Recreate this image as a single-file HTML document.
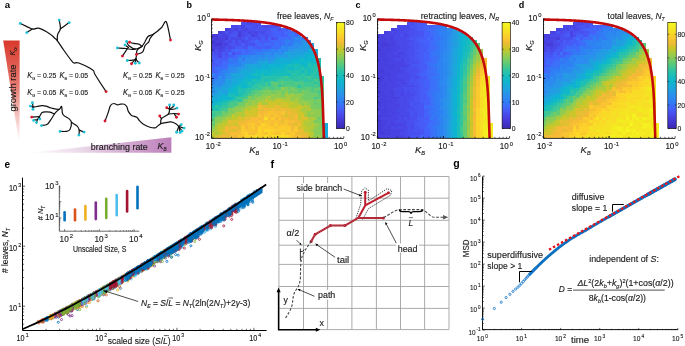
<!DOCTYPE html>
<html><head><meta charset="utf-8"><style>
html,body{margin:0;padding:0;background:#fff;}
svg{display:block;font-family:"Liberation Sans", sans-serif;will-change:transform;}
text{stroke:#1a1a1a;stroke-width:0.14px;}
text[font-weight=bold]{stroke:none;}
</style></head><body>
<svg width="685" height="346" viewBox="0 0 685 346">
<rect width="685" height="346" fill="#fff"/>
<path fill="#463bd9" shape-rendering="crispEdges" d="M211.60 33.88h3.60v3.27h-3.60zM211.60 39.83h3.60v3.27h-3.60zM214.91 33.88h3.60v3.27h-3.60zM214.91 36.85h3.60v3.27h-3.60zM224.82 27.93h3.60v3.27h-3.60zM224.82 36.85h3.60v3.27h-3.60zM238.04 33.88h3.60v3.27h-3.60z"/>
<path fill="#483fdf" shape-rendering="crispEdges" d="M211.60 36.85h3.60v3.27h-3.60zM211.60 42.80h3.60v3.27h-3.60zM211.60 45.78h3.60v3.27h-3.60zM211.60 48.75h3.60v3.27h-3.60zM214.91 39.83h3.60v3.27h-3.60zM218.21 30.90h3.60v3.27h-3.60zM218.21 36.85h3.60v3.27h-3.60zM218.21 39.83h3.60v3.27h-3.60zM218.21 45.78h3.60v3.27h-3.60zM224.82 42.80h3.60v3.27h-3.60zM234.73 27.93h3.60v3.27h-3.60zM238.04 30.90h3.60v3.27h-3.60z"/>
<path fill="#484fee" shape-rendering="crispEdges" d="M211.60 51.73h3.60v3.27h-3.60zM214.91 48.75h3.60v3.27h-3.60zM214.91 51.73h3.60v3.27h-3.60zM224.82 39.83h3.60v3.27h-3.60zM224.82 45.78h3.60v3.27h-3.60zM224.82 51.73h3.60v3.27h-3.60zM228.12 33.88h3.60v3.27h-3.60zM228.12 36.85h3.60v3.27h-3.60zM228.12 42.80h3.60v3.27h-3.60zM228.12 48.75h3.60v3.27h-3.60zM231.43 30.90h3.60v3.27h-3.60zM231.43 45.78h3.60v3.27h-3.60zM231.43 51.73h3.60v3.27h-3.60zM234.73 42.80h3.60v3.27h-3.60zM238.04 24.95h3.60v3.27h-3.60zM238.04 27.93h3.60v3.27h-3.60zM238.04 42.80h3.60v3.27h-3.60zM241.34 21.98h3.60v3.27h-3.60zM241.34 36.85h3.60v3.27h-3.60zM244.65 21.98h3.60v3.27h-3.60zM244.65 30.90h3.60v3.27h-3.60zM244.65 33.88h3.60v3.27h-3.60zM244.65 39.83h3.60v3.27h-3.60zM244.65 42.80h3.60v3.27h-3.60zM247.95 27.93h3.60v3.27h-3.60zM247.95 36.85h3.60v3.27h-3.60zM251.26 21.98h3.60v3.27h-3.60zM251.26 24.95h3.60v3.27h-3.60zM251.26 27.93h3.60v3.27h-3.60zM251.26 42.80h3.60v3.27h-3.60zM254.56 21.98h3.60v3.27h-3.60zM257.87 21.98h3.60v3.27h-3.60zM257.87 27.93h3.60v3.27h-3.60zM257.87 30.90h3.60v3.27h-3.60zM257.87 36.85h3.60v3.27h-3.60zM261.18 24.95h3.60v3.27h-3.60zM264.48 27.93h3.60v3.27h-3.60zM264.48 33.88h3.60v3.27h-3.60zM264.48 36.85h3.60v3.27h-3.60zM267.78 24.95h3.60v3.27h-3.60zM271.09 24.95h3.60v3.27h-3.60zM271.09 36.85h3.60v3.27h-3.60zM274.39 24.95h3.60v3.27h-3.60zM277.70 27.93h3.60v3.27h-3.60z"/>
<path fill="#4855f3" shape-rendering="crispEdges" d="M211.60 54.70h3.60v3.27h-3.60zM211.60 60.65h3.60v3.27h-3.60zM214.91 54.70h3.60v3.27h-3.60zM224.82 30.90h3.60v3.27h-3.60zM224.82 48.75h3.60v3.27h-3.60zM224.82 54.70h3.60v3.27h-3.60zM231.43 33.88h3.60v3.27h-3.60zM231.43 39.83h3.60v3.27h-3.60zM231.43 42.80h3.60v3.27h-3.60zM234.73 30.90h3.60v3.27h-3.60zM234.73 33.88h3.60v3.27h-3.60zM238.04 39.83h3.60v3.27h-3.60zM241.34 45.78h3.60v3.27h-3.60zM244.65 24.95h3.60v3.27h-3.60zM244.65 45.78h3.60v3.27h-3.60zM247.95 24.95h3.60v3.27h-3.60zM247.95 33.88h3.60v3.27h-3.60zM247.95 39.83h3.60v3.27h-3.60zM247.95 42.80h3.60v3.27h-3.60zM251.26 36.85h3.60v3.27h-3.60zM254.56 27.93h3.60v3.27h-3.60zM254.56 36.85h3.60v3.27h-3.60zM257.87 24.95h3.60v3.27h-3.60zM257.87 33.88h3.60v3.27h-3.60zM261.18 27.93h3.60v3.27h-3.60zM261.18 33.88h3.60v3.27h-3.60zM264.48 30.90h3.60v3.27h-3.60zM267.78 27.93h3.60v3.27h-3.60zM267.78 30.90h3.60v3.27h-3.60zM267.78 33.88h3.60v3.27h-3.60zM274.39 36.85h3.60v3.27h-3.60z"/>
<path fill="#475bf8" shape-rendering="crispEdges" d="M211.60 57.68h3.60v3.27h-3.60zM211.60 63.62h3.60v3.27h-3.60zM214.91 57.68h3.60v3.27h-3.60zM214.91 63.62h3.60v3.27h-3.60zM218.21 57.68h3.60v3.27h-3.60zM218.21 60.65h3.60v3.27h-3.60zM221.51 51.73h3.60v3.27h-3.60zM221.51 54.70h3.60v3.27h-3.60zM221.51 57.68h3.60v3.27h-3.60zM224.82 57.68h3.60v3.27h-3.60zM228.12 54.70h3.60v3.27h-3.60zM234.73 45.78h3.60v3.27h-3.60zM234.73 51.73h3.60v3.27h-3.60zM238.04 45.78h3.60v3.27h-3.60zM238.04 51.73h3.60v3.27h-3.60zM241.34 42.80h3.60v3.27h-3.60zM244.65 36.85h3.60v3.27h-3.60zM251.26 39.83h3.60v3.27h-3.60zM254.56 42.80h3.60v3.27h-3.60zM254.56 45.78h3.60v3.27h-3.60zM257.87 39.83h3.60v3.27h-3.60zM257.87 45.78h3.60v3.27h-3.60zM261.18 36.85h3.60v3.27h-3.60zM261.18 39.83h3.60v3.27h-3.60zM264.48 39.83h3.60v3.27h-3.60zM264.48 45.78h3.60v3.27h-3.60zM267.78 45.78h3.60v3.27h-3.60zM271.09 30.90h3.60v3.27h-3.60zM271.09 33.88h3.60v3.27h-3.60zM281.00 30.90h3.60v3.27h-3.60zM281.00 33.88h3.60v3.27h-3.60zM284.31 27.93h3.60v3.27h-3.60z"/>
<path fill="#4462fb" shape-rendering="crispEdges" d="M211.60 66.60h3.60v3.27h-3.60zM211.60 69.58h3.60v3.27h-3.60zM214.91 60.65h3.60v3.27h-3.60zM214.91 69.58h3.60v3.27h-3.60zM218.21 63.62h3.60v3.27h-3.60zM231.43 48.75h3.60v3.27h-3.60zM231.43 54.70h3.60v3.27h-3.60zM238.04 48.75h3.60v3.27h-3.60zM244.65 48.75h3.60v3.27h-3.60zM251.26 45.78h3.60v3.27h-3.60zM261.18 42.80h3.60v3.27h-3.60zM261.18 45.78h3.60v3.27h-3.60zM267.78 36.85h3.60v3.27h-3.60zM267.78 39.83h3.60v3.27h-3.60zM271.09 27.93h3.60v3.27h-3.60zM271.09 42.80h3.60v3.27h-3.60zM274.39 27.93h3.60v3.27h-3.60zM274.39 30.90h3.60v3.27h-3.60zM274.39 33.88h3.60v3.27h-3.60zM277.70 24.95h3.60v3.27h-3.60zM277.70 30.90h3.60v3.27h-3.60zM277.70 33.88h3.60v3.27h-3.60zM281.00 27.93h3.60v3.27h-3.60zM284.31 33.88h3.60v3.27h-3.60zM294.23 30.90h3.60v3.27h-3.60z"/>
<path fill="#307ff4" shape-rendering="crispEdges" d="M211.60 72.55h3.60v3.27h-3.60zM218.21 72.55h3.60v3.27h-3.60zM221.51 72.55h3.60v3.27h-3.60zM221.51 75.53h3.60v3.27h-3.60zM228.12 63.62h3.60v3.27h-3.60zM234.73 63.62h3.60v3.27h-3.60zM254.56 51.73h3.60v3.27h-3.60zM257.87 51.73h3.60v3.27h-3.60zM261.18 51.73h3.60v3.27h-3.60zM267.78 48.75h3.60v3.27h-3.60zM274.39 48.75h3.60v3.27h-3.60zM284.31 39.83h3.60v3.27h-3.60zM284.31 42.80h3.60v3.27h-3.60zM287.62 39.83h3.60v3.27h-3.60zM290.92 42.80h3.60v3.27h-3.60zM297.53 33.88h3.60v3.27h-3.60zM300.83 36.85h3.60v3.27h-3.60z"/>
<path fill="#3971f8" shape-rendering="crispEdges" d="M211.60 75.53h3.60v3.27h-3.60zM214.91 66.60h3.60v3.27h-3.60zM214.91 72.55h3.60v3.27h-3.60zM214.91 75.53h3.60v3.27h-3.60zM218.21 66.60h3.60v3.27h-3.60zM218.21 69.58h3.60v3.27h-3.60zM221.51 66.60h3.60v3.27h-3.60zM224.82 66.60h3.60v3.27h-3.60zM228.12 60.65h3.60v3.27h-3.60zM231.43 57.68h3.60v3.27h-3.60zM234.73 57.68h3.60v3.27h-3.60zM247.95 51.73h3.60v3.27h-3.60zM251.26 48.75h3.60v3.27h-3.60zM251.26 51.73h3.60v3.27h-3.60zM254.56 48.75h3.60v3.27h-3.60zM271.09 45.78h3.60v3.27h-3.60zM274.39 42.80h3.60v3.27h-3.60zM277.70 45.78h3.60v3.27h-3.60zM281.00 39.83h3.60v3.27h-3.60zM281.00 42.80h3.60v3.27h-3.60zM284.31 36.85h3.60v3.27h-3.60zM287.62 33.88h3.60v3.27h-3.60zM287.62 42.80h3.60v3.27h-3.60zM290.92 30.90h3.60v3.27h-3.60z"/>
<path fill="#3379f6" shape-rendering="crispEdges" d="M211.60 78.50h3.60v3.27h-3.60zM228.12 57.68h3.60v3.27h-3.60zM231.43 60.65h3.60v3.27h-3.60zM234.73 60.65h3.60v3.27h-3.60zM238.04 54.70h3.60v3.27h-3.60zM241.34 57.68h3.60v3.27h-3.60zM261.18 48.75h3.60v3.27h-3.60zM264.48 48.75h3.60v3.27h-3.60zM290.92 33.88h3.60v3.27h-3.60zM290.92 36.85h3.60v3.27h-3.60zM290.92 39.83h3.60v3.27h-3.60z"/>
<path fill="#2e83f2" shape-rendering="crispEdges" d="M211.60 81.47h3.60v3.27h-3.60zM221.51 69.58h3.60v3.27h-3.60zM224.82 69.58h3.60v3.27h-3.60zM231.43 63.62h3.60v3.27h-3.60zM238.04 60.65h3.60v3.27h-3.60zM238.04 63.62h3.60v3.27h-3.60zM241.34 54.70h3.60v3.27h-3.60zM244.65 54.70h3.60v3.27h-3.60zM247.95 54.70h3.60v3.27h-3.60zM271.09 48.75h3.60v3.27h-3.60zM271.09 51.73h3.60v3.27h-3.60zM281.00 48.75h3.60v3.27h-3.60zM284.31 45.78h3.60v3.27h-3.60zM294.23 39.83h3.60v3.27h-3.60zM297.53 39.83h3.60v3.27h-3.60z"/>
<path fill="#2a91eb" shape-rendering="crispEdges" d="M211.60 84.45h3.60v3.27h-3.60zM211.60 87.42h3.60v3.27h-3.60zM211.60 90.40h3.60v3.27h-3.60zM214.91 81.47h3.60v3.27h-3.60zM218.21 84.45h3.60v3.27h-3.60zM221.51 81.47h3.60v3.27h-3.60zM224.82 72.55h3.60v3.27h-3.60zM224.82 75.53h3.60v3.27h-3.60zM228.12 72.55h3.60v3.27h-3.60zM234.73 66.60h3.60v3.27h-3.60zM234.73 69.58h3.60v3.27h-3.60zM241.34 63.62h3.60v3.27h-3.60zM244.65 60.65h3.60v3.27h-3.60zM247.95 60.65h3.60v3.27h-3.60zM251.26 60.65h3.60v3.27h-3.60zM261.18 57.68h3.60v3.27h-3.60zM264.48 54.70h3.60v3.27h-3.60zM267.78 57.68h3.60v3.27h-3.60zM274.39 51.73h3.60v3.27h-3.60zM294.23 42.80h3.60v3.27h-3.60zM300.83 39.83h3.60v3.27h-3.60zM300.83 42.80h3.60v3.27h-3.60zM304.14 39.83h3.60v3.27h-3.60z"/>
<path fill="#249ce3" shape-rendering="crispEdges" d="M211.60 93.38h3.60v3.27h-3.60zM218.21 87.42h3.60v3.27h-3.60zM221.51 84.45h3.60v3.27h-3.60zM224.82 84.45h3.60v3.27h-3.60zM228.12 78.50h3.60v3.27h-3.60zM238.04 69.58h3.60v3.27h-3.60zM241.34 66.60h3.60v3.27h-3.60zM267.78 60.65h3.60v3.27h-3.60zM274.39 54.70h3.60v3.27h-3.60zM281.00 54.70h3.60v3.27h-3.60zM284.31 54.70h3.60v3.27h-3.60zM290.92 51.73h3.60v3.27h-3.60zM294.23 48.75h3.60v3.27h-3.60zM297.53 48.75h3.60v3.27h-3.60zM300.83 48.75h3.60v3.27h-3.60zM304.14 45.78h3.60v3.27h-3.60zM307.44 42.80h3.60v3.27h-3.60zM307.44 45.78h3.60v3.27h-3.60zM310.75 42.80h3.60v3.27h-3.60z"/>
<path fill="#18aad8" shape-rendering="crispEdges" d="M211.60 96.35h3.60v3.27h-3.60zM214.91 96.35h3.60v3.27h-3.60zM218.21 93.38h3.60v3.27h-3.60zM234.73 75.53h3.60v3.27h-3.60zM234.73 81.47h3.60v3.27h-3.60zM238.04 81.47h3.60v3.27h-3.60zM241.34 69.58h3.60v3.27h-3.60zM241.34 75.53h3.60v3.27h-3.60zM244.65 69.58h3.60v3.27h-3.60zM247.95 69.58h3.60v3.27h-3.60zM251.26 66.60h3.60v3.27h-3.60zM257.87 66.60h3.60v3.27h-3.60zM277.70 60.65h3.60v3.27h-3.60zM284.31 57.68h3.60v3.27h-3.60zM287.62 57.68h3.60v3.27h-3.60zM300.83 54.70h3.60v3.27h-3.60zM310.75 48.75h3.60v3.27h-3.60zM314.06 48.75h3.60v3.27h-3.60zM314.06 51.73h3.60v3.27h-3.60zM323.97 123.12h3.60v3.27h-3.60zM323.97 126.10h3.60v3.27h-3.60zM323.97 132.05h3.60v3.27h-3.60zM323.97 135.03h3.60v3.27h-3.60z"/>
<path fill="#13aed5" shape-rendering="crispEdges" d="M211.60 99.33h3.60v3.27h-3.60zM214.91 99.33h3.60v3.27h-3.60zM218.21 96.35h3.60v3.27h-3.60zM224.82 93.38h3.60v3.27h-3.60zM231.43 81.47h3.60v3.27h-3.60zM231.43 84.45h3.60v3.27h-3.60zM244.65 72.55h3.60v3.27h-3.60zM247.95 72.55h3.60v3.27h-3.60zM251.26 69.58h3.60v3.27h-3.60zM254.56 66.60h3.60v3.27h-3.60zM261.18 63.62h3.60v3.27h-3.60zM264.48 60.65h3.60v3.27h-3.60zM264.48 63.62h3.60v3.27h-3.60zM264.48 66.60h3.60v3.27h-3.60zM274.39 60.65h3.60v3.27h-3.60zM277.70 57.68h3.60v3.27h-3.60zM281.00 57.68h3.60v3.27h-3.60zM281.00 60.65h3.60v3.27h-3.60zM287.62 60.65h3.60v3.27h-3.60zM290.92 57.68h3.60v3.27h-3.60zM297.53 54.70h3.60v3.27h-3.60zM304.14 51.73h3.60v3.27h-3.60zM304.14 54.70h3.60v3.27h-3.60zM307.44 48.75h3.60v3.27h-3.60zM307.44 51.73h3.60v3.27h-3.60zM310.75 51.73h3.60v3.27h-3.60zM323.97 129.07h3.60v3.27h-3.60z"/>
<path fill="#0fb2d2" shape-rendering="crispEdges" d="M211.60 102.30h3.60v3.27h-3.60zM221.51 93.38h3.60v3.27h-3.60zM228.12 87.42h3.60v3.27h-3.60zM228.12 90.40h3.60v3.27h-3.60zM234.73 84.45h3.60v3.27h-3.60zM238.04 78.50h3.60v3.27h-3.60zM241.34 78.50h3.60v3.27h-3.60zM247.95 75.53h3.60v3.27h-3.60zM251.26 75.53h3.60v3.27h-3.60zM261.18 66.60h3.60v3.27h-3.60zM267.78 66.60h3.60v3.27h-3.60zM271.09 63.62h3.60v3.27h-3.60zM274.39 63.62h3.60v3.27h-3.60zM277.70 63.62h3.60v3.27h-3.60zM284.31 60.65h3.60v3.27h-3.60zM294.23 57.68h3.60v3.27h-3.60zM297.53 57.68h3.60v3.27h-3.60zM310.75 57.68h3.60v3.27h-3.60z"/>
<path fill="#14bac2" shape-rendering="crispEdges" d="M211.60 105.28h3.60v3.27h-3.60zM214.91 102.30h3.60v3.27h-3.60zM221.51 99.33h3.60v3.27h-3.60zM234.73 87.42h3.60v3.27h-3.60zM234.73 93.38h3.60v3.27h-3.60zM238.04 84.45h3.60v3.27h-3.60zM244.65 78.50h3.60v3.27h-3.60zM244.65 81.47h3.60v3.27h-3.60zM264.48 69.58h3.60v3.27h-3.60zM267.78 72.55h3.60v3.27h-3.60zM271.09 69.58h3.60v3.27h-3.60zM274.39 69.58h3.60v3.27h-3.60zM281.00 69.58h3.60v3.27h-3.60zM287.62 72.55h3.60v3.27h-3.60zM290.92 63.62h3.60v3.27h-3.60zM290.92 66.60h3.60v3.27h-3.60zM300.83 57.68h3.60v3.27h-3.60zM300.83 63.62h3.60v3.27h-3.60zM300.83 69.58h3.60v3.27h-3.60zM310.75 60.65h3.60v3.27h-3.60zM314.06 60.65h3.60v3.27h-3.60z"/>
<path fill="#25c1ad" shape-rendering="crispEdges" d="M211.60 108.25h3.60v3.27h-3.60zM218.21 105.28h3.60v3.27h-3.60zM221.51 102.30h3.60v3.27h-3.60zM228.12 99.33h3.60v3.27h-3.60zM238.04 90.40h3.60v3.27h-3.60zM244.65 87.42h3.60v3.27h-3.60zM247.95 81.47h3.60v3.27h-3.60zM251.26 78.50h3.60v3.27h-3.60zM254.56 81.47h3.60v3.27h-3.60zM261.18 75.53h3.60v3.27h-3.60zM261.18 78.50h3.60v3.27h-3.60zM264.48 75.53h3.60v3.27h-3.60zM267.78 75.53h3.60v3.27h-3.60zM267.78 78.50h3.60v3.27h-3.60zM271.09 75.53h3.60v3.27h-3.60zM271.09 78.50h3.60v3.27h-3.60zM274.39 75.53h3.60v3.27h-3.60zM277.70 75.53h3.60v3.27h-3.60zM287.62 69.58h3.60v3.27h-3.60zM290.92 75.53h3.60v3.27h-3.60zM294.23 69.58h3.60v3.27h-3.60zM294.23 72.55h3.60v3.27h-3.60zM297.53 69.58h3.60v3.27h-3.60zM300.83 66.60h3.60v3.27h-3.60zM304.14 69.58h3.60v3.27h-3.60zM304.14 72.55h3.60v3.27h-3.60zM307.44 63.62h3.60v3.27h-3.60zM310.75 66.60h3.60v3.27h-3.60zM314.06 63.62h3.60v3.27h-3.60zM314.06 66.60h3.60v3.27h-3.60zM314.06 72.55h3.60v3.27h-3.60zM317.36 75.53h3.60v3.27h-3.60z"/>
<path fill="#3fc794" shape-rendering="crispEdges" d="M211.60 111.23h3.60v3.27h-3.60zM221.51 108.25h3.60v3.27h-3.60zM228.12 102.30h3.60v3.27h-3.60zM234.73 99.33h3.60v3.27h-3.60zM238.04 96.35h3.60v3.27h-3.60zM241.34 96.35h3.60v3.27h-3.60zM254.56 87.42h3.60v3.27h-3.60zM257.87 84.45h3.60v3.27h-3.60zM264.48 81.47h3.60v3.27h-3.60zM264.48 84.45h3.60v3.27h-3.60zM277.70 78.50h3.60v3.27h-3.60zM281.00 78.50h3.60v3.27h-3.60zM284.31 75.53h3.60v3.27h-3.60zM287.62 78.50h3.60v3.27h-3.60zM304.14 81.47h3.60v3.27h-3.60zM304.14 84.45h3.60v3.27h-3.60zM307.44 75.53h3.60v3.27h-3.60zM307.44 81.47h3.60v3.27h-3.60zM307.44 84.45h3.60v3.27h-3.60zM310.75 81.47h3.60v3.27h-3.60zM310.75 84.45h3.60v3.27h-3.60zM314.06 96.35h3.60v3.27h-3.60zM317.36 81.47h3.60v3.27h-3.60zM320.67 81.47h3.60v3.27h-3.60zM320.67 87.42h3.60v3.27h-3.60z"/>
<path fill="#34c59e" shape-rendering="crispEdges" d="M211.60 114.20h3.60v3.27h-3.60zM218.21 108.25h3.60v3.27h-3.60zM221.51 105.28h3.60v3.27h-3.60zM224.82 105.28h3.60v3.27h-3.60zM231.43 99.33h3.60v3.27h-3.60zM244.65 93.38h3.60v3.27h-3.60zM257.87 87.42h3.60v3.27h-3.60zM261.18 84.45h3.60v3.27h-3.60zM267.78 84.45h3.60v3.27h-3.60zM277.70 84.45h3.60v3.27h-3.60zM281.00 75.53h3.60v3.27h-3.60zM284.31 78.50h3.60v3.27h-3.60zM290.92 78.50h3.60v3.27h-3.60zM297.53 75.53h3.60v3.27h-3.60zM300.83 78.50h3.60v3.27h-3.60zM304.14 75.53h3.60v3.27h-3.60zM307.44 78.50h3.60v3.27h-3.60zM310.75 78.50h3.60v3.27h-3.60zM317.36 66.60h3.60v3.27h-3.60zM317.36 78.50h3.60v3.27h-3.60zM317.36 84.45h3.60v3.27h-3.60z"/>
<path fill="#57ca7d" shape-rendering="crispEdges" d="M211.60 117.17h3.60v3.27h-3.60zM214.91 114.20h3.60v3.27h-3.60zM231.43 105.28h3.60v3.27h-3.60zM254.56 90.40h3.60v3.27h-3.60zM267.78 87.42h3.60v3.27h-3.60zM271.09 81.47h3.60v3.27h-3.60zM271.09 84.45h3.60v3.27h-3.60zM274.39 84.45h3.60v3.27h-3.60zM277.70 87.42h3.60v3.27h-3.60zM281.00 81.47h3.60v3.27h-3.60zM284.31 84.45h3.60v3.27h-3.60zM287.62 84.45h3.60v3.27h-3.60zM294.23 81.47h3.60v3.27h-3.60zM297.53 87.42h3.60v3.27h-3.60zM297.53 90.40h3.60v3.27h-3.60zM300.83 87.42h3.60v3.27h-3.60zM304.14 87.42h3.60v3.27h-3.60zM310.75 90.40h3.60v3.27h-3.60zM314.06 90.40h3.60v3.27h-3.60zM317.36 93.38h3.60v3.27h-3.60zM317.36 96.35h3.60v3.27h-3.60zM320.67 84.45h3.60v3.27h-3.60zM320.67 93.38h3.60v3.27h-3.60zM320.67 99.33h3.60v3.27h-3.60zM320.67 102.30h3.60v3.27h-3.60zM320.67 111.23h3.60v3.27h-3.60z"/>
<path fill="#64cb72" shape-rendering="crispEdges" d="M211.60 120.15h3.60v3.27h-3.60zM211.60 123.12h3.60v3.27h-3.60zM218.21 114.20h3.60v3.27h-3.60zM224.82 111.23h3.60v3.27h-3.60zM241.34 99.33h3.60v3.27h-3.60zM251.26 93.38h3.60v3.27h-3.60zM257.87 90.40h3.60v3.27h-3.60zM257.87 93.38h3.60v3.27h-3.60zM264.48 87.42h3.60v3.27h-3.60zM274.39 81.47h3.60v3.27h-3.60zM274.39 87.42h3.60v3.27h-3.60zM287.62 87.42h3.60v3.27h-3.60zM290.92 90.40h3.60v3.27h-3.60zM294.23 87.42h3.60v3.27h-3.60zM307.44 87.42h3.60v3.27h-3.60zM307.44 90.40h3.60v3.27h-3.60zM314.06 87.42h3.60v3.27h-3.60zM314.06 102.30h3.60v3.27h-3.60zM317.36 87.42h3.60v3.27h-3.60zM320.67 90.40h3.60v3.27h-3.60zM320.67 96.35h3.60v3.27h-3.60zM320.67 123.12h3.60v3.27h-3.60z"/>
<path fill="#86cc59" shape-rendering="crispEdges" d="M211.60 126.10h3.60v3.27h-3.60zM214.91 117.17h3.60v3.27h-3.60zM214.91 120.15h3.60v3.27h-3.60zM218.21 117.17h3.60v3.27h-3.60zM224.82 114.20h3.60v3.27h-3.60zM228.12 111.23h3.60v3.27h-3.60zM231.43 108.25h3.60v3.27h-3.60zM231.43 111.23h3.60v3.27h-3.60zM234.73 105.28h3.60v3.27h-3.60zM238.04 105.28h3.60v3.27h-3.60zM257.87 96.35h3.60v3.27h-3.60zM261.18 93.38h3.60v3.27h-3.60zM264.48 93.38h3.60v3.27h-3.60zM267.78 90.40h3.60v3.27h-3.60zM267.78 93.38h3.60v3.27h-3.60zM277.70 90.40h3.60v3.27h-3.60zM300.83 93.38h3.60v3.27h-3.60zM304.14 99.33h3.60v3.27h-3.60zM307.44 99.33h3.60v3.27h-3.60zM307.44 102.30h3.60v3.27h-3.60zM314.06 108.25h3.60v3.27h-3.60zM314.06 114.20h3.60v3.27h-3.60zM314.06 129.07h3.60v3.27h-3.60zM314.06 132.05h3.60v3.27h-3.60zM317.36 123.12h3.60v3.27h-3.60zM317.36 126.10h3.60v3.27h-3.60zM317.36 129.07h3.60v3.27h-3.60zM317.36 132.05h3.60v3.27h-3.60zM320.67 129.07h3.60v3.27h-3.60z"/>
<path fill="#9ecb48" shape-rendering="crispEdges" d="M211.60 129.07h3.60v3.27h-3.60zM214.91 123.12h3.60v3.27h-3.60zM244.65 102.30h3.60v3.27h-3.60zM244.65 105.28h3.60v3.27h-3.60zM251.26 99.33h3.60v3.27h-3.60zM251.26 102.30h3.60v3.27h-3.60zM254.56 102.30h3.60v3.27h-3.60zM257.87 99.33h3.60v3.27h-3.60zM264.48 96.35h3.60v3.27h-3.60zM271.09 93.38h3.60v3.27h-3.60zM274.39 96.35h3.60v3.27h-3.60zM277.70 96.35h3.60v3.27h-3.60zM281.00 96.35h3.60v3.27h-3.60zM284.31 96.35h3.60v3.27h-3.60zM287.62 93.38h3.60v3.27h-3.60zM290.92 93.38h3.60v3.27h-3.60zM290.92 99.33h3.60v3.27h-3.60zM294.23 96.35h3.60v3.27h-3.60zM304.14 102.30h3.60v3.27h-3.60zM307.44 105.28h3.60v3.27h-3.60zM307.44 123.12h3.60v3.27h-3.60zM310.75 111.23h3.60v3.27h-3.60zM310.75 120.15h3.60v3.27h-3.60zM310.75 129.07h3.60v3.27h-3.60zM314.06 117.17h3.60v3.27h-3.60zM314.06 123.12h3.60v3.27h-3.60zM317.36 135.03h3.60v3.27h-3.60z"/>
<path fill="#c4c82b" shape-rendering="crispEdges" d="M211.60 132.05h3.60v3.27h-3.60zM218.21 126.10h3.60v3.27h-3.60zM218.21 132.05h3.60v3.27h-3.60zM221.51 123.12h3.60v3.27h-3.60zM221.51 126.10h3.60v3.27h-3.60zM224.82 123.12h3.60v3.27h-3.60zM231.43 114.20h3.60v3.27h-3.60zM231.43 117.17h3.60v3.27h-3.60zM234.73 117.17h3.60v3.27h-3.60zM234.73 123.12h3.60v3.27h-3.60zM238.04 114.20h3.60v3.27h-3.60zM244.65 108.25h3.60v3.27h-3.60zM264.48 99.33h3.60v3.27h-3.60zM274.39 99.33h3.60v3.27h-3.60zM287.62 102.30h3.60v3.27h-3.60zM287.62 105.28h3.60v3.27h-3.60zM290.92 102.30h3.60v3.27h-3.60zM294.23 105.28h3.60v3.27h-3.60zM297.53 108.25h3.60v3.27h-3.60zM297.53 114.20h3.60v3.27h-3.60zM297.53 117.17h3.60v3.27h-3.60zM300.83 105.28h3.60v3.27h-3.60zM300.83 111.23h3.60v3.27h-3.60zM300.83 123.12h3.60v3.27h-3.60zM304.14 126.10h3.60v3.27h-3.60zM307.44 132.05h3.60v3.27h-3.60z"/>
<path fill="#b7c935" shape-rendering="crispEdges" d="M211.60 135.03h3.60v3.27h-3.60zM214.91 126.10h3.60v3.27h-3.60zM214.91 129.07h3.60v3.27h-3.60zM218.21 123.12h3.60v3.27h-3.60zM224.82 120.15h3.60v3.27h-3.60zM228.12 117.17h3.60v3.27h-3.60zM238.04 111.23h3.60v3.27h-3.60zM241.34 111.23h3.60v3.27h-3.60zM247.95 105.28h3.60v3.27h-3.60zM247.95 108.25h3.60v3.27h-3.60zM251.26 105.28h3.60v3.27h-3.60zM254.56 105.28h3.60v3.27h-3.60zM261.18 102.30h3.60v3.27h-3.60zM267.78 99.33h3.60v3.27h-3.60zM271.09 99.33h3.60v3.27h-3.60zM277.70 102.30h3.60v3.27h-3.60zM281.00 99.33h3.60v3.27h-3.60zM284.31 99.33h3.60v3.27h-3.60zM287.62 99.33h3.60v3.27h-3.60zM290.92 105.28h3.60v3.27h-3.60zM294.23 102.30h3.60v3.27h-3.60zM304.14 105.28h3.60v3.27h-3.60zM304.14 120.15h3.60v3.27h-3.60zM304.14 123.12h3.60v3.27h-3.60zM304.14 129.07h3.60v3.27h-3.60zM307.44 108.25h3.60v3.27h-3.60zM307.44 120.15h3.60v3.27h-3.60zM307.44 126.10h3.60v3.27h-3.60zM307.44 129.07h3.60v3.27h-3.60zM310.75 117.17h3.60v3.27h-3.60zM310.75 123.12h3.60v3.27h-3.60zM310.75 126.10h3.60v3.27h-3.60zM310.75 132.05h3.60v3.27h-3.60z"/>
<path fill="#4437d4" shape-rendering="crispEdges" d="M214.91 42.80h3.60v3.27h-3.60zM218.21 42.80h3.60v3.27h-3.60z"/>
<path fill="#4943e4" shape-rendering="crispEdges" d="M214.91 45.78h3.60v3.27h-3.60zM218.21 48.75h3.60v3.27h-3.60zM221.51 30.90h3.60v3.27h-3.60zM221.51 33.88h3.60v3.27h-3.60zM221.51 36.85h3.60v3.27h-3.60zM221.51 39.83h3.60v3.27h-3.60zM221.51 42.80h3.60v3.27h-3.60zM221.51 45.78h3.60v3.27h-3.60zM224.82 33.88h3.60v3.27h-3.60zM228.12 27.93h3.60v3.27h-3.60zM241.34 24.95h3.60v3.27h-3.60zM244.65 27.93h3.60v3.27h-3.60zM247.95 30.90h3.60v3.27h-3.60zM251.26 33.88h3.60v3.27h-3.60zM254.56 30.90h3.60v3.27h-3.60z"/>
<path fill="#2d88f0" shape-rendering="crispEdges" d="M214.91 78.50h3.60v3.27h-3.60zM218.21 81.47h3.60v3.27h-3.60zM221.51 78.50h3.60v3.27h-3.60zM228.12 66.60h3.60v3.27h-3.60zM228.12 69.58h3.60v3.27h-3.60zM231.43 66.60h3.60v3.27h-3.60zM238.04 57.68h3.60v3.27h-3.60zM251.26 57.68h3.60v3.27h-3.60zM254.56 54.70h3.60v3.27h-3.60zM261.18 54.70h3.60v3.27h-3.60zM264.48 51.73h3.60v3.27h-3.60zM284.31 48.75h3.60v3.27h-3.60zM294.23 36.85h3.60v3.27h-3.60zM297.53 36.85h3.60v3.27h-3.60zM297.53 42.80h3.60v3.27h-3.60zM304.14 36.85h3.60v3.27h-3.60zM307.44 39.83h3.60v3.27h-3.60z"/>
<path fill="#2c8cef" shape-rendering="crispEdges" d="M214.91 84.45h3.60v3.27h-3.60zM218.21 75.53h3.60v3.27h-3.60zM218.21 78.50h3.60v3.27h-3.60zM231.43 69.58h3.60v3.27h-3.60zM241.34 60.65h3.60v3.27h-3.60zM244.65 57.68h3.60v3.27h-3.60zM247.95 57.68h3.60v3.27h-3.60zM251.26 54.70h3.60v3.27h-3.60zM254.56 57.68h3.60v3.27h-3.60zM257.87 54.70h3.60v3.27h-3.60zM267.78 51.73h3.60v3.27h-3.60zM267.78 54.70h3.60v3.27h-3.60zM271.09 54.70h3.60v3.27h-3.60zM277.70 48.75h3.60v3.27h-3.60zM277.70 51.73h3.60v3.27h-3.60zM281.00 45.78h3.60v3.27h-3.60zM281.00 51.73h3.60v3.27h-3.60zM287.62 45.78h3.60v3.27h-3.60zM290.92 45.78h3.60v3.27h-3.60zM294.23 45.78h3.60v3.27h-3.60z"/>
<path fill="#20a1df" shape-rendering="crispEdges" d="M214.91 87.42h3.60v3.27h-3.60zM221.51 90.40h3.60v3.27h-3.60zM224.82 78.50h3.60v3.27h-3.60zM224.82 81.47h3.60v3.27h-3.60zM224.82 90.40h3.60v3.27h-3.60zM228.12 81.47h3.60v3.27h-3.60zM231.43 75.53h3.60v3.27h-3.60zM244.65 63.62h3.60v3.27h-3.60zM244.65 66.60h3.60v3.27h-3.60zM257.87 60.65h3.60v3.27h-3.60zM257.87 63.62h3.60v3.27h-3.60zM274.39 57.68h3.60v3.27h-3.60zM284.31 51.73h3.60v3.27h-3.60zM294.23 51.73h3.60v3.27h-3.60zM297.53 51.73h3.60v3.27h-3.60zM300.83 51.73h3.60v3.27h-3.60z"/>
<path fill="#2797e7" shape-rendering="crispEdges" d="M214.91 90.40h3.60v3.27h-3.60zM228.12 75.53h3.60v3.27h-3.60zM238.04 66.60h3.60v3.27h-3.60zM254.56 60.65h3.60v3.27h-3.60zM257.87 57.68h3.60v3.27h-3.60zM264.48 57.68h3.60v3.27h-3.60zM271.09 57.68h3.60v3.27h-3.60zM277.70 54.70h3.60v3.27h-3.60zM287.62 48.75h3.60v3.27h-3.60zM290.92 48.75h3.60v3.27h-3.60zM297.53 45.78h3.60v3.27h-3.60zM300.83 45.78h3.60v3.27h-3.60zM304.14 42.80h3.60v3.27h-3.60zM304.14 48.75h3.60v3.27h-3.60z"/>
<path fill="#1da6db" shape-rendering="crispEdges" d="M214.91 93.38h3.60v3.27h-3.60zM218.21 90.40h3.60v3.27h-3.60zM221.51 87.42h3.60v3.27h-3.60zM224.82 87.42h3.60v3.27h-3.60zM228.12 84.45h3.60v3.27h-3.60zM231.43 72.55h3.60v3.27h-3.60zM231.43 78.50h3.60v3.27h-3.60zM234.73 72.55h3.60v3.27h-3.60zM234.73 78.50h3.60v3.27h-3.60zM238.04 72.55h3.60v3.27h-3.60zM238.04 75.53h3.60v3.27h-3.60zM241.34 72.55h3.60v3.27h-3.60zM247.95 63.62h3.60v3.27h-3.60zM247.95 66.60h3.60v3.27h-3.60zM251.26 63.62h3.60v3.27h-3.60zM254.56 63.62h3.60v3.27h-3.60zM261.18 60.65h3.60v3.27h-3.60zM271.09 60.65h3.60v3.27h-3.60zM287.62 51.73h3.60v3.27h-3.60zM287.62 54.70h3.60v3.27h-3.60zM290.92 54.70h3.60v3.27h-3.60zM294.23 54.70h3.60v3.27h-3.60zM310.75 45.78h3.60v3.27h-3.60z"/>
<path fill="#2cc3a6" shape-rendering="crispEdges" d="M214.91 105.28h3.60v3.27h-3.60zM224.82 102.30h3.60v3.27h-3.60zM234.73 96.35h3.60v3.27h-3.60zM238.04 99.33h3.60v3.27h-3.60zM241.34 93.38h3.60v3.27h-3.60zM244.65 90.40h3.60v3.27h-3.60zM247.95 87.42h3.60v3.27h-3.60zM247.95 90.40h3.60v3.27h-3.60zM251.26 84.45h3.60v3.27h-3.60zM251.26 87.42h3.60v3.27h-3.60zM254.56 84.45h3.60v3.27h-3.60zM257.87 81.47h3.60v3.27h-3.60zM261.18 81.47h3.60v3.27h-3.60zM267.78 81.47h3.60v3.27h-3.60zM274.39 78.50h3.60v3.27h-3.60zM287.62 75.53h3.60v3.27h-3.60zM290.92 72.55h3.60v3.27h-3.60zM294.23 75.53h3.60v3.27h-3.60zM294.23 78.50h3.60v3.27h-3.60zM297.53 78.50h3.60v3.27h-3.60zM297.53 84.45h3.60v3.27h-3.60zM300.83 72.55h3.60v3.27h-3.60zM300.83 75.53h3.60v3.27h-3.60zM304.14 78.50h3.60v3.27h-3.60zM310.75 72.55h3.60v3.27h-3.60zM310.75 75.53h3.60v3.27h-3.60zM314.06 69.58h3.60v3.27h-3.60zM314.06 75.53h3.60v3.27h-3.60zM314.06 81.47h3.60v3.27h-3.60zM320.67 75.53h3.60v3.27h-3.60zM320.67 78.50h3.60v3.27h-3.60z"/>
<path fill="#1dbfb5" shape-rendering="crispEdges" d="M214.91 108.25h3.60v3.27h-3.60zM224.82 99.33h3.60v3.27h-3.60zM231.43 93.38h3.60v3.27h-3.60zM238.04 87.42h3.60v3.27h-3.60zM238.04 93.38h3.60v3.27h-3.60zM241.34 87.42h3.60v3.27h-3.60zM241.34 90.40h3.60v3.27h-3.60zM257.87 78.50h3.60v3.27h-3.60zM264.48 78.50h3.60v3.27h-3.60zM290.92 69.58h3.60v3.27h-3.60zM294.23 63.62h3.60v3.27h-3.60zM297.53 72.55h3.60v3.27h-3.60zM307.44 72.55h3.60v3.27h-3.60zM310.75 69.58h3.60v3.27h-3.60zM317.36 57.68h3.60v3.27h-3.60zM317.36 72.55h3.60v3.27h-3.60z"/>
<path fill="#4bc888" shape-rendering="crispEdges" d="M214.91 111.23h3.60v3.27h-3.60zM218.21 111.23h3.60v3.27h-3.60zM224.82 108.25h3.60v3.27h-3.60zM228.12 105.28h3.60v3.27h-3.60zM231.43 102.30h3.60v3.27h-3.60zM234.73 102.30h3.60v3.27h-3.60zM244.65 96.35h3.60v3.27h-3.60zM247.95 93.38h3.60v3.27h-3.60zM251.26 90.40h3.60v3.27h-3.60zM261.18 87.42h3.60v3.27h-3.60zM271.09 87.42h3.60v3.27h-3.60zM277.70 81.47h3.60v3.27h-3.60zM281.00 84.45h3.60v3.27h-3.60zM284.31 81.47h3.60v3.27h-3.60zM287.62 81.47h3.60v3.27h-3.60zM290.92 81.47h3.60v3.27h-3.60zM290.92 84.45h3.60v3.27h-3.60zM294.23 84.45h3.60v3.27h-3.60zM297.53 81.47h3.60v3.27h-3.60zM300.83 81.47h3.60v3.27h-3.60zM300.83 84.45h3.60v3.27h-3.60zM310.75 87.42h3.60v3.27h-3.60zM314.06 78.50h3.60v3.27h-3.60zM314.06 84.45h3.60v3.27h-3.60zM317.36 90.40h3.60v3.27h-3.60z"/>
<path fill="#abca3e" shape-rendering="crispEdges" d="M214.91 132.05h3.60v3.27h-3.60zM221.51 120.15h3.60v3.27h-3.60zM224.82 117.17h3.60v3.27h-3.60zM234.73 111.23h3.60v3.27h-3.60zM234.73 114.20h3.60v3.27h-3.60zM241.34 108.25h3.60v3.27h-3.60zM241.34 114.20h3.60v3.27h-3.60zM261.18 99.33h3.60v3.27h-3.60zM264.48 102.30h3.60v3.27h-3.60zM267.78 96.35h3.60v3.27h-3.60zM284.31 93.38h3.60v3.27h-3.60zM287.62 96.35h3.60v3.27h-3.60zM294.23 99.33h3.60v3.27h-3.60zM297.53 102.30h3.60v3.27h-3.60zM300.83 108.25h3.60v3.27h-3.60zM304.14 108.25h3.60v3.27h-3.60zM304.14 111.23h3.60v3.27h-3.60zM304.14 114.20h3.60v3.27h-3.60zM307.44 117.17h3.60v3.27h-3.60zM310.75 135.03h3.60v3.27h-3.60z"/>
<path fill="#dcc12f" shape-rendering="crispEdges" d="M214.91 135.03h3.60v3.27h-3.60zM221.51 129.07h3.60v3.27h-3.60zM221.51 132.05h3.60v3.27h-3.60zM228.12 123.12h3.60v3.27h-3.60zM231.43 120.15h3.60v3.27h-3.60zM231.43 123.12h3.60v3.27h-3.60zM231.43 129.07h3.60v3.27h-3.60zM234.73 120.15h3.60v3.27h-3.60zM238.04 117.17h3.60v3.27h-3.60zM238.04 126.10h3.60v3.27h-3.60zM241.34 117.17h3.60v3.27h-3.60zM244.65 111.23h3.60v3.27h-3.60zM247.95 114.20h3.60v3.27h-3.60zM251.26 114.20h3.60v3.27h-3.60zM254.56 111.23h3.60v3.27h-3.60zM254.56 114.20h3.60v3.27h-3.60zM264.48 105.28h3.60v3.27h-3.60zM267.78 105.28h3.60v3.27h-3.60zM281.00 102.30h3.60v3.27h-3.60zM284.31 105.28h3.60v3.27h-3.60zM290.92 108.25h3.60v3.27h-3.60zM290.92 114.20h3.60v3.27h-3.60zM294.23 108.25h3.60v3.27h-3.60zM294.23 111.23h3.60v3.27h-3.60zM294.23 123.12h3.60v3.27h-3.60zM297.53 126.10h3.60v3.27h-3.60zM300.83 114.20h3.60v3.27h-3.60zM300.83 117.17h3.60v3.27h-3.60zM304.14 117.17h3.60v3.27h-3.60z"/>
<path fill="#4948e9" shape-rendering="crispEdges" d="M218.21 33.88h3.60v3.27h-3.60zM218.21 51.73h3.60v3.27h-3.60zM218.21 54.70h3.60v3.27h-3.60zM221.51 48.75h3.60v3.27h-3.60zM228.12 30.90h3.60v3.27h-3.60zM228.12 39.83h3.60v3.27h-3.60zM228.12 45.78h3.60v3.27h-3.60zM231.43 24.95h3.60v3.27h-3.60zM231.43 27.93h3.60v3.27h-3.60zM231.43 36.85h3.60v3.27h-3.60zM234.73 24.95h3.60v3.27h-3.60zM234.73 36.85h3.60v3.27h-3.60zM234.73 39.83h3.60v3.27h-3.60zM238.04 36.85h3.60v3.27h-3.60zM241.34 27.93h3.60v3.27h-3.60zM241.34 30.90h3.60v3.27h-3.60zM241.34 33.88h3.60v3.27h-3.60zM241.34 39.83h3.60v3.27h-3.60zM247.95 21.98h3.60v3.27h-3.60zM251.26 30.90h3.60v3.27h-3.60zM254.56 24.95h3.60v3.27h-3.60zM254.56 33.88h3.60v3.27h-3.60zM261.18 30.90h3.60v3.27h-3.60zM264.48 24.95h3.60v3.27h-3.60z"/>
<path fill="#0db5ce" shape-rendering="crispEdges" d="M218.21 99.33h3.60v3.27h-3.60zM221.51 96.35h3.60v3.27h-3.60zM224.82 96.35h3.60v3.27h-3.60zM228.12 96.35h3.60v3.27h-3.60zM231.43 87.42h3.60v3.27h-3.60zM241.34 84.45h3.60v3.27h-3.60zM244.65 75.53h3.60v3.27h-3.60zM257.87 69.58h3.60v3.27h-3.60zM267.78 63.62h3.60v3.27h-3.60zM267.78 69.58h3.60v3.27h-3.60zM281.00 63.62h3.60v3.27h-3.60zM300.83 60.65h3.60v3.27h-3.60zM304.14 57.68h3.60v3.27h-3.60zM307.44 54.70h3.60v3.27h-3.60zM307.44 57.68h3.60v3.27h-3.60zM310.75 54.70h3.60v3.27h-3.60zM314.06 54.70h3.60v3.27h-3.60z"/>
<path fill="#18bdbc" shape-rendering="crispEdges" d="M218.21 102.30h3.60v3.27h-3.60zM228.12 93.38h3.60v3.27h-3.60zM231.43 96.35h3.60v3.27h-3.60zM247.95 84.45h3.60v3.27h-3.60zM251.26 81.47h3.60v3.27h-3.60zM254.56 72.55h3.60v3.27h-3.60zM254.56 78.50h3.60v3.27h-3.60zM261.18 72.55h3.60v3.27h-3.60zM271.09 72.55h3.60v3.27h-3.60zM274.39 72.55h3.60v3.27h-3.60zM277.70 69.58h3.60v3.27h-3.60zM277.70 72.55h3.60v3.27h-3.60zM281.00 72.55h3.60v3.27h-3.60zM284.31 66.60h3.60v3.27h-3.60zM284.31 69.58h3.60v3.27h-3.60zM284.31 72.55h3.60v3.27h-3.60zM287.62 63.62h3.60v3.27h-3.60zM294.23 66.60h3.60v3.27h-3.60zM297.53 63.62h3.60v3.27h-3.60zM297.53 66.60h3.60v3.27h-3.60zM304.14 66.60h3.60v3.27h-3.60zM307.44 60.65h3.60v3.27h-3.60zM307.44 66.60h3.60v3.27h-3.60zM307.44 69.58h3.60v3.27h-3.60zM310.75 63.62h3.60v3.27h-3.60zM314.06 57.68h3.60v3.27h-3.60zM317.36 60.65h3.60v3.27h-3.60zM317.36 63.62h3.60v3.27h-3.60zM317.36 69.58h3.60v3.27h-3.60z"/>
<path fill="#91cc51" shape-rendering="crispEdges" d="M218.21 120.15h3.60v3.27h-3.60zM221.51 117.17h3.60v3.27h-3.60zM228.12 114.20h3.60v3.27h-3.60zM234.73 108.25h3.60v3.27h-3.60zM238.04 108.25h3.60v3.27h-3.60zM241.34 105.28h3.60v3.27h-3.60zM247.95 99.33h3.60v3.27h-3.60zM247.95 102.30h3.60v3.27h-3.60zM254.56 96.35h3.60v3.27h-3.60zM254.56 99.33h3.60v3.27h-3.60zM261.18 96.35h3.60v3.27h-3.60zM271.09 96.35h3.60v3.27h-3.60zM274.39 93.38h3.60v3.27h-3.60zM277.70 93.38h3.60v3.27h-3.60zM281.00 87.42h3.60v3.27h-3.60zM284.31 90.40h3.60v3.27h-3.60zM290.92 96.35h3.60v3.27h-3.60zM294.23 93.38h3.60v3.27h-3.60zM297.53 93.38h3.60v3.27h-3.60zM297.53 96.35h3.60v3.27h-3.60zM297.53 99.33h3.60v3.27h-3.60zM300.83 99.33h3.60v3.27h-3.60zM300.83 102.30h3.60v3.27h-3.60zM307.44 111.23h3.60v3.27h-3.60zM307.44 114.20h3.60v3.27h-3.60zM310.75 108.25h3.60v3.27h-3.60zM310.75 114.20h3.60v3.27h-3.60zM314.06 111.23h3.60v3.27h-3.60zM314.06 126.10h3.60v3.27h-3.60zM314.06 135.03h3.60v3.27h-3.60zM317.36 108.25h3.60v3.27h-3.60zM317.36 111.23h3.60v3.27h-3.60zM317.36 114.20h3.60v3.27h-3.60zM320.67 132.05h3.60v3.27h-3.60z"/>
<path fill="#d0c52b" shape-rendering="crispEdges" d="M218.21 129.07h3.60v3.27h-3.60zM244.65 114.20h3.60v3.27h-3.60zM247.95 111.23h3.60v3.27h-3.60zM251.26 108.25h3.60v3.27h-3.60zM251.26 111.23h3.60v3.27h-3.60zM254.56 108.25h3.60v3.27h-3.60zM257.87 102.30h3.60v3.27h-3.60zM267.78 102.30h3.60v3.27h-3.60zM271.09 102.30h3.60v3.27h-3.60zM271.09 105.28h3.60v3.27h-3.60zM274.39 102.30h3.60v3.27h-3.60zM277.70 99.33h3.60v3.27h-3.60zM281.00 105.28h3.60v3.27h-3.60zM284.31 102.30h3.60v3.27h-3.60zM284.31 114.20h3.60v3.27h-3.60zM297.53 105.28h3.60v3.27h-3.60zM297.53 111.23h3.60v3.27h-3.60zM300.83 120.15h3.60v3.27h-3.60zM300.83 126.10h3.60v3.27h-3.60zM307.44 135.03h3.60v3.27h-3.60z"/>
<path fill="#e7bd33" shape-rendering="crispEdges" d="M218.21 135.03h3.60v3.27h-3.60zM224.82 132.05h3.60v3.27h-3.60zM224.82 135.03h3.60v3.27h-3.60zM228.12 120.15h3.60v3.27h-3.60zM228.12 126.10h3.60v3.27h-3.60zM228.12 129.07h3.60v3.27h-3.60zM228.12 135.03h3.60v3.27h-3.60zM234.73 129.07h3.60v3.27h-3.60zM238.04 120.15h3.60v3.27h-3.60zM241.34 120.15h3.60v3.27h-3.60zM244.65 117.17h3.60v3.27h-3.60zM247.95 117.17h3.60v3.27h-3.60zM257.87 108.25h3.60v3.27h-3.60zM261.18 105.28h3.60v3.27h-3.60zM261.18 108.25h3.60v3.27h-3.60zM267.78 108.25h3.60v3.27h-3.60zM274.39 105.28h3.60v3.27h-3.60zM274.39 108.25h3.60v3.27h-3.60zM277.70 105.28h3.60v3.27h-3.60zM277.70 108.25h3.60v3.27h-3.60zM281.00 114.20h3.60v3.27h-3.60zM281.00 120.15h3.60v3.27h-3.60zM284.31 108.25h3.60v3.27h-3.60zM284.31 111.23h3.60v3.27h-3.60zM287.62 108.25h3.60v3.27h-3.60zM287.62 114.20h3.60v3.27h-3.60zM290.92 111.23h3.60v3.27h-3.60zM290.92 117.17h3.60v3.27h-3.60zM290.92 123.12h3.60v3.27h-3.60zM297.53 120.15h3.60v3.27h-3.60zM297.53 132.05h3.60v3.27h-3.60zM300.83 129.07h3.60v3.27h-3.60zM300.83 132.05h3.60v3.27h-3.60zM304.14 132.05h3.60v3.27h-3.60zM304.14 135.03h3.60v3.27h-3.60z"/>
<path fill="#3f6afa" shape-rendering="crispEdges" d="M221.51 60.65h3.60v3.27h-3.60zM221.51 63.62h3.60v3.27h-3.60zM224.82 60.65h3.60v3.27h-3.60zM224.82 63.62h3.60v3.27h-3.60zM228.12 51.73h3.60v3.27h-3.60zM234.73 48.75h3.60v3.27h-3.60zM234.73 54.70h3.60v3.27h-3.60zM241.34 48.75h3.60v3.27h-3.60zM241.34 51.73h3.60v3.27h-3.60zM244.65 51.73h3.60v3.27h-3.60zM247.95 45.78h3.60v3.27h-3.60zM247.95 48.75h3.60v3.27h-3.60zM254.56 39.83h3.60v3.27h-3.60zM257.87 42.80h3.60v3.27h-3.60zM257.87 48.75h3.60v3.27h-3.60zM264.48 42.80h3.60v3.27h-3.60zM267.78 42.80h3.60v3.27h-3.60zM271.09 39.83h3.60v3.27h-3.60zM274.39 39.83h3.60v3.27h-3.60zM274.39 45.78h3.60v3.27h-3.60zM277.70 36.85h3.60v3.27h-3.60zM277.70 39.83h3.60v3.27h-3.60zM277.70 42.80h3.60v3.27h-3.60zM281.00 36.85h3.60v3.27h-3.60zM284.31 30.90h3.60v3.27h-3.60zM287.62 27.93h3.60v3.27h-3.60zM287.62 30.90h3.60v3.27h-3.60zM287.62 36.85h3.60v3.27h-3.60zM294.23 33.88h3.60v3.27h-3.60z"/>
<path fill="#6fcc68" shape-rendering="crispEdges" d="M221.51 111.23h3.60v3.27h-3.60zM221.51 114.20h3.60v3.27h-3.60zM238.04 102.30h3.60v3.27h-3.60zM241.34 102.30h3.60v3.27h-3.60zM251.26 96.35h3.60v3.27h-3.60zM254.56 93.38h3.60v3.27h-3.60zM261.18 90.40h3.60v3.27h-3.60zM271.09 90.40h3.60v3.27h-3.60zM281.00 90.40h3.60v3.27h-3.60zM287.62 90.40h3.60v3.27h-3.60zM294.23 90.40h3.60v3.27h-3.60zM304.14 90.40h3.60v3.27h-3.60zM304.14 93.38h3.60v3.27h-3.60zM304.14 96.35h3.60v3.27h-3.60zM307.44 93.38h3.60v3.27h-3.60zM307.44 96.35h3.60v3.27h-3.60zM310.75 93.38h3.60v3.27h-3.60zM310.75 96.35h3.60v3.27h-3.60zM314.06 93.38h3.60v3.27h-3.60zM314.06 99.33h3.60v3.27h-3.60zM317.36 102.30h3.60v3.27h-3.60zM317.36 105.28h3.60v3.27h-3.60zM317.36 117.17h3.60v3.27h-3.60zM320.67 105.28h3.60v3.27h-3.60zM320.67 114.20h3.60v3.27h-3.60zM320.67 126.10h3.60v3.27h-3.60z"/>
<path fill="#f3b937" shape-rendering="crispEdges" d="M221.51 135.03h3.60v3.27h-3.60zM224.82 126.10h3.60v3.27h-3.60zM224.82 129.07h3.60v3.27h-3.60zM228.12 132.05h3.60v3.27h-3.60zM231.43 126.10h3.60v3.27h-3.60zM234.73 126.10h3.60v3.27h-3.60zM234.73 135.03h3.60v3.27h-3.60zM238.04 123.12h3.60v3.27h-3.60zM238.04 129.07h3.60v3.27h-3.60zM244.65 120.15h3.60v3.27h-3.60zM244.65 126.10h3.60v3.27h-3.60zM257.87 111.23h3.60v3.27h-3.60zM257.87 117.17h3.60v3.27h-3.60zM261.18 111.23h3.60v3.27h-3.60zM261.18 114.20h3.60v3.27h-3.60zM264.48 108.25h3.60v3.27h-3.60zM271.09 114.20h3.60v3.27h-3.60zM274.39 117.17h3.60v3.27h-3.60zM281.00 108.25h3.60v3.27h-3.60zM281.00 117.17h3.60v3.27h-3.60zM287.62 111.23h3.60v3.27h-3.60zM287.62 117.17h3.60v3.27h-3.60zM287.62 123.12h3.60v3.27h-3.60zM290.92 126.10h3.60v3.27h-3.60zM294.23 114.20h3.60v3.27h-3.60zM294.23 117.17h3.60v3.27h-3.60zM294.23 120.15h3.60v3.27h-3.60zM294.23 132.05h3.60v3.27h-3.60zM297.53 129.07h3.60v3.27h-3.60zM300.83 135.03h3.60v3.27h-3.60z"/>
<path fill="#7bcc60" shape-rendering="crispEdges" d="M228.12 108.25h3.60v3.27h-3.60zM244.65 99.33h3.60v3.27h-3.60zM247.95 96.35h3.60v3.27h-3.60zM264.48 90.40h3.60v3.27h-3.60zM274.39 90.40h3.60v3.27h-3.60zM281.00 93.38h3.60v3.27h-3.60zM284.31 87.42h3.60v3.27h-3.60zM290.92 87.42h3.60v3.27h-3.60zM300.83 90.40h3.60v3.27h-3.60zM300.83 96.35h3.60v3.27h-3.60zM310.75 99.33h3.60v3.27h-3.60zM310.75 102.30h3.60v3.27h-3.60zM310.75 105.28h3.60v3.27h-3.60zM314.06 105.28h3.60v3.27h-3.60zM314.06 120.15h3.60v3.27h-3.60zM317.36 99.33h3.60v3.27h-3.60zM317.36 120.15h3.60v3.27h-3.60zM320.67 108.25h3.60v3.27h-3.60zM320.67 117.17h3.60v3.27h-3.60zM320.67 120.15h3.60v3.27h-3.60zM320.67 135.03h3.60v3.27h-3.60z"/>
<path fill="#11b8c8" shape-rendering="crispEdges" d="M231.43 90.40h3.60v3.27h-3.60zM234.73 90.40h3.60v3.27h-3.60zM241.34 81.47h3.60v3.27h-3.60zM244.65 84.45h3.60v3.27h-3.60zM247.95 78.50h3.60v3.27h-3.60zM251.26 72.55h3.60v3.27h-3.60zM254.56 69.58h3.60v3.27h-3.60zM254.56 75.53h3.60v3.27h-3.60zM257.87 72.55h3.60v3.27h-3.60zM257.87 75.53h3.60v3.27h-3.60zM261.18 69.58h3.60v3.27h-3.60zM264.48 72.55h3.60v3.27h-3.60zM271.09 66.60h3.60v3.27h-3.60zM274.39 66.60h3.60v3.27h-3.60zM277.70 66.60h3.60v3.27h-3.60zM281.00 66.60h3.60v3.27h-3.60zM284.31 63.62h3.60v3.27h-3.60zM287.62 66.60h3.60v3.27h-3.60zM290.92 60.65h3.60v3.27h-3.60zM294.23 60.65h3.60v3.27h-3.60zM297.53 60.65h3.60v3.27h-3.60zM304.14 60.65h3.60v3.27h-3.60zM304.14 63.62h3.60v3.27h-3.60z"/>
<path fill="#f7be35" shape-rendering="crispEdges" d="M231.43 132.05h3.60v3.27h-3.60zM231.43 135.03h3.60v3.27h-3.60zM234.73 132.05h3.60v3.27h-3.60zM238.04 132.05h3.60v3.27h-3.60zM241.34 123.12h3.60v3.27h-3.60zM244.65 123.12h3.60v3.27h-3.60zM247.95 120.15h3.60v3.27h-3.60zM251.26 117.17h3.60v3.27h-3.60zM251.26 120.15h3.60v3.27h-3.60zM251.26 132.05h3.60v3.27h-3.60zM254.56 117.17h3.60v3.27h-3.60zM254.56 120.15h3.60v3.27h-3.60zM254.56 123.12h3.60v3.27h-3.60zM254.56 126.10h3.60v3.27h-3.60zM254.56 129.07h3.60v3.27h-3.60zM257.87 105.28h3.60v3.27h-3.60zM257.87 123.12h3.60v3.27h-3.60zM261.18 117.17h3.60v3.27h-3.60zM261.18 120.15h3.60v3.27h-3.60zM264.48 111.23h3.60v3.27h-3.60zM267.78 117.17h3.60v3.27h-3.60zM271.09 108.25h3.60v3.27h-3.60zM271.09 120.15h3.60v3.27h-3.60zM271.09 123.12h3.60v3.27h-3.60zM274.39 111.23h3.60v3.27h-3.60zM277.70 111.23h3.60v3.27h-3.60zM277.70 114.20h3.60v3.27h-3.60zM277.70 120.15h3.60v3.27h-3.60zM277.70 123.12h3.60v3.27h-3.60zM284.31 117.17h3.60v3.27h-3.60zM287.62 120.15h3.60v3.27h-3.60zM290.92 120.15h3.60v3.27h-3.60zM290.92 129.07h3.60v3.27h-3.60zM294.23 135.03h3.60v3.27h-3.60zM297.53 123.12h3.60v3.27h-3.60z"/>
<path fill="#fbcb2e" shape-rendering="crispEdges" d="M238.04 135.03h3.60v3.27h-3.60zM241.34 126.10h3.60v3.27h-3.60zM241.34 129.07h3.60v3.27h-3.60zM241.34 132.05h3.60v3.27h-3.60zM251.26 123.12h3.60v3.27h-3.60zM251.26 126.10h3.60v3.27h-3.60zM254.56 132.05h3.60v3.27h-3.60zM261.18 126.10h3.60v3.27h-3.60zM261.18 129.07h3.60v3.27h-3.60zM261.18 132.05h3.60v3.27h-3.60zM264.48 123.12h3.60v3.27h-3.60zM264.48 126.10h3.60v3.27h-3.60zM267.78 126.10h3.60v3.27h-3.60zM267.78 135.03h3.60v3.27h-3.60zM271.09 117.17h3.60v3.27h-3.60zM271.09 126.10h3.60v3.27h-3.60zM271.09 132.05h3.60v3.27h-3.60zM274.39 123.12h3.60v3.27h-3.60zM274.39 129.07h3.60v3.27h-3.60zM277.70 126.10h3.60v3.27h-3.60zM277.70 129.07h3.60v3.27h-3.60zM281.00 126.10h3.60v3.27h-3.60zM281.00 129.07h3.60v3.27h-3.60zM284.31 126.10h3.60v3.27h-3.60zM284.31 129.07h3.60v3.27h-3.60zM287.62 126.10h3.60v3.27h-3.60zM287.62 129.07h3.60v3.27h-3.60zM290.92 132.05h3.60v3.27h-3.60zM294.23 129.07h3.60v3.27h-3.60z"/>
<path fill="#f9c431" shape-rendering="crispEdges" d="M241.34 135.03h3.60v3.27h-3.60zM244.65 129.07h3.60v3.27h-3.60zM247.95 123.12h3.60v3.27h-3.60zM247.95 126.10h3.60v3.27h-3.60zM247.95 129.07h3.60v3.27h-3.60zM247.95 132.05h3.60v3.27h-3.60zM251.26 129.07h3.60v3.27h-3.60zM257.87 114.20h3.60v3.27h-3.60zM257.87 120.15h3.60v3.27h-3.60zM264.48 114.20h3.60v3.27h-3.60zM264.48 120.15h3.60v3.27h-3.60zM264.48 132.05h3.60v3.27h-3.60zM267.78 111.23h3.60v3.27h-3.60zM267.78 114.20h3.60v3.27h-3.60zM267.78 120.15h3.60v3.27h-3.60zM267.78 123.12h3.60v3.27h-3.60zM271.09 111.23h3.60v3.27h-3.60zM274.39 114.20h3.60v3.27h-3.60zM274.39 120.15h3.60v3.27h-3.60zM274.39 126.10h3.60v3.27h-3.60zM274.39 132.05h3.60v3.27h-3.60zM277.70 117.17h3.60v3.27h-3.60zM277.70 132.05h3.60v3.27h-3.60zM281.00 111.23h3.60v3.27h-3.60zM281.00 123.12h3.60v3.27h-3.60zM284.31 120.15h3.60v3.27h-3.60zM284.31 123.12h3.60v3.27h-3.60zM284.31 132.05h3.60v3.27h-3.60zM287.62 132.05h3.60v3.27h-3.60zM290.92 135.03h3.60v3.27h-3.60zM294.23 126.10h3.60v3.27h-3.60zM297.53 135.03h3.60v3.27h-3.60z"/>
<path fill="#fdd22a" shape-rendering="crispEdges" d="M244.65 132.05h3.60v3.27h-3.60zM247.95 135.03h3.60v3.27h-3.60zM251.26 135.03h3.60v3.27h-3.60zM257.87 126.10h3.60v3.27h-3.60zM257.87 132.05h3.60v3.27h-3.60zM257.87 135.03h3.60v3.27h-3.60zM261.18 123.12h3.60v3.27h-3.60zM261.18 135.03h3.60v3.27h-3.60zM267.78 129.07h3.60v3.27h-3.60zM271.09 129.07h3.60v3.27h-3.60zM281.00 132.05h3.60v3.27h-3.60zM287.62 135.03h3.60v3.27h-3.60z"/>
<path fill="#fbd728" shape-rendering="crispEdges" d="M244.65 135.03h3.60v3.27h-3.60zM257.87 129.07h3.60v3.27h-3.60zM264.48 129.07h3.60v3.27h-3.60zM267.78 132.05h3.60v3.27h-3.60zM284.31 135.03h3.60v3.27h-3.60z"/>
<path fill="#f7e124" shape-rendering="crispEdges" d="M254.56 135.03h3.60v3.27h-3.60zM264.48 135.03h3.60v3.27h-3.60z"/>
<path fill="#f9dc26" shape-rendering="crispEdges" d="M264.48 117.17h3.60v3.27h-3.60zM271.09 135.03h3.60v3.27h-3.60zM274.39 135.03h3.60v3.27h-3.60zM277.70 135.03h3.60v3.27h-3.60zM281.00 135.03h3.60v3.27h-3.60z"/>
<polyline fill="none" stroke="#c40a0a" stroke-width="2.6" points="211.60,19.52 212.16,19.53 212.72,19.54 213.28,19.55 213.85,19.56 214.41,19.58 214.97,19.59 215.53,19.60 216.09,19.61 216.65,19.62 217.21,19.64 217.78,19.65 218.34,19.66 218.90,19.68 219.46,19.69 220.02,19.70 220.58,19.72 221.14,19.73 221.70,19.75 222.27,19.76 222.83,19.78 223.39,19.79 223.95,19.81 224.51,19.82 225.07,19.84 225.63,19.86 226.20,19.87 226.76,19.89 227.32,19.91 227.88,19.93 228.44,19.95 229.00,19.97 229.56,19.98 230.13,20.00 230.69,20.02 231.25,20.05 231.81,20.07 232.37,20.09 232.93,20.11 233.49,20.13 234.05,20.16 234.62,20.18 235.18,20.20 235.74,20.23 236.30,20.25 236.86,20.28 237.42,20.30 237.98,20.33 238.55,20.36 239.11,20.38 239.67,20.41 240.23,20.44 240.79,20.47 241.35,20.50 241.91,20.53 242.48,20.56 243.04,20.59 243.60,20.63 244.16,20.66 244.72,20.69 245.28,20.73 245.84,20.76 246.40,20.80 246.97,20.84 247.53,20.87 248.09,20.91 248.65,20.95 249.21,20.99 249.77,21.03 250.33,21.07 250.90,21.12 251.46,21.16 252.02,21.20 252.58,21.25 253.14,21.30 253.70,21.34 254.26,21.39 254.83,21.44 255.39,21.49 255.95,21.54 256.51,21.60 257.07,21.65 257.63,21.71 258.19,21.76 258.75,21.82 259.32,21.88 259.88,21.94 260.44,22.00 261.00,22.06 261.56,22.13 262.12,22.19 262.68,22.26 263.25,22.33 263.81,22.40 264.37,22.47 264.93,22.54 265.49,22.62 266.05,22.70 266.61,22.78 267.18,22.86 267.74,22.94 268.30,23.02 268.86,23.11 269.42,23.20 269.98,23.29 270.54,23.38 271.10,23.47 271.67,23.57 272.23,23.67 272.79,23.77 273.35,23.87 273.91,23.98 274.47,24.09 275.03,24.20 275.60,24.31 276.16,24.43 276.72,24.55 277.28,24.67 277.84,24.80 278.40,24.93 278.96,25.06 279.53,25.19 280.09,25.33 280.65,25.47 281.21,25.62 281.77,25.77 282.33,25.92 282.89,26.08 283.45,26.24 284.02,26.41 284.58,26.58 285.14,26.75 285.70,26.93 286.26,27.11 286.82,27.30 287.38,27.50 287.95,27.70 288.51,27.90 289.07,28.11 289.63,28.33 290.19,28.55 290.75,28.78 291.31,29.02 291.88,29.26 292.44,29.51 293.00,29.77 293.56,30.03 294.12,30.31 294.68,30.59 295.24,30.88 295.80,31.18 296.37,31.49 296.93,31.81 297.49,32.13 298.05,32.48 298.61,32.83 299.17,33.19 299.73,33.57 300.30,33.96 300.86,34.36 301.42,34.78 301.98,35.21 302.54,35.66 303.10,36.12 303.66,36.61 304.23,37.11 304.79,37.64 305.35,38.18 305.91,38.75 306.47,39.34 307.03,39.96 307.59,40.61 308.15,41.28 308.72,41.99 309.28,42.73 309.84,43.51 310.40,44.33 310.96,45.20 311.52,46.11 312.08,47.07 312.65,48.09 313.21,49.18 313.77,50.33 314.33,51.57 314.89,52.89 315.45,54.31 316.01,55.85 316.58,57.52 317.14,59.33 317.70,61.33 318.26,63.54 318.82,66.00 319.38,68.78 319.94,71.96 320.51,75.66 321.07,80.08 321.63,85.54 322.19,92.61 322.75,102.62 323.31,119.65 323.87,138.00"/>
<path d="M211.5,19.0V138.4H343.80" fill="none" stroke="#111" stroke-width="0.9"/>
<path d="M211.60 138.00h2.0M211.60 138.0v-2.0M211.60 120.09h1.2M231.50 138.0v-1.2M211.60 109.61h1.2M243.14 138.0v-1.2M211.60 102.18h1.2M251.40 138.0v-1.2M211.60 96.41h1.2M257.80 138.0v-1.2M211.60 91.70h1.2M263.04 138.0v-1.2M211.60 87.72h1.2M267.46 138.0v-1.2M211.60 84.27h1.2M271.29 138.0v-1.2M211.60 81.22h1.2M274.68 138.0v-1.2M211.60 78.50h2.0M277.70 138.0v-2.0M211.60 78.50h2.0M277.70 138.0v-2.0M211.60 60.59h1.2M297.60 138.0v-1.2M211.60 50.11h1.2M309.24 138.0v-1.2M211.60 42.68h1.2M317.50 138.0v-1.2M211.60 36.91h1.2M323.90 138.0v-1.2M211.60 32.20h1.2M329.14 138.0v-1.2M211.60 28.22h1.2M333.56 138.0v-1.2M211.60 24.77h1.2M337.39 138.0v-1.2M211.60 21.72h1.2M340.78 138.0v-1.2M211.60 19.00h2.0M343.80 138.0v-2.0" stroke="#000" stroke-width="0.6" fill="none"/>
<text x="196.94" y="21.00" font-size="8.2" fill="#1a1a1a" textLength="8.94" lengthAdjust="spacingAndGlyphs">10</text>
<text x="206.88" y="17.23" font-size="5.90" fill="#1a1a1a" textLength="3.22" lengthAdjust="spacingAndGlyphs">0</text>
<text x="195.02" y="81.30" font-size="8.2" fill="#1a1a1a" textLength="8.94" lengthAdjust="spacingAndGlyphs">10</text>
<text x="204.96" y="77.53" font-size="5.90" fill="#1a1a1a" textLength="5.14" lengthAdjust="spacingAndGlyphs">-1</text>
<text x="195.02" y="140.20" font-size="8.2" fill="#1a1a1a" textLength="8.94" lengthAdjust="spacingAndGlyphs">10</text>
<text x="204.96" y="136.43" font-size="5.90" fill="#1a1a1a" textLength="5.14" lengthAdjust="spacingAndGlyphs">-2</text>
<text x="205.70" y="149.40" font-size="8.2" fill="#1a1a1a" textLength="8.94" lengthAdjust="spacingAndGlyphs">10</text>
<text x="215.64" y="145.63" font-size="5.90" fill="#1a1a1a" textLength="5.14" lengthAdjust="spacingAndGlyphs">-2</text>
<text x="272.60" y="149.40" font-size="8.2" fill="#1a1a1a" textLength="8.94" lengthAdjust="spacingAndGlyphs">10</text>
<text x="282.54" y="145.63" font-size="5.90" fill="#1a1a1a" textLength="5.14" lengthAdjust="spacingAndGlyphs">-1</text>
<text x="334.00" y="149.40" font-size="8.2" fill="#1a1a1a" textLength="8.94" lengthAdjust="spacingAndGlyphs">10</text>
<text x="343.94" y="145.63" font-size="5.90" fill="#1a1a1a" textLength="3.22" lengthAdjust="spacingAndGlyphs">0</text>
<text x="249.20" y="153.3" font-size="9.5" font-style="italic" fill="#222">K<tspan font-size="5.6" dy="2">B</tspan></text>
<text transform="translate(200.60,51.0) rotate(-90)" font-size="9.5" font-style="italic" fill="#222">K<tspan font-size="5.6" dy="2">G</tspan></text>
<text x="333.40" y="19.0" font-size="9" fill="#222" text-anchor="end" textLength="56.4" lengthAdjust="spacingAndGlyphs">free leaves, <tspan font-style="italic">N</tspan><tspan font-size="5.5" font-style="italic" dy="2">F</tspan></text>
<path fill="#483fdf" shape-rendering="crispEdges" d="M377.30 33.88h3.60v3.27h-3.60zM377.30 36.85h3.60v3.27h-3.60zM377.30 39.83h3.60v3.27h-3.60zM377.30 42.80h3.60v3.27h-3.60zM377.30 45.78h3.60v3.27h-3.60zM377.30 51.73h3.60v3.27h-3.60zM377.30 54.70h3.60v3.27h-3.60zM377.30 57.68h3.60v3.27h-3.60zM377.30 60.65h3.60v3.27h-3.60zM377.30 63.62h3.60v3.27h-3.60zM377.30 66.60h3.60v3.27h-3.60zM377.30 72.55h3.60v3.27h-3.60zM377.30 81.47h3.60v3.27h-3.60zM377.30 84.45h3.60v3.27h-3.60zM377.30 87.42h3.60v3.27h-3.60zM377.30 93.38h3.60v3.27h-3.60zM377.30 96.35h3.60v3.27h-3.60zM377.30 99.33h3.60v3.27h-3.60zM377.30 105.28h3.60v3.27h-3.60zM377.30 108.25h3.60v3.27h-3.60zM377.30 117.17h3.60v3.27h-3.60zM377.30 132.05h3.60v3.27h-3.60zM377.30 135.03h3.60v3.27h-3.60zM380.61 33.88h3.60v3.27h-3.60zM380.61 36.85h3.60v3.27h-3.60zM380.61 39.83h3.60v3.27h-3.60zM380.61 45.78h3.60v3.27h-3.60zM380.61 48.75h3.60v3.27h-3.60zM380.61 51.73h3.60v3.27h-3.60zM380.61 54.70h3.60v3.27h-3.60zM380.61 57.68h3.60v3.27h-3.60zM380.61 63.62h3.60v3.27h-3.60zM380.61 66.60h3.60v3.27h-3.60zM380.61 72.55h3.60v3.27h-3.60zM380.61 78.50h3.60v3.27h-3.60zM380.61 84.45h3.60v3.27h-3.60zM380.61 90.40h3.60v3.27h-3.60zM380.61 93.38h3.60v3.27h-3.60zM380.61 96.35h3.60v3.27h-3.60zM380.61 99.33h3.60v3.27h-3.60zM380.61 102.30h3.60v3.27h-3.60zM380.61 108.25h3.60v3.27h-3.60zM380.61 111.23h3.60v3.27h-3.60zM380.61 114.20h3.60v3.27h-3.60zM380.61 120.15h3.60v3.27h-3.60zM380.61 123.12h3.60v3.27h-3.60zM380.61 126.10h3.60v3.27h-3.60zM380.61 129.07h3.60v3.27h-3.60zM383.91 30.90h3.60v3.27h-3.60zM383.91 36.85h3.60v3.27h-3.60zM383.91 39.83h3.60v3.27h-3.60zM383.91 45.78h3.60v3.27h-3.60zM383.91 48.75h3.60v3.27h-3.60zM383.91 51.73h3.60v3.27h-3.60zM383.91 54.70h3.60v3.27h-3.60zM383.91 57.68h3.60v3.27h-3.60zM383.91 60.65h3.60v3.27h-3.60zM383.91 63.62h3.60v3.27h-3.60zM383.91 69.58h3.60v3.27h-3.60zM383.91 72.55h3.60v3.27h-3.60zM383.91 81.47h3.60v3.27h-3.60zM383.91 84.45h3.60v3.27h-3.60zM383.91 87.42h3.60v3.27h-3.60zM383.91 93.38h3.60v3.27h-3.60zM383.91 96.35h3.60v3.27h-3.60zM383.91 99.33h3.60v3.27h-3.60zM383.91 102.30h3.60v3.27h-3.60zM383.91 105.28h3.60v3.27h-3.60zM383.91 108.25h3.60v3.27h-3.60zM383.91 111.23h3.60v3.27h-3.60zM383.91 114.20h3.60v3.27h-3.60zM383.91 120.15h3.60v3.27h-3.60zM383.91 123.12h3.60v3.27h-3.60zM383.91 129.07h3.60v3.27h-3.60zM383.91 132.05h3.60v3.27h-3.60zM387.22 42.80h3.60v3.27h-3.60zM387.22 45.78h3.60v3.27h-3.60zM387.22 48.75h3.60v3.27h-3.60zM387.22 57.68h3.60v3.27h-3.60zM387.22 63.62h3.60v3.27h-3.60zM387.22 66.60h3.60v3.27h-3.60zM387.22 72.55h3.60v3.27h-3.60zM387.22 75.53h3.60v3.27h-3.60zM387.22 78.50h3.60v3.27h-3.60zM387.22 90.40h3.60v3.27h-3.60zM387.22 99.33h3.60v3.27h-3.60zM387.22 108.25h3.60v3.27h-3.60zM387.22 114.20h3.60v3.27h-3.60zM387.22 126.10h3.60v3.27h-3.60zM387.22 129.07h3.60v3.27h-3.60zM387.22 132.05h3.60v3.27h-3.60zM390.52 27.93h3.60v3.27h-3.60zM390.52 36.85h3.60v3.27h-3.60zM390.52 42.80h3.60v3.27h-3.60zM390.52 63.62h3.60v3.27h-3.60zM390.52 66.60h3.60v3.27h-3.60zM390.52 90.40h3.60v3.27h-3.60zM390.52 93.38h3.60v3.27h-3.60zM390.52 96.35h3.60v3.27h-3.60zM390.52 111.23h3.60v3.27h-3.60zM390.52 123.12h3.60v3.27h-3.60zM393.82 96.35h3.60v3.27h-3.60z"/>
<path fill="#463bd9" shape-rendering="crispEdges" d="M377.30 48.75h3.60v3.27h-3.60zM377.30 69.58h3.60v3.27h-3.60zM377.30 75.53h3.60v3.27h-3.60zM377.30 78.50h3.60v3.27h-3.60zM377.30 90.40h3.60v3.27h-3.60zM377.30 102.30h3.60v3.27h-3.60zM377.30 114.20h3.60v3.27h-3.60zM377.30 120.15h3.60v3.27h-3.60zM377.30 123.12h3.60v3.27h-3.60zM377.30 126.10h3.60v3.27h-3.60zM377.30 129.07h3.60v3.27h-3.60zM380.61 42.80h3.60v3.27h-3.60zM380.61 69.58h3.60v3.27h-3.60zM380.61 75.53h3.60v3.27h-3.60zM380.61 132.05h3.60v3.27h-3.60zM383.91 42.80h3.60v3.27h-3.60z"/>
<path fill="#4943e4" shape-rendering="crispEdges" d="M377.30 111.23h3.60v3.27h-3.60zM380.61 60.65h3.60v3.27h-3.60zM380.61 81.47h3.60v3.27h-3.60zM380.61 87.42h3.60v3.27h-3.60zM380.61 105.28h3.60v3.27h-3.60zM380.61 117.17h3.60v3.27h-3.60zM380.61 135.03h3.60v3.27h-3.60zM383.91 33.88h3.60v3.27h-3.60zM383.91 66.60h3.60v3.27h-3.60zM383.91 75.53h3.60v3.27h-3.60zM383.91 78.50h3.60v3.27h-3.60zM383.91 90.40h3.60v3.27h-3.60zM383.91 117.17h3.60v3.27h-3.60zM383.91 126.10h3.60v3.27h-3.60zM383.91 135.03h3.60v3.27h-3.60zM387.22 30.90h3.60v3.27h-3.60zM387.22 33.88h3.60v3.27h-3.60zM387.22 36.85h3.60v3.27h-3.60zM387.22 39.83h3.60v3.27h-3.60zM387.22 51.73h3.60v3.27h-3.60zM387.22 54.70h3.60v3.27h-3.60zM387.22 60.65h3.60v3.27h-3.60zM387.22 69.58h3.60v3.27h-3.60zM387.22 81.47h3.60v3.27h-3.60zM387.22 84.45h3.60v3.27h-3.60zM387.22 87.42h3.60v3.27h-3.60zM387.22 93.38h3.60v3.27h-3.60zM387.22 96.35h3.60v3.27h-3.60zM387.22 102.30h3.60v3.27h-3.60zM387.22 105.28h3.60v3.27h-3.60zM387.22 111.23h3.60v3.27h-3.60zM387.22 117.17h3.60v3.27h-3.60zM387.22 120.15h3.60v3.27h-3.60zM387.22 123.12h3.60v3.27h-3.60zM387.22 135.03h3.60v3.27h-3.60zM390.52 33.88h3.60v3.27h-3.60zM390.52 39.83h3.60v3.27h-3.60zM390.52 45.78h3.60v3.27h-3.60zM390.52 48.75h3.60v3.27h-3.60zM390.52 51.73h3.60v3.27h-3.60zM390.52 54.70h3.60v3.27h-3.60zM390.52 57.68h3.60v3.27h-3.60zM390.52 60.65h3.60v3.27h-3.60zM390.52 69.58h3.60v3.27h-3.60zM390.52 72.55h3.60v3.27h-3.60zM390.52 75.53h3.60v3.27h-3.60zM390.52 78.50h3.60v3.27h-3.60zM390.52 81.47h3.60v3.27h-3.60zM390.52 84.45h3.60v3.27h-3.60zM390.52 87.42h3.60v3.27h-3.60zM390.52 99.33h3.60v3.27h-3.60zM390.52 102.30h3.60v3.27h-3.60zM390.52 105.28h3.60v3.27h-3.60zM390.52 108.25h3.60v3.27h-3.60zM390.52 114.20h3.60v3.27h-3.60zM390.52 117.17h3.60v3.27h-3.60zM390.52 120.15h3.60v3.27h-3.60zM390.52 129.07h3.60v3.27h-3.60zM390.52 132.05h3.60v3.27h-3.60zM390.52 135.03h3.60v3.27h-3.60zM393.82 27.93h3.60v3.27h-3.60zM393.82 30.90h3.60v3.27h-3.60zM393.82 39.83h3.60v3.27h-3.60zM393.82 42.80h3.60v3.27h-3.60zM393.82 45.78h3.60v3.27h-3.60zM393.82 48.75h3.60v3.27h-3.60zM393.82 54.70h3.60v3.27h-3.60zM393.82 60.65h3.60v3.27h-3.60zM393.82 63.62h3.60v3.27h-3.60zM393.82 66.60h3.60v3.27h-3.60zM393.82 69.58h3.60v3.27h-3.60zM393.82 72.55h3.60v3.27h-3.60zM393.82 75.53h3.60v3.27h-3.60zM393.82 78.50h3.60v3.27h-3.60zM393.82 81.47h3.60v3.27h-3.60zM393.82 84.45h3.60v3.27h-3.60zM393.82 90.40h3.60v3.27h-3.60zM393.82 99.33h3.60v3.27h-3.60zM393.82 102.30h3.60v3.27h-3.60zM393.82 105.28h3.60v3.27h-3.60zM393.82 108.25h3.60v3.27h-3.60zM393.82 111.23h3.60v3.27h-3.60zM393.82 114.20h3.60v3.27h-3.60zM393.82 117.17h3.60v3.27h-3.60zM393.82 123.12h3.60v3.27h-3.60zM393.82 126.10h3.60v3.27h-3.60zM393.82 129.07h3.60v3.27h-3.60zM393.82 132.05h3.60v3.27h-3.60zM393.82 135.03h3.60v3.27h-3.60zM397.13 45.78h3.60v3.27h-3.60zM397.13 51.73h3.60v3.27h-3.60zM397.13 54.70h3.60v3.27h-3.60zM397.13 60.65h3.60v3.27h-3.60zM397.13 63.62h3.60v3.27h-3.60zM397.13 66.60h3.60v3.27h-3.60zM397.13 69.58h3.60v3.27h-3.60zM397.13 78.50h3.60v3.27h-3.60zM397.13 84.45h3.60v3.27h-3.60zM397.13 96.35h3.60v3.27h-3.60zM397.13 102.30h3.60v3.27h-3.60zM397.13 105.28h3.60v3.27h-3.60zM397.13 111.23h3.60v3.27h-3.60zM397.13 123.12h3.60v3.27h-3.60zM397.13 129.07h3.60v3.27h-3.60zM397.13 132.05h3.60v3.27h-3.60zM397.13 135.03h3.60v3.27h-3.60zM400.44 27.93h3.60v3.27h-3.60zM400.44 51.73h3.60v3.27h-3.60zM400.44 57.68h3.60v3.27h-3.60zM400.44 60.65h3.60v3.27h-3.60zM400.44 63.62h3.60v3.27h-3.60zM400.44 69.58h3.60v3.27h-3.60zM400.44 78.50h3.60v3.27h-3.60zM400.44 81.47h3.60v3.27h-3.60zM400.44 90.40h3.60v3.27h-3.60zM400.44 93.38h3.60v3.27h-3.60zM400.44 114.20h3.60v3.27h-3.60zM400.44 123.12h3.60v3.27h-3.60zM400.44 129.07h3.60v3.27h-3.60zM400.44 135.03h3.60v3.27h-3.60zM403.74 33.88h3.60v3.27h-3.60zM403.74 63.62h3.60v3.27h-3.60zM403.74 81.47h3.60v3.27h-3.60zM403.74 99.33h3.60v3.27h-3.60zM403.74 126.10h3.60v3.27h-3.60z"/>
<path fill="#4948e9" shape-rendering="crispEdges" d="M390.52 30.90h3.60v3.27h-3.60zM390.52 126.10h3.60v3.27h-3.60zM393.82 33.88h3.60v3.27h-3.60zM393.82 36.85h3.60v3.27h-3.60zM393.82 51.73h3.60v3.27h-3.60zM393.82 57.68h3.60v3.27h-3.60zM393.82 87.42h3.60v3.27h-3.60zM393.82 93.38h3.60v3.27h-3.60zM393.82 120.15h3.60v3.27h-3.60zM397.13 24.95h3.60v3.27h-3.60zM397.13 27.93h3.60v3.27h-3.60zM397.13 30.90h3.60v3.27h-3.60zM397.13 33.88h3.60v3.27h-3.60zM397.13 36.85h3.60v3.27h-3.60zM397.13 39.83h3.60v3.27h-3.60zM397.13 42.80h3.60v3.27h-3.60zM397.13 48.75h3.60v3.27h-3.60zM397.13 57.68h3.60v3.27h-3.60zM397.13 72.55h3.60v3.27h-3.60zM397.13 75.53h3.60v3.27h-3.60zM397.13 81.47h3.60v3.27h-3.60zM397.13 87.42h3.60v3.27h-3.60zM397.13 90.40h3.60v3.27h-3.60zM397.13 93.38h3.60v3.27h-3.60zM397.13 99.33h3.60v3.27h-3.60zM397.13 108.25h3.60v3.27h-3.60zM397.13 114.20h3.60v3.27h-3.60zM397.13 117.17h3.60v3.27h-3.60zM397.13 120.15h3.60v3.27h-3.60zM397.13 126.10h3.60v3.27h-3.60zM400.44 24.95h3.60v3.27h-3.60zM400.44 30.90h3.60v3.27h-3.60zM400.44 36.85h3.60v3.27h-3.60zM400.44 39.83h3.60v3.27h-3.60zM400.44 42.80h3.60v3.27h-3.60zM400.44 45.78h3.60v3.27h-3.60zM400.44 48.75h3.60v3.27h-3.60zM400.44 54.70h3.60v3.27h-3.60zM400.44 66.60h3.60v3.27h-3.60zM400.44 72.55h3.60v3.27h-3.60zM400.44 75.53h3.60v3.27h-3.60zM400.44 84.45h3.60v3.27h-3.60zM400.44 87.42h3.60v3.27h-3.60zM400.44 96.35h3.60v3.27h-3.60zM400.44 99.33h3.60v3.27h-3.60zM400.44 102.30h3.60v3.27h-3.60zM400.44 105.28h3.60v3.27h-3.60zM400.44 108.25h3.60v3.27h-3.60zM400.44 111.23h3.60v3.27h-3.60zM400.44 117.17h3.60v3.27h-3.60zM400.44 120.15h3.60v3.27h-3.60zM400.44 126.10h3.60v3.27h-3.60zM400.44 132.05h3.60v3.27h-3.60zM403.74 24.95h3.60v3.27h-3.60zM403.74 27.93h3.60v3.27h-3.60zM403.74 30.90h3.60v3.27h-3.60zM403.74 36.85h3.60v3.27h-3.60zM403.74 39.83h3.60v3.27h-3.60zM403.74 42.80h3.60v3.27h-3.60zM403.74 45.78h3.60v3.27h-3.60zM403.74 48.75h3.60v3.27h-3.60zM403.74 51.73h3.60v3.27h-3.60zM403.74 54.70h3.60v3.27h-3.60zM403.74 60.65h3.60v3.27h-3.60zM403.74 66.60h3.60v3.27h-3.60zM403.74 69.58h3.60v3.27h-3.60zM403.74 72.55h3.60v3.27h-3.60zM403.74 75.53h3.60v3.27h-3.60zM403.74 78.50h3.60v3.27h-3.60zM403.74 84.45h3.60v3.27h-3.60zM403.74 93.38h3.60v3.27h-3.60zM403.74 96.35h3.60v3.27h-3.60zM403.74 102.30h3.60v3.27h-3.60zM403.74 105.28h3.60v3.27h-3.60zM403.74 108.25h3.60v3.27h-3.60zM403.74 111.23h3.60v3.27h-3.60zM403.74 114.20h3.60v3.27h-3.60zM403.74 120.15h3.60v3.27h-3.60zM403.74 123.12h3.60v3.27h-3.60zM403.74 129.07h3.60v3.27h-3.60zM403.74 132.05h3.60v3.27h-3.60zM403.74 135.03h3.60v3.27h-3.60zM407.05 24.95h3.60v3.27h-3.60zM407.05 27.93h3.60v3.27h-3.60zM407.05 33.88h3.60v3.27h-3.60zM407.05 39.83h3.60v3.27h-3.60zM407.05 45.78h3.60v3.27h-3.60zM407.05 57.68h3.60v3.27h-3.60zM407.05 63.62h3.60v3.27h-3.60zM407.05 72.55h3.60v3.27h-3.60zM407.05 75.53h3.60v3.27h-3.60zM407.05 78.50h3.60v3.27h-3.60zM407.05 84.45h3.60v3.27h-3.60zM407.05 90.40h3.60v3.27h-3.60zM407.05 93.38h3.60v3.27h-3.60zM407.05 96.35h3.60v3.27h-3.60zM407.05 102.30h3.60v3.27h-3.60zM407.05 105.28h3.60v3.27h-3.60zM407.05 111.23h3.60v3.27h-3.60zM407.05 114.20h3.60v3.27h-3.60zM407.05 117.17h3.60v3.27h-3.60zM407.05 135.03h3.60v3.27h-3.60zM410.35 84.45h3.60v3.27h-3.60zM410.35 93.38h3.60v3.27h-3.60zM410.35 126.10h3.60v3.27h-3.60z"/>
<path fill="#484fee" shape-rendering="crispEdges" d="M400.44 33.88h3.60v3.27h-3.60zM403.74 57.68h3.60v3.27h-3.60zM403.74 87.42h3.60v3.27h-3.60zM403.74 90.40h3.60v3.27h-3.60zM403.74 117.17h3.60v3.27h-3.60zM407.05 21.98h3.60v3.27h-3.60zM407.05 30.90h3.60v3.27h-3.60zM407.05 36.85h3.60v3.27h-3.60zM407.05 42.80h3.60v3.27h-3.60zM407.05 48.75h3.60v3.27h-3.60zM407.05 51.73h3.60v3.27h-3.60zM407.05 54.70h3.60v3.27h-3.60zM407.05 60.65h3.60v3.27h-3.60zM407.05 66.60h3.60v3.27h-3.60zM407.05 69.58h3.60v3.27h-3.60zM407.05 81.47h3.60v3.27h-3.60zM407.05 87.42h3.60v3.27h-3.60zM407.05 99.33h3.60v3.27h-3.60zM407.05 108.25h3.60v3.27h-3.60zM407.05 120.15h3.60v3.27h-3.60zM407.05 123.12h3.60v3.27h-3.60zM407.05 126.10h3.60v3.27h-3.60zM407.05 129.07h3.60v3.27h-3.60zM407.05 132.05h3.60v3.27h-3.60zM410.35 21.98h3.60v3.27h-3.60zM410.35 27.93h3.60v3.27h-3.60zM410.35 30.90h3.60v3.27h-3.60zM410.35 33.88h3.60v3.27h-3.60zM410.35 39.83h3.60v3.27h-3.60zM410.35 42.80h3.60v3.27h-3.60zM410.35 45.78h3.60v3.27h-3.60zM410.35 48.75h3.60v3.27h-3.60zM410.35 51.73h3.60v3.27h-3.60zM410.35 54.70h3.60v3.27h-3.60zM410.35 57.68h3.60v3.27h-3.60zM410.35 60.65h3.60v3.27h-3.60zM410.35 66.60h3.60v3.27h-3.60zM410.35 69.58h3.60v3.27h-3.60zM410.35 72.55h3.60v3.27h-3.60zM410.35 75.53h3.60v3.27h-3.60zM410.35 81.47h3.60v3.27h-3.60zM410.35 87.42h3.60v3.27h-3.60zM410.35 90.40h3.60v3.27h-3.60zM410.35 96.35h3.60v3.27h-3.60zM410.35 99.33h3.60v3.27h-3.60zM410.35 105.28h3.60v3.27h-3.60zM410.35 108.25h3.60v3.27h-3.60zM410.35 114.20h3.60v3.27h-3.60zM410.35 117.17h3.60v3.27h-3.60zM410.35 120.15h3.60v3.27h-3.60zM410.35 123.12h3.60v3.27h-3.60zM410.35 129.07h3.60v3.27h-3.60zM410.35 132.05h3.60v3.27h-3.60zM413.66 30.90h3.60v3.27h-3.60zM413.66 60.65h3.60v3.27h-3.60zM413.66 66.60h3.60v3.27h-3.60zM413.66 69.58h3.60v3.27h-3.60zM413.66 72.55h3.60v3.27h-3.60zM413.66 75.53h3.60v3.27h-3.60zM413.66 78.50h3.60v3.27h-3.60zM413.66 84.45h3.60v3.27h-3.60zM413.66 90.40h3.60v3.27h-3.60zM413.66 93.38h3.60v3.27h-3.60zM413.66 102.30h3.60v3.27h-3.60zM413.66 108.25h3.60v3.27h-3.60zM413.66 111.23h3.60v3.27h-3.60zM413.66 114.20h3.60v3.27h-3.60zM413.66 117.17h3.60v3.27h-3.60zM413.66 132.05h3.60v3.27h-3.60zM416.96 75.53h3.60v3.27h-3.60zM416.96 132.05h3.60v3.27h-3.60z"/>
<path fill="#4855f3" shape-rendering="crispEdges" d="M410.35 24.95h3.60v3.27h-3.60zM410.35 36.85h3.60v3.27h-3.60zM410.35 63.62h3.60v3.27h-3.60zM410.35 78.50h3.60v3.27h-3.60zM410.35 102.30h3.60v3.27h-3.60zM410.35 111.23h3.60v3.27h-3.60zM410.35 135.03h3.60v3.27h-3.60zM413.66 21.98h3.60v3.27h-3.60zM413.66 24.95h3.60v3.27h-3.60zM413.66 27.93h3.60v3.27h-3.60zM413.66 33.88h3.60v3.27h-3.60zM413.66 36.85h3.60v3.27h-3.60zM413.66 39.83h3.60v3.27h-3.60zM413.66 42.80h3.60v3.27h-3.60zM413.66 45.78h3.60v3.27h-3.60zM413.66 48.75h3.60v3.27h-3.60zM413.66 51.73h3.60v3.27h-3.60zM413.66 54.70h3.60v3.27h-3.60zM413.66 57.68h3.60v3.27h-3.60zM413.66 63.62h3.60v3.27h-3.60zM413.66 81.47h3.60v3.27h-3.60zM413.66 87.42h3.60v3.27h-3.60zM413.66 96.35h3.60v3.27h-3.60zM413.66 99.33h3.60v3.27h-3.60zM413.66 105.28h3.60v3.27h-3.60zM413.66 120.15h3.60v3.27h-3.60zM413.66 123.12h3.60v3.27h-3.60zM413.66 126.10h3.60v3.27h-3.60zM413.66 129.07h3.60v3.27h-3.60zM413.66 135.03h3.60v3.27h-3.60zM416.96 30.90h3.60v3.27h-3.60zM416.96 33.88h3.60v3.27h-3.60zM416.96 42.80h3.60v3.27h-3.60zM416.96 45.78h3.60v3.27h-3.60zM416.96 51.73h3.60v3.27h-3.60zM416.96 57.68h3.60v3.27h-3.60zM416.96 60.65h3.60v3.27h-3.60zM416.96 66.60h3.60v3.27h-3.60zM416.96 69.58h3.60v3.27h-3.60zM416.96 81.47h3.60v3.27h-3.60zM416.96 84.45h3.60v3.27h-3.60zM416.96 87.42h3.60v3.27h-3.60zM416.96 90.40h3.60v3.27h-3.60zM416.96 93.38h3.60v3.27h-3.60zM416.96 96.35h3.60v3.27h-3.60zM416.96 99.33h3.60v3.27h-3.60zM416.96 102.30h3.60v3.27h-3.60zM416.96 105.28h3.60v3.27h-3.60zM416.96 108.25h3.60v3.27h-3.60zM416.96 111.23h3.60v3.27h-3.60zM416.96 114.20h3.60v3.27h-3.60zM416.96 120.15h3.60v3.27h-3.60zM416.96 126.10h3.60v3.27h-3.60zM416.96 129.07h3.60v3.27h-3.60zM416.96 135.03h3.60v3.27h-3.60zM420.26 30.90h3.60v3.27h-3.60zM420.26 33.88h3.60v3.27h-3.60zM420.26 102.30h3.60v3.27h-3.60zM420.26 105.28h3.60v3.27h-3.60zM420.26 108.25h3.60v3.27h-3.60zM420.26 111.23h3.60v3.27h-3.60zM420.26 114.20h3.60v3.27h-3.60zM420.26 129.07h3.60v3.27h-3.60zM420.26 132.05h3.60v3.27h-3.60z"/>
<path fill="#475bf8" shape-rendering="crispEdges" d="M416.96 21.98h3.60v3.27h-3.60zM416.96 24.95h3.60v3.27h-3.60zM416.96 27.93h3.60v3.27h-3.60zM416.96 36.85h3.60v3.27h-3.60zM416.96 39.83h3.60v3.27h-3.60zM416.96 48.75h3.60v3.27h-3.60zM416.96 54.70h3.60v3.27h-3.60zM416.96 63.62h3.60v3.27h-3.60zM416.96 72.55h3.60v3.27h-3.60zM416.96 78.50h3.60v3.27h-3.60zM416.96 117.17h3.60v3.27h-3.60zM416.96 123.12h3.60v3.27h-3.60zM420.26 21.98h3.60v3.27h-3.60zM420.26 24.95h3.60v3.27h-3.60zM420.26 27.93h3.60v3.27h-3.60zM420.26 36.85h3.60v3.27h-3.60zM420.26 42.80h3.60v3.27h-3.60zM420.26 45.78h3.60v3.27h-3.60zM420.26 48.75h3.60v3.27h-3.60zM420.26 51.73h3.60v3.27h-3.60zM420.26 54.70h3.60v3.27h-3.60zM420.26 57.68h3.60v3.27h-3.60zM420.26 60.65h3.60v3.27h-3.60zM420.26 63.62h3.60v3.27h-3.60zM420.26 66.60h3.60v3.27h-3.60zM420.26 69.58h3.60v3.27h-3.60zM420.26 75.53h3.60v3.27h-3.60zM420.26 78.50h3.60v3.27h-3.60zM420.26 81.47h3.60v3.27h-3.60zM420.26 84.45h3.60v3.27h-3.60zM420.26 87.42h3.60v3.27h-3.60zM420.26 90.40h3.60v3.27h-3.60zM420.26 93.38h3.60v3.27h-3.60zM420.26 96.35h3.60v3.27h-3.60zM420.26 99.33h3.60v3.27h-3.60zM420.26 117.17h3.60v3.27h-3.60zM420.26 120.15h3.60v3.27h-3.60zM420.26 123.12h3.60v3.27h-3.60zM420.26 126.10h3.60v3.27h-3.60zM423.57 36.85h3.60v3.27h-3.60zM423.57 45.78h3.60v3.27h-3.60zM423.57 48.75h3.60v3.27h-3.60zM423.57 63.62h3.60v3.27h-3.60zM423.57 66.60h3.60v3.27h-3.60zM423.57 75.53h3.60v3.27h-3.60zM423.57 87.42h3.60v3.27h-3.60zM423.57 93.38h3.60v3.27h-3.60zM423.57 96.35h3.60v3.27h-3.60zM423.57 117.17h3.60v3.27h-3.60zM423.57 123.12h3.60v3.27h-3.60zM423.57 135.03h3.60v3.27h-3.60z"/>
<path fill="#4462fb" shape-rendering="crispEdges" d="M420.26 39.83h3.60v3.27h-3.60zM420.26 72.55h3.60v3.27h-3.60zM420.26 135.03h3.60v3.27h-3.60zM423.57 21.98h3.60v3.27h-3.60zM423.57 24.95h3.60v3.27h-3.60zM423.57 27.93h3.60v3.27h-3.60zM423.57 30.90h3.60v3.27h-3.60zM423.57 33.88h3.60v3.27h-3.60zM423.57 39.83h3.60v3.27h-3.60zM423.57 42.80h3.60v3.27h-3.60zM423.57 51.73h3.60v3.27h-3.60zM423.57 54.70h3.60v3.27h-3.60zM423.57 57.68h3.60v3.27h-3.60zM423.57 60.65h3.60v3.27h-3.60zM423.57 69.58h3.60v3.27h-3.60zM423.57 72.55h3.60v3.27h-3.60zM423.57 78.50h3.60v3.27h-3.60zM423.57 81.47h3.60v3.27h-3.60zM423.57 84.45h3.60v3.27h-3.60zM423.57 90.40h3.60v3.27h-3.60zM423.57 99.33h3.60v3.27h-3.60zM423.57 102.30h3.60v3.27h-3.60zM423.57 108.25h3.60v3.27h-3.60zM423.57 111.23h3.60v3.27h-3.60zM423.57 114.20h3.60v3.27h-3.60zM423.57 120.15h3.60v3.27h-3.60zM423.57 126.10h3.60v3.27h-3.60zM423.57 129.07h3.60v3.27h-3.60zM423.57 132.05h3.60v3.27h-3.60zM426.88 24.95h3.60v3.27h-3.60zM426.88 30.90h3.60v3.27h-3.60zM426.88 33.88h3.60v3.27h-3.60zM426.88 39.83h3.60v3.27h-3.60zM426.88 42.80h3.60v3.27h-3.60zM426.88 45.78h3.60v3.27h-3.60zM426.88 51.73h3.60v3.27h-3.60zM426.88 54.70h3.60v3.27h-3.60zM426.88 57.68h3.60v3.27h-3.60zM426.88 78.50h3.60v3.27h-3.60zM426.88 81.47h3.60v3.27h-3.60zM426.88 84.45h3.60v3.27h-3.60zM426.88 87.42h3.60v3.27h-3.60zM426.88 96.35h3.60v3.27h-3.60zM426.88 99.33h3.60v3.27h-3.60zM426.88 102.30h3.60v3.27h-3.60zM426.88 108.25h3.60v3.27h-3.60zM426.88 114.20h3.60v3.27h-3.60zM426.88 117.17h3.60v3.27h-3.60zM426.88 120.15h3.60v3.27h-3.60zM426.88 129.07h3.60v3.27h-3.60zM426.88 132.05h3.60v3.27h-3.60zM426.88 135.03h3.60v3.27h-3.60zM430.18 24.95h3.60v3.27h-3.60zM430.18 36.85h3.60v3.27h-3.60z"/>
<path fill="#3f6afa" shape-rendering="crispEdges" d="M423.57 105.28h3.60v3.27h-3.60zM426.88 27.93h3.60v3.27h-3.60zM426.88 36.85h3.60v3.27h-3.60zM426.88 48.75h3.60v3.27h-3.60zM426.88 60.65h3.60v3.27h-3.60zM426.88 63.62h3.60v3.27h-3.60zM426.88 66.60h3.60v3.27h-3.60zM426.88 69.58h3.60v3.27h-3.60zM426.88 72.55h3.60v3.27h-3.60zM426.88 75.53h3.60v3.27h-3.60zM426.88 90.40h3.60v3.27h-3.60zM426.88 93.38h3.60v3.27h-3.60zM426.88 105.28h3.60v3.27h-3.60zM426.88 111.23h3.60v3.27h-3.60zM426.88 123.12h3.60v3.27h-3.60zM426.88 126.10h3.60v3.27h-3.60zM430.18 27.93h3.60v3.27h-3.60zM430.18 30.90h3.60v3.27h-3.60zM430.18 33.88h3.60v3.27h-3.60zM430.18 39.83h3.60v3.27h-3.60zM430.18 42.80h3.60v3.27h-3.60zM430.18 45.78h3.60v3.27h-3.60zM430.18 48.75h3.60v3.27h-3.60zM430.18 57.68h3.60v3.27h-3.60zM430.18 66.60h3.60v3.27h-3.60zM430.18 72.55h3.60v3.27h-3.60zM430.18 78.50h3.60v3.27h-3.60zM430.18 84.45h3.60v3.27h-3.60zM430.18 96.35h3.60v3.27h-3.60zM430.18 102.30h3.60v3.27h-3.60zM430.18 120.15h3.60v3.27h-3.60zM430.18 126.10h3.60v3.27h-3.60zM430.18 132.05h3.60v3.27h-3.60zM433.49 24.95h3.60v3.27h-3.60zM433.49 45.78h3.60v3.27h-3.60z"/>
<path fill="#3971f8" shape-rendering="crispEdges" d="M430.18 51.73h3.60v3.27h-3.60zM430.18 54.70h3.60v3.27h-3.60zM430.18 60.65h3.60v3.27h-3.60zM430.18 63.62h3.60v3.27h-3.60zM430.18 69.58h3.60v3.27h-3.60zM430.18 75.53h3.60v3.27h-3.60zM430.18 81.47h3.60v3.27h-3.60zM430.18 87.42h3.60v3.27h-3.60zM430.18 90.40h3.60v3.27h-3.60zM430.18 93.38h3.60v3.27h-3.60zM430.18 99.33h3.60v3.27h-3.60zM430.18 105.28h3.60v3.27h-3.60zM430.18 108.25h3.60v3.27h-3.60zM430.18 111.23h3.60v3.27h-3.60zM430.18 114.20h3.60v3.27h-3.60zM430.18 123.12h3.60v3.27h-3.60zM430.18 129.07h3.60v3.27h-3.60zM430.18 135.03h3.60v3.27h-3.60zM433.49 27.93h3.60v3.27h-3.60zM433.49 30.90h3.60v3.27h-3.60zM433.49 33.88h3.60v3.27h-3.60zM433.49 36.85h3.60v3.27h-3.60zM433.49 39.83h3.60v3.27h-3.60zM433.49 42.80h3.60v3.27h-3.60zM433.49 48.75h3.60v3.27h-3.60zM433.49 54.70h3.60v3.27h-3.60zM433.49 57.68h3.60v3.27h-3.60zM433.49 60.65h3.60v3.27h-3.60zM433.49 66.60h3.60v3.27h-3.60zM433.49 69.58h3.60v3.27h-3.60zM433.49 72.55h3.60v3.27h-3.60zM433.49 78.50h3.60v3.27h-3.60zM433.49 81.47h3.60v3.27h-3.60zM433.49 84.45h3.60v3.27h-3.60zM433.49 87.42h3.60v3.27h-3.60zM433.49 108.25h3.60v3.27h-3.60zM433.49 117.17h3.60v3.27h-3.60zM433.49 120.15h3.60v3.27h-3.60zM433.49 123.12h3.60v3.27h-3.60zM433.49 129.07h3.60v3.27h-3.60zM433.49 135.03h3.60v3.27h-3.60zM436.79 24.95h3.60v3.27h-3.60zM436.79 36.85h3.60v3.27h-3.60z"/>
<path fill="#3379f6" shape-rendering="crispEdges" d="M430.18 117.17h3.60v3.27h-3.60zM433.49 51.73h3.60v3.27h-3.60zM433.49 63.62h3.60v3.27h-3.60zM433.49 75.53h3.60v3.27h-3.60zM433.49 90.40h3.60v3.27h-3.60zM433.49 93.38h3.60v3.27h-3.60zM433.49 96.35h3.60v3.27h-3.60zM433.49 99.33h3.60v3.27h-3.60zM433.49 102.30h3.60v3.27h-3.60zM433.49 105.28h3.60v3.27h-3.60zM433.49 111.23h3.60v3.27h-3.60zM433.49 114.20h3.60v3.27h-3.60zM433.49 126.10h3.60v3.27h-3.60zM433.49 132.05h3.60v3.27h-3.60zM436.79 27.93h3.60v3.27h-3.60zM436.79 30.90h3.60v3.27h-3.60zM436.79 33.88h3.60v3.27h-3.60zM436.79 39.83h3.60v3.27h-3.60zM436.79 42.80h3.60v3.27h-3.60zM436.79 45.78h3.60v3.27h-3.60zM436.79 48.75h3.60v3.27h-3.60zM436.79 51.73h3.60v3.27h-3.60zM436.79 54.70h3.60v3.27h-3.60zM436.79 57.68h3.60v3.27h-3.60zM436.79 72.55h3.60v3.27h-3.60zM436.79 75.53h3.60v3.27h-3.60zM436.79 78.50h3.60v3.27h-3.60zM436.79 87.42h3.60v3.27h-3.60zM436.79 90.40h3.60v3.27h-3.60zM436.79 96.35h3.60v3.27h-3.60zM436.79 105.28h3.60v3.27h-3.60zM436.79 114.20h3.60v3.27h-3.60zM436.79 120.15h3.60v3.27h-3.60zM436.79 123.12h3.60v3.27h-3.60zM440.10 24.95h3.60v3.27h-3.60zM440.10 36.85h3.60v3.27h-3.60z"/>
<path fill="#307ff4" shape-rendering="crispEdges" d="M436.79 60.65h3.60v3.27h-3.60zM436.79 63.62h3.60v3.27h-3.60zM436.79 66.60h3.60v3.27h-3.60zM436.79 69.58h3.60v3.27h-3.60zM436.79 81.47h3.60v3.27h-3.60zM436.79 84.45h3.60v3.27h-3.60zM436.79 93.38h3.60v3.27h-3.60zM436.79 99.33h3.60v3.27h-3.60zM436.79 102.30h3.60v3.27h-3.60zM436.79 108.25h3.60v3.27h-3.60zM436.79 111.23h3.60v3.27h-3.60zM436.79 117.17h3.60v3.27h-3.60zM436.79 126.10h3.60v3.27h-3.60zM436.79 129.07h3.60v3.27h-3.60zM436.79 132.05h3.60v3.27h-3.60zM436.79 135.03h3.60v3.27h-3.60zM440.10 27.93h3.60v3.27h-3.60zM440.10 30.90h3.60v3.27h-3.60zM440.10 33.88h3.60v3.27h-3.60zM440.10 39.83h3.60v3.27h-3.60zM440.10 42.80h3.60v3.27h-3.60zM440.10 45.78h3.60v3.27h-3.60zM440.10 48.75h3.60v3.27h-3.60zM443.40 27.93h3.60v3.27h-3.60z"/>
<path fill="#2e83f2" shape-rendering="crispEdges" d="M440.10 51.73h3.60v3.27h-3.60zM440.10 54.70h3.60v3.27h-3.60zM440.10 57.68h3.60v3.27h-3.60zM440.10 60.65h3.60v3.27h-3.60zM440.10 63.62h3.60v3.27h-3.60zM440.10 66.60h3.60v3.27h-3.60zM440.10 69.58h3.60v3.27h-3.60zM440.10 72.55h3.60v3.27h-3.60zM440.10 75.53h3.60v3.27h-3.60zM440.10 78.50h3.60v3.27h-3.60zM440.10 84.45h3.60v3.27h-3.60zM440.10 87.42h3.60v3.27h-3.60zM440.10 90.40h3.60v3.27h-3.60zM440.10 93.38h3.60v3.27h-3.60zM440.10 96.35h3.60v3.27h-3.60zM440.10 102.30h3.60v3.27h-3.60zM440.10 108.25h3.60v3.27h-3.60zM440.10 111.23h3.60v3.27h-3.60zM440.10 117.17h3.60v3.27h-3.60zM440.10 120.15h3.60v3.27h-3.60zM440.10 123.12h3.60v3.27h-3.60zM440.10 126.10h3.60v3.27h-3.60zM440.10 129.07h3.60v3.27h-3.60zM440.10 132.05h3.60v3.27h-3.60zM443.40 24.95h3.60v3.27h-3.60zM443.40 30.90h3.60v3.27h-3.60zM443.40 33.88h3.60v3.27h-3.60zM443.40 36.85h3.60v3.27h-3.60zM443.40 39.83h3.60v3.27h-3.60zM443.40 42.80h3.60v3.27h-3.60zM443.40 45.78h3.60v3.27h-3.60z"/>
<path fill="#2d88f0" shape-rendering="crispEdges" d="M440.10 81.47h3.60v3.27h-3.60zM440.10 99.33h3.60v3.27h-3.60zM440.10 105.28h3.60v3.27h-3.60zM440.10 114.20h3.60v3.27h-3.60zM440.10 135.03h3.60v3.27h-3.60zM443.40 48.75h3.60v3.27h-3.60zM443.40 51.73h3.60v3.27h-3.60zM443.40 54.70h3.60v3.27h-3.60zM443.40 60.65h3.60v3.27h-3.60zM443.40 63.62h3.60v3.27h-3.60zM443.40 66.60h3.60v3.27h-3.60zM443.40 69.58h3.60v3.27h-3.60zM443.40 72.55h3.60v3.27h-3.60zM443.40 75.53h3.60v3.27h-3.60zM443.40 84.45h3.60v3.27h-3.60zM443.40 87.42h3.60v3.27h-3.60zM446.71 30.90h3.60v3.27h-3.60zM446.71 33.88h3.60v3.27h-3.60z"/>
<path fill="#2c8cef" shape-rendering="crispEdges" d="M443.40 57.68h3.60v3.27h-3.60zM443.40 78.50h3.60v3.27h-3.60zM443.40 81.47h3.60v3.27h-3.60zM443.40 90.40h3.60v3.27h-3.60zM443.40 93.38h3.60v3.27h-3.60zM443.40 96.35h3.60v3.27h-3.60zM443.40 102.30h3.60v3.27h-3.60zM443.40 108.25h3.60v3.27h-3.60zM443.40 111.23h3.60v3.27h-3.60zM443.40 114.20h3.60v3.27h-3.60zM443.40 120.15h3.60v3.27h-3.60zM443.40 123.12h3.60v3.27h-3.60zM443.40 129.07h3.60v3.27h-3.60zM443.40 132.05h3.60v3.27h-3.60zM446.71 27.93h3.60v3.27h-3.60zM446.71 36.85h3.60v3.27h-3.60zM446.71 39.83h3.60v3.27h-3.60zM446.71 42.80h3.60v3.27h-3.60zM446.71 48.75h3.60v3.27h-3.60zM446.71 51.73h3.60v3.27h-3.60z"/>
<path fill="#2a91eb" shape-rendering="crispEdges" d="M443.40 99.33h3.60v3.27h-3.60zM443.40 105.28h3.60v3.27h-3.60zM443.40 117.17h3.60v3.27h-3.60zM443.40 126.10h3.60v3.27h-3.60zM443.40 135.03h3.60v3.27h-3.60zM446.71 45.78h3.60v3.27h-3.60zM446.71 54.70h3.60v3.27h-3.60zM446.71 57.68h3.60v3.27h-3.60zM446.71 60.65h3.60v3.27h-3.60zM446.71 63.62h3.60v3.27h-3.60zM446.71 66.60h3.60v3.27h-3.60zM446.71 69.58h3.60v3.27h-3.60zM446.71 72.55h3.60v3.27h-3.60zM450.01 27.93h3.60v3.27h-3.60zM450.01 30.90h3.60v3.27h-3.60zM450.01 33.88h3.60v3.27h-3.60z"/>
<path fill="#2797e7" shape-rendering="crispEdges" d="M446.71 75.53h3.60v3.27h-3.60zM446.71 78.50h3.60v3.27h-3.60zM446.71 81.47h3.60v3.27h-3.60zM446.71 84.45h3.60v3.27h-3.60zM446.71 90.40h3.60v3.27h-3.60zM446.71 93.38h3.60v3.27h-3.60zM446.71 96.35h3.60v3.27h-3.60zM446.71 99.33h3.60v3.27h-3.60zM446.71 105.28h3.60v3.27h-3.60zM446.71 114.20h3.60v3.27h-3.60zM446.71 117.17h3.60v3.27h-3.60zM446.71 120.15h3.60v3.27h-3.60zM450.01 36.85h3.60v3.27h-3.60zM450.01 39.83h3.60v3.27h-3.60zM450.01 42.80h3.60v3.27h-3.60zM450.01 45.78h3.60v3.27h-3.60zM450.01 48.75h3.60v3.27h-3.60zM450.01 54.70h3.60v3.27h-3.60z"/>
<path fill="#249ce3" shape-rendering="crispEdges" d="M446.71 87.42h3.60v3.27h-3.60zM446.71 102.30h3.60v3.27h-3.60zM446.71 108.25h3.60v3.27h-3.60zM446.71 111.23h3.60v3.27h-3.60zM446.71 123.12h3.60v3.27h-3.60zM446.71 126.10h3.60v3.27h-3.60zM446.71 129.07h3.60v3.27h-3.60zM446.71 132.05h3.60v3.27h-3.60zM446.71 135.03h3.60v3.27h-3.60zM450.01 51.73h3.60v3.27h-3.60zM450.01 57.68h3.60v3.27h-3.60zM450.01 60.65h3.60v3.27h-3.60zM450.01 63.62h3.60v3.27h-3.60zM450.01 69.58h3.60v3.27h-3.60zM450.01 72.55h3.60v3.27h-3.60zM453.31 27.93h3.60v3.27h-3.60zM453.31 30.90h3.60v3.27h-3.60zM453.31 33.88h3.60v3.27h-3.60zM453.31 36.85h3.60v3.27h-3.60zM453.31 42.80h3.60v3.27h-3.60z"/>
<path fill="#20a1df" shape-rendering="crispEdges" d="M450.01 66.60h3.60v3.27h-3.60zM450.01 75.53h3.60v3.27h-3.60zM450.01 78.50h3.60v3.27h-3.60zM450.01 81.47h3.60v3.27h-3.60zM450.01 84.45h3.60v3.27h-3.60zM450.01 114.20h3.60v3.27h-3.60zM453.31 39.83h3.60v3.27h-3.60zM453.31 45.78h3.60v3.27h-3.60z"/>
<path fill="#1da6db" shape-rendering="crispEdges" d="M450.01 87.42h3.60v3.27h-3.60zM450.01 90.40h3.60v3.27h-3.60zM450.01 93.38h3.60v3.27h-3.60zM450.01 96.35h3.60v3.27h-3.60zM450.01 99.33h3.60v3.27h-3.60zM450.01 102.30h3.60v3.27h-3.60zM450.01 105.28h3.60v3.27h-3.60zM450.01 108.25h3.60v3.27h-3.60zM450.01 111.23h3.60v3.27h-3.60zM450.01 117.17h3.60v3.27h-3.60zM450.01 132.05h3.60v3.27h-3.60zM453.31 48.75h3.60v3.27h-3.60zM453.31 51.73h3.60v3.27h-3.60zM453.31 54.70h3.60v3.27h-3.60zM453.31 57.68h3.60v3.27h-3.60zM453.31 60.65h3.60v3.27h-3.60zM453.31 66.60h3.60v3.27h-3.60zM453.31 72.55h3.60v3.27h-3.60zM456.62 30.90h3.60v3.27h-3.60zM456.62 36.85h3.60v3.27h-3.60zM456.62 39.83h3.60v3.27h-3.60zM456.62 42.80h3.60v3.27h-3.60z"/>
<path fill="#18aad8" shape-rendering="crispEdges" d="M450.01 120.15h3.60v3.27h-3.60zM450.01 123.12h3.60v3.27h-3.60zM450.01 126.10h3.60v3.27h-3.60zM450.01 129.07h3.60v3.27h-3.60zM450.01 135.03h3.60v3.27h-3.60zM453.31 63.62h3.60v3.27h-3.60zM453.31 69.58h3.60v3.27h-3.60zM453.31 75.53h3.60v3.27h-3.60zM456.62 33.88h3.60v3.27h-3.60zM456.62 45.78h3.60v3.27h-3.60zM459.93 30.90h3.60v3.27h-3.60z"/>
<path fill="#13aed5" shape-rendering="crispEdges" d="M453.31 78.50h3.60v3.27h-3.60zM453.31 81.47h3.60v3.27h-3.60zM453.31 84.45h3.60v3.27h-3.60zM453.31 87.42h3.60v3.27h-3.60zM453.31 90.40h3.60v3.27h-3.60zM456.62 48.75h3.60v3.27h-3.60zM456.62 51.73h3.60v3.27h-3.60zM456.62 54.70h3.60v3.27h-3.60zM456.62 57.68h3.60v3.27h-3.60zM459.93 33.88h3.60v3.27h-3.60z"/>
<path fill="#0fb2d2" shape-rendering="crispEdges" d="M453.31 93.38h3.60v3.27h-3.60zM453.31 96.35h3.60v3.27h-3.60zM453.31 99.33h3.60v3.27h-3.60zM453.31 102.30h3.60v3.27h-3.60zM453.31 105.28h3.60v3.27h-3.60zM453.31 108.25h3.60v3.27h-3.60zM453.31 114.20h3.60v3.27h-3.60zM453.31 117.17h3.60v3.27h-3.60zM453.31 123.12h3.60v3.27h-3.60zM453.31 132.05h3.60v3.27h-3.60zM456.62 60.65h3.60v3.27h-3.60zM456.62 63.62h3.60v3.27h-3.60zM456.62 66.60h3.60v3.27h-3.60zM459.93 36.85h3.60v3.27h-3.60zM459.93 39.83h3.60v3.27h-3.60zM459.93 45.78h3.60v3.27h-3.60z"/>
<path fill="#0db5ce" shape-rendering="crispEdges" d="M453.31 111.23h3.60v3.27h-3.60zM453.31 120.15h3.60v3.27h-3.60zM453.31 126.10h3.60v3.27h-3.60zM453.31 129.07h3.60v3.27h-3.60zM453.31 135.03h3.60v3.27h-3.60zM456.62 69.58h3.60v3.27h-3.60zM456.62 75.53h3.60v3.27h-3.60zM459.93 42.80h3.60v3.27h-3.60zM459.93 48.75h3.60v3.27h-3.60zM459.93 51.73h3.60v3.27h-3.60zM459.93 54.70h3.60v3.27h-3.60zM463.23 33.88h3.60v3.27h-3.60z"/>
<path fill="#11b8c8" shape-rendering="crispEdges" d="M456.62 72.55h3.60v3.27h-3.60zM456.62 78.50h3.60v3.27h-3.60zM456.62 81.47h3.60v3.27h-3.60zM456.62 84.45h3.60v3.27h-3.60zM456.62 90.40h3.60v3.27h-3.60zM459.93 57.68h3.60v3.27h-3.60zM463.23 36.85h3.60v3.27h-3.60zM463.23 39.83h3.60v3.27h-3.60zM463.23 42.80h3.60v3.27h-3.60z"/>
<path fill="#14bac2" shape-rendering="crispEdges" d="M456.62 87.42h3.60v3.27h-3.60zM456.62 93.38h3.60v3.27h-3.60zM456.62 96.35h3.60v3.27h-3.60zM456.62 99.33h3.60v3.27h-3.60zM456.62 102.30h3.60v3.27h-3.60zM456.62 105.28h3.60v3.27h-3.60zM456.62 114.20h3.60v3.27h-3.60zM459.93 60.65h3.60v3.27h-3.60zM463.23 45.78h3.60v3.27h-3.60zM463.23 48.75h3.60v3.27h-3.60zM466.54 36.85h3.60v3.27h-3.60z"/>
<path fill="#18bdbc" shape-rendering="crispEdges" d="M456.62 108.25h3.60v3.27h-3.60zM456.62 111.23h3.60v3.27h-3.60zM456.62 117.17h3.60v3.27h-3.60zM456.62 120.15h3.60v3.27h-3.60zM456.62 123.12h3.60v3.27h-3.60zM456.62 126.10h3.60v3.27h-3.60zM456.62 129.07h3.60v3.27h-3.60zM456.62 135.03h3.60v3.27h-3.60zM459.93 63.62h3.60v3.27h-3.60zM459.93 66.60h3.60v3.27h-3.60zM459.93 69.58h3.60v3.27h-3.60zM459.93 72.55h3.60v3.27h-3.60zM463.23 51.73h3.60v3.27h-3.60zM463.23 54.70h3.60v3.27h-3.60zM466.54 39.83h3.60v3.27h-3.60zM466.54 42.80h3.60v3.27h-3.60z"/>
<path fill="#1dbfb5" shape-rendering="crispEdges" d="M456.62 132.05h3.60v3.27h-3.60zM459.93 75.53h3.60v3.27h-3.60zM459.93 78.50h3.60v3.27h-3.60zM463.23 57.68h3.60v3.27h-3.60zM466.54 45.78h3.60v3.27h-3.60zM466.54 48.75h3.60v3.27h-3.60zM469.84 36.85h3.60v3.27h-3.60z"/>
<path fill="#25c1ad" shape-rendering="crispEdges" d="M459.93 81.47h3.60v3.27h-3.60zM459.93 84.45h3.60v3.27h-3.60zM459.93 87.42h3.60v3.27h-3.60zM459.93 90.40h3.60v3.27h-3.60zM463.23 60.65h3.60v3.27h-3.60zM466.54 51.73h3.60v3.27h-3.60zM469.84 39.83h3.60v3.27h-3.60z"/>
<path fill="#2cc3a6" shape-rendering="crispEdges" d="M459.93 93.38h3.60v3.27h-3.60zM459.93 96.35h3.60v3.27h-3.60zM459.93 99.33h3.60v3.27h-3.60zM459.93 102.30h3.60v3.27h-3.60zM459.93 105.28h3.60v3.27h-3.60zM459.93 108.25h3.60v3.27h-3.60zM459.93 123.12h3.60v3.27h-3.60zM463.23 63.62h3.60v3.27h-3.60zM463.23 66.60h3.60v3.27h-3.60zM466.54 54.70h3.60v3.27h-3.60zM469.84 42.80h3.60v3.27h-3.60z"/>
<path fill="#34c59e" shape-rendering="crispEdges" d="M459.93 111.23h3.60v3.27h-3.60zM459.93 114.20h3.60v3.27h-3.60zM459.93 117.17h3.60v3.27h-3.60zM459.93 120.15h3.60v3.27h-3.60zM459.93 132.05h3.60v3.27h-3.60zM459.93 135.03h3.60v3.27h-3.60zM463.23 69.58h3.60v3.27h-3.60zM463.23 72.55h3.60v3.27h-3.60zM469.84 45.78h3.60v3.27h-3.60zM469.84 48.75h3.60v3.27h-3.60zM473.14 39.83h3.60v3.27h-3.60z"/>
<path fill="#3fc794" shape-rendering="crispEdges" d="M459.93 126.10h3.60v3.27h-3.60zM459.93 129.07h3.60v3.27h-3.60zM463.23 75.53h3.60v3.27h-3.60zM463.23 78.50h3.60v3.27h-3.60zM463.23 84.45h3.60v3.27h-3.60zM466.54 57.68h3.60v3.27h-3.60zM466.54 60.65h3.60v3.27h-3.60zM473.14 42.80h3.60v3.27h-3.60z"/>
<path fill="#4bc888" shape-rendering="crispEdges" d="M463.23 81.47h3.60v3.27h-3.60zM463.23 87.42h3.60v3.27h-3.60zM463.23 90.40h3.60v3.27h-3.60zM463.23 99.33h3.60v3.27h-3.60zM466.54 63.62h3.60v3.27h-3.60zM469.84 51.73h3.60v3.27h-3.60zM469.84 54.70h3.60v3.27h-3.60zM473.14 45.78h3.60v3.27h-3.60z"/>
<path fill="#57ca7d" shape-rendering="crispEdges" d="M463.23 93.38h3.60v3.27h-3.60zM463.23 96.35h3.60v3.27h-3.60zM463.23 102.30h3.60v3.27h-3.60zM463.23 108.25h3.60v3.27h-3.60zM463.23 114.20h3.60v3.27h-3.60zM463.23 117.17h3.60v3.27h-3.60zM466.54 66.60h3.60v3.27h-3.60zM466.54 69.58h3.60v3.27h-3.60zM469.84 57.68h3.60v3.27h-3.60z"/>
<path fill="#64cb72" shape-rendering="crispEdges" d="M463.23 105.28h3.60v3.27h-3.60zM463.23 111.23h3.60v3.27h-3.60zM463.23 120.15h3.60v3.27h-3.60zM463.23 126.10h3.60v3.27h-3.60zM463.23 129.07h3.60v3.27h-3.60zM463.23 132.05h3.60v3.27h-3.60zM466.54 72.55h3.60v3.27h-3.60zM469.84 60.65h3.60v3.27h-3.60zM473.14 48.75h3.60v3.27h-3.60zM473.14 51.73h3.60v3.27h-3.60zM476.45 42.80h3.60v3.27h-3.60z"/>
<path fill="#6fcc68" shape-rendering="crispEdges" d="M463.23 123.12h3.60v3.27h-3.60zM463.23 135.03h3.60v3.27h-3.60zM466.54 75.53h3.60v3.27h-3.60zM469.84 63.62h3.60v3.27h-3.60zM476.45 45.78h3.60v3.27h-3.60z"/>
<path fill="#7bcc60" shape-rendering="crispEdges" d="M466.54 78.50h3.60v3.27h-3.60zM466.54 81.47h3.60v3.27h-3.60zM466.54 84.45h3.60v3.27h-3.60zM469.84 66.60h3.60v3.27h-3.60zM473.14 54.70h3.60v3.27h-3.60zM476.45 48.75h3.60v3.27h-3.60z"/>
<path fill="#86cc59" shape-rendering="crispEdges" d="M466.54 87.42h3.60v3.27h-3.60zM466.54 90.40h3.60v3.27h-3.60zM466.54 93.38h3.60v3.27h-3.60zM466.54 96.35h3.60v3.27h-3.60zM466.54 99.33h3.60v3.27h-3.60zM466.54 102.30h3.60v3.27h-3.60zM466.54 108.25h3.60v3.27h-3.60zM473.14 57.68h3.60v3.27h-3.60zM476.45 51.73h3.60v3.27h-3.60z"/>
<path fill="#91cc51" shape-rendering="crispEdges" d="M466.54 105.28h3.60v3.27h-3.60zM466.54 111.23h3.60v3.27h-3.60zM466.54 120.15h3.60v3.27h-3.60zM466.54 123.12h3.60v3.27h-3.60zM466.54 126.10h3.60v3.27h-3.60zM466.54 135.03h3.60v3.27h-3.60zM469.84 69.58h3.60v3.27h-3.60zM469.84 72.55h3.60v3.27h-3.60zM473.14 60.65h3.60v3.27h-3.60z"/>
<path fill="#9ecb48" shape-rendering="crispEdges" d="M466.54 114.20h3.60v3.27h-3.60zM466.54 117.17h3.60v3.27h-3.60zM466.54 129.07h3.60v3.27h-3.60zM466.54 132.05h3.60v3.27h-3.60zM469.84 75.53h3.60v3.27h-3.60zM469.84 78.50h3.60v3.27h-3.60zM476.45 54.70h3.60v3.27h-3.60zM476.45 57.68h3.60v3.27h-3.60zM479.75 48.75h3.60v3.27h-3.60z"/>
<path fill="#abca3e" shape-rendering="crispEdges" d="M469.84 81.47h3.60v3.27h-3.60zM469.84 84.45h3.60v3.27h-3.60zM473.14 63.62h3.60v3.27h-3.60zM473.14 66.60h3.60v3.27h-3.60zM479.75 51.73h3.60v3.27h-3.60z"/>
<path fill="#b7c935" shape-rendering="crispEdges" d="M469.84 87.42h3.60v3.27h-3.60zM469.84 90.40h3.60v3.27h-3.60zM469.84 93.38h3.60v3.27h-3.60zM469.84 96.35h3.60v3.27h-3.60zM473.14 69.58h3.60v3.27h-3.60zM476.45 60.65h3.60v3.27h-3.60z"/>
<path fill="#c4c82b" shape-rendering="crispEdges" d="M469.84 99.33h3.60v3.27h-3.60zM469.84 102.30h3.60v3.27h-3.60zM469.84 105.28h3.60v3.27h-3.60zM469.84 108.25h3.60v3.27h-3.60zM469.84 111.23h3.60v3.27h-3.60zM469.84 114.20h3.60v3.27h-3.60zM469.84 120.15h3.60v3.27h-3.60zM469.84 123.12h3.60v3.27h-3.60zM469.84 129.07h3.60v3.27h-3.60zM473.14 72.55h3.60v3.27h-3.60zM476.45 63.62h3.60v3.27h-3.60zM479.75 54.70h3.60v3.27h-3.60z"/>
<path fill="#d0c52b" shape-rendering="crispEdges" d="M469.84 117.17h3.60v3.27h-3.60zM469.84 126.10h3.60v3.27h-3.60zM469.84 132.05h3.60v3.27h-3.60zM469.84 135.03h3.60v3.27h-3.60z"/>
<path fill="#dcc12f" shape-rendering="crispEdges" d="M473.14 75.53h3.60v3.27h-3.60zM473.14 78.50h3.60v3.27h-3.60zM473.14 81.47h3.60v3.27h-3.60zM473.14 84.45h3.60v3.27h-3.60zM476.45 66.60h3.60v3.27h-3.60zM479.75 57.68h3.60v3.27h-3.60zM479.75 60.65h3.60v3.27h-3.60z"/>
<path fill="#e7bd33" shape-rendering="crispEdges" d="M473.14 87.42h3.60v3.27h-3.60zM473.14 90.40h3.60v3.27h-3.60zM473.14 93.38h3.60v3.27h-3.60zM473.14 96.35h3.60v3.27h-3.60zM473.14 111.23h3.60v3.27h-3.60zM476.45 69.58h3.60v3.27h-3.60z"/>
<path fill="#f3b937" shape-rendering="crispEdges" d="M473.14 99.33h3.60v3.27h-3.60zM473.14 102.30h3.60v3.27h-3.60zM473.14 105.28h3.60v3.27h-3.60zM473.14 114.20h3.60v3.27h-3.60zM473.14 117.17h3.60v3.27h-3.60zM473.14 123.12h3.60v3.27h-3.60zM476.45 72.55h3.60v3.27h-3.60zM479.75 63.62h3.60v3.27h-3.60z"/>
<path fill="#f7be35" shape-rendering="crispEdges" d="M473.14 108.25h3.60v3.27h-3.60zM473.14 120.15h3.60v3.27h-3.60zM473.14 126.10h3.60v3.27h-3.60zM473.14 129.07h3.60v3.27h-3.60zM473.14 132.05h3.60v3.27h-3.60zM473.14 135.03h3.60v3.27h-3.60zM476.45 75.53h3.60v3.27h-3.60zM479.75 66.60h3.60v3.27h-3.60zM483.06 57.68h3.60v3.27h-3.60zM483.06 60.65h3.60v3.27h-3.60z"/>
<path fill="#f9c431" shape-rendering="crispEdges" d="M476.45 78.50h3.60v3.27h-3.60zM476.45 81.47h3.60v3.27h-3.60zM476.45 84.45h3.60v3.27h-3.60zM479.75 69.58h3.60v3.27h-3.60zM483.06 63.62h3.60v3.27h-3.60z"/>
<path fill="#fbcb2e" shape-rendering="crispEdges" d="M476.45 87.42h3.60v3.27h-3.60zM476.45 90.40h3.60v3.27h-3.60zM476.45 93.38h3.60v3.27h-3.60zM476.45 96.35h3.60v3.27h-3.60zM476.45 99.33h3.60v3.27h-3.60zM476.45 102.30h3.60v3.27h-3.60zM476.45 105.28h3.60v3.27h-3.60zM479.75 72.55h3.60v3.27h-3.60z"/>
<path fill="#fdd22a" shape-rendering="crispEdges" d="M476.45 108.25h3.60v3.27h-3.60zM476.45 111.23h3.60v3.27h-3.60zM476.45 114.20h3.60v3.27h-3.60zM476.45 120.15h3.60v3.27h-3.60zM476.45 126.10h3.60v3.27h-3.60zM476.45 129.07h3.60v3.27h-3.60zM476.45 132.05h3.60v3.27h-3.60zM476.45 135.03h3.60v3.27h-3.60zM479.75 75.53h3.60v3.27h-3.60zM483.06 66.60h3.60v3.27h-3.60zM483.06 69.58h3.60v3.27h-3.60z"/>
<path fill="#fbd728" shape-rendering="crispEdges" d="M476.45 117.17h3.60v3.27h-3.60zM476.45 123.12h3.60v3.27h-3.60zM479.75 78.50h3.60v3.27h-3.60zM479.75 81.47h3.60v3.27h-3.60zM479.75 96.35h3.60v3.27h-3.60zM483.06 72.55h3.60v3.27h-3.60z"/>
<path fill="#f9dc26" shape-rendering="crispEdges" d="M479.75 84.45h3.60v3.27h-3.60zM479.75 87.42h3.60v3.27h-3.60zM479.75 90.40h3.60v3.27h-3.60zM479.75 99.33h3.60v3.27h-3.60zM479.75 102.30h3.60v3.27h-3.60zM479.75 105.28h3.60v3.27h-3.60zM479.75 114.20h3.60v3.27h-3.60zM479.75 120.15h3.60v3.27h-3.60zM479.75 129.07h3.60v3.27h-3.60zM479.75 132.05h3.60v3.27h-3.60zM479.75 135.03h3.60v3.27h-3.60zM483.06 75.53h3.60v3.27h-3.60z"/>
<path fill="#f7e124" shape-rendering="crispEdges" d="M479.75 93.38h3.60v3.27h-3.60zM479.75 108.25h3.60v3.27h-3.60zM479.75 111.23h3.60v3.27h-3.60zM479.75 117.17h3.60v3.27h-3.60zM479.75 123.12h3.60v3.27h-3.60zM479.75 126.10h3.60v3.27h-3.60zM483.06 78.50h3.60v3.27h-3.60zM483.06 81.47h3.60v3.27h-3.60zM483.06 84.45h3.60v3.27h-3.60z"/>
<path fill="#f5eb21" shape-rendering="crispEdges" d="M483.06 87.42h3.60v3.27h-3.60zM483.06 99.33h3.60v3.27h-3.60zM483.06 108.25h3.60v3.27h-3.60zM483.06 111.23h3.60v3.27h-3.60zM483.06 114.20h3.60v3.27h-3.60zM483.06 123.12h3.60v3.27h-3.60zM483.06 126.10h3.60v3.27h-3.60zM483.06 129.07h3.60v3.27h-3.60zM483.06 132.05h3.60v3.27h-3.60zM483.06 135.03h3.60v3.27h-3.60zM486.37 81.47h3.60v3.27h-3.60zM486.37 84.45h3.60v3.27h-3.60zM486.37 87.42h3.60v3.27h-3.60zM486.37 93.38h3.60v3.27h-3.60zM486.37 99.33h3.60v3.27h-3.60zM486.37 102.30h3.60v3.27h-3.60zM486.37 111.23h3.60v3.27h-3.60zM486.37 123.12h3.60v3.27h-3.60zM486.37 126.10h3.60v3.27h-3.60zM489.67 123.12h3.60v3.27h-3.60zM489.67 132.05h3.60v3.27h-3.60zM489.67 135.03h3.60v3.27h-3.60z"/>
<path fill="#f5e622" shape-rendering="crispEdges" d="M483.06 90.40h3.60v3.27h-3.60zM483.06 93.38h3.60v3.27h-3.60zM483.06 96.35h3.60v3.27h-3.60zM483.06 102.30h3.60v3.27h-3.60zM483.06 105.28h3.60v3.27h-3.60zM483.06 117.17h3.60v3.27h-3.60zM483.06 120.15h3.60v3.27h-3.60zM486.37 75.53h3.60v3.27h-3.60zM486.37 78.50h3.60v3.27h-3.60z"/>
<path fill="#f5f121" shape-rendering="crispEdges" d="M486.37 90.40h3.60v3.27h-3.60zM486.37 96.35h3.60v3.27h-3.60zM486.37 105.28h3.60v3.27h-3.60zM486.37 108.25h3.60v3.27h-3.60zM486.37 114.20h3.60v3.27h-3.60zM486.37 117.17h3.60v3.27h-3.60zM486.37 120.15h3.60v3.27h-3.60zM486.37 129.07h3.60v3.27h-3.60zM486.37 132.05h3.60v3.27h-3.60zM486.37 135.03h3.60v3.27h-3.60zM489.67 126.10h3.60v3.27h-3.60zM489.67 129.07h3.60v3.27h-3.60z"/>
<polyline fill="none" stroke="#c40a0a" stroke-width="2.6" points="377.30,19.52 377.86,19.53 378.42,19.54 378.98,19.55 379.55,19.56 380.11,19.58 380.67,19.59 381.23,19.60 381.79,19.61 382.35,19.62 382.91,19.64 383.48,19.65 384.04,19.66 384.60,19.68 385.16,19.69 385.72,19.70 386.28,19.72 386.84,19.73 387.40,19.75 387.97,19.76 388.53,19.78 389.09,19.79 389.65,19.81 390.21,19.82 390.77,19.84 391.33,19.86 391.90,19.87 392.46,19.89 393.02,19.91 393.58,19.93 394.14,19.95 394.70,19.97 395.26,19.98 395.83,20.00 396.39,20.02 396.95,20.05 397.51,20.07 398.07,20.09 398.63,20.11 399.19,20.13 399.75,20.16 400.32,20.18 400.88,20.20 401.44,20.23 402.00,20.25 402.56,20.28 403.12,20.30 403.68,20.33 404.25,20.36 404.81,20.38 405.37,20.41 405.93,20.44 406.49,20.47 407.05,20.50 407.61,20.53 408.18,20.56 408.74,20.59 409.30,20.63 409.86,20.66 410.42,20.69 410.98,20.73 411.54,20.76 412.10,20.80 412.67,20.84 413.23,20.87 413.79,20.91 414.35,20.95 414.91,20.99 415.47,21.03 416.03,21.07 416.60,21.12 417.16,21.16 417.72,21.20 418.28,21.25 418.84,21.30 419.40,21.34 419.96,21.39 420.53,21.44 421.09,21.49 421.65,21.54 422.21,21.60 422.77,21.65 423.33,21.71 423.89,21.76 424.45,21.82 425.02,21.88 425.58,21.94 426.14,22.00 426.70,22.06 427.26,22.13 427.82,22.19 428.38,22.26 428.95,22.33 429.51,22.40 430.07,22.47 430.63,22.54 431.19,22.62 431.75,22.70 432.31,22.78 432.88,22.86 433.44,22.94 434.00,23.02 434.56,23.11 435.12,23.20 435.68,23.29 436.24,23.38 436.80,23.47 437.37,23.57 437.93,23.67 438.49,23.77 439.05,23.87 439.61,23.98 440.17,24.09 440.73,24.20 441.30,24.31 441.86,24.43 442.42,24.55 442.98,24.67 443.54,24.80 444.10,24.93 444.66,25.06 445.23,25.19 445.79,25.33 446.35,25.47 446.91,25.62 447.47,25.77 448.03,25.92 448.59,26.08 449.15,26.24 449.72,26.41 450.28,26.58 450.84,26.75 451.40,26.93 451.96,27.11 452.52,27.30 453.08,27.50 453.65,27.70 454.21,27.90 454.77,28.11 455.33,28.33 455.89,28.55 456.45,28.78 457.01,29.02 457.58,29.26 458.14,29.51 458.70,29.77 459.26,30.03 459.82,30.31 460.38,30.59 460.94,30.88 461.50,31.18 462.07,31.49 462.63,31.81 463.19,32.13 463.75,32.48 464.31,32.83 464.87,33.19 465.43,33.57 466.00,33.96 466.56,34.36 467.12,34.78 467.68,35.21 468.24,35.66 468.80,36.12 469.36,36.61 469.93,37.11 470.49,37.64 471.05,38.18 471.61,38.75 472.17,39.34 472.73,39.96 473.29,40.61 473.85,41.28 474.42,41.99 474.98,42.73 475.54,43.51 476.10,44.33 476.66,45.20 477.22,46.11 477.78,47.07 478.35,48.09 478.91,49.18 479.47,50.33 480.03,51.57 480.59,52.89 481.15,54.31 481.71,55.85 482.28,57.52 482.84,59.33 483.40,61.33 483.96,63.54 484.52,66.00 485.08,68.78 485.64,71.96 486.21,75.66 486.77,80.08 487.33,85.54 487.89,92.61 488.45,102.62 489.01,119.65 489.57,138.00"/>
<path d="M377.5,19.0V138.4H509.50" fill="none" stroke="#111" stroke-width="0.9"/>
<path d="M377.30 138.00h2.0M377.30 138.0v-2.0M377.30 120.09h1.2M397.20 138.0v-1.2M377.30 109.61h1.2M408.84 138.0v-1.2M377.30 102.18h1.2M417.10 138.0v-1.2M377.30 96.41h1.2M423.50 138.0v-1.2M377.30 91.70h1.2M428.74 138.0v-1.2M377.30 87.72h1.2M433.16 138.0v-1.2M377.30 84.27h1.2M436.99 138.0v-1.2M377.30 81.22h1.2M440.38 138.0v-1.2M377.30 78.50h2.0M443.40 138.0v-2.0M377.30 78.50h2.0M443.40 138.0v-2.0M377.30 60.59h1.2M463.30 138.0v-1.2M377.30 50.11h1.2M474.94 138.0v-1.2M377.30 42.68h1.2M483.20 138.0v-1.2M377.30 36.91h1.2M489.60 138.0v-1.2M377.30 32.20h1.2M494.84 138.0v-1.2M377.30 28.22h1.2M499.26 138.0v-1.2M377.30 24.77h1.2M503.09 138.0v-1.2M377.30 21.72h1.2M506.48 138.0v-1.2M377.30 19.00h2.0M509.50 138.0v-2.0" stroke="#000" stroke-width="0.6" fill="none"/>
<text x="362.64" y="21.00" font-size="8.2" fill="#1a1a1a" textLength="8.94" lengthAdjust="spacingAndGlyphs">10</text>
<text x="372.58" y="17.23" font-size="5.90" fill="#1a1a1a" textLength="3.22" lengthAdjust="spacingAndGlyphs">0</text>
<text x="360.72" y="81.30" font-size="8.2" fill="#1a1a1a" textLength="8.94" lengthAdjust="spacingAndGlyphs">10</text>
<text x="370.66" y="77.53" font-size="5.90" fill="#1a1a1a" textLength="5.14" lengthAdjust="spacingAndGlyphs">-1</text>
<text x="360.72" y="140.20" font-size="8.2" fill="#1a1a1a" textLength="8.94" lengthAdjust="spacingAndGlyphs">10</text>
<text x="370.66" y="136.43" font-size="5.90" fill="#1a1a1a" textLength="5.14" lengthAdjust="spacingAndGlyphs">-2</text>
<text x="371.40" y="149.40" font-size="8.2" fill="#1a1a1a" textLength="8.94" lengthAdjust="spacingAndGlyphs">10</text>
<text x="381.34" y="145.63" font-size="5.90" fill="#1a1a1a" textLength="5.14" lengthAdjust="spacingAndGlyphs">-2</text>
<text x="438.30" y="149.40" font-size="8.2" fill="#1a1a1a" textLength="8.94" lengthAdjust="spacingAndGlyphs">10</text>
<text x="448.24" y="145.63" font-size="5.90" fill="#1a1a1a" textLength="5.14" lengthAdjust="spacingAndGlyphs">-1</text>
<text x="499.70" y="149.40" font-size="8.2" fill="#1a1a1a" textLength="8.94" lengthAdjust="spacingAndGlyphs">10</text>
<text x="509.64" y="145.63" font-size="5.90" fill="#1a1a1a" textLength="3.22" lengthAdjust="spacingAndGlyphs">0</text>
<text x="414.90" y="153.3" font-size="9.5" font-style="italic" fill="#222">K<tspan font-size="5.6" dy="2">B</tspan></text>
<text transform="translate(366.30,51.0) rotate(-90)" font-size="9.5" font-style="italic" fill="#222">K<tspan font-size="5.6" dy="2">G</tspan></text>
<text x="499.10" y="19.0" font-size="9" fill="#222" text-anchor="end" textLength="78.4" lengthAdjust="spacingAndGlyphs">retracting leaves, <tspan font-style="italic">N</tspan><tspan font-size="5.5" font-style="italic" dy="2">R</tspan></text>
<path fill="#483fdf" shape-rendering="crispEdges" d="M543.00 33.88h3.60v3.27h-3.60zM543.00 39.83h3.60v3.27h-3.60zM546.30 33.88h3.60v3.27h-3.60zM546.30 36.85h3.60v3.27h-3.60zM556.22 27.93h3.60v3.27h-3.60zM556.22 36.85h3.60v3.27h-3.60z"/>
<path fill="#4943e4" shape-rendering="crispEdges" d="M543.00 36.85h3.60v3.27h-3.60zM543.00 42.80h3.60v3.27h-3.60zM543.00 45.78h3.60v3.27h-3.60zM543.00 48.75h3.60v3.27h-3.60zM546.30 39.83h3.60v3.27h-3.60zM549.61 30.90h3.60v3.27h-3.60zM549.61 36.85h3.60v3.27h-3.60zM549.61 39.83h3.60v3.27h-3.60zM549.61 45.78h3.60v3.27h-3.60zM552.91 30.90h3.60v3.27h-3.60zM552.91 36.85h3.60v3.27h-3.60zM566.13 27.93h3.60v3.27h-3.60zM569.44 30.90h3.60v3.27h-3.60zM569.44 33.88h3.60v3.27h-3.60zM572.75 24.95h3.60v3.27h-3.60z"/>
<path fill="#484fee" shape-rendering="crispEdges" d="M543.00 51.73h3.60v3.27h-3.60zM546.30 48.75h3.60v3.27h-3.60zM549.61 51.73h3.60v3.27h-3.60zM552.91 48.75h3.60v3.27h-3.60zM559.52 33.88h3.60v3.27h-3.60zM559.52 36.85h3.60v3.27h-3.60zM559.52 39.83h3.60v3.27h-3.60zM562.83 30.90h3.60v3.27h-3.60zM562.83 36.85h3.60v3.27h-3.60zM566.13 36.85h3.60v3.27h-3.60zM569.44 27.93h3.60v3.27h-3.60zM569.44 36.85h3.60v3.27h-3.60zM572.75 21.98h3.60v3.27h-3.60zM572.75 30.90h3.60v3.27h-3.60zM572.75 33.88h3.60v3.27h-3.60zM576.05 24.95h3.60v3.27h-3.60zM579.36 30.90h3.60v3.27h-3.60zM582.66 21.98h3.60v3.27h-3.60zM585.97 21.98h3.60v3.27h-3.60zM585.97 24.95h3.60v3.27h-3.60z"/>
<path fill="#4855f3" shape-rendering="crispEdges" d="M543.00 54.70h3.60v3.27h-3.60zM546.30 51.73h3.60v3.27h-3.60zM549.61 54.70h3.60v3.27h-3.60zM556.22 30.90h3.60v3.27h-3.60zM556.22 39.83h3.60v3.27h-3.60zM556.22 45.78h3.60v3.27h-3.60zM556.22 51.73h3.60v3.27h-3.60zM559.52 42.80h3.60v3.27h-3.60zM559.52 45.78h3.60v3.27h-3.60zM559.52 48.75h3.60v3.27h-3.60zM562.83 33.88h3.60v3.27h-3.60zM562.83 51.73h3.60v3.27h-3.60zM566.13 30.90h3.60v3.27h-3.60zM566.13 39.83h3.60v3.27h-3.60zM576.05 30.90h3.60v3.27h-3.60zM579.36 24.95h3.60v3.27h-3.60zM579.36 27.93h3.60v3.27h-3.60zM582.66 24.95h3.60v3.27h-3.60zM582.66 30.90h3.60v3.27h-3.60zM582.66 33.88h3.60v3.27h-3.60zM585.97 30.90h3.60v3.27h-3.60zM589.27 21.98h3.60v3.27h-3.60z"/>
<path fill="#475bf8" shape-rendering="crispEdges" d="M543.00 57.68h3.60v3.27h-3.60zM543.00 60.65h3.60v3.27h-3.60zM543.00 63.62h3.60v3.27h-3.60zM546.30 54.70h3.60v3.27h-3.60zM556.22 48.75h3.60v3.27h-3.60zM562.83 39.83h3.60v3.27h-3.60zM562.83 42.80h3.60v3.27h-3.60zM562.83 45.78h3.60v3.27h-3.60zM566.13 33.88h3.60v3.27h-3.60zM566.13 42.80h3.60v3.27h-3.60zM569.44 39.83h3.60v3.27h-3.60zM569.44 42.80h3.60v3.27h-3.60zM572.75 36.85h3.60v3.27h-3.60zM572.75 39.83h3.60v3.27h-3.60zM576.05 33.88h3.60v3.27h-3.60zM579.36 36.85h3.60v3.27h-3.60zM582.66 27.93h3.60v3.27h-3.60zM585.97 33.88h3.60v3.27h-3.60zM589.27 24.95h3.60v3.27h-3.60zM595.88 24.95h3.60v3.27h-3.60z"/>
<path fill="#4462fb" shape-rendering="crispEdges" d="M543.00 66.60h3.60v3.27h-3.60zM543.00 69.58h3.60v3.27h-3.60zM546.30 57.68h3.60v3.27h-3.60zM546.30 63.62h3.60v3.27h-3.60zM549.61 57.68h3.60v3.27h-3.60zM549.61 60.65h3.60v3.27h-3.60zM552.91 51.73h3.60v3.27h-3.60zM552.91 54.70h3.60v3.27h-3.60zM552.91 57.68h3.60v3.27h-3.60zM556.22 54.70h3.60v3.27h-3.60zM559.52 54.70h3.60v3.27h-3.60zM566.13 51.73h3.60v3.27h-3.60zM576.05 39.83h3.60v3.27h-3.60zM576.05 42.80h3.60v3.27h-3.60zM579.36 33.88h3.60v3.27h-3.60zM585.97 27.93h3.60v3.27h-3.60zM589.27 27.93h3.60v3.27h-3.60zM589.27 30.90h3.60v3.27h-3.60zM592.58 24.95h3.60v3.27h-3.60zM592.58 30.90h3.60v3.27h-3.60zM595.88 27.93h3.60v3.27h-3.60zM599.18 24.95h3.60v3.27h-3.60z"/>
<path fill="#307ff4" shape-rendering="crispEdges" d="M543.00 72.55h3.60v3.27h-3.60zM543.00 78.50h3.60v3.27h-3.60zM549.61 72.55h3.60v3.27h-3.60zM559.52 57.68h3.60v3.27h-3.60zM559.52 63.62h3.60v3.27h-3.60zM566.13 60.65h3.60v3.27h-3.60zM566.13 63.62h3.60v3.27h-3.60zM569.44 54.70h3.60v3.27h-3.60zM569.44 63.62h3.60v3.27h-3.60zM572.75 57.68h3.60v3.27h-3.60zM579.36 45.78h3.60v3.27h-3.60zM579.36 48.75h3.60v3.27h-3.60zM579.36 51.73h3.60v3.27h-3.60zM582.66 51.73h3.60v3.27h-3.60zM585.97 39.83h3.60v3.27h-3.60zM585.97 42.80h3.60v3.27h-3.60zM589.27 39.83h3.60v3.27h-3.60zM589.27 45.78h3.60v3.27h-3.60zM592.58 36.85h3.60v3.27h-3.60zM592.58 39.83h3.60v3.27h-3.60zM602.49 27.93h3.60v3.27h-3.60zM602.49 30.90h3.60v3.27h-3.60zM602.49 33.88h3.60v3.27h-3.60zM605.79 27.93h3.60v3.27h-3.60zM609.10 24.95h3.60v3.27h-3.60z"/>
<path fill="#3379f6" shape-rendering="crispEdges" d="M543.00 75.53h3.60v3.27h-3.60zM546.30 72.55h3.60v3.27h-3.60zM546.30 75.53h3.60v3.27h-3.60zM549.61 66.60h3.60v3.27h-3.60zM549.61 69.58h3.60v3.27h-3.60zM552.91 66.60h3.60v3.27h-3.60zM556.22 66.60h3.60v3.27h-3.60zM559.52 60.65h3.60v3.27h-3.60zM562.83 57.68h3.60v3.27h-3.60zM562.83 60.65h3.60v3.27h-3.60zM566.13 57.68h3.60v3.27h-3.60zM572.75 48.75h3.60v3.27h-3.60zM572.75 51.73h3.60v3.27h-3.60zM576.05 51.73h3.60v3.27h-3.60zM582.66 39.83h3.60v3.27h-3.60zM582.66 45.78h3.60v3.27h-3.60zM585.97 45.78h3.60v3.27h-3.60zM599.18 30.90h3.60v3.27h-3.60zM599.18 33.88h3.60v3.27h-3.60zM602.49 36.85h3.60v3.27h-3.60zM609.10 27.93h3.60v3.27h-3.60z"/>
<path fill="#2e83f2" shape-rendering="crispEdges" d="M543.00 81.47h3.60v3.27h-3.60zM552.91 69.58h3.60v3.27h-3.60zM552.91 72.55h3.60v3.27h-3.60zM552.91 75.53h3.60v3.27h-3.60zM556.22 69.58h3.60v3.27h-3.60zM562.83 63.62h3.60v3.27h-3.60zM562.83 66.60h3.60v3.27h-3.60zM569.44 60.65h3.60v3.27h-3.60zM582.66 48.75h3.60v3.27h-3.60zM589.27 42.80h3.60v3.27h-3.60zM589.27 48.75h3.60v3.27h-3.60zM592.58 42.80h3.60v3.27h-3.60zM592.58 45.78h3.60v3.27h-3.60zM595.88 39.83h3.60v3.27h-3.60zM595.88 45.78h3.60v3.27h-3.60zM599.18 36.85h3.60v3.27h-3.60zM599.18 39.83h3.60v3.27h-3.60zM599.18 45.78h3.60v3.27h-3.60zM605.79 30.90h3.60v3.27h-3.60zM605.79 36.85h3.60v3.27h-3.60zM612.40 27.93h3.60v3.27h-3.60zM612.40 30.90h3.60v3.27h-3.60zM615.71 27.93h3.60v3.27h-3.60z"/>
<path fill="#2a91eb" shape-rendering="crispEdges" d="M543.00 84.45h3.60v3.27h-3.60zM543.00 93.38h3.60v3.27h-3.60zM546.30 90.40h3.60v3.27h-3.60zM549.61 84.45h3.60v3.27h-3.60zM552.91 81.47h3.60v3.27h-3.60zM559.52 78.50h3.60v3.27h-3.60zM572.75 66.60h3.60v3.27h-3.60zM576.05 66.60h3.60v3.27h-3.60zM582.66 54.70h3.60v3.27h-3.60zM585.97 54.70h3.60v3.27h-3.60zM585.97 60.65h3.60v3.27h-3.60zM589.27 54.70h3.60v3.27h-3.60zM592.58 51.73h3.60v3.27h-3.60zM592.58 54.70h3.60v3.27h-3.60zM605.79 42.80h3.60v3.27h-3.60zM609.10 45.78h3.60v3.27h-3.60zM612.40 36.85h3.60v3.27h-3.60zM619.01 30.90h3.60v3.27h-3.60zM619.01 33.88h3.60v3.27h-3.60zM619.01 36.85h3.60v3.27h-3.60zM622.32 30.90h3.60v3.27h-3.60z"/>
<path fill="#2c8cef" shape-rendering="crispEdges" d="M543.00 87.42h3.60v3.27h-3.60zM543.00 90.40h3.60v3.27h-3.60zM546.30 81.47h3.60v3.27h-3.60zM546.30 84.45h3.60v3.27h-3.60zM549.61 75.53h3.60v3.27h-3.60zM549.61 78.50h3.60v3.27h-3.60zM556.22 72.55h3.60v3.27h-3.60zM556.22 75.53h3.60v3.27h-3.60zM559.52 72.55h3.60v3.27h-3.60zM559.52 75.53h3.60v3.27h-3.60zM566.13 66.60h3.60v3.27h-3.60zM569.44 66.60h3.60v3.27h-3.60zM569.44 69.58h3.60v3.27h-3.60zM572.75 60.65h3.60v3.27h-3.60zM572.75 63.62h3.60v3.27h-3.60zM576.05 57.68h3.60v3.27h-3.60zM576.05 60.65h3.60v3.27h-3.60zM579.36 57.68h3.60v3.27h-3.60zM579.36 60.65h3.60v3.27h-3.60zM582.66 57.68h3.60v3.27h-3.60zM582.66 60.65h3.60v3.27h-3.60zM585.97 57.68h3.60v3.27h-3.60zM589.27 51.73h3.60v3.27h-3.60zM592.58 48.75h3.60v3.27h-3.60zM595.88 48.75h3.60v3.27h-3.60zM602.49 39.83h3.60v3.27h-3.60zM602.49 45.78h3.60v3.27h-3.60zM605.79 39.83h3.60v3.27h-3.60zM605.79 45.78h3.60v3.27h-3.60zM609.10 36.85h3.60v3.27h-3.60zM609.10 39.83h3.60v3.27h-3.60zM609.10 42.80h3.60v3.27h-3.60zM615.71 30.90h3.60v3.27h-3.60zM615.71 33.88h3.60v3.27h-3.60zM619.01 27.93h3.60v3.27h-3.60zM625.62 30.90h3.60v3.27h-3.60z"/>
<path fill="#20a1df" shape-rendering="crispEdges" d="M543.00 96.35h3.60v3.27h-3.60zM549.61 90.40h3.60v3.27h-3.60zM549.61 93.38h3.60v3.27h-3.60zM552.91 87.42h3.60v3.27h-3.60zM556.22 87.42h3.60v3.27h-3.60zM556.22 90.40h3.60v3.27h-3.60zM566.13 81.47h3.60v3.27h-3.60zM569.44 81.47h3.60v3.27h-3.60zM576.05 72.55h3.60v3.27h-3.60zM582.66 63.62h3.60v3.27h-3.60zM582.66 66.60h3.60v3.27h-3.60zM589.27 60.65h3.60v3.27h-3.60zM589.27 63.62h3.60v3.27h-3.60zM595.88 57.68h3.60v3.27h-3.60zM599.18 57.68h3.60v3.27h-3.60zM602.49 54.70h3.60v3.27h-3.60zM612.40 48.75h3.60v3.27h-3.60zM615.71 39.83h3.60v3.27h-3.60zM615.71 42.80h3.60v3.27h-3.60zM619.01 39.83h3.60v3.27h-3.60zM622.32 39.83h3.60v3.27h-3.60z"/>
<path fill="#1da6db" shape-rendering="crispEdges" d="M543.00 99.33h3.60v3.27h-3.60zM546.30 96.35h3.60v3.27h-3.60zM562.83 81.47h3.60v3.27h-3.60zM562.83 84.45h3.60v3.27h-3.60zM569.44 78.50h3.60v3.27h-3.60zM572.75 78.50h3.60v3.27h-3.60zM576.05 75.53h3.60v3.27h-3.60zM579.36 72.55h3.60v3.27h-3.60zM582.66 69.58h3.60v3.27h-3.60zM585.97 66.60h3.60v3.27h-3.60zM589.27 66.60h3.60v3.27h-3.60zM592.58 60.65h3.60v3.27h-3.60zM605.79 51.73h3.60v3.27h-3.60zM615.71 45.78h3.60v3.27h-3.60zM628.93 33.88h3.60v3.27h-3.60z"/>
<path fill="#18aad8" shape-rendering="crispEdges" d="M543.00 102.30h3.60v3.27h-3.60zM546.30 99.33h3.60v3.27h-3.60zM549.61 96.35h3.60v3.27h-3.60zM552.91 93.38h3.60v3.27h-3.60zM566.13 84.45h3.60v3.27h-3.60zM579.36 75.53h3.60v3.27h-3.60zM599.18 60.65h3.60v3.27h-3.60zM602.49 57.68h3.60v3.27h-3.60zM609.10 48.75h3.60v3.27h-3.60zM609.10 51.73h3.60v3.27h-3.60zM612.40 45.78h3.60v3.27h-3.60zM622.32 42.80h3.60v3.27h-3.60z"/>
<path fill="#0db5ce" shape-rendering="crispEdges" d="M543.00 105.28h3.60v3.27h-3.60zM546.30 102.30h3.60v3.27h-3.60zM556.22 96.35h3.60v3.27h-3.60zM559.52 96.35h3.60v3.27h-3.60zM569.44 84.45h3.60v3.27h-3.60zM579.36 78.50h3.60v3.27h-3.60zM589.27 69.58h3.60v3.27h-3.60zM595.88 66.60h3.60v3.27h-3.60zM602.49 60.65h3.60v3.27h-3.60zM605.79 57.68h3.60v3.27h-3.60zM622.32 45.78h3.60v3.27h-3.60zM628.93 39.83h3.60v3.27h-3.60z"/>
<path fill="#18bdbc" shape-rendering="crispEdges" d="M543.00 108.25h3.60v3.27h-3.60zM556.22 99.33h3.60v3.27h-3.60zM566.13 93.38h3.60v3.27h-3.60zM569.44 87.42h3.60v3.27h-3.60zM589.27 75.53h3.60v3.27h-3.60zM602.49 63.62h3.60v3.27h-3.60zM609.10 57.68h3.60v3.27h-3.60zM609.10 60.65h3.60v3.27h-3.60zM622.32 48.75h3.60v3.27h-3.60zM632.24 39.83h3.60v3.27h-3.60z"/>
<path fill="#34c59e" shape-rendering="crispEdges" d="M543.00 111.23h3.60v3.27h-3.60zM552.91 105.28h3.60v3.27h-3.60zM566.13 96.35h3.60v3.27h-3.60zM582.66 84.45h3.60v3.27h-3.60zM592.58 75.53h3.60v3.27h-3.60zM599.18 72.55h3.60v3.27h-3.60zM602.49 69.58h3.60v3.27h-3.60zM605.79 66.60h3.60v3.27h-3.60zM619.01 57.68h3.60v3.27h-3.60zM622.32 54.70h3.60v3.27h-3.60zM635.54 42.80h3.60v3.27h-3.60z"/>
<path fill="#2cc3a6" shape-rendering="crispEdges" d="M543.00 114.20h3.60v3.27h-3.60zM549.61 108.25h3.60v3.27h-3.60zM556.22 102.30h3.60v3.27h-3.60zM569.44 90.40h3.60v3.27h-3.60zM585.97 81.47h3.60v3.27h-3.60zM589.27 78.50h3.60v3.27h-3.60zM609.10 63.62h3.60v3.27h-3.60zM612.40 60.65h3.60v3.27h-3.60zM615.71 57.68h3.60v3.27h-3.60zM619.01 54.70h3.60v3.27h-3.60zM625.62 51.73h3.60v3.27h-3.60zM628.93 48.75h3.60v3.27h-3.60zM632.24 45.78h3.60v3.27h-3.60z"/>
<path fill="#57ca7d" shape-rendering="crispEdges" d="M543.00 117.17h3.60v3.27h-3.60zM546.30 114.20h3.60v3.27h-3.60zM556.22 108.25h3.60v3.27h-3.60zM559.52 105.28h3.60v3.27h-3.60zM562.83 102.30h3.60v3.27h-3.60zM566.13 99.33h3.60v3.27h-3.60zM592.58 81.47h3.60v3.27h-3.60zM612.40 66.60h3.60v3.27h-3.60zM622.32 57.68h3.60v3.27h-3.60zM632.24 51.73h3.60v3.27h-3.60zM638.85 45.78h3.60v3.27h-3.60zM642.15 42.80h3.60v3.27h-3.60z"/>
<path fill="#6fcc68" shape-rendering="crispEdges" d="M543.00 120.15h3.60v3.27h-3.60zM552.91 111.23h3.60v3.27h-3.60zM552.91 114.20h3.60v3.27h-3.60zM576.05 96.35h3.60v3.27h-3.60zM579.36 93.38h3.60v3.27h-3.60zM582.66 90.40h3.60v3.27h-3.60zM585.97 87.42h3.60v3.27h-3.60zM589.27 84.45h3.60v3.27h-3.60zM589.27 87.42h3.60v3.27h-3.60zM592.58 84.45h3.60v3.27h-3.60zM599.18 78.50h3.60v3.27h-3.60zM602.49 75.53h3.60v3.27h-3.60zM609.10 72.55h3.60v3.27h-3.60zM612.40 69.58h3.60v3.27h-3.60zM625.62 57.68h3.60v3.27h-3.60zM632.24 54.70h3.60v3.27h-3.60z"/>
<path fill="#7bcc60" shape-rendering="crispEdges" d="M543.00 123.12h3.60v3.27h-3.60zM595.88 81.47h3.60v3.27h-3.60zM599.18 81.47h3.60v3.27h-3.60zM602.49 78.50h3.60v3.27h-3.60zM605.79 75.53h3.60v3.27h-3.60zM619.01 66.60h3.60v3.27h-3.60zM622.32 60.65h3.60v3.27h-3.60zM628.93 57.68h3.60v3.27h-3.60zM642.15 45.78h3.60v3.27h-3.60z"/>
<path fill="#9ecb48" shape-rendering="crispEdges" d="M543.00 126.10h3.60v3.27h-3.60zM559.52 114.20h3.60v3.27h-3.60zM566.13 108.25h3.60v3.27h-3.60zM569.44 108.25h3.60v3.27h-3.60zM576.05 99.33h3.60v3.27h-3.60zM579.36 96.35h3.60v3.27h-3.60zM585.97 93.38h3.60v3.27h-3.60zM589.27 90.40h3.60v3.27h-3.60zM589.27 93.38h3.60v3.27h-3.60zM619.01 72.55h3.60v3.27h-3.60zM622.32 66.60h3.60v3.27h-3.60zM628.93 60.65h3.60v3.27h-3.60zM632.24 60.65h3.60v3.27h-3.60zM635.54 57.68h3.60v3.27h-3.60zM645.46 48.75h3.60v3.27h-3.60z"/>
<path fill="#b7c935" shape-rendering="crispEdges" d="M543.00 129.07h3.60v3.27h-3.60zM549.61 123.12h3.60v3.27h-3.60zM566.13 111.23h3.60v3.27h-3.60zM566.13 114.20h3.60v3.27h-3.60zM576.05 102.30h3.60v3.27h-3.60zM576.05 105.28h3.60v3.27h-3.60zM579.36 102.30h3.60v3.27h-3.60zM589.27 96.35h3.60v3.27h-3.60zM602.49 81.47h3.60v3.27h-3.60zM602.49 84.45h3.60v3.27h-3.60zM609.10 78.50h3.60v3.27h-3.60zM612.40 75.53h3.60v3.27h-3.60zM622.32 69.58h3.60v3.27h-3.60zM625.62 66.60h3.60v3.27h-3.60zM628.93 63.62h3.60v3.27h-3.60zM632.24 63.62h3.60v3.27h-3.60zM638.85 57.68h3.60v3.27h-3.60zM642.15 57.68h3.60v3.27h-3.60z"/>
<path fill="#dcc12f" shape-rendering="crispEdges" d="M543.00 132.05h3.60v3.27h-3.60zM543.00 135.03h3.60v3.27h-3.60zM549.61 129.07h3.60v3.27h-3.60zM549.61 132.05h3.60v3.27h-3.60zM559.52 123.12h3.60v3.27h-3.60zM562.83 120.15h3.60v3.27h-3.60zM566.13 123.12h3.60v3.27h-3.60zM576.05 108.25h3.60v3.27h-3.60zM576.05 114.20h3.60v3.27h-3.60zM592.58 99.33h3.60v3.27h-3.60zM592.58 102.30h3.60v3.27h-3.60zM595.88 96.35h3.60v3.27h-3.60zM595.88 102.30h3.60v3.27h-3.60zM602.49 96.35h3.60v3.27h-3.60zM605.79 90.40h3.60v3.27h-3.60zM612.40 81.47h3.60v3.27h-3.60zM612.40 84.45h3.60v3.27h-3.60zM619.01 78.50h3.60v3.27h-3.60zM622.32 78.50h3.60v3.27h-3.60zM628.93 69.58h3.60v3.27h-3.60zM628.93 72.55h3.60v3.27h-3.60zM632.24 66.60h3.60v3.27h-3.60zM635.54 66.60h3.60v3.27h-3.60zM642.15 60.65h3.60v3.27h-3.60zM645.46 60.65h3.60v3.27h-3.60z"/>
<path fill="#463bd9" shape-rendering="crispEdges" d="M546.30 42.80h3.60v3.27h-3.60zM549.61 42.80h3.60v3.27h-3.60z"/>
<path fill="#4948e9" shape-rendering="crispEdges" d="M546.30 45.78h3.60v3.27h-3.60zM549.61 33.88h3.60v3.27h-3.60zM549.61 48.75h3.60v3.27h-3.60zM552.91 33.88h3.60v3.27h-3.60zM552.91 39.83h3.60v3.27h-3.60zM552.91 42.80h3.60v3.27h-3.60zM552.91 45.78h3.60v3.27h-3.60zM556.22 33.88h3.60v3.27h-3.60zM556.22 42.80h3.60v3.27h-3.60zM559.52 27.93h3.60v3.27h-3.60zM559.52 30.90h3.60v3.27h-3.60zM562.83 24.95h3.60v3.27h-3.60zM562.83 27.93h3.60v3.27h-3.60zM566.13 24.95h3.60v3.27h-3.60zM569.44 24.95h3.60v3.27h-3.60zM572.75 27.93h3.60v3.27h-3.60zM576.05 21.98h3.60v3.27h-3.60zM576.05 27.93h3.60v3.27h-3.60zM579.36 21.98h3.60v3.27h-3.60z"/>
<path fill="#3f6afa" shape-rendering="crispEdges" d="M546.30 60.65h3.60v3.27h-3.60zM546.30 69.58h3.60v3.27h-3.60zM549.61 63.62h3.60v3.27h-3.60zM556.22 57.68h3.60v3.27h-3.60zM562.83 48.75h3.60v3.27h-3.60zM562.83 54.70h3.60v3.27h-3.60zM566.13 45.78h3.60v3.27h-3.60zM569.44 45.78h3.60v3.27h-3.60zM569.44 51.73h3.60v3.27h-3.60zM572.75 42.80h3.60v3.27h-3.60zM572.75 45.78h3.60v3.27h-3.60zM576.05 36.85h3.60v3.27h-3.60zM576.05 45.78h3.60v3.27h-3.60zM579.36 39.83h3.60v3.27h-3.60zM579.36 42.80h3.60v3.27h-3.60zM582.66 36.85h3.60v3.27h-3.60zM582.66 42.80h3.60v3.27h-3.60zM585.97 36.85h3.60v3.27h-3.60zM589.27 36.85h3.60v3.27h-3.60zM592.58 27.93h3.60v3.27h-3.60zM602.49 24.95h3.60v3.27h-3.60z"/>
<path fill="#3971f8" shape-rendering="crispEdges" d="M546.30 66.60h3.60v3.27h-3.60zM552.91 60.65h3.60v3.27h-3.60zM552.91 63.62h3.60v3.27h-3.60zM556.22 60.65h3.60v3.27h-3.60zM556.22 63.62h3.60v3.27h-3.60zM559.52 51.73h3.60v3.27h-3.60zM566.13 48.75h3.60v3.27h-3.60zM566.13 54.70h3.60v3.27h-3.60zM569.44 48.75h3.60v3.27h-3.60zM576.05 48.75h3.60v3.27h-3.60zM589.27 33.88h3.60v3.27h-3.60zM592.58 33.88h3.60v3.27h-3.60zM595.88 30.90h3.60v3.27h-3.60zM595.88 33.88h3.60v3.27h-3.60zM595.88 36.85h3.60v3.27h-3.60zM599.18 27.93h3.60v3.27h-3.60zM605.79 24.95h3.60v3.27h-3.60z"/>
<path fill="#2d88f0" shape-rendering="crispEdges" d="M546.30 78.50h3.60v3.27h-3.60zM549.61 81.47h3.60v3.27h-3.60zM552.91 78.50h3.60v3.27h-3.60zM559.52 66.60h3.60v3.27h-3.60zM559.52 69.58h3.60v3.27h-3.60zM562.83 69.58h3.60v3.27h-3.60zM566.13 69.58h3.60v3.27h-3.60zM569.44 57.68h3.60v3.27h-3.60zM572.75 54.70h3.60v3.27h-3.60zM576.05 54.70h3.60v3.27h-3.60zM579.36 54.70h3.60v3.27h-3.60zM585.97 48.75h3.60v3.27h-3.60zM585.97 51.73h3.60v3.27h-3.60zM595.88 42.80h3.60v3.27h-3.60zM599.18 42.80h3.60v3.27h-3.60zM602.49 42.80h3.60v3.27h-3.60zM605.79 33.88h3.60v3.27h-3.60zM609.10 30.90h3.60v3.27h-3.60zM609.10 33.88h3.60v3.27h-3.60zM612.40 33.88h3.60v3.27h-3.60z"/>
<path fill="#2797e7" shape-rendering="crispEdges" d="M546.30 87.42h3.60v3.27h-3.60zM549.61 87.42h3.60v3.27h-3.60zM552.91 84.45h3.60v3.27h-3.60zM556.22 78.50h3.60v3.27h-3.60zM556.22 81.47h3.60v3.27h-3.60zM556.22 84.45h3.60v3.27h-3.60zM559.52 81.47h3.60v3.27h-3.60zM562.83 75.53h3.60v3.27h-3.60zM562.83 78.50h3.60v3.27h-3.60zM566.13 72.55h3.60v3.27h-3.60zM566.13 78.50h3.60v3.27h-3.60zM569.44 72.55h3.60v3.27h-3.60zM569.44 75.53h3.60v3.27h-3.60zM572.75 72.55h3.60v3.27h-3.60zM576.05 63.62h3.60v3.27h-3.60zM579.36 66.60h3.60v3.27h-3.60zM592.58 57.68h3.60v3.27h-3.60zM595.88 51.73h3.60v3.27h-3.60zM599.18 48.75h3.60v3.27h-3.60zM605.79 48.75h3.60v3.27h-3.60zM612.40 39.83h3.60v3.27h-3.60zM612.40 42.80h3.60v3.27h-3.60zM615.71 36.85h3.60v3.27h-3.60zM625.62 33.88h3.60v3.27h-3.60z"/>
<path fill="#249ce3" shape-rendering="crispEdges" d="M546.30 93.38h3.60v3.27h-3.60zM552.91 90.40h3.60v3.27h-3.60zM559.52 84.45h3.60v3.27h-3.60zM562.83 72.55h3.60v3.27h-3.60zM566.13 75.53h3.60v3.27h-3.60zM572.75 69.58h3.60v3.27h-3.60zM572.75 75.53h3.60v3.27h-3.60zM576.05 69.58h3.60v3.27h-3.60zM579.36 63.62h3.60v3.27h-3.60zM579.36 69.58h3.60v3.27h-3.60zM585.97 63.62h3.60v3.27h-3.60zM589.27 57.68h3.60v3.27h-3.60zM595.88 54.70h3.60v3.27h-3.60zM599.18 51.73h3.60v3.27h-3.60zM599.18 54.70h3.60v3.27h-3.60zM602.49 48.75h3.60v3.27h-3.60zM602.49 51.73h3.60v3.27h-3.60zM619.01 42.80h3.60v3.27h-3.60zM622.32 33.88h3.60v3.27h-3.60zM622.32 36.85h3.60v3.27h-3.60z"/>
<path fill="#1dbfb5" shape-rendering="crispEdges" d="M546.30 105.28h3.60v3.27h-3.60zM546.30 108.25h3.60v3.27h-3.60zM562.83 93.38h3.60v3.27h-3.60zM562.83 96.35h3.60v3.27h-3.60zM572.75 87.42h3.60v3.27h-3.60zM579.36 81.47h3.60v3.27h-3.60zM579.36 84.45h3.60v3.27h-3.60zM582.66 78.50h3.60v3.27h-3.60zM582.66 81.47h3.60v3.27h-3.60zM585.97 78.50h3.60v3.27h-3.60zM595.88 69.58h3.60v3.27h-3.60zM595.88 72.55h3.60v3.27h-3.60zM599.18 69.58h3.60v3.27h-3.60zM632.24 42.80h3.60v3.27h-3.60zM638.85 39.83h3.60v3.27h-3.60z"/>
<path fill="#3fc794" shape-rendering="crispEdges" d="M546.30 111.23h3.60v3.27h-3.60zM552.91 108.25h3.60v3.27h-3.60zM556.22 105.28h3.60v3.27h-3.60zM559.52 102.30h3.60v3.27h-3.60zM562.83 99.33h3.60v3.27h-3.60zM572.75 93.38h3.60v3.27h-3.60zM576.05 90.40h3.60v3.27h-3.60zM579.36 87.42h3.60v3.27h-3.60zM592.58 78.50h3.60v3.27h-3.60zM612.40 63.62h3.60v3.27h-3.60zM615.71 60.65h3.60v3.27h-3.60zM632.24 48.75h3.60v3.27h-3.60zM635.54 45.78h3.60v3.27h-3.60zM638.85 42.80h3.60v3.27h-3.60z"/>
<path fill="#86cc59" shape-rendering="crispEdges" d="M546.30 117.17h3.60v3.27h-3.60zM549.61 117.17h3.60v3.27h-3.60zM559.52 108.25h3.60v3.27h-3.60zM569.44 102.30h3.60v3.27h-3.60zM572.75 99.33h3.60v3.27h-3.60zM585.97 90.40h3.60v3.27h-3.60zM595.88 84.45h3.60v3.27h-3.60zM612.40 72.55h3.60v3.27h-3.60zM615.71 66.60h3.60v3.27h-3.60zM615.71 69.58h3.60v3.27h-3.60zM619.01 63.62h3.60v3.27h-3.60zM625.62 60.65h3.60v3.27h-3.60zM635.54 51.73h3.60v3.27h-3.60zM635.54 54.70h3.60v3.27h-3.60zM638.85 48.75h3.60v3.27h-3.60z"/>
<path fill="#91cc51" shape-rendering="crispEdges" d="M546.30 120.15h3.60v3.27h-3.60zM549.61 120.15h3.60v3.27h-3.60zM552.91 117.17h3.60v3.27h-3.60zM556.22 114.20h3.60v3.27h-3.60zM559.52 111.23h3.60v3.27h-3.60zM562.83 108.25h3.60v3.27h-3.60zM562.83 111.23h3.60v3.27h-3.60zM566.13 105.28h3.60v3.27h-3.60zM569.44 105.28h3.60v3.27h-3.60zM572.75 102.30h3.60v3.27h-3.60zM582.66 93.38h3.60v3.27h-3.60zM582.66 96.35h3.60v3.27h-3.60zM592.58 87.42h3.60v3.27h-3.60zM599.18 84.45h3.60v3.27h-3.60zM605.79 78.50h3.60v3.27h-3.60zM609.10 75.53h3.60v3.27h-3.60zM615.71 72.55h3.60v3.27h-3.60zM622.32 63.62h3.60v3.27h-3.60zM638.85 51.73h3.60v3.27h-3.60zM642.15 48.75h3.60v3.27h-3.60z"/>
<path fill="#abca3e" shape-rendering="crispEdges" d="M546.30 123.12h3.60v3.27h-3.60zM552.91 120.15h3.60v3.27h-3.60zM556.22 117.17h3.60v3.27h-3.60zM572.75 105.28h3.60v3.27h-3.60zM579.36 99.33h3.60v3.27h-3.60zM592.58 90.40h3.60v3.27h-3.60zM595.88 87.42h3.60v3.27h-3.60zM599.18 87.42h3.60v3.27h-3.60zM602.49 87.42h3.60v3.27h-3.60zM609.10 84.45h3.60v3.27h-3.60zM619.01 69.58h3.60v3.27h-3.60zM625.62 63.62h3.60v3.27h-3.60zM632.24 57.68h3.60v3.27h-3.60zM638.85 54.70h3.60v3.27h-3.60zM642.15 51.73h3.60v3.27h-3.60zM645.46 51.73h3.60v3.27h-3.60z"/>
<path fill="#c4c82b" shape-rendering="crispEdges" d="M546.30 126.10h3.60v3.27h-3.60zM552.91 123.12h3.60v3.27h-3.60zM556.22 120.15h3.60v3.27h-3.60zM556.22 123.12h3.60v3.27h-3.60zM559.52 117.17h3.60v3.27h-3.60zM562.83 114.20h3.60v3.27h-3.60zM569.44 111.23h3.60v3.27h-3.60zM572.75 108.25h3.60v3.27h-3.60zM572.75 114.20h3.60v3.27h-3.60zM582.66 99.33h3.60v3.27h-3.60zM582.66 102.30h3.60v3.27h-3.60zM585.97 96.35h3.60v3.27h-3.60zM585.97 99.33h3.60v3.27h-3.60zM592.58 93.38h3.60v3.27h-3.60zM592.58 96.35h3.60v3.27h-3.60zM595.88 90.40h3.60v3.27h-3.60zM602.49 90.40h3.60v3.27h-3.60zM605.79 84.45h3.60v3.27h-3.60zM609.10 81.47h3.60v3.27h-3.60zM609.10 87.42h3.60v3.27h-3.60zM612.40 78.50h3.60v3.27h-3.60zM619.01 75.53h3.60v3.27h-3.60zM628.93 66.60h3.60v3.27h-3.60zM635.54 60.65h3.60v3.27h-3.60zM635.54 63.62h3.60v3.27h-3.60zM642.15 54.70h3.60v3.27h-3.60zM645.46 54.70h3.60v3.27h-3.60z"/>
<path fill="#d0c52b" shape-rendering="crispEdges" d="M546.30 129.07h3.60v3.27h-3.60zM546.30 132.05h3.60v3.27h-3.60zM549.61 126.10h3.60v3.27h-3.60zM552.91 126.10h3.60v3.27h-3.60zM562.83 117.17h3.60v3.27h-3.60zM566.13 117.17h3.60v3.27h-3.60zM569.44 114.20h3.60v3.27h-3.60zM572.75 111.23h3.60v3.27h-3.60zM579.36 105.28h3.60v3.27h-3.60zM579.36 108.25h3.60v3.27h-3.60zM582.66 105.28h3.60v3.27h-3.60zM585.97 102.30h3.60v3.27h-3.60zM585.97 105.28h3.60v3.27h-3.60zM589.27 99.33h3.60v3.27h-3.60zM595.88 93.38h3.60v3.27h-3.60zM599.18 90.40h3.60v3.27h-3.60zM599.18 93.38h3.60v3.27h-3.60zM605.79 81.47h3.60v3.27h-3.60zM605.79 87.42h3.60v3.27h-3.60zM615.71 75.53h3.60v3.27h-3.60zM615.71 78.50h3.60v3.27h-3.60zM622.32 72.55h3.60v3.27h-3.60zM622.32 75.53h3.60v3.27h-3.60zM625.62 69.58h3.60v3.27h-3.60zM625.62 72.55h3.60v3.27h-3.60zM632.24 69.58h3.60v3.27h-3.60zM638.85 60.65h3.60v3.27h-3.60z"/>
<path fill="#f3b937" shape-rendering="crispEdges" d="M546.30 135.03h3.60v3.27h-3.60zM552.91 132.05h3.60v3.27h-3.60zM556.22 126.10h3.60v3.27h-3.60zM556.22 132.05h3.60v3.27h-3.60zM559.52 126.10h3.60v3.27h-3.60zM559.52 129.07h3.60v3.27h-3.60zM566.13 129.07h3.60v3.27h-3.60zM569.44 120.15h3.60v3.27h-3.60zM569.44 126.10h3.60v3.27h-3.60zM576.05 117.17h3.60v3.27h-3.60zM579.36 117.17h3.60v3.27h-3.60zM582.66 114.20h3.60v3.27h-3.60zM585.97 111.23h3.60v3.27h-3.60zM585.97 114.20h3.60v3.27h-3.60zM589.27 102.30h3.60v3.27h-3.60zM595.88 99.33h3.60v3.27h-3.60zM599.18 96.35h3.60v3.27h-3.60zM599.18 99.33h3.60v3.27h-3.60zM602.49 93.38h3.60v3.27h-3.60zM602.49 99.33h3.60v3.27h-3.60zM605.79 96.35h3.60v3.27h-3.60zM609.10 90.40h3.60v3.27h-3.60zM609.10 93.38h3.60v3.27h-3.60zM619.01 84.45h3.60v3.27h-3.60zM619.01 87.42h3.60v3.27h-3.60zM622.32 81.47h3.60v3.27h-3.60zM622.32 84.45h3.60v3.27h-3.60zM628.93 78.50h3.60v3.27h-3.60zM628.93 84.45h3.60v3.27h-3.60zM632.24 72.55h3.60v3.27h-3.60zM632.24 75.53h3.60v3.27h-3.60zM635.54 69.58h3.60v3.27h-3.60zM635.54 72.55h3.60v3.27h-3.60zM638.85 63.62h3.60v3.27h-3.60zM638.85 72.55h3.60v3.27h-3.60zM648.76 57.68h3.60v3.27h-3.60zM648.76 63.62h3.60v3.27h-3.60zM648.76 69.58h3.60v3.27h-3.60z"/>
<path fill="#0fb2d2" shape-rendering="crispEdges" d="M549.61 99.33h3.60v3.27h-3.60zM552.91 96.35h3.60v3.27h-3.60zM562.83 87.42h3.60v3.27h-3.60zM572.75 81.47h3.60v3.27h-3.60zM572.75 84.45h3.60v3.27h-3.60zM576.05 78.50h3.60v3.27h-3.60zM582.66 72.55h3.60v3.27h-3.60zM585.97 69.58h3.60v3.27h-3.60zM592.58 66.60h3.60v3.27h-3.60zM595.88 60.65h3.60v3.27h-3.60zM595.88 63.62h3.60v3.27h-3.60zM609.10 54.70h3.60v3.27h-3.60zM619.01 45.78h3.60v3.27h-3.60zM628.93 36.85h3.60v3.27h-3.60z"/>
<path fill="#14bac2" shape-rendering="crispEdges" d="M549.61 102.30h3.60v3.27h-3.60zM559.52 93.38h3.60v3.27h-3.60zM585.97 72.55h3.60v3.27h-3.60zM589.27 72.55h3.60v3.27h-3.60zM592.58 69.58h3.60v3.27h-3.60zM599.18 63.62h3.60v3.27h-3.60zM599.18 66.60h3.60v3.27h-3.60zM605.79 60.65h3.60v3.27h-3.60zM615.71 51.73h3.60v3.27h-3.60zM615.71 54.70h3.60v3.27h-3.60zM625.62 45.78h3.60v3.27h-3.60z"/>
<path fill="#25c1ad" shape-rendering="crispEdges" d="M549.61 105.28h3.60v3.27h-3.60zM552.91 102.30h3.60v3.27h-3.60zM559.52 99.33h3.60v3.27h-3.60zM569.44 93.38h3.60v3.27h-3.60zM572.75 90.40h3.60v3.27h-3.60zM576.05 87.42h3.60v3.27h-3.60zM592.58 72.55h3.60v3.27h-3.60zM602.49 66.60h3.60v3.27h-3.60zM605.79 63.62h3.60v3.27h-3.60zM612.40 57.68h3.60v3.27h-3.60zM619.01 51.73h3.60v3.27h-3.60zM622.32 51.73h3.60v3.27h-3.60zM625.62 48.75h3.60v3.27h-3.60zM628.93 45.78h3.60v3.27h-3.60zM635.54 39.83h3.60v3.27h-3.60z"/>
<path fill="#4bc888" shape-rendering="crispEdges" d="M549.61 111.23h3.60v3.27h-3.60zM569.44 96.35h3.60v3.27h-3.60zM569.44 99.33h3.60v3.27h-3.60zM576.05 93.38h3.60v3.27h-3.60zM579.36 90.40h3.60v3.27h-3.60zM582.66 87.42h3.60v3.27h-3.60zM585.97 84.45h3.60v3.27h-3.60zM589.27 81.47h3.60v3.27h-3.60zM595.88 75.53h3.60v3.27h-3.60zM595.88 78.50h3.60v3.27h-3.60zM602.49 72.55h3.60v3.27h-3.60zM605.79 69.58h3.60v3.27h-3.60zM609.10 66.60h3.60v3.27h-3.60zM619.01 60.65h3.60v3.27h-3.60zM625.62 54.70h3.60v3.27h-3.60zM628.93 51.73h3.60v3.27h-3.60zM635.54 48.75h3.60v3.27h-3.60z"/>
<path fill="#64cb72" shape-rendering="crispEdges" d="M549.61 114.20h3.60v3.27h-3.60zM556.22 111.23h3.60v3.27h-3.60zM562.83 105.28h3.60v3.27h-3.60zM566.13 102.30h3.60v3.27h-3.60zM572.75 96.35h3.60v3.27h-3.60zM599.18 75.53h3.60v3.27h-3.60zM605.79 72.55h3.60v3.27h-3.60zM609.10 69.58h3.60v3.27h-3.60zM615.71 63.62h3.60v3.27h-3.60zM628.93 54.70h3.60v3.27h-3.60z"/>
<path fill="#f7be35" shape-rendering="crispEdges" d="M549.61 135.03h3.60v3.27h-3.60zM552.91 135.03h3.60v3.27h-3.60zM556.22 129.07h3.60v3.27h-3.60zM556.22 135.03h3.60v3.27h-3.60zM559.52 132.05h3.60v3.27h-3.60zM559.52 135.03h3.60v3.27h-3.60zM562.83 126.10h3.60v3.27h-3.60zM566.13 126.10h3.60v3.27h-3.60zM569.44 123.12h3.60v3.27h-3.60zM569.44 129.07h3.60v3.27h-3.60zM572.75 120.15h3.60v3.27h-3.60zM576.05 120.15h3.60v3.27h-3.60zM576.05 126.10h3.60v3.27h-3.60zM589.27 108.25h3.60v3.27h-3.60zM592.58 108.25h3.60v3.27h-3.60zM599.18 102.30h3.60v3.27h-3.60zM602.49 105.28h3.60v3.27h-3.60zM609.10 96.35h3.60v3.27h-3.60zM609.10 102.30h3.60v3.27h-3.60zM615.71 87.42h3.60v3.27h-3.60zM619.01 90.40h3.60v3.27h-3.60zM622.32 90.40h3.60v3.27h-3.60zM625.62 84.45h3.60v3.27h-3.60zM628.93 75.53h3.60v3.27h-3.60zM642.15 66.60h3.60v3.27h-3.60zM642.15 69.58h3.60v3.27h-3.60zM645.46 63.62h3.60v3.27h-3.60zM645.46 66.60h3.60v3.27h-3.60z"/>
<path fill="#11b8c8" shape-rendering="crispEdges" d="M552.91 99.33h3.60v3.27h-3.60zM562.83 90.40h3.60v3.27h-3.60zM566.13 87.42h3.60v3.27h-3.60zM566.13 90.40h3.60v3.27h-3.60zM576.05 81.47h3.60v3.27h-3.60zM576.05 84.45h3.60v3.27h-3.60zM585.97 75.53h3.60v3.27h-3.60zM612.40 54.70h3.60v3.27h-3.60zM619.01 48.75h3.60v3.27h-3.60zM625.62 42.80h3.60v3.27h-3.60zM628.93 42.80h3.60v3.27h-3.60zM635.54 36.85h3.60v3.27h-3.60z"/>
<path fill="#e7bd33" shape-rendering="crispEdges" d="M552.91 129.07h3.60v3.27h-3.60zM559.52 120.15h3.60v3.27h-3.60zM562.83 123.12h3.60v3.27h-3.60zM562.83 129.07h3.60v3.27h-3.60zM566.13 120.15h3.60v3.27h-3.60zM569.44 117.17h3.60v3.27h-3.60zM572.75 117.17h3.60v3.27h-3.60zM576.05 111.23h3.60v3.27h-3.60zM579.36 111.23h3.60v3.27h-3.60zM579.36 114.20h3.60v3.27h-3.60zM582.66 108.25h3.60v3.27h-3.60zM582.66 111.23h3.60v3.27h-3.60zM585.97 108.25h3.60v3.27h-3.60zM605.79 93.38h3.60v3.27h-3.60zM612.40 90.40h3.60v3.27h-3.60zM612.40 93.38h3.60v3.27h-3.60zM615.71 81.47h3.60v3.27h-3.60zM615.71 84.45h3.60v3.27h-3.60zM619.01 81.47h3.60v3.27h-3.60zM625.62 75.53h3.60v3.27h-3.60zM625.62 78.50h3.60v3.27h-3.60zM638.85 66.60h3.60v3.27h-3.60zM638.85 69.58h3.60v3.27h-3.60zM642.15 63.62h3.60v3.27h-3.60zM645.46 57.68h3.60v3.27h-3.60zM648.76 60.65h3.60v3.27h-3.60z"/>
<path fill="#13aed5" shape-rendering="crispEdges" d="M556.22 93.38h3.60v3.27h-3.60zM559.52 87.42h3.60v3.27h-3.60zM559.52 90.40h3.60v3.27h-3.60zM582.66 75.53h3.60v3.27h-3.60zM592.58 63.62h3.60v3.27h-3.60zM605.79 54.70h3.60v3.27h-3.60zM612.40 51.73h3.60v3.27h-3.60zM615.71 48.75h3.60v3.27h-3.60zM625.62 36.85h3.60v3.27h-3.60zM625.62 39.83h3.60v3.27h-3.60zM632.24 36.85h3.60v3.27h-3.60z"/>
<path fill="#f9c431" shape-rendering="crispEdges" d="M562.83 132.05h3.60v3.27h-3.60zM562.83 135.03h3.60v3.27h-3.60zM566.13 132.05h3.60v3.27h-3.60zM566.13 135.03h3.60v3.27h-3.60zM572.75 123.12h3.60v3.27h-3.60zM576.05 123.12h3.60v3.27h-3.60zM579.36 120.15h3.60v3.27h-3.60zM582.66 120.15h3.60v3.27h-3.60zM589.27 111.23h3.60v3.27h-3.60zM589.27 117.17h3.60v3.27h-3.60zM592.58 105.28h3.60v3.27h-3.60zM592.58 114.20h3.60v3.27h-3.60zM595.88 105.28h3.60v3.27h-3.60zM599.18 105.28h3.60v3.27h-3.60zM602.49 102.30h3.60v3.27h-3.60zM605.79 99.33h3.60v3.27h-3.60zM605.79 102.30h3.60v3.27h-3.60zM612.40 87.42h3.60v3.27h-3.60zM612.40 96.35h3.60v3.27h-3.60zM625.62 81.47h3.60v3.27h-3.60zM632.24 78.50h3.60v3.27h-3.60zM635.54 75.53h3.60v3.27h-3.60zM635.54 78.50h3.60v3.27h-3.60zM642.15 72.55h3.60v3.27h-3.60zM648.76 72.55h3.60v3.27h-3.60z"/>
<path fill="#fbcb2e" shape-rendering="crispEdges" d="M569.44 132.05h3.60v3.27h-3.60zM576.05 129.07h3.60v3.27h-3.60zM579.36 123.12h3.60v3.27h-3.60zM579.36 132.05h3.60v3.27h-3.60zM582.66 117.17h3.60v3.27h-3.60zM582.66 132.05h3.60v3.27h-3.60zM585.97 117.17h3.60v3.27h-3.60zM585.97 120.15h3.60v3.27h-3.60zM585.97 123.12h3.60v3.27h-3.60zM589.27 105.28h3.60v3.27h-3.60zM589.27 114.20h3.60v3.27h-3.60zM589.27 123.12h3.60v3.27h-3.60zM592.58 111.23h3.60v3.27h-3.60zM595.88 108.25h3.60v3.27h-3.60zM595.88 111.23h3.60v3.27h-3.60zM599.18 108.25h3.60v3.27h-3.60zM605.79 108.25h3.60v3.27h-3.60zM609.10 99.33h3.60v3.27h-3.60zM612.40 99.33h3.60v3.27h-3.60zM615.71 90.40h3.60v3.27h-3.60zM615.71 96.35h3.60v3.27h-3.60zM622.32 87.42h3.60v3.27h-3.60zM625.62 87.42h3.60v3.27h-3.60zM628.93 81.47h3.60v3.27h-3.60zM628.93 87.42h3.60v3.27h-3.60zM628.93 90.40h3.60v3.27h-3.60zM632.24 81.47h3.60v3.27h-3.60zM632.24 84.45h3.60v3.27h-3.60zM635.54 81.47h3.60v3.27h-3.60zM635.54 84.45h3.60v3.27h-3.60zM638.85 78.50h3.60v3.27h-3.60zM642.15 75.53h3.60v3.27h-3.60zM645.46 69.58h3.60v3.27h-3.60zM645.46 72.55h3.60v3.27h-3.60zM648.76 66.60h3.60v3.27h-3.60zM648.76 75.53h3.60v3.27h-3.60z"/>
<path fill="#fdd22a" shape-rendering="crispEdges" d="M569.44 135.03h3.60v3.27h-3.60zM572.75 126.10h3.60v3.27h-3.60zM572.75 129.07h3.60v3.27h-3.60zM572.75 132.05h3.60v3.27h-3.60zM572.75 135.03h3.60v3.27h-3.60zM579.36 126.10h3.60v3.27h-3.60zM579.36 129.07h3.60v3.27h-3.60zM582.66 123.12h3.60v3.27h-3.60zM582.66 126.10h3.60v3.27h-3.60zM582.66 129.07h3.60v3.27h-3.60zM585.97 126.10h3.60v3.27h-3.60zM585.97 129.07h3.60v3.27h-3.60zM592.58 117.17h3.60v3.27h-3.60zM592.58 120.15h3.60v3.27h-3.60zM595.88 114.20h3.60v3.27h-3.60zM599.18 111.23h3.60v3.27h-3.60zM599.18 117.17h3.60v3.27h-3.60zM602.49 108.25h3.60v3.27h-3.60zM602.49 114.20h3.60v3.27h-3.60zM605.79 105.28h3.60v3.27h-3.60zM612.40 105.28h3.60v3.27h-3.60zM615.71 93.38h3.60v3.27h-3.60zM615.71 99.33h3.60v3.27h-3.60zM619.01 93.38h3.60v3.27h-3.60zM619.01 96.35h3.60v3.27h-3.60zM622.32 96.35h3.60v3.27h-3.60zM622.32 99.33h3.60v3.27h-3.60zM625.62 90.40h3.60v3.27h-3.60zM632.24 87.42h3.60v3.27h-3.60zM635.54 87.42h3.60v3.27h-3.60zM638.85 75.53h3.60v3.27h-3.60zM638.85 81.47h3.60v3.27h-3.60zM638.85 84.45h3.60v3.27h-3.60zM642.15 78.50h3.60v3.27h-3.60zM645.46 75.53h3.60v3.27h-3.60zM645.46 81.47h3.60v3.27h-3.60zM645.46 96.35h3.60v3.27h-3.60zM652.07 75.53h3.60v3.27h-3.60z"/>
<path fill="#fbd728" shape-rendering="crispEdges" d="M576.05 132.05h3.60v3.27h-3.60zM579.36 135.03h3.60v3.27h-3.60zM582.66 135.03h3.60v3.27h-3.60zM585.97 132.05h3.60v3.27h-3.60zM589.27 120.15h3.60v3.27h-3.60zM595.88 120.15h3.60v3.27h-3.60zM595.88 132.05h3.60v3.27h-3.60zM599.18 114.20h3.60v3.27h-3.60zM602.49 120.15h3.60v3.27h-3.60zM605.79 111.23h3.60v3.27h-3.60zM605.79 117.17h3.60v3.27h-3.60zM609.10 105.28h3.60v3.27h-3.60zM609.10 108.25h3.60v3.27h-3.60zM612.40 102.30h3.60v3.27h-3.60zM615.71 102.30h3.60v3.27h-3.60zM615.71 105.28h3.60v3.27h-3.60zM615.71 114.20h3.60v3.27h-3.60zM619.01 99.33h3.60v3.27h-3.60zM619.01 105.28h3.60v3.27h-3.60zM622.32 93.38h3.60v3.27h-3.60zM622.32 105.28h3.60v3.27h-3.60zM625.62 93.38h3.60v3.27h-3.60zM628.93 99.33h3.60v3.27h-3.60zM632.24 96.35h3.60v3.27h-3.60zM635.54 96.35h3.60v3.27h-3.60zM642.15 81.47h3.60v3.27h-3.60zM642.15 84.45h3.60v3.27h-3.60zM648.76 78.50h3.60v3.27h-3.60zM652.07 78.50h3.60v3.27h-3.60z"/>
<path fill="#f9dc26" shape-rendering="crispEdges" d="M576.05 135.03h3.60v3.27h-3.60zM589.27 132.05h3.60v3.27h-3.60zM589.27 135.03h3.60v3.27h-3.60zM592.58 126.10h3.60v3.27h-3.60zM592.58 129.07h3.60v3.27h-3.60zM592.58 132.05h3.60v3.27h-3.60zM592.58 135.03h3.60v3.27h-3.60zM595.88 123.12h3.60v3.27h-3.60zM595.88 126.10h3.60v3.27h-3.60zM599.18 120.15h3.60v3.27h-3.60zM599.18 123.12h3.60v3.27h-3.60zM599.18 135.03h3.60v3.27h-3.60zM602.49 111.23h3.60v3.27h-3.60zM602.49 123.12h3.60v3.27h-3.60zM605.79 114.20h3.60v3.27h-3.60zM605.79 132.05h3.60v3.27h-3.60zM609.10 111.23h3.60v3.27h-3.60zM609.10 114.20h3.60v3.27h-3.60zM612.40 108.25h3.60v3.27h-3.60zM612.40 114.20h3.60v3.27h-3.60zM612.40 117.17h3.60v3.27h-3.60zM612.40 120.15h3.60v3.27h-3.60zM615.71 108.25h3.60v3.27h-3.60zM615.71 111.23h3.60v3.27h-3.60zM619.01 102.30h3.60v3.27h-3.60zM622.32 102.30h3.60v3.27h-3.60zM625.62 96.35h3.60v3.27h-3.60zM625.62 99.33h3.60v3.27h-3.60zM628.93 93.38h3.60v3.27h-3.60zM628.93 96.35h3.60v3.27h-3.60zM628.93 102.30h3.60v3.27h-3.60zM632.24 90.40h3.60v3.27h-3.60zM632.24 93.38h3.60v3.27h-3.60zM632.24 99.33h3.60v3.27h-3.60zM632.24 102.30h3.60v3.27h-3.60zM632.24 108.25h3.60v3.27h-3.60zM635.54 90.40h3.60v3.27h-3.60zM635.54 93.38h3.60v3.27h-3.60zM638.85 87.42h3.60v3.27h-3.60zM638.85 90.40h3.60v3.27h-3.60zM638.85 93.38h3.60v3.27h-3.60zM638.85 96.35h3.60v3.27h-3.60zM638.85 111.23h3.60v3.27h-3.60zM642.15 87.42h3.60v3.27h-3.60zM642.15 90.40h3.60v3.27h-3.60zM645.46 78.50h3.60v3.27h-3.60zM645.46 84.45h3.60v3.27h-3.60zM645.46 102.30h3.60v3.27h-3.60zM648.76 81.47h3.60v3.27h-3.60zM648.76 84.45h3.60v3.27h-3.60z"/>
<path fill="#f5e622" shape-rendering="crispEdges" d="M585.97 135.03h3.60v3.27h-3.60zM595.88 117.17h3.60v3.27h-3.60zM595.88 129.07h3.60v3.27h-3.60zM599.18 132.05h3.60v3.27h-3.60zM602.49 129.07h3.60v3.27h-3.60zM609.10 126.10h3.60v3.27h-3.60zM609.10 129.07h3.60v3.27h-3.60zM612.40 123.12h3.60v3.27h-3.60zM615.71 117.17h3.60v3.27h-3.60zM615.71 120.15h3.60v3.27h-3.60zM615.71 123.12h3.60v3.27h-3.60zM615.71 132.05h3.60v3.27h-3.60zM619.01 111.23h3.60v3.27h-3.60zM619.01 117.17h3.60v3.27h-3.60zM619.01 132.05h3.60v3.27h-3.60zM622.32 111.23h3.60v3.27h-3.60zM622.32 123.12h3.60v3.27h-3.60zM622.32 126.10h3.60v3.27h-3.60zM622.32 135.03h3.60v3.27h-3.60zM625.62 108.25h3.60v3.27h-3.60zM625.62 111.23h3.60v3.27h-3.60zM625.62 132.05h3.60v3.27h-3.60zM625.62 135.03h3.60v3.27h-3.60zM628.93 105.28h3.60v3.27h-3.60zM628.93 111.23h3.60v3.27h-3.60zM628.93 126.10h3.60v3.27h-3.60zM628.93 132.05h3.60v3.27h-3.60zM632.24 105.28h3.60v3.27h-3.60zM632.24 111.23h3.60v3.27h-3.60zM632.24 120.15h3.60v3.27h-3.60zM632.24 123.12h3.60v3.27h-3.60zM632.24 126.10h3.60v3.27h-3.60zM635.54 105.28h3.60v3.27h-3.60zM635.54 108.25h3.60v3.27h-3.60zM635.54 120.15h3.60v3.27h-3.60zM635.54 123.12h3.60v3.27h-3.60zM638.85 105.28h3.60v3.27h-3.60zM638.85 117.17h3.60v3.27h-3.60zM638.85 126.10h3.60v3.27h-3.60zM642.15 108.25h3.60v3.27h-3.60zM642.15 111.23h3.60v3.27h-3.60zM642.15 120.15h3.60v3.27h-3.60zM642.15 129.07h3.60v3.27h-3.60zM642.15 135.03h3.60v3.27h-3.60zM645.46 87.42h3.60v3.27h-3.60zM645.46 93.38h3.60v3.27h-3.60zM645.46 108.25h3.60v3.27h-3.60zM645.46 111.23h3.60v3.27h-3.60zM645.46 129.07h3.60v3.27h-3.60zM645.46 132.05h3.60v3.27h-3.60zM645.46 135.03h3.60v3.27h-3.60zM648.76 102.30h3.60v3.27h-3.60zM648.76 117.17h3.60v3.27h-3.60zM648.76 120.15h3.60v3.27h-3.60zM652.07 84.45h3.60v3.27h-3.60zM652.07 93.38h3.60v3.27h-3.60zM652.07 99.33h3.60v3.27h-3.60zM652.07 123.12h3.60v3.27h-3.60z"/>
<path fill="#f7e124" shape-rendering="crispEdges" d="M589.27 126.10h3.60v3.27h-3.60zM589.27 129.07h3.60v3.27h-3.60zM592.58 123.12h3.60v3.27h-3.60zM599.18 126.10h3.60v3.27h-3.60zM599.18 129.07h3.60v3.27h-3.60zM602.49 117.17h3.60v3.27h-3.60zM602.49 126.10h3.60v3.27h-3.60zM602.49 132.05h3.60v3.27h-3.60zM605.79 120.15h3.60v3.27h-3.60zM605.79 123.12h3.60v3.27h-3.60zM605.79 126.10h3.60v3.27h-3.60zM605.79 129.07h3.60v3.27h-3.60zM609.10 117.17h3.60v3.27h-3.60zM609.10 120.15h3.60v3.27h-3.60zM609.10 123.12h3.60v3.27h-3.60zM609.10 132.05h3.60v3.27h-3.60zM612.40 111.23h3.60v3.27h-3.60zM619.01 108.25h3.60v3.27h-3.60zM619.01 114.20h3.60v3.27h-3.60zM619.01 123.12h3.60v3.27h-3.60zM622.32 108.25h3.60v3.27h-3.60zM622.32 114.20h3.60v3.27h-3.60zM622.32 117.17h3.60v3.27h-3.60zM625.62 102.30h3.60v3.27h-3.60zM625.62 105.28h3.60v3.27h-3.60zM625.62 123.12h3.60v3.27h-3.60zM628.93 108.25h3.60v3.27h-3.60zM628.93 114.20h3.60v3.27h-3.60zM628.93 117.17h3.60v3.27h-3.60zM635.54 99.33h3.60v3.27h-3.60zM635.54 102.30h3.60v3.27h-3.60zM635.54 111.23h3.60v3.27h-3.60zM635.54 114.20h3.60v3.27h-3.60zM635.54 129.07h3.60v3.27h-3.60zM638.85 99.33h3.60v3.27h-3.60zM638.85 102.30h3.60v3.27h-3.60zM638.85 114.20h3.60v3.27h-3.60zM638.85 123.12h3.60v3.27h-3.60zM642.15 93.38h3.60v3.27h-3.60zM642.15 96.35h3.60v3.27h-3.60zM642.15 99.33h3.60v3.27h-3.60zM642.15 102.30h3.60v3.27h-3.60zM642.15 105.28h3.60v3.27h-3.60zM642.15 114.20h3.60v3.27h-3.60zM645.46 90.40h3.60v3.27h-3.60zM645.46 99.33h3.60v3.27h-3.60zM645.46 105.28h3.60v3.27h-3.60zM645.46 114.20h3.60v3.27h-3.60zM645.46 120.15h3.60v3.27h-3.60zM648.76 90.40h3.60v3.27h-3.60zM648.76 93.38h3.60v3.27h-3.60zM648.76 96.35h3.60v3.27h-3.60zM648.76 105.28h3.60v3.27h-3.60zM652.07 81.47h3.60v3.27h-3.60zM652.07 87.42h3.60v3.27h-3.60zM652.07 102.30h3.60v3.27h-3.60zM652.07 111.23h3.60v3.27h-3.60z"/>
<path fill="#f5eb21" shape-rendering="crispEdges" d="M595.88 135.03h3.60v3.27h-3.60zM602.49 135.03h3.60v3.27h-3.60zM605.79 135.03h3.60v3.27h-3.60zM612.40 126.10h3.60v3.27h-3.60zM612.40 129.07h3.60v3.27h-3.60zM612.40 132.05h3.60v3.27h-3.60zM615.71 129.07h3.60v3.27h-3.60zM615.71 135.03h3.60v3.27h-3.60zM619.01 120.15h3.60v3.27h-3.60zM622.32 120.15h3.60v3.27h-3.60zM622.32 129.07h3.60v3.27h-3.60zM625.62 114.20h3.60v3.27h-3.60zM625.62 120.15h3.60v3.27h-3.60zM628.93 120.15h3.60v3.27h-3.60zM628.93 129.07h3.60v3.27h-3.60zM632.24 117.17h3.60v3.27h-3.60zM632.24 132.05h3.60v3.27h-3.60zM632.24 135.03h3.60v3.27h-3.60zM635.54 126.10h3.60v3.27h-3.60zM635.54 135.03h3.60v3.27h-3.60zM638.85 108.25h3.60v3.27h-3.60zM638.85 120.15h3.60v3.27h-3.60zM638.85 129.07h3.60v3.27h-3.60zM638.85 132.05h3.60v3.27h-3.60zM638.85 135.03h3.60v3.27h-3.60zM642.15 132.05h3.60v3.27h-3.60zM645.46 117.17h3.60v3.27h-3.60zM645.46 126.10h3.60v3.27h-3.60zM648.76 87.42h3.60v3.27h-3.60zM648.76 99.33h3.60v3.27h-3.60zM648.76 111.23h3.60v3.27h-3.60zM648.76 114.20h3.60v3.27h-3.60zM648.76 123.12h3.60v3.27h-3.60zM648.76 126.10h3.60v3.27h-3.60zM648.76 129.07h3.60v3.27h-3.60zM648.76 132.05h3.60v3.27h-3.60zM652.07 90.40h3.60v3.27h-3.60zM652.07 96.35h3.60v3.27h-3.60zM652.07 105.28h3.60v3.27h-3.60zM652.07 114.20h3.60v3.27h-3.60zM652.07 117.17h3.60v3.27h-3.60zM652.07 126.10h3.60v3.27h-3.60zM655.37 123.12h3.60v3.27h-3.60z"/>
<path fill="#f5f121" shape-rendering="crispEdges" d="M609.10 135.03h3.60v3.27h-3.60zM612.40 135.03h3.60v3.27h-3.60zM615.71 126.10h3.60v3.27h-3.60zM619.01 126.10h3.60v3.27h-3.60zM619.01 129.07h3.60v3.27h-3.60zM619.01 135.03h3.60v3.27h-3.60zM622.32 132.05h3.60v3.27h-3.60zM625.62 117.17h3.60v3.27h-3.60zM625.62 126.10h3.60v3.27h-3.60zM628.93 135.03h3.60v3.27h-3.60zM632.24 114.20h3.60v3.27h-3.60zM632.24 129.07h3.60v3.27h-3.60zM635.54 117.17h3.60v3.27h-3.60zM635.54 132.05h3.60v3.27h-3.60zM642.15 117.17h3.60v3.27h-3.60zM642.15 123.12h3.60v3.27h-3.60zM642.15 126.10h3.60v3.27h-3.60zM645.46 123.12h3.60v3.27h-3.60zM648.76 108.25h3.60v3.27h-3.60zM648.76 135.03h3.60v3.27h-3.60zM652.07 108.25h3.60v3.27h-3.60zM652.07 120.15h3.60v3.27h-3.60zM652.07 135.03h3.60v3.27h-3.60zM655.37 126.10h3.60v3.27h-3.60zM655.37 132.05h3.60v3.27h-3.60zM655.37 135.03h3.60v3.27h-3.60z"/>
<path fill="#f5f520" shape-rendering="crispEdges" d="M625.62 129.07h3.60v3.27h-3.60zM628.93 123.12h3.60v3.27h-3.60zM652.07 129.07h3.60v3.27h-3.60zM655.37 129.07h3.60v3.27h-3.60z"/>
<path fill="#f6f81e" shape-rendering="crispEdges" d="M652.07 132.05h3.60v3.27h-3.60z"/>
<polyline fill="none" stroke="#c40a0a" stroke-width="2.6" points="543.00,19.52 543.56,19.53 544.12,19.54 544.68,19.55 545.25,19.56 545.81,19.58 546.37,19.59 546.93,19.60 547.49,19.61 548.05,19.62 548.61,19.64 549.18,19.65 549.74,19.66 550.30,19.68 550.86,19.69 551.42,19.70 551.98,19.72 552.54,19.73 553.10,19.75 553.67,19.76 554.23,19.78 554.79,19.79 555.35,19.81 555.91,19.82 556.47,19.84 557.03,19.86 557.60,19.87 558.16,19.89 558.72,19.91 559.28,19.93 559.84,19.95 560.40,19.97 560.96,19.98 561.53,20.00 562.09,20.02 562.65,20.05 563.21,20.07 563.77,20.09 564.33,20.11 564.89,20.13 565.45,20.16 566.02,20.18 566.58,20.20 567.14,20.23 567.70,20.25 568.26,20.28 568.82,20.30 569.38,20.33 569.95,20.36 570.51,20.38 571.07,20.41 571.63,20.44 572.19,20.47 572.75,20.50 573.31,20.53 573.88,20.56 574.44,20.59 575.00,20.63 575.56,20.66 576.12,20.69 576.68,20.73 577.24,20.76 577.80,20.80 578.37,20.84 578.93,20.87 579.49,20.91 580.05,20.95 580.61,20.99 581.17,21.03 581.73,21.07 582.30,21.12 582.86,21.16 583.42,21.20 583.98,21.25 584.54,21.30 585.10,21.34 585.66,21.39 586.23,21.44 586.79,21.49 587.35,21.54 587.91,21.60 588.47,21.65 589.03,21.71 589.59,21.76 590.15,21.82 590.72,21.88 591.28,21.94 591.84,22.00 592.40,22.06 592.96,22.13 593.52,22.19 594.08,22.26 594.65,22.33 595.21,22.40 595.77,22.47 596.33,22.54 596.89,22.62 597.45,22.70 598.01,22.78 598.58,22.86 599.14,22.94 599.70,23.02 600.26,23.11 600.82,23.20 601.38,23.29 601.94,23.38 602.50,23.47 603.07,23.57 603.63,23.67 604.19,23.77 604.75,23.87 605.31,23.98 605.87,24.09 606.43,24.20 607.00,24.31 607.56,24.43 608.12,24.55 608.68,24.67 609.24,24.80 609.80,24.93 610.36,25.06 610.93,25.19 611.49,25.33 612.05,25.47 612.61,25.62 613.17,25.77 613.73,25.92 614.29,26.08 614.85,26.24 615.42,26.41 615.98,26.58 616.54,26.75 617.10,26.93 617.66,27.11 618.22,27.30 618.78,27.50 619.35,27.70 619.91,27.90 620.47,28.11 621.03,28.33 621.59,28.55 622.15,28.78 622.71,29.02 623.28,29.26 623.84,29.51 624.40,29.77 624.96,30.03 625.52,30.31 626.08,30.59 626.64,30.88 627.20,31.18 627.77,31.49 628.33,31.81 628.89,32.13 629.45,32.48 630.01,32.83 630.57,33.19 631.13,33.57 631.70,33.96 632.26,34.36 632.82,34.78 633.38,35.21 633.94,35.66 634.50,36.12 635.06,36.61 635.63,37.11 636.19,37.64 636.75,38.18 637.31,38.75 637.87,39.34 638.43,39.96 638.99,40.61 639.55,41.28 640.12,41.99 640.68,42.73 641.24,43.51 641.80,44.33 642.36,45.20 642.92,46.11 643.48,47.07 644.05,48.09 644.61,49.18 645.17,50.33 645.73,51.57 646.29,52.89 646.85,54.31 647.41,55.85 647.98,57.52 648.54,59.33 649.10,61.33 649.66,63.54 650.22,66.00 650.78,68.78 651.34,71.96 651.91,75.66 652.47,80.08 653.03,85.54 653.59,92.61 654.15,102.62 654.71,119.65 655.27,138.00"/>
<path d="M543.5,19.0V138.4H675.20" fill="none" stroke="#111" stroke-width="0.9"/>
<path d="M543.00 138.00h2.0M543.00 138.0v-2.0M543.00 120.09h1.2M562.90 138.0v-1.2M543.00 109.61h1.2M574.54 138.0v-1.2M543.00 102.18h1.2M582.80 138.0v-1.2M543.00 96.41h1.2M589.20 138.0v-1.2M543.00 91.70h1.2M594.44 138.0v-1.2M543.00 87.72h1.2M598.86 138.0v-1.2M543.00 84.27h1.2M602.69 138.0v-1.2M543.00 81.22h1.2M606.08 138.0v-1.2M543.00 78.50h2.0M609.10 138.0v-2.0M543.00 78.50h2.0M609.10 138.0v-2.0M543.00 60.59h1.2M629.00 138.0v-1.2M543.00 50.11h1.2M640.64 138.0v-1.2M543.00 42.68h1.2M648.90 138.0v-1.2M543.00 36.91h1.2M655.30 138.0v-1.2M543.00 32.20h1.2M660.54 138.0v-1.2M543.00 28.22h1.2M664.96 138.0v-1.2M543.00 24.77h1.2M668.79 138.0v-1.2M543.00 21.72h1.2M672.18 138.0v-1.2M543.00 19.00h2.0M675.20 138.0v-2.0" stroke="#000" stroke-width="0.6" fill="none"/>
<text x="528.34" y="21.00" font-size="8.2" fill="#1a1a1a" textLength="8.94" lengthAdjust="spacingAndGlyphs">10</text>
<text x="538.28" y="17.23" font-size="5.90" fill="#1a1a1a" textLength="3.22" lengthAdjust="spacingAndGlyphs">0</text>
<text x="526.42" y="81.30" font-size="8.2" fill="#1a1a1a" textLength="8.94" lengthAdjust="spacingAndGlyphs">10</text>
<text x="536.36" y="77.53" font-size="5.90" fill="#1a1a1a" textLength="5.14" lengthAdjust="spacingAndGlyphs">-1</text>
<text x="526.42" y="140.20" font-size="8.2" fill="#1a1a1a" textLength="8.94" lengthAdjust="spacingAndGlyphs">10</text>
<text x="536.36" y="136.43" font-size="5.90" fill="#1a1a1a" textLength="5.14" lengthAdjust="spacingAndGlyphs">-2</text>
<text x="537.10" y="149.40" font-size="8.2" fill="#1a1a1a" textLength="8.94" lengthAdjust="spacingAndGlyphs">10</text>
<text x="547.04" y="145.63" font-size="5.90" fill="#1a1a1a" textLength="5.14" lengthAdjust="spacingAndGlyphs">-2</text>
<text x="604.00" y="149.40" font-size="8.2" fill="#1a1a1a" textLength="8.94" lengthAdjust="spacingAndGlyphs">10</text>
<text x="613.94" y="145.63" font-size="5.90" fill="#1a1a1a" textLength="5.14" lengthAdjust="spacingAndGlyphs">-1</text>
<text x="665.40" y="149.40" font-size="8.2" fill="#1a1a1a" textLength="8.94" lengthAdjust="spacingAndGlyphs">10</text>
<text x="675.34" y="145.63" font-size="5.90" fill="#1a1a1a" textLength="3.22" lengthAdjust="spacingAndGlyphs">0</text>
<text x="580.60" y="153.3" font-size="9.5" font-style="italic" fill="#222">K<tspan font-size="5.6" dy="2">B</tspan></text>
<text transform="translate(532.00,51.0) rotate(-90)" font-size="9.5" font-style="italic" fill="#222">K<tspan font-size="5.6" dy="2">G</tspan></text>
<text x="664.80" y="19.0" font-size="9" fill="#222" text-anchor="end" textLength="57.2" lengthAdjust="spacingAndGlyphs">total leaves, <tspan font-style="italic">N</tspan><tspan font-size="5.5" font-style="italic" dy="2">T</tspan></text>
<defs><linearGradient id="cb0" x1="0" y1="0" x2="0" y2="1"><stop offset="0.000" stop-color="#f6f81e"/><stop offset="0.050" stop-color="#f5ea21"/><stop offset="0.100" stop-color="#f9da26"/><stop offset="0.150" stop-color="#fac82f"/><stop offset="0.200" stop-color="#ecbb35"/><stop offset="0.250" stop-color="#c7c829"/><stop offset="0.300" stop-color="#9fcb47"/><stop offset="0.350" stop-color="#7acc61"/><stop offset="0.400" stop-color="#55c97f"/><stop offset="0.450" stop-color="#31c5a1"/><stop offset="0.500" stop-color="#19beb9"/><stop offset="0.550" stop-color="#0fb6cb"/><stop offset="0.600" stop-color="#17abd7"/><stop offset="0.650" stop-color="#239ce3"/><stop offset="0.700" stop-color="#2c8cef"/><stop offset="0.750" stop-color="#307ef5"/><stop offset="0.800" stop-color="#4167fa"/><stop offset="0.850" stop-color="#4852f1"/><stop offset="0.900" stop-color="#4840e0"/><stop offset="0.950" stop-color="#4234cb"/><stop offset="1.000" stop-color="#3a28af"/></linearGradient></defs>
<rect x="336.40" y="22.3" width="8.4" height="106.30" fill="url(#cb0)" stroke="#000" stroke-width="0.6"/>
<text x="346.10" y="131.30" font-size="7.6" fill="#222" textLength="3.80" lengthAdjust="spacingAndGlyphs">0</text>
<text x="346.10" y="104.82" font-size="7.6" fill="#222" textLength="7.61" lengthAdjust="spacingAndGlyphs">20</text>
<text x="346.10" y="78.35" font-size="7.6" fill="#222" textLength="7.61" lengthAdjust="spacingAndGlyphs">40</text>
<text x="346.10" y="51.87" font-size="7.6" fill="#222" textLength="7.61" lengthAdjust="spacingAndGlyphs">60</text>
<text x="346.10" y="25.40" font-size="7.6" fill="#222" textLength="7.61" lengthAdjust="spacingAndGlyphs">80</text>
<path d="M344.80 128.60h-1.5M336.40 128.60h1.5M344.80 102.12h-1.5M336.40 102.12h1.5M344.80 75.65h-1.5M336.40 75.65h1.5M344.80 49.17h-1.5M336.40 49.17h1.5M344.80 22.70h-1.5M336.40 22.70h1.5" stroke="#000" stroke-width="0.5"/>
<defs><linearGradient id="cb1" x1="0" y1="0" x2="0" y2="1"><stop offset="0.000" stop-color="#f6f81e"/><stop offset="0.050" stop-color="#f5ea21"/><stop offset="0.100" stop-color="#f9da26"/><stop offset="0.150" stop-color="#fac82f"/><stop offset="0.200" stop-color="#ecbb35"/><stop offset="0.250" stop-color="#c7c829"/><stop offset="0.300" stop-color="#9fcb47"/><stop offset="0.350" stop-color="#7acc61"/><stop offset="0.400" stop-color="#55c97f"/><stop offset="0.450" stop-color="#31c5a1"/><stop offset="0.500" stop-color="#19beb9"/><stop offset="0.550" stop-color="#0fb6cb"/><stop offset="0.600" stop-color="#17abd7"/><stop offset="0.650" stop-color="#239ce3"/><stop offset="0.700" stop-color="#2c8cef"/><stop offset="0.750" stop-color="#307ef5"/><stop offset="0.800" stop-color="#4167fa"/><stop offset="0.850" stop-color="#4852f1"/><stop offset="0.900" stop-color="#4840e0"/><stop offset="0.950" stop-color="#4234cb"/><stop offset="1.000" stop-color="#3a28af"/></linearGradient></defs>
<rect x="502.10" y="22.3" width="8.4" height="106.30" fill="url(#cb1)" stroke="#000" stroke-width="0.6"/>
<text x="511.80" y="131.30" font-size="7.6" fill="#222" textLength="3.80" lengthAdjust="spacingAndGlyphs">0</text>
<text x="511.80" y="104.82" font-size="7.6" fill="#222" textLength="7.61" lengthAdjust="spacingAndGlyphs">10</text>
<text x="511.80" y="78.35" font-size="7.6" fill="#222" textLength="7.61" lengthAdjust="spacingAndGlyphs">20</text>
<text x="511.80" y="51.87" font-size="7.6" fill="#222" textLength="7.61" lengthAdjust="spacingAndGlyphs">30</text>
<text x="511.80" y="25.40" font-size="7.6" fill="#222" textLength="7.61" lengthAdjust="spacingAndGlyphs">40</text>
<path d="M510.50 128.60h-1.5M502.10 128.60h1.5M510.50 102.12h-1.5M502.10 102.12h1.5M510.50 75.65h-1.5M502.10 75.65h1.5M510.50 49.17h-1.5M502.10 49.17h1.5M510.50 22.70h-1.5M502.10 22.70h1.5" stroke="#000" stroke-width="0.5"/>
<defs><linearGradient id="cb2" x1="0" y1="0" x2="0" y2="1"><stop offset="0.000" stop-color="#f6f81e"/><stop offset="0.050" stop-color="#f5ea21"/><stop offset="0.100" stop-color="#f9da26"/><stop offset="0.150" stop-color="#fac82f"/><stop offset="0.200" stop-color="#ecbb35"/><stop offset="0.250" stop-color="#c7c829"/><stop offset="0.300" stop-color="#9fcb47"/><stop offset="0.350" stop-color="#7acc61"/><stop offset="0.400" stop-color="#55c97f"/><stop offset="0.450" stop-color="#31c5a1"/><stop offset="0.500" stop-color="#19beb9"/><stop offset="0.550" stop-color="#0fb6cb"/><stop offset="0.600" stop-color="#17abd7"/><stop offset="0.650" stop-color="#239ce3"/><stop offset="0.700" stop-color="#2c8cef"/><stop offset="0.750" stop-color="#307ef5"/><stop offset="0.800" stop-color="#4167fa"/><stop offset="0.850" stop-color="#4852f1"/><stop offset="0.900" stop-color="#4840e0"/><stop offset="0.950" stop-color="#4234cb"/><stop offset="1.000" stop-color="#3a28af"/></linearGradient></defs>
<rect x="667.80" y="22.3" width="8.4" height="106.30" fill="url(#cb2)" stroke="#000" stroke-width="0.6"/>
<text x="677.50" y="131.30" font-size="7.6" fill="#222" textLength="3.80" lengthAdjust="spacingAndGlyphs">0</text>
<text x="677.50" y="107.73" font-size="7.6" fill="#222" textLength="7.61" lengthAdjust="spacingAndGlyphs">20</text>
<text x="677.50" y="84.16" font-size="7.6" fill="#222" textLength="7.61" lengthAdjust="spacingAndGlyphs">40</text>
<text x="677.50" y="60.59" font-size="7.6" fill="#222" textLength="7.61" lengthAdjust="spacingAndGlyphs">60</text>
<text x="677.50" y="37.02" font-size="7.6" fill="#222" textLength="7.61" lengthAdjust="spacingAndGlyphs">80</text>
<path d="M676.20 128.60h-1.5M667.80 128.60h1.5M676.20 105.03h-1.5M667.80 105.03h1.5M676.20 81.46h-1.5M667.80 81.46h1.5M676.20 57.89h-1.5M667.80 57.89h1.5M676.20 34.32h-1.5M667.80 34.32h1.5" stroke="#000" stroke-width="0.5"/>
<text x="186.50" y="8.00" font-size="9" text-anchor="start" fill="#000" font-weight="bold">b</text>
<text x="355.40" y="8.00" font-size="9" text-anchor="start" fill="#000" font-weight="bold">c</text>
<text x="518.70" y="8.00" font-size="9" text-anchor="start" fill="#000" font-weight="bold">d</text>
<text x="4.80" y="7.80" font-size="9.6" text-anchor="start" fill="#000" font-weight="bold">a</text>
<defs>
<linearGradient id="gr" x1="0" y1="0" x2="0" y2="1"><stop offset="0" stop-color="#d9392c"/><stop offset="0.45" stop-color="#e77a70"/><stop offset="0.8" stop-color="#f6d0cc"/><stop offset="1" stop-color="#ffffff"/></linearGradient>
<linearGradient id="gp" x1="0" y1="0" x2="1" y2="0"><stop offset="0" stop-color="#ffffff"/><stop offset="0.35" stop-color="#ecdaea"/><stop offset="1" stop-color="#bd7fbb"/></linearGradient>
</defs>
<polygon points="3.2,40.6 19.6,40.6 19.6,141 18.8,141" fill="url(#gr)"/>
<polygon points="30,152.8 171.4,137.3 171.4,152.8" fill="url(#gp)"/>
<text transform="translate(16.4,111.5) rotate(-90)" font-size="9" fill="#1a1a1a" textLength="47" lengthAdjust="spacingAndGlyphs">growth rate</text>
<text transform="translate(15.0,55.6) rotate(-90)" font-size="7.4" font-style="italic" fill="#1a1a1a">K<tspan font-size="4.4" dy="1.6">G</tspan></text>
<text x="90.8" y="149.6" font-size="9" fill="#1a1a1a" textLength="57" lengthAdjust="spacingAndGlyphs">branching rate</text>
<text x="157.4" y="149.4" font-size="9" font-style="italic" fill="#1a1a1a">K<tspan font-size="4.6" dy="2.0">B</tspan></text>
<text x="27.2" y="77.6" font-size="7.6" fill="#1a1a1a" textLength="61" lengthAdjust="spacingAndGlyphs"><tspan font-style="italic" font-size="8.2">K</tspan><tspan font-size="4.2" dy="2.0">G</tspan><tspan dy="-2.0"> = 0.25</tspan><tspan dx="3.5" font-style="italic" font-size="8.2">K</tspan><tspan font-size="4.2" dy="2.0">B</tspan><tspan dy="-2.0"> = 0.05</tspan></text>
<text x="27.2" y="94.6" font-size="7.6" fill="#1a1a1a" textLength="61" lengthAdjust="spacingAndGlyphs"><tspan font-style="italic" font-size="8.2">K</tspan><tspan font-size="4.2" dy="2.0">G</tspan><tspan dy="-2.0"> = 0.05</tspan><tspan dx="3.5" font-style="italic" font-size="8.2">K</tspan><tspan font-size="4.2" dy="2.0">B</tspan><tspan dy="-2.0"> = 0.05</tspan></text>
<text x="123.1" y="77.6" font-size="7.6" fill="#1a1a1a" textLength="61.4" lengthAdjust="spacingAndGlyphs"><tspan font-style="italic" font-size="8.2">K</tspan><tspan font-size="4.2" dy="2.0">G</tspan><tspan dy="-2.0"> = 0.25</tspan><tspan dx="3.5" font-style="italic" font-size="8.2">K</tspan><tspan font-size="4.2" dy="2.0">B</tspan><tspan dy="-2.0"> = 0.25</tspan></text>
<text x="123.1" y="94.6" font-size="7.6" fill="#1a1a1a" textLength="61.4" lengthAdjust="spacingAndGlyphs"><tspan font-style="italic" font-size="8.2">K</tspan><tspan font-size="4.2" dy="2.0">G</tspan><tspan dy="-2.0"> = 0.05</tspan><tspan dx="3.5" font-style="italic" font-size="8.2">K</tspan><tspan font-size="4.2" dy="2.0">B</tspan><tspan dy="-2.0"> = 0.25</tspan></text>
<path d="M20.3,23.4 C22.3,24.3 29.3,28.2 32.3,29.0 C35.3,29.8 35.5,27.4 38.5,28.2 C41.5,29.0 47.3,32.2 50.0,33.9 C52.7,35.5 53.4,37.0 54.6,38.1 C55.8,39.2 55.8,38.7 57.4,40.8 C59.0,42.9 61.6,47.1 64.0,50.5 C66.4,53.9 70.2,59.1 71.9,61.2 C73.6,63.3 73.1,62.7 74.2,63.0 C75.3,63.3 75.7,61.9 78.8,63.0 C81.9,64.2 90.0,68.0 92.7,69.9 C95.4,71.8 92.8,70.9 95.0,74.5 C97.2,78.1 104.2,88.8 106.1,91.6" fill="none" stroke="#111" stroke-width="1.2" stroke-linejoin="round" stroke-linecap="round"/>
<path d="M26.8,32.6 C27.7,32.0 31.4,29.6 32.3,29.0" fill="none" stroke="#111" stroke-width="1.2" stroke-linejoin="round" stroke-linecap="round"/>
<path d="M57.4,40.8 C57.4,39.8 57.1,36.6 57.6,34.6 C58.1,32.6 60.1,31.2 60.4,28.8 C60.7,26.4 59.4,21.6 59.2,20.1" fill="none" stroke="#111" stroke-width="1.2" stroke-linejoin="round" stroke-linecap="round"/>
<path d="M60.4,28.8 C61.9,27.8 67.7,23.6 69.2,22.6" fill="none" stroke="#111" stroke-width="1.2" stroke-linejoin="round" stroke-linecap="round"/>
<circle cx="20.3" cy="23.4" r="1.45" fill="#1fc0d6"/>
<circle cx="26.8" cy="32.6" r="1.45" fill="#1fc0d6"/>
<circle cx="59.2" cy="20.1" r="1.45" fill="#1fc0d6"/>
<circle cx="69.2" cy="22.6" r="1.45" fill="#1fc0d6"/>
<circle cx="106.1" cy="91.6" r="1.45" fill="#d7182a"/>
<path d="M170.5,40.1 C169.8,37.1 167.8,24.0 166.3,21.9 C164.8,19.8 163.7,25.5 161.6,27.5 C159.5,29.5 155.9,32.6 153.6,34.1 C151.3,35.6 149.4,35.2 148.0,36.5 C146.6,37.8 146.0,40.1 145.0,41.8 C144.0,43.4 143.2,45.0 141.9,46.4 C140.6,47.8 138.2,48.5 137.3,49.9 C136.4,51.2 136.6,53.7 136.5,54.5" fill="none" stroke="#111" stroke-width="1.2" stroke-linejoin="round" stroke-linecap="round"/>
<path d="M153.6,34.1 C153.0,34.8 150.8,37.2 150.0,38.5 C149.2,39.8 149.6,40.6 148.8,41.8 C148.0,43.0 146.0,44.0 145.0,45.7 C144.0,47.4 144.1,50.3 142.7,51.8 C141.3,53.3 137.5,54.0 136.5,54.5" fill="none" stroke="#111" stroke-width="1.2" stroke-linejoin="round" stroke-linecap="round"/>
<path d="M126.6,41.5 C127.0,42.2 127.4,44.5 128.9,45.7 C130.4,47.0 133.6,48.9 135.8,49.0 C138.0,49.1 140.9,46.8 141.9,46.4" fill="none" stroke="#111" stroke-width="1.2" stroke-linejoin="round" stroke-linecap="round"/>
<path d="M129.6,42.3 C130.2,42.5 132.0,43.1 133.5,43.4 C135.0,43.7 137.4,43.6 138.8,44.1 C140.2,44.6 141.4,46.0 141.9,46.4" fill="none" stroke="#111" stroke-width="1.2" stroke-linejoin="round" stroke-linecap="round"/>
<path d="M117.4,48.0 C118.7,48.1 122.6,48.1 125.0,48.4 C127.4,48.6 130.1,49.4 131.9,49.5 C133.7,49.6 135.2,49.1 135.8,49.0" fill="none" stroke="#111" stroke-width="1.2" stroke-linejoin="round" stroke-linecap="round"/>
<path d="M122.4,56.1 C123.1,55.1 125.8,51.1 126.6,49.9 C127.4,48.6 127.3,48.8 127.5,48.6" fill="none" stroke="#111" stroke-width="1.2" stroke-linejoin="round" stroke-linecap="round"/>
<path d="M125.0,44.9 C125.6,45.3 127.9,47.1 128.5,47.5" fill="none" stroke="#111" stroke-width="1.2" stroke-linejoin="round" stroke-linecap="round"/>
<path d="M136.5,54.5 C136.4,55.2 136.4,57.8 135.8,58.7 C135.2,59.7 134.4,59.9 133.0,60.2 C131.6,60.5 128.2,60.5 127.3,60.5" fill="none" stroke="#111" stroke-width="1.2" stroke-linejoin="round" stroke-linecap="round"/>
<path d="M135.8,58.7 C135.1,59.5 132.2,62.9 131.5,63.7" fill="none" stroke="#111" stroke-width="1.2" stroke-linejoin="round" stroke-linecap="round"/>
<path d="M135.8,58.7 C135.7,59.5 135.4,62.5 135.3,63.3" fill="none" stroke="#111" stroke-width="1.2" stroke-linejoin="round" stroke-linecap="round"/>
<path d="M135.8,58.7 C136.1,59.1 136.7,60.3 137.3,61.0 C137.9,61.7 139.0,62.7 139.3,63.0" fill="none" stroke="#111" stroke-width="1.2" stroke-linejoin="round" stroke-linecap="round"/>
<circle cx="126.6" cy="41.5" r="1.45" fill="#1fc0d6"/>
<circle cx="125.0" cy="44.9" r="1.45" fill="#1fc0d6"/>
<circle cx="117.4" cy="48.0" r="1.45" fill="#1fc0d6"/>
<circle cx="127.3" cy="60.5" r="1.45" fill="#1fc0d6"/>
<circle cx="135.3" cy="63.3" r="1.45" fill="#1fc0d6"/>
<circle cx="139.3" cy="63.0" r="1.45" fill="#1fc0d6"/>
<circle cx="170.5" cy="40.1" r="1.45" fill="#d7182a"/>
<circle cx="129.6" cy="42.3" r="1.45" fill="#d7182a"/>
<circle cx="122.4" cy="56.1" r="1.45" fill="#d7182a"/>
<circle cx="136.5" cy="54.5" r="1.45" fill="#d7182a"/>
<circle cx="131.5" cy="63.7" r="1.45" fill="#d7182a"/>
<path d="M33.0,107.0 C33.7,106.9 35.6,106.7 37.0,106.5 C38.4,106.3 40.0,105.8 41.5,105.7 C43.0,105.6 44.4,105.7 46.0,106.1 C47.6,106.5 49.0,107.5 51.2,108.0 C53.4,108.5 57.3,109.6 59.0,109.3 C60.7,109.0 61.0,105.5 61.6,106.4 C62.2,107.3 61.6,112.4 62.9,114.5 C64.2,116.6 68.0,117.8 69.4,119.1 C70.8,120.4 71.3,120.6 71.4,122.3 C71.5,124.0 70.9,128.0 70.0,129.5 C69.1,131.0 67.9,131.1 66.2,131.4 C64.5,131.7 61.1,131.4 60.1,131.4" fill="none" stroke="#111" stroke-width="1.2" stroke-linejoin="round" stroke-linecap="round"/>
<path d="M71.4,122.3 C72.4,123.0 75.9,124.9 77.2,126.2 C78.5,127.5 78.9,128.6 79.2,130.1 C79.5,131.6 79.0,134.3 78.9,135.1" fill="none" stroke="#111" stroke-width="1.2" stroke-linejoin="round" stroke-linecap="round"/>
<path d="M79.2,130.1 C80.0,130.4 83.3,131.8 84.1,132.1" fill="none" stroke="#111" stroke-width="1.2" stroke-linejoin="round" stroke-linecap="round"/>
<path d="M59.0,109.3 C58.4,110.0 56.4,111.6 55.1,113.2 C53.8,114.8 52.5,117.2 51.2,119.1 C49.9,120.9 48.9,123.2 47.3,124.3 C45.7,125.4 42.5,125.4 41.5,125.6" fill="none" stroke="#111" stroke-width="1.2" stroke-linejoin="round" stroke-linecap="round"/>
<path d="M54.5,114.0 C53.8,113.7 51.4,112.5 50.0,112.2 C48.6,111.9 47.3,111.8 46.0,111.9 C44.7,112.0 43.2,111.8 42.1,112.6 C41.0,113.4 40.3,115.3 39.5,116.5 C38.7,117.7 38.0,118.5 37.5,119.5 C37.0,120.5 36.7,122.1 36.5,122.6" fill="none" stroke="#111" stroke-width="1.2" stroke-linejoin="round" stroke-linecap="round"/>
<path d="M39.5,116.5 C38.2,116.6 33.0,117.0 31.7,117.1" fill="none" stroke="#111" stroke-width="1.2" stroke-linejoin="round" stroke-linecap="round"/>
<path d="M39.5,116.5 C39.5,116.9 39.8,118.7 39.8,119.1" fill="none" stroke="#111" stroke-width="1.2" stroke-linejoin="round" stroke-linecap="round"/>
<path d="M37.5,119.5 C36.9,119.7 34.3,120.2 33.7,120.4" fill="none" stroke="#111" stroke-width="1.2" stroke-linejoin="round" stroke-linecap="round"/>
<path d="M33.0,107.0 C32.9,106.3 32.5,103.5 32.4,102.8" fill="none" stroke="#111" stroke-width="1.2" stroke-linejoin="round" stroke-linecap="round"/>
<path d="M33.0,107.0 C32.6,106.8 30.8,106.2 30.4,106.1" fill="none" stroke="#111" stroke-width="1.2" stroke-linejoin="round" stroke-linecap="round"/>
<path d="M33.0,107.0 C33.0,107.3 33.0,108.7 33.0,109.0" fill="none" stroke="#111" stroke-width="1.2" stroke-linejoin="round" stroke-linecap="round"/>
<circle cx="32.4" cy="102.8" r="1.45" fill="#1fc0d6"/>
<circle cx="30.4" cy="106.1" r="1.45" fill="#1fc0d6"/>
<circle cx="33.0" cy="109.2" r="1.45" fill="#1fc0d6"/>
<circle cx="39.8" cy="119.1" r="1.45" fill="#1fc0d6"/>
<circle cx="33.7" cy="120.4" r="1.45" fill="#1fc0d6"/>
<circle cx="36.5" cy="122.6" r="1.45" fill="#1fc0d6"/>
<circle cx="41.5" cy="125.6" r="1.45" fill="#1fc0d6"/>
<circle cx="60.1" cy="131.4" r="1.45" fill="#1fc0d6"/>
<circle cx="78.9" cy="135.1" r="1.45" fill="#1fc0d6"/>
<circle cx="84.1" cy="132.1" r="1.45" fill="#1fc0d6"/>
<circle cx="31.7" cy="117.1" r="1.45" fill="#d7182a"/>
<path d="M105.0,121.0 C105.5,119.7 107.0,116.0 107.9,113.4 C108.8,110.8 109.5,107.2 110.5,105.5 C111.5,103.8 112.6,103.6 113.8,103.5 C115.0,103.4 116.6,104.8 117.7,104.9 C118.8,105.0 119.3,104.3 120.4,104.2 C121.5,104.1 123.2,103.8 124.3,104.2 C125.4,104.6 126.2,105.6 126.9,106.8 C127.6,108.0 127.5,110.0 128.3,111.4 C129.1,112.8 130.1,114.4 131.5,115.4 C132.9,116.4 135.5,116.4 136.8,117.3 C138.1,118.2 138.3,119.4 139.4,120.6 C140.5,121.8 141.7,123.1 143.4,124.2 C145.2,125.3 147.9,126.6 149.9,127.2 C151.9,127.8 153.9,128.0 155.2,127.8 C156.5,127.6 156.9,126.6 157.8,125.9 C158.7,125.2 160.2,124.0 160.7,123.6" fill="none" stroke="#111" stroke-width="1.2" stroke-linejoin="round" stroke-linecap="round"/>
<path d="M160.7,123.6 C160.8,122.8 160.2,120.3 161.5,118.7 C162.8,117.1 167.0,115.6 168.3,114.1 C169.7,112.6 169.4,110.3 169.6,109.5" fill="none" stroke="#111" stroke-width="1.2" stroke-linejoin="round" stroke-linecap="round"/>
<path d="M161.5,118.7 C161.2,118.2 160.1,116.5 159.8,116.0" fill="none" stroke="#111" stroke-width="1.2" stroke-linejoin="round" stroke-linecap="round"/>
<path d="M169.6,109.5 C169.1,109.2 167.3,108.0 166.8,107.7" fill="none" stroke="#111" stroke-width="1.2" stroke-linejoin="round" stroke-linecap="round"/>
<path d="M169.6,109.5 C169.6,108.7 169.6,105.7 169.6,104.9" fill="none" stroke="#111" stroke-width="1.2" stroke-linejoin="round" stroke-linecap="round"/>
<path d="M169.6,109.5 C170.3,108.9 173.1,106.8 173.8,106.0 C174.5,105.2 173.8,105.1 173.8,104.9" fill="none" stroke="#111" stroke-width="1.2" stroke-linejoin="round" stroke-linecap="round"/>
<path d="M169.6,109.5 C170.4,109.4 173.3,109.2 174.5,109.0 C175.7,108.8 176.5,108.2 176.9,108.1" fill="none" stroke="#111" stroke-width="1.2" stroke-linejoin="round" stroke-linecap="round"/>
<path d="M168.3,114.1 C169.2,114.0 172.3,113.5 174.0,113.5 C175.7,113.5 177.8,114.0 178.6,114.1" fill="none" stroke="#111" stroke-width="1.2" stroke-linejoin="round" stroke-linecap="round"/>
<path d="M174.0,113.5 C174.4,114.1 176.1,116.7 176.5,117.3" fill="none" stroke="#111" stroke-width="1.2" stroke-linejoin="round" stroke-linecap="round"/>
<path d="M160.7,123.6 C161.5,123.4 164.0,122.9 165.7,122.6 C167.4,122.3 169.2,121.7 171.0,121.9 C172.8,122.1 174.9,123.1 176.2,123.9 C177.5,124.7 178.4,126.1 178.8,126.5" fill="none" stroke="#111" stroke-width="1.2" stroke-linejoin="round" stroke-linecap="round"/>
<path d="M178.8,126.5 C179.2,126.2 180.8,124.9 181.2,124.6" fill="none" stroke="#111" stroke-width="1.2" stroke-linejoin="round" stroke-linecap="round"/>
<path d="M178.8,126.5 C179.7,126.8 183.2,127.8 184.1,128.1" fill="none" stroke="#111" stroke-width="1.2" stroke-linejoin="round" stroke-linecap="round"/>
<path d="M178.8,126.5 C179.4,127.3 181.6,130.3 182.1,131.1" fill="none" stroke="#111" stroke-width="1.2" stroke-linejoin="round" stroke-linecap="round"/>
<path d="M178.8,126.5 C179.0,127.5 180.0,131.5 180.2,132.5" fill="none" stroke="#111" stroke-width="1.2" stroke-linejoin="round" stroke-linecap="round"/>
<path d="M178.8,126.5 C178.4,127.5 177.0,131.2 176.6,132.2" fill="none" stroke="#111" stroke-width="1.2" stroke-linejoin="round" stroke-linecap="round"/>
<circle cx="169.6" cy="104.9" r="1.45" fill="#1fc0d6"/>
<circle cx="173.8" cy="104.9" r="1.45" fill="#1fc0d6"/>
<circle cx="176.9" cy="108.1" r="1.45" fill="#1fc0d6"/>
<circle cx="181.2" cy="124.6" r="1.45" fill="#1fc0d6"/>
<circle cx="184.1" cy="128.1" r="1.45" fill="#1fc0d6"/>
<circle cx="182.1" cy="131.1" r="1.45" fill="#1fc0d6"/>
<circle cx="180.2" cy="132.5" r="1.45" fill="#1fc0d6"/>
<circle cx="176.6" cy="132.2" r="1.45" fill="#1fc0d6"/>
<circle cx="105.0" cy="121.0" r="1.45" fill="#d7182a"/>
<circle cx="159.8" cy="116.0" r="1.45" fill="#d7182a"/>
<circle cx="166.8" cy="107.7" r="1.45" fill="#d7182a"/>
<circle cx="178.6" cy="114.1" r="1.45" fill="#d7182a"/>
<circle cx="176.5" cy="117.3" r="1.45" fill="#d7182a"/>
<text x="4.60" y="167.60" font-size="10" text-anchor="start" fill="#000" font-weight="bold">e</text>
<polygon points="180.0,241.6 182.1,240.3 184.1,238.9 186.2,237.6 188.2,236.3 190.3,235.0 192.4,233.6 194.4,232.3 196.5,231.0 198.6,229.6 200.6,228.3 202.7,226.9 204.8,225.6 206.8,224.2 208.9,222.9 210.9,221.5 213.0,220.2 215.1,218.8 217.1,217.5 219.2,216.1 221.2,214.7 223.3,213.4 225.4,212.0 227.4,210.7 229.5,209.3 231.6,207.9 233.6,206.5 235.7,205.2 237.8,203.8 239.8,202.4 241.9,201.0 243.9,199.6 246.0,198.3 248.1,196.9 250.1,195.5 252.2,194.1 254.2,192.7 256.3,191.3 258.4,189.9 260.4,188.5 262.5,187.1 262.5,192.8 260.4,194.2 258.4,195.6 256.3,196.9 254.2,198.3 252.2,199.6 250.1,200.9 248.1,202.3 246.0,203.6 243.9,205.0 241.9,206.3 239.8,207.7 237.8,209.0 235.7,210.3 233.6,211.7 231.6,213.0 229.5,214.3 227.4,215.6 225.4,217.0 223.3,218.3 221.2,219.6 219.2,220.9 217.1,222.3 215.1,223.6 213.0,224.9 210.9,226.2 208.9,227.5 206.8,228.8 204.8,230.1 202.7,231.1 200.6,232.1 198.6,233.1 196.5,234.1 194.4,235.1 192.4,236.2 190.3,237.2 188.2,238.2 186.2,239.2 184.1,240.3 182.1,241.3 180.0,242.4" fill="#0a6fbb"/>
<g fill="none" stroke="#0072bd" stroke-width="0.8"><circle cx="66.0" cy="308.5" r="1.05"/><circle cx="65.8" cy="309.8" r="1.05"/><circle cx="65.6" cy="311.0" r="1.05"/><circle cx="46.0" cy="318.5" r="1.05"/><circle cx="46.1" cy="319.7" r="1.05"/><circle cx="71.6" cy="305.1" r="1.05"/><circle cx="71.3" cy="306.7" r="1.05"/><circle cx="71.4" cy="307.9" r="1.05"/><circle cx="71.3" cy="309.2" r="1.05"/><circle cx="71.1" cy="310.6" r="1.05"/><circle cx="82.6" cy="299.1" r="1.05"/><circle cx="82.8" cy="300.5" r="1.05"/><circle cx="82.2" cy="301.8" r="1.05"/><circle cx="93.0" cy="293.6" r="1.05"/><circle cx="93.5" cy="295.0" r="1.05"/><circle cx="92.9" cy="296.3" r="1.05"/><circle cx="72.8" cy="304.3" r="1.05"/><circle cx="72.9" cy="305.8" r="1.05"/><circle cx="72.4" cy="307.4" r="1.05"/><circle cx="72.7" cy="308.7" r="1.05"/><circle cx="85.0" cy="298.5" r="1.05"/><circle cx="84.7" cy="300.0" r="1.05"/><circle cx="84.7" cy="301.1" r="1.05"/><circle cx="62.2" cy="310.1" r="1.05"/><circle cx="62.4" cy="311.2" r="1.05"/><circle cx="62.6" cy="312.4" r="1.05"/><circle cx="62.6" cy="313.5" r="1.05"/><circle cx="104.8" cy="286.8" r="1.05"/><circle cx="105.3" cy="288.3" r="1.05"/><circle cx="72.4" cy="305.0" r="1.05"/><circle cx="72.8" cy="306.7" r="1.05"/><circle cx="72.8" cy="307.9" r="1.05"/><circle cx="85.2" cy="297.5" r="1.05"/><circle cx="85.5" cy="298.9" r="1.05"/><circle cx="85.3" cy="300.6" r="1.05"/><circle cx="42.1" cy="320.2" r="1.05"/><circle cx="42.5" cy="321.8" r="1.05"/><circle cx="88.4" cy="295.7" r="1.05"/><circle cx="88.8" cy="297.0" r="1.05"/><circle cx="88.8" cy="298.1" r="1.05"/><circle cx="47.2" cy="317.4" r="1.05"/><circle cx="46.8" cy="318.5" r="1.05"/><circle cx="46.9" cy="319.8" r="1.05"/><circle cx="113.3" cy="282.2" r="1.05"/><circle cx="113.3" cy="283.3" r="1.05"/><circle cx="113.2" cy="284.6" r="1.05"/><circle cx="113.1" cy="286.2" r="1.05"/><circle cx="51.1" cy="315.4" r="1.05"/><circle cx="51.6" cy="316.8" r="1.05"/><circle cx="51.0" cy="318.3" r="1.05"/><circle cx="52.9" cy="314.9" r="1.05"/><circle cx="52.6" cy="316.1" r="1.05"/><circle cx="53.4" cy="317.7" r="1.05"/><circle cx="96.0" cy="292.0" r="1.05"/><circle cx="96.1" cy="293.3" r="1.05"/><circle cx="96.0" cy="294.6" r="1.05"/><circle cx="111.3" cy="283.9" r="1.05"/><circle cx="110.6" cy="285.2" r="1.05"/><circle cx="110.7" cy="286.5" r="1.05"/><circle cx="110.8" cy="287.7" r="1.05"/><circle cx="102.9" cy="288.2" r="1.05"/><circle cx="102.8" cy="289.7" r="1.05"/><circle cx="103.0" cy="291.3" r="1.05"/><circle cx="99.0" cy="290.3" r="1.05"/><circle cx="99.2" cy="292.0" r="1.05"/><circle cx="99.5" cy="293.6" r="1.05"/><circle cx="49.4" cy="316.9" r="1.05"/><circle cx="49.2" cy="318.5" r="1.05"/><circle cx="68.4" cy="307.0" r="1.05"/><circle cx="67.8" cy="308.5" r="1.05"/><circle cx="68.0" cy="309.9" r="1.05"/><circle cx="67.6" cy="311.6" r="1.05"/><circle cx="59.8" cy="311.1" r="1.05"/><circle cx="59.8" cy="312.5" r="1.05"/><circle cx="60.1" cy="313.7" r="1.05"/><circle cx="107.1" cy="285.9" r="1.05"/><circle cx="106.9" cy="287.3" r="1.05"/><circle cx="107.1" cy="288.4" r="1.05"/><circle cx="107.2" cy="289.8" r="1.05"/><circle cx="77.1" cy="302.5" r="1.05"/><circle cx="76.7" cy="303.8" r="1.05"/><circle cx="77.0" cy="305.3" r="1.05"/><circle cx="76.9" cy="306.5" r="1.05"/><circle cx="79.5" cy="301.3" r="1.05"/><circle cx="79.2" cy="302.9" r="1.05"/><circle cx="79.7" cy="304.3" r="1.05"/><circle cx="75.8" cy="303.2" r="1.05"/><circle cx="75.3" cy="304.9" r="1.05"/><circle cx="75.4" cy="306.5" r="1.05"/><circle cx="50.6" cy="316.1" r="1.05"/><circle cx="50.3" cy="317.3" r="1.05"/><circle cx="106.8" cy="286.0" r="1.05"/><circle cx="107.0" cy="287.5" r="1.05"/><circle cx="110.8" cy="283.7" r="1.05"/><circle cx="110.5" cy="285.4" r="1.05"/><circle cx="110.3" cy="286.8" r="1.05"/><circle cx="55.6" cy="313.8" r="1.05"/><circle cx="55.4" cy="315.2" r="1.05"/><circle cx="55.1" cy="316.3" r="1.05"/><circle cx="112.9" cy="282.9" r="1.05"/><circle cx="112.6" cy="284.0" r="1.05"/><circle cx="112.6" cy="285.6" r="1.05"/><circle cx="112.7" cy="286.8" r="1.05"/><circle cx="112.8" cy="288.5" r="1.05"/><circle cx="51.3" cy="315.7" r="1.05"/><circle cx="51.2" cy="316.8" r="1.05"/><circle cx="51.2" cy="318.3" r="1.05"/><circle cx="100.3" cy="289.9" r="1.05"/><circle cx="100.4" cy="291.0" r="1.05"/><circle cx="100.0" cy="292.3" r="1.05"/><circle cx="61.3" cy="310.7" r="1.05"/><circle cx="61.4" cy="311.9" r="1.05"/><circle cx="61.3" cy="313.0" r="1.05"/><circle cx="63.2" cy="309.5" r="1.05"/><circle cx="63.2" cy="310.8" r="1.05"/><circle cx="63.0" cy="311.9" r="1.05"/><circle cx="62.9" cy="313.5" r="1.05"/><circle cx="47.4" cy="317.5" r="1.05"/><circle cx="47.6" cy="318.9" r="1.05"/><circle cx="47.2" cy="320.3" r="1.05"/><circle cx="67.0" cy="307.8" r="1.05"/><circle cx="67.0" cy="309.1" r="1.05"/><circle cx="67.2" cy="310.2" r="1.05"/><circle cx="67.2" cy="311.8" r="1.05"/><circle cx="67.2" cy="313.0" r="1.05"/><circle cx="91.3" cy="294.5" r="1.05"/><circle cx="91.0" cy="295.7" r="1.05"/><circle cx="91.2" cy="297.1" r="1.05"/><circle cx="111.9" cy="282.8" r="1.05"/><circle cx="111.7" cy="284.1" r="1.05"/><circle cx="111.5" cy="285.2" r="1.05"/><circle cx="111.9" cy="286.6" r="1.05"/><circle cx="111.7" cy="287.8" r="1.05"/><circle cx="71.5" cy="305.0" r="1.05"/><circle cx="71.5" cy="306.3" r="1.05"/><circle cx="71.8" cy="307.7" r="1.05"/><circle cx="94.0" cy="292.8" r="1.05"/><circle cx="95.0" cy="294.0" r="1.05"/><circle cx="94.3" cy="295.5" r="1.05"/><circle cx="94.3" cy="297.1" r="1.05"/><circle cx="94.1" cy="298.8" r="1.05"/><circle cx="80.4" cy="300.7" r="1.05"/><circle cx="80.9" cy="302.3" r="1.05"/><circle cx="80.4" cy="303.9" r="1.05"/><circle cx="58.1" cy="311.9" r="1.05"/><circle cx="58.2" cy="313.5" r="1.05"/><circle cx="88.5" cy="296.4" r="1.05"/><circle cx="88.1" cy="297.9" r="1.05"/><circle cx="87.7" cy="299.3" r="1.05"/><circle cx="88.0" cy="300.5" r="1.05"/><circle cx="44.5" cy="319.1" r="1.05"/><circle cx="44.8" cy="320.8" r="1.05"/><circle cx="77.2" cy="302.4" r="1.05"/><circle cx="77.2" cy="303.6" r="1.05"/><circle cx="77.4" cy="304.7" r="1.05"/><circle cx="77.8" cy="306.0" r="1.05"/><circle cx="77.4" cy="309.5" r="1.05"/><circle cx="61.2" cy="310.8" r="1.05"/><circle cx="61.1" cy="312.2" r="1.05"/><circle cx="61.2" cy="313.6" r="1.05"/><circle cx="61.3" cy="315.2" r="1.05"/><circle cx="109.6" cy="284.3" r="1.05"/><circle cx="108.7" cy="285.7" r="1.05"/><circle cx="109.5" cy="287.0" r="1.05"/><circle cx="51.2" cy="316.3" r="1.05"/><circle cx="50.8" cy="317.5" r="1.05"/><circle cx="58.0" cy="312.2" r="1.05"/><circle cx="58.6" cy="313.3" r="1.05"/><circle cx="58.3" cy="314.6" r="1.05"/><circle cx="58.4" cy="315.9" r="1.05"/><circle cx="58.5" cy="317.2" r="1.05"/><circle cx="58.3" cy="322.3" r="1.05"/><circle cx="102.7" cy="288.5" r="1.05"/><circle cx="102.3" cy="289.7" r="1.05"/><circle cx="102.1" cy="291.1" r="1.05"/><circle cx="74.2" cy="303.9" r="1.05"/><circle cx="73.8" cy="305.0" r="1.05"/><circle cx="73.5" cy="306.7" r="1.05"/></g>
<g fill="none" stroke="#d95319" stroke-width="0.8"><circle cx="90.0" cy="295.5" r="1.05"/><circle cx="89.4" cy="297.1" r="1.05"/><circle cx="90.0" cy="298.6" r="1.05"/><circle cx="43.0" cy="319.5" r="1.05"/><circle cx="43.1" cy="321.0" r="1.05"/><circle cx="43.1" cy="322.2" r="1.05"/><circle cx="86.0" cy="297.4" r="1.05"/><circle cx="85.3" cy="298.6" r="1.05"/><circle cx="85.9" cy="300.1" r="1.05"/><circle cx="56.4" cy="313.6" r="1.05"/><circle cx="56.2" cy="315.0" r="1.05"/><circle cx="54.2" cy="314.1" r="1.05"/><circle cx="53.8" cy="315.4" r="1.05"/><circle cx="53.8" cy="316.7" r="1.05"/><circle cx="109.9" cy="283.8" r="1.05"/><circle cx="110.1" cy="285.1" r="1.05"/><circle cx="110.0" cy="286.3" r="1.05"/><circle cx="110.8" cy="287.4" r="1.05"/><circle cx="119.6" cy="278.2" r="1.05"/><circle cx="119.8" cy="279.5" r="1.05"/><circle cx="119.9" cy="281.2" r="1.05"/><circle cx="119.6" cy="286.8" r="1.05"/><circle cx="121.9" cy="276.8" r="1.05"/><circle cx="121.8" cy="277.9" r="1.05"/><circle cx="122.6" cy="279.5" r="1.05"/><circle cx="122.5" cy="281.1" r="1.05"/><circle cx="90.5" cy="295.4" r="1.05"/><circle cx="90.3" cy="296.9" r="1.05"/><circle cx="90.2" cy="298.3" r="1.05"/><circle cx="90.9" cy="299.7" r="1.05"/><circle cx="101.4" cy="288.7" r="1.05"/><circle cx="101.0" cy="289.9" r="1.05"/><circle cx="101.0" cy="291.1" r="1.05"/><circle cx="101.0" cy="292.2" r="1.05"/><circle cx="97.4" cy="291.0" r="1.05"/><circle cx="97.8" cy="292.4" r="1.05"/><circle cx="63.5" cy="309.8" r="1.05"/><circle cx="63.6" cy="311.4" r="1.05"/><circle cx="81.3" cy="300.3" r="1.05"/><circle cx="81.3" cy="301.9" r="1.05"/><circle cx="81.3" cy="303.2" r="1.05"/><circle cx="59.7" cy="311.6" r="1.05"/><circle cx="59.8" cy="313.3" r="1.05"/><circle cx="59.9" cy="314.5" r="1.05"/><circle cx="59.7" cy="315.8" r="1.05"/><circle cx="126.9" cy="273.8" r="1.05"/><circle cx="127.1" cy="275.3" r="1.05"/><circle cx="127.0" cy="277.0" r="1.05"/><circle cx="127.1" cy="278.2" r="1.05"/><circle cx="44.0" cy="319.3" r="1.05"/><circle cx="124.9" cy="274.8" r="1.05"/><circle cx="125.2" cy="276.4" r="1.05"/><circle cx="125.1" cy="277.9" r="1.05"/><circle cx="73.0" cy="304.1" r="1.05"/><circle cx="73.3" cy="305.8" r="1.05"/><circle cx="73.2" cy="307.0" r="1.05"/><circle cx="116.2" cy="280.0" r="1.05"/><circle cx="115.8" cy="281.4" r="1.05"/><circle cx="116.6" cy="282.6" r="1.05"/><circle cx="116.2" cy="283.9" r="1.05"/><circle cx="111.5" cy="282.7" r="1.05"/><circle cx="111.7" cy="283.8" r="1.05"/><circle cx="111.5" cy="285.4" r="1.05"/><circle cx="67.3" cy="307.6" r="1.05"/><circle cx="67.7" cy="308.9" r="1.05"/><circle cx="67.7" cy="310.2" r="1.05"/><circle cx="67.3" cy="311.9" r="1.05"/><circle cx="67.3" cy="313.3" r="1.05"/><circle cx="127.2" cy="273.7" r="1.05"/><circle cx="127.0" cy="275.0" r="1.05"/><circle cx="127.4" cy="276.6" r="1.05"/><circle cx="127.4" cy="277.8" r="1.05"/><circle cx="126.9" cy="279.4" r="1.05"/><circle cx="72.7" cy="304.6" r="1.05"/><circle cx="72.6" cy="305.8" r="1.05"/><circle cx="72.7" cy="307.4" r="1.05"/><circle cx="72.6" cy="305.2" r="1.05"/><circle cx="72.4" cy="306.8" r="1.05"/><circle cx="72.6" cy="308.0" r="1.05"/><circle cx="72.4" cy="309.4" r="1.05"/><circle cx="72.2" cy="310.6" r="1.05"/><circle cx="103.7" cy="287.9" r="1.05"/><circle cx="103.6" cy="289.5" r="1.05"/><circle cx="103.5" cy="290.7" r="1.05"/><circle cx="103.6" cy="292.3" r="1.05"/><circle cx="64.4" cy="309.2" r="1.05"/><circle cx="64.5" cy="310.6" r="1.05"/><circle cx="63.4" cy="309.8" r="1.05"/><circle cx="63.2" cy="311.2" r="1.05"/><circle cx="63.5" cy="312.8" r="1.05"/><circle cx="62.8" cy="313.9" r="1.05"/><circle cx="59.2" cy="311.9" r="1.05"/><circle cx="58.9" cy="313.5" r="1.05"/><circle cx="58.9" cy="314.9" r="1.05"/><circle cx="59.4" cy="316.5" r="1.05"/><circle cx="99.2" cy="290.1" r="1.05"/><circle cx="99.2" cy="291.4" r="1.05"/><circle cx="99.0" cy="292.8" r="1.05"/><circle cx="104.0" cy="287.2" r="1.05"/><circle cx="104.2" cy="288.4" r="1.05"/><circle cx="103.8" cy="289.6" r="1.05"/><circle cx="93.2" cy="293.3" r="1.05"/><circle cx="93.3" cy="294.7" r="1.05"/><circle cx="92.8" cy="296.0" r="1.05"/><circle cx="93.6" cy="297.2" r="1.05"/><circle cx="92.8" cy="298.7" r="1.05"/><circle cx="76.3" cy="303.1" r="1.05"/><circle cx="76.6" cy="304.3" r="1.05"/><circle cx="76.1" cy="305.7" r="1.05"/><circle cx="121.5" cy="277.1" r="1.05"/><circle cx="121.2" cy="278.6" r="1.05"/><circle cx="121.5" cy="280.3" r="1.05"/><circle cx="121.4" cy="281.6" r="1.05"/><circle cx="68.6" cy="307.3" r="1.05"/><circle cx="68.6" cy="308.9" r="1.05"/><circle cx="68.4" cy="310.6" r="1.05"/><circle cx="87.1" cy="297.3" r="1.05"/><circle cx="87.3" cy="298.7" r="1.05"/><circle cx="113.0" cy="282.0" r="1.05"/><circle cx="113.3" cy="283.6" r="1.05"/><circle cx="113.0" cy="284.9" r="1.05"/><circle cx="77.8" cy="301.7" r="1.05"/><circle cx="77.4" cy="302.9" r="1.05"/><circle cx="77.9" cy="304.3" r="1.05"/><circle cx="97.2" cy="291.3" r="1.05"/><circle cx="97.0" cy="292.6" r="1.05"/><circle cx="97.5" cy="294.0" r="1.05"/><circle cx="97.0" cy="295.5" r="1.05"/><circle cx="87.7" cy="296.9" r="1.05"/><circle cx="87.4" cy="298.4" r="1.05"/><circle cx="87.6" cy="299.8" r="1.05"/><circle cx="82.2" cy="299.5" r="1.05"/><circle cx="82.2" cy="301.0" r="1.05"/><circle cx="82.2" cy="302.2" r="1.05"/><circle cx="82.2" cy="306.4" r="1.05"/><circle cx="76.9" cy="301.9" r="1.05"/><circle cx="77.8" cy="303.5" r="1.05"/><circle cx="77.4" cy="305.1" r="1.05"/><circle cx="77.7" cy="306.4" r="1.05"/><circle cx="77.3" cy="308.0" r="1.05"/><circle cx="113.1" cy="281.6" r="1.05"/><circle cx="113.7" cy="282.8" r="1.05"/><circle cx="113.3" cy="284.5" r="1.05"/><circle cx="113.8" cy="285.7" r="1.05"/><circle cx="113.5" cy="287.1" r="1.05"/><circle cx="113.3" cy="288.3" r="1.05"/><circle cx="42.0" cy="320.0" r="1.05"/><circle cx="41.5" cy="321.7" r="1.05"/><circle cx="50.7" cy="315.9" r="1.05"/><circle cx="51.4" cy="317.3" r="1.05"/><circle cx="51.1" cy="318.8" r="1.05"/><circle cx="78.8" cy="301.2" r="1.05"/><circle cx="78.7" cy="302.9" r="1.05"/><circle cx="78.8" cy="304.5" r="1.05"/><circle cx="79.1" cy="305.8" r="1.05"/><circle cx="65.8" cy="308.9" r="1.05"/><circle cx="65.3" cy="310.3" r="1.05"/><circle cx="65.3" cy="311.4" r="1.05"/><circle cx="65.7" cy="312.6" r="1.05"/><circle cx="122.5" cy="276.6" r="1.05"/><circle cx="122.3" cy="278.0" r="1.05"/><circle cx="122.3" cy="279.4" r="1.05"/><circle cx="62.6" cy="310.1" r="1.05"/><circle cx="62.9" cy="311.5" r="1.05"/><circle cx="62.7" cy="312.7" r="1.05"/><circle cx="62.4" cy="313.8" r="1.05"/><circle cx="120.3" cy="277.9" r="1.05"/><circle cx="120.3" cy="279.4" r="1.05"/><circle cx="120.1" cy="280.8" r="1.05"/><circle cx="120.6" cy="282.2" r="1.05"/><circle cx="120.2" cy="283.8" r="1.05"/><circle cx="120.3" cy="288.2" r="1.05"/><circle cx="79.8" cy="300.5" r="1.05"/><circle cx="80.3" cy="302.0" r="1.05"/><circle cx="80.0" cy="303.7" r="1.05"/><circle cx="98.1" cy="290.9" r="1.05"/><circle cx="97.9" cy="292.2" r="1.05"/><circle cx="98.5" cy="293.5" r="1.05"/><circle cx="98.2" cy="295.1" r="1.05"/><circle cx="98.0" cy="300.8" r="1.05"/><circle cx="109.6" cy="284.3" r="1.05"/><circle cx="109.8" cy="285.5" r="1.05"/><circle cx="110.0" cy="286.7" r="1.05"/><circle cx="109.8" cy="288.2" r="1.05"/><circle cx="106.5" cy="285.8" r="1.05"/><circle cx="107.1" cy="287.2" r="1.05"/><circle cx="106.5" cy="288.5" r="1.05"/><circle cx="38.1" cy="321.5" r="1.05"/><circle cx="39.0" cy="323.0" r="1.05"/><circle cx="72.6" cy="305.0" r="1.05"/><circle cx="72.6" cy="306.5" r="1.05"/><circle cx="117.3" cy="279.8" r="1.05"/><circle cx="117.6" cy="281.1" r="1.05"/><circle cx="117.3" cy="282.4" r="1.05"/><circle cx="117.6" cy="283.7" r="1.05"/><circle cx="40.2" cy="321.3" r="1.05"/><circle cx="40.3" cy="321.0" r="1.05"/><circle cx="96.2" cy="291.9" r="1.05"/><circle cx="96.6" cy="293.5" r="1.05"/><circle cx="96.5" cy="295.2" r="1.05"/><circle cx="50.6" cy="315.9" r="1.05"/><circle cx="50.2" cy="317.5" r="1.05"/><circle cx="100.4" cy="289.3" r="1.05"/><circle cx="100.3" cy="290.6" r="1.05"/><circle cx="100.0" cy="291.9" r="1.05"/><circle cx="100.1" cy="293.1" r="1.05"/><circle cx="76.0" cy="303.1" r="1.05"/><circle cx="76.4" cy="304.6" r="1.05"/><circle cx="76.2" cy="305.7" r="1.05"/><circle cx="106.5" cy="285.9" r="1.05"/><circle cx="106.7" cy="287.5" r="1.05"/><circle cx="106.6" cy="288.7" r="1.05"/><circle cx="106.5" cy="289.8" r="1.05"/><circle cx="106.3" cy="294.9" r="1.05"/><circle cx="88.2" cy="296.3" r="1.05"/><circle cx="87.5" cy="297.7" r="1.05"/><circle cx="88.1" cy="299.0" r="1.05"/><circle cx="87.7" cy="300.6" r="1.05"/><circle cx="87.9" cy="302.2" r="1.05"/><circle cx="100.4" cy="289.7" r="1.05"/><circle cx="100.1" cy="291.1" r="1.05"/><circle cx="79.0" cy="301.1" r="1.05"/><circle cx="78.9" cy="302.3" r="1.05"/><circle cx="79.2" cy="303.5" r="1.05"/><circle cx="78.8" cy="304.9" r="1.05"/><circle cx="79.0" cy="306.5" r="1.05"/></g>
<g fill="none" stroke="#edb120" stroke-width="0.8"><circle cx="130.5" cy="271.9" r="1.05"/><circle cx="130.5" cy="273.2" r="1.05"/><circle cx="130.6" cy="274.7" r="1.05"/><circle cx="130.4" cy="276.2" r="1.05"/><circle cx="67.1" cy="308.1" r="1.05"/><circle cx="67.0" cy="309.3" r="1.05"/><circle cx="67.1" cy="310.8" r="1.05"/><circle cx="70.3" cy="305.8" r="1.05"/><circle cx="70.4" cy="307.1" r="1.05"/><circle cx="70.8" cy="308.3" r="1.05"/><circle cx="63.9" cy="309.7" r="1.05"/><circle cx="63.9" cy="311.3" r="1.05"/><circle cx="63.7" cy="312.5" r="1.05"/><circle cx="75.8" cy="302.5" r="1.05"/><circle cx="76.4" cy="304.0" r="1.05"/><circle cx="75.9" cy="305.4" r="1.05"/><circle cx="75.9" cy="306.6" r="1.05"/><circle cx="128.8" cy="272.6" r="1.05"/><circle cx="128.9" cy="274.0" r="1.05"/><circle cx="129.0" cy="275.2" r="1.05"/><circle cx="128.6" cy="276.8" r="1.05"/><circle cx="129.4" cy="278.3" r="1.05"/><circle cx="87.3" cy="296.3" r="1.05"/><circle cx="87.7" cy="297.7" r="1.05"/><circle cx="87.2" cy="299.2" r="1.05"/><circle cx="87.3" cy="300.4" r="1.05"/><circle cx="123.2" cy="276.0" r="1.05"/><circle cx="123.1" cy="277.5" r="1.05"/><circle cx="122.8" cy="278.9" r="1.05"/><circle cx="123.4" cy="280.6" r="1.05"/><circle cx="123.1" cy="281.8" r="1.05"/><circle cx="107.9" cy="285.0" r="1.05"/><circle cx="108.2" cy="286.4" r="1.05"/><circle cx="108.4" cy="287.9" r="1.05"/><circle cx="76.3" cy="302.6" r="1.05"/><circle cx="77.1" cy="304.1" r="1.05"/><circle cx="77.0" cy="305.5" r="1.05"/><circle cx="76.5" cy="306.6" r="1.05"/><circle cx="76.8" cy="307.7" r="1.05"/><circle cx="125.3" cy="274.8" r="1.05"/><circle cx="125.6" cy="276.5" r="1.05"/><circle cx="125.3" cy="277.9" r="1.05"/><circle cx="125.6" cy="279.3" r="1.05"/><circle cx="132.1" cy="270.8" r="1.05"/><circle cx="132.5" cy="272.1" r="1.05"/><circle cx="132.2" cy="273.7" r="1.05"/><circle cx="132.7" cy="275.3" r="1.05"/><circle cx="132.2" cy="276.9" r="1.05"/><circle cx="137.6" cy="267.9" r="1.05"/><circle cx="137.4" cy="269.1" r="1.05"/><circle cx="137.7" cy="270.5" r="1.05"/><circle cx="138.0" cy="271.7" r="1.05"/><circle cx="86.4" cy="297.2" r="1.05"/><circle cx="86.3" cy="298.7" r="1.05"/><circle cx="86.2" cy="300.4" r="1.05"/><circle cx="86.4" cy="307.0" r="1.05"/><circle cx="144.2" cy="263.3" r="1.05"/><circle cx="143.7" cy="264.5" r="1.05"/><circle cx="144.4" cy="265.6" r="1.05"/><circle cx="143.9" cy="266.8" r="1.05"/><circle cx="144.1" cy="268.0" r="1.05"/><circle cx="144.2" cy="269.5" r="1.05"/><circle cx="144.1" cy="263.5" r="1.05"/><circle cx="143.7" cy="265.0" r="1.05"/><circle cx="144.2" cy="266.5" r="1.05"/><circle cx="143.6" cy="268.1" r="1.05"/><circle cx="143.8" cy="269.4" r="1.05"/><circle cx="141.7" cy="264.7" r="1.05"/><circle cx="142.2" cy="265.9" r="1.05"/><circle cx="142.2" cy="267.1" r="1.05"/><circle cx="142.1" cy="268.5" r="1.05"/><circle cx="142.2" cy="269.9" r="1.05"/><circle cx="50.2" cy="316.0" r="1.05"/><circle cx="50.4" cy="317.6" r="1.05"/><circle cx="50.0" cy="318.9" r="1.05"/><circle cx="119.7" cy="278.5" r="1.05"/><circle cx="119.6" cy="280.1" r="1.05"/><circle cx="104.8" cy="286.5" r="1.05"/><circle cx="104.7" cy="288.1" r="1.05"/><circle cx="104.7" cy="289.7" r="1.05"/><circle cx="104.6" cy="291.0" r="1.05"/><circle cx="105.0" cy="292.6" r="1.05"/><circle cx="98.6" cy="290.7" r="1.05"/><circle cx="99.2" cy="292.0" r="1.05"/><circle cx="98.7" cy="293.4" r="1.05"/><circle cx="99.0" cy="295.1" r="1.05"/><circle cx="89.1" cy="295.5" r="1.05"/><circle cx="89.3" cy="297.0" r="1.05"/><circle cx="89.4" cy="298.2" r="1.05"/><circle cx="89.5" cy="302.6" r="1.05"/><circle cx="50.0" cy="316.4" r="1.05"/><circle cx="50.3" cy="317.8" r="1.05"/><circle cx="117.2" cy="279.7" r="1.05"/><circle cx="117.5" cy="281.2" r="1.05"/><circle cx="117.4" cy="282.7" r="1.05"/><circle cx="117.6" cy="284.0" r="1.05"/><circle cx="117.6" cy="290.0" r="1.05"/><circle cx="144.6" cy="263.1" r="1.05"/><circle cx="144.8" cy="264.7" r="1.05"/><circle cx="144.5" cy="265.9" r="1.05"/><circle cx="144.6" cy="267.2" r="1.05"/><circle cx="144.9" cy="268.6" r="1.05"/><circle cx="58.2" cy="312.0" r="1.05"/><circle cx="58.2" cy="313.5" r="1.05"/><circle cx="57.8" cy="315.1" r="1.05"/><circle cx="146.9" cy="261.9" r="1.05"/><circle cx="147.2" cy="263.2" r="1.05"/><circle cx="147.1" cy="264.4" r="1.05"/><circle cx="146.9" cy="265.6" r="1.05"/><circle cx="146.9" cy="267.1" r="1.05"/><circle cx="147.0" cy="268.3" r="1.05"/><circle cx="52.5" cy="314.8" r="1.05"/><circle cx="52.5" cy="316.4" r="1.05"/><circle cx="52.6" cy="318.0" r="1.05"/><circle cx="128.0" cy="273.4" r="1.05"/><circle cx="127.8" cy="275.1" r="1.05"/><circle cx="128.5" cy="276.3" r="1.05"/><circle cx="128.1" cy="281.0" r="1.05"/><circle cx="136.0" cy="268.3" r="1.05"/><circle cx="136.3" cy="269.9" r="1.05"/><circle cx="136.5" cy="271.3" r="1.05"/><circle cx="113.9" cy="282.0" r="1.05"/><circle cx="114.0" cy="283.3" r="1.05"/><circle cx="113.4" cy="284.8" r="1.05"/><circle cx="113.4" cy="286.1" r="1.05"/><circle cx="133.7" cy="270.1" r="1.05"/><circle cx="133.4" cy="271.6" r="1.05"/><circle cx="133.0" cy="273.2" r="1.05"/><circle cx="133.4" cy="274.9" r="1.05"/><circle cx="86.9" cy="297.2" r="1.05"/><circle cx="87.4" cy="298.7" r="1.05"/><circle cx="87.2" cy="300.3" r="1.05"/><circle cx="98.6" cy="290.7" r="1.05"/><circle cx="99.2" cy="292.3" r="1.05"/><circle cx="98.9" cy="293.9" r="1.05"/><circle cx="83.2" cy="299.2" r="1.05"/><circle cx="83.0" cy="300.5" r="1.05"/><circle cx="83.0" cy="301.6" r="1.05"/><circle cx="83.3" cy="302.9" r="1.05"/><circle cx="83.6" cy="304.4" r="1.05"/><circle cx="102.9" cy="287.8" r="1.05"/><circle cx="103.1" cy="289.4" r="1.05"/><circle cx="102.7" cy="290.5" r="1.05"/><circle cx="79.3" cy="301.6" r="1.05"/><circle cx="78.8" cy="303.0" r="1.05"/><circle cx="79.1" cy="304.5" r="1.05"/><circle cx="79.2" cy="305.7" r="1.05"/><circle cx="112.7" cy="282.5" r="1.05"/><circle cx="112.7" cy="284.2" r="1.05"/><circle cx="112.9" cy="285.5" r="1.05"/><circle cx="116.0" cy="280.6" r="1.05"/><circle cx="116.5" cy="281.7" r="1.05"/><circle cx="115.9" cy="283.4" r="1.05"/><circle cx="115.6" cy="284.8" r="1.05"/><circle cx="147.6" cy="261.7" r="1.05"/><circle cx="147.6" cy="263.3" r="1.05"/><circle cx="147.7" cy="264.6" r="1.05"/><circle cx="147.7" cy="265.8" r="1.05"/><circle cx="147.7" cy="267.2" r="1.05"/><circle cx="147.5" cy="261.0" r="1.05"/><circle cx="147.6" cy="262.2" r="1.05"/><circle cx="147.7" cy="263.9" r="1.05"/><circle cx="148.0" cy="265.4" r="1.05"/><circle cx="147.6" cy="267.0" r="1.05"/><circle cx="147.5" cy="268.4" r="1.05"/><circle cx="151.6" cy="258.6" r="1.05"/><circle cx="151.9" cy="260.2" r="1.05"/><circle cx="151.7" cy="261.9" r="1.05"/><circle cx="120.3" cy="277.5" r="1.05"/><circle cx="120.4" cy="278.7" r="1.05"/><circle cx="119.8" cy="280.2" r="1.05"/><circle cx="120.0" cy="281.5" r="1.05"/><circle cx="120.2" cy="282.7" r="1.05"/><circle cx="120.4" cy="284.0" r="1.05"/><circle cx="79.8" cy="301.1" r="1.05"/><circle cx="79.6" cy="302.2" r="1.05"/><circle cx="79.5" cy="303.4" r="1.05"/><circle cx="146.7" cy="262.4" r="1.05"/><circle cx="146.7" cy="263.6" r="1.05"/><circle cx="146.7" cy="265.2" r="1.05"/><circle cx="146.2" cy="266.6" r="1.05"/><circle cx="146.7" cy="267.9" r="1.05"/><circle cx="77.6" cy="302.2" r="1.05"/><circle cx="78.1" cy="303.6" r="1.05"/><circle cx="70.8" cy="306.2" r="1.05"/><circle cx="70.5" cy="307.5" r="1.05"/><circle cx="70.6" cy="308.8" r="1.05"/><circle cx="150.4" cy="260.0" r="1.05"/><circle cx="150.3" cy="261.4" r="1.05"/><circle cx="150.5" cy="262.6" r="1.05"/><circle cx="152.4" cy="258.3" r="1.05"/><circle cx="152.3" cy="259.6" r="1.05"/><circle cx="152.1" cy="261.1" r="1.05"/><circle cx="152.2" cy="262.4" r="1.05"/><circle cx="152.2" cy="264.0" r="1.05"/><circle cx="152.2" cy="265.3" r="1.05"/><circle cx="73.8" cy="304.4" r="1.05"/><circle cx="73.7" cy="305.7" r="1.05"/><circle cx="73.8" cy="306.9" r="1.05"/><circle cx="74.8" cy="303.1" r="1.05"/><circle cx="74.9" cy="304.4" r="1.05"/><circle cx="74.8" cy="305.6" r="1.05"/><circle cx="75.4" cy="303.3" r="1.05"/><circle cx="75.7" cy="304.7" r="1.05"/><circle cx="138.2" cy="267.1" r="1.05"/><circle cx="138.5" cy="268.2" r="1.05"/><circle cx="138.2" cy="269.9" r="1.05"/><circle cx="138.5" cy="271.1" r="1.05"/><circle cx="138.7" cy="272.4" r="1.05"/><circle cx="138.1" cy="273.6" r="1.05"/><circle cx="101.3" cy="288.8" r="1.05"/><circle cx="101.3" cy="290.3" r="1.05"/><circle cx="100.6" cy="291.6" r="1.05"/><circle cx="100.8" cy="293.1" r="1.05"/><circle cx="148.6" cy="261.0" r="1.05"/><circle cx="148.3" cy="262.4" r="1.05"/><circle cx="148.3" cy="264.1" r="1.05"/><circle cx="148.4" cy="265.3" r="1.05"/><circle cx="54.5" cy="314.3" r="1.05"/><circle cx="54.7" cy="315.5" r="1.05"/><circle cx="125.6" cy="275.1" r="1.05"/><circle cx="125.7" cy="276.6" r="1.05"/><circle cx="84.1" cy="298.5" r="1.05"/><circle cx="83.7" cy="299.7" r="1.05"/><circle cx="83.8" cy="300.9" r="1.05"/><circle cx="71.2" cy="305.8" r="1.05"/><circle cx="71.5" cy="307.4" r="1.05"/><circle cx="70.9" cy="308.8" r="1.05"/><circle cx="71.7" cy="310.4" r="1.05"/><circle cx="90.1" cy="295.8" r="1.05"/><circle cx="89.4" cy="297.4" r="1.05"/><circle cx="90.2" cy="299.0" r="1.05"/><circle cx="80.9" cy="300.5" r="1.05"/><circle cx="80.7" cy="301.8" r="1.05"/><circle cx="80.8" cy="303.1" r="1.05"/><circle cx="80.8" cy="307.0" r="1.05"/><circle cx="149.4" cy="260.5" r="1.05"/><circle cx="149.3" cy="262.1" r="1.05"/><circle cx="150.0" cy="263.8" r="1.05"/><circle cx="149.8" cy="265.0" r="1.05"/><circle cx="149.6" cy="266.5" r="1.05"/><circle cx="81.3" cy="300.2" r="1.05"/><circle cx="80.9" cy="301.9" r="1.05"/><circle cx="81.2" cy="303.4" r="1.05"/><circle cx="80.4" cy="304.6" r="1.05"/><circle cx="102.8" cy="287.7" r="1.05"/><circle cx="103.3" cy="288.8" r="1.05"/><circle cx="103.3" cy="290.2" r="1.05"/><circle cx="103.1" cy="291.4" r="1.05"/><circle cx="117.0" cy="280.0" r="1.05"/><circle cx="116.9" cy="281.3" r="1.05"/><circle cx="116.7" cy="282.7" r="1.05"/><circle cx="116.7" cy="284.2" r="1.05"/><circle cx="107.7" cy="285.4" r="1.05"/><circle cx="107.3" cy="286.5" r="1.05"/><circle cx="108.0" cy="287.8" r="1.05"/><circle cx="107.4" cy="289.2" r="1.05"/><circle cx="132.0" cy="270.6" r="1.05"/><circle cx="131.9" cy="272.2" r="1.05"/><circle cx="132.0" cy="273.6" r="1.05"/><circle cx="64.8" cy="309.2" r="1.05"/><circle cx="64.7" cy="310.5" r="1.05"/><circle cx="64.7" cy="311.8" r="1.05"/><circle cx="107.8" cy="285.2" r="1.05"/><circle cx="107.7" cy="286.8" r="1.05"/><circle cx="108.2" cy="288.3" r="1.05"/><circle cx="108.5" cy="290.0" r="1.05"/><circle cx="115.0" cy="281.6" r="1.05"/><circle cx="114.3" cy="283.1" r="1.05"/><circle cx="114.9" cy="284.7" r="1.05"/><circle cx="101.7" cy="288.9" r="1.05"/><circle cx="102.0" cy="290.3" r="1.05"/><circle cx="101.5" cy="291.7" r="1.05"/><circle cx="101.3" cy="289.0" r="1.05"/><circle cx="100.6" cy="290.2" r="1.05"/><circle cx="100.8" cy="291.4" r="1.05"/></g>
<g fill="none" stroke="#7e2f8e" stroke-width="0.8"><circle cx="157.2" cy="255.9" r="1.05"/><circle cx="157.4" cy="257.5" r="1.05"/><circle cx="157.4" cy="258.6" r="1.05"/><circle cx="157.2" cy="260.0" r="1.05"/><circle cx="157.2" cy="261.7" r="1.05"/><circle cx="121.4" cy="277.0" r="1.05"/><circle cx="121.5" cy="278.4" r="1.05"/><circle cx="121.5" cy="280.0" r="1.05"/><circle cx="121.5" cy="281.5" r="1.05"/><circle cx="121.6" cy="282.9" r="1.05"/><circle cx="127.8" cy="273.7" r="1.05"/><circle cx="128.1" cy="275.2" r="1.05"/><circle cx="127.9" cy="276.9" r="1.05"/><circle cx="128.3" cy="278.5" r="1.05"/><circle cx="127.7" cy="279.7" r="1.05"/><circle cx="72.0" cy="305.6" r="1.05"/><circle cx="71.9" cy="307.2" r="1.05"/><circle cx="71.3" cy="308.5" r="1.05"/><circle cx="71.3" cy="309.7" r="1.05"/><circle cx="71.6" cy="311.1" r="1.05"/><circle cx="134.6" cy="269.5" r="1.05"/><circle cx="134.2" cy="270.6" r="1.05"/><circle cx="134.3" cy="272.0" r="1.05"/><circle cx="134.0" cy="273.5" r="1.05"/><circle cx="134.1" cy="274.6" r="1.05"/><circle cx="83.5" cy="299.2" r="1.05"/><circle cx="82.9" cy="300.4" r="1.05"/><circle cx="82.8" cy="302.1" r="1.05"/><circle cx="73.0" cy="304.8" r="1.05"/><circle cx="73.0" cy="306.0" r="1.05"/><circle cx="73.1" cy="307.4" r="1.05"/><circle cx="55.4" cy="313.3" r="1.05"/><circle cx="55.6" cy="314.8" r="1.05"/><circle cx="55.8" cy="316.1" r="1.05"/><circle cx="56.0" cy="317.3" r="1.05"/><circle cx="106.3" cy="286.3" r="1.05"/><circle cx="106.7" cy="287.8" r="1.05"/><circle cx="61.2" cy="310.9" r="1.05"/><circle cx="61.7" cy="312.2" r="1.05"/><circle cx="61.0" cy="313.5" r="1.05"/><circle cx="61.6" cy="315.0" r="1.05"/><circle cx="106.9" cy="285.5" r="1.05"/><circle cx="107.1" cy="286.8" r="1.05"/><circle cx="106.7" cy="288.4" r="1.05"/><circle cx="107.1" cy="289.6" r="1.05"/><circle cx="107.2" cy="290.8" r="1.05"/><circle cx="126.4" cy="274.2" r="1.05"/><circle cx="126.8" cy="275.3" r="1.05"/><circle cx="126.7" cy="276.5" r="1.05"/><circle cx="93.9" cy="292.7" r="1.05"/><circle cx="94.0" cy="294.2" r="1.05"/><circle cx="94.2" cy="295.7" r="1.05"/><circle cx="156.5" cy="256.0" r="1.05"/><circle cx="155.9" cy="257.2" r="1.05"/><circle cx="156.2" cy="258.5" r="1.05"/><circle cx="168.1" cy="248.3" r="1.05"/><circle cx="168.6" cy="249.6" r="1.05"/><circle cx="168.6" cy="250.9" r="1.05"/><circle cx="168.1" cy="252.5" r="1.05"/><circle cx="168.2" cy="253.8" r="1.05"/><circle cx="160.0" cy="253.6" r="1.05"/><circle cx="160.1" cy="255.2" r="1.05"/><circle cx="160.0" cy="256.5" r="1.05"/><circle cx="67.5" cy="307.6" r="1.05"/><circle cx="67.7" cy="308.9" r="1.05"/><circle cx="67.7" cy="310.3" r="1.05"/><circle cx="95.8" cy="292.0" r="1.05"/><circle cx="95.9" cy="293.5" r="1.05"/><circle cx="95.3" cy="294.8" r="1.05"/><circle cx="159.3" cy="254.2" r="1.05"/><circle cx="158.9" cy="255.3" r="1.05"/><circle cx="158.7" cy="256.6" r="1.05"/><circle cx="141.6" cy="265.3" r="1.05"/><circle cx="142.1" cy="266.5" r="1.05"/><circle cx="142.1" cy="267.7" r="1.05"/><circle cx="141.8" cy="271.2" r="1.05"/><circle cx="78.3" cy="301.5" r="1.05"/><circle cx="78.7" cy="302.8" r="1.05"/><circle cx="78.5" cy="304.3" r="1.05"/><circle cx="127.3" cy="273.4" r="1.05"/><circle cx="127.8" cy="274.7" r="1.05"/><circle cx="127.8" cy="275.8" r="1.05"/><circle cx="127.2" cy="277.1" r="1.05"/><circle cx="127.8" cy="278.2" r="1.05"/><circle cx="127.3" cy="279.3" r="1.05"/><circle cx="151.6" cy="259.3" r="1.05"/><circle cx="151.5" cy="260.8" r="1.05"/><circle cx="151.6" cy="262.1" r="1.05"/><circle cx="167.4" cy="249.1" r="1.05"/><circle cx="167.8" cy="250.7" r="1.05"/><circle cx="167.4" cy="252.1" r="1.05"/><circle cx="168.2" cy="253.5" r="1.05"/><circle cx="166.1" cy="250.2" r="1.05"/><circle cx="165.8" cy="251.3" r="1.05"/><circle cx="165.5" cy="252.6" r="1.05"/><circle cx="135.3" cy="268.9" r="1.05"/><circle cx="135.1" cy="270.3" r="1.05"/><circle cx="135.0" cy="271.5" r="1.05"/><circle cx="135.2" cy="273.0" r="1.05"/><circle cx="89.1" cy="295.9" r="1.05"/><circle cx="88.8" cy="297.2" r="1.05"/><circle cx="89.1" cy="298.8" r="1.05"/><circle cx="89.1" cy="300.1" r="1.05"/><circle cx="148.1" cy="261.1" r="1.05"/><circle cx="148.2" cy="262.7" r="1.05"/><circle cx="148.5" cy="264.3" r="1.05"/><circle cx="64.0" cy="309.1" r="1.05"/><circle cx="63.8" cy="310.6" r="1.05"/><circle cx="63.9" cy="311.9" r="1.05"/><circle cx="79.7" cy="300.8" r="1.05"/><circle cx="79.3" cy="302.0" r="1.05"/><circle cx="79.6" cy="303.5" r="1.05"/><circle cx="112.1" cy="282.8" r="1.05"/><circle cx="112.5" cy="283.9" r="1.05"/><circle cx="112.0" cy="285.3" r="1.05"/><circle cx="90.5" cy="295.0" r="1.05"/><circle cx="90.2" cy="296.6" r="1.05"/><circle cx="90.2" cy="297.9" r="1.05"/><circle cx="79.7" cy="301.4" r="1.05"/><circle cx="79.3" cy="303.0" r="1.05"/><circle cx="79.5" cy="304.6" r="1.05"/><circle cx="79.1" cy="305.9" r="1.05"/><circle cx="88.8" cy="296.2" r="1.05"/><circle cx="88.7" cy="297.6" r="1.05"/><circle cx="118.7" cy="278.4" r="1.05"/><circle cx="119.0" cy="279.7" r="1.05"/><circle cx="119.0" cy="281.2" r="1.05"/><circle cx="118.4" cy="282.4" r="1.05"/><circle cx="119.3" cy="283.5" r="1.05"/><circle cx="82.6" cy="299.2" r="1.05"/><circle cx="81.9" cy="300.7" r="1.05"/><circle cx="82.2" cy="302.1" r="1.05"/><circle cx="82.7" cy="303.5" r="1.05"/><circle cx="82.2" cy="304.8" r="1.05"/><circle cx="163.7" cy="251.4" r="1.05"/><circle cx="163.3" cy="252.8" r="1.05"/><circle cx="163.4" cy="254.0" r="1.05"/><circle cx="163.3" cy="255.1" r="1.05"/><circle cx="159.7" cy="254.5" r="1.05"/><circle cx="159.5" cy="255.9" r="1.05"/><circle cx="159.4" cy="257.4" r="1.05"/><circle cx="159.3" cy="258.9" r="1.05"/><circle cx="159.8" cy="260.6" r="1.05"/><circle cx="96.2" cy="292.2" r="1.05"/><circle cx="96.1" cy="293.8" r="1.05"/><circle cx="96.4" cy="295.1" r="1.05"/><circle cx="110.3" cy="284.0" r="1.05"/><circle cx="110.2" cy="285.3" r="1.05"/><circle cx="110.2" cy="287.0" r="1.05"/><circle cx="110.4" cy="288.4" r="1.05"/><circle cx="123.5" cy="276.2" r="1.05"/><circle cx="123.2" cy="277.6" r="1.05"/><circle cx="123.5" cy="278.8" r="1.05"/><circle cx="66.5" cy="307.4" r="1.05"/><circle cx="67.1" cy="308.8" r="1.05"/><circle cx="66.9" cy="310.4" r="1.05"/><circle cx="70.0" cy="306.0" r="1.05"/><circle cx="70.5" cy="307.2" r="1.05"/><circle cx="70.1" cy="308.7" r="1.05"/><circle cx="70.2" cy="309.9" r="1.05"/><circle cx="70.1" cy="311.2" r="1.05"/><circle cx="70.1" cy="316.0" r="1.05"/><circle cx="84.7" cy="298.1" r="1.05"/><circle cx="85.5" cy="299.6" r="1.05"/><circle cx="84.7" cy="301.2" r="1.05"/><circle cx="146.5" cy="262.2" r="1.05"/><circle cx="146.8" cy="263.7" r="1.05"/><circle cx="146.6" cy="265.0" r="1.05"/><circle cx="144.5" cy="263.6" r="1.05"/><circle cx="144.4" cy="265.2" r="1.05"/><circle cx="144.5" cy="266.4" r="1.05"/><circle cx="113.4" cy="281.9" r="1.05"/><circle cx="113.7" cy="283.1" r="1.05"/><circle cx="113.6" cy="284.7" r="1.05"/><circle cx="113.4" cy="285.9" r="1.05"/><circle cx="113.5" cy="287.4" r="1.05"/><circle cx="160.7" cy="253.6" r="1.05"/><circle cx="159.9" cy="254.7" r="1.05"/><circle cx="160.7" cy="256.0" r="1.05"/><circle cx="160.7" cy="257.6" r="1.05"/><circle cx="160.5" cy="261.7" r="1.05"/><circle cx="154.3" cy="257.1" r="1.05"/><circle cx="154.5" cy="258.7" r="1.05"/><circle cx="154.7" cy="260.0" r="1.05"/><circle cx="154.2" cy="261.2" r="1.05"/><circle cx="154.6" cy="262.5" r="1.05"/><circle cx="154.5" cy="266.0" r="1.05"/><circle cx="104.0" cy="287.8" r="1.05"/><circle cx="103.5" cy="289.1" r="1.05"/><circle cx="103.5" cy="290.5" r="1.05"/><circle cx="103.8" cy="291.8" r="1.05"/><circle cx="103.5" cy="294.8" r="1.05"/><circle cx="138.7" cy="266.7" r="1.05"/><circle cx="138.7" cy="268.1" r="1.05"/><circle cx="139.0" cy="269.5" r="1.05"/><circle cx="59.9" cy="311.7" r="1.05"/><circle cx="59.3" cy="313.2" r="1.05"/><circle cx="59.5" cy="314.7" r="1.05"/><circle cx="167.2" cy="249.1" r="1.05"/><circle cx="167.0" cy="250.7" r="1.05"/><circle cx="166.8" cy="252.2" r="1.05"/><circle cx="166.8" cy="253.5" r="1.05"/><circle cx="167.0" cy="254.6" r="1.05"/><circle cx="172.2" cy="245.9" r="1.05"/><circle cx="172.4" cy="247.3" r="1.05"/><circle cx="172.7" cy="248.4" r="1.05"/><circle cx="172.2" cy="249.8" r="1.05"/><circle cx="172.0" cy="251.2" r="1.05"/><circle cx="96.2" cy="292.0" r="1.05"/><circle cx="96.5" cy="293.4" r="1.05"/><circle cx="96.2" cy="295.1" r="1.05"/><circle cx="80.4" cy="300.8" r="1.05"/><circle cx="81.1" cy="302.2" r="1.05"/><circle cx="81.0" cy="303.8" r="1.05"/><circle cx="91.0" cy="294.6" r="1.05"/><circle cx="90.8" cy="295.8" r="1.05"/><circle cx="90.7" cy="297.2" r="1.05"/><circle cx="159.2" cy="253.9" r="1.05"/><circle cx="158.7" cy="255.4" r="1.05"/><circle cx="159.5" cy="256.5" r="1.05"/><circle cx="158.8" cy="257.8" r="1.05"/><circle cx="159.4" cy="259.0" r="1.05"/><circle cx="165.7" cy="250.2" r="1.05"/><circle cx="165.3" cy="251.7" r="1.05"/><circle cx="165.2" cy="253.2" r="1.05"/><circle cx="165.4" cy="258.0" r="1.05"/><circle cx="61.2" cy="310.4" r="1.05"/><circle cx="61.5" cy="311.6" r="1.05"/><circle cx="62.1" cy="313.0" r="1.05"/><circle cx="61.6" cy="314.5" r="1.05"/><circle cx="61.5" cy="319.6" r="1.05"/><circle cx="144.5" cy="263.0" r="1.05"/><circle cx="144.6" cy="264.6" r="1.05"/><circle cx="144.6" cy="265.8" r="1.05"/><circle cx="144.2" cy="267.2" r="1.05"/><circle cx="137.2" cy="267.7" r="1.05"/><circle cx="137.0" cy="269.2" r="1.05"/><circle cx="137.3" cy="270.7" r="1.05"/><circle cx="137.0" cy="272.3" r="1.05"/><circle cx="93.5" cy="293.8" r="1.05"/><circle cx="93.5" cy="295.1" r="1.05"/><circle cx="93.5" cy="296.6" r="1.05"/><circle cx="147.7" cy="260.9" r="1.05"/><circle cx="148.2" cy="262.0" r="1.05"/><circle cx="148.0" cy="263.5" r="1.05"/><circle cx="104.0" cy="287.1" r="1.05"/><circle cx="103.5" cy="288.3" r="1.05"/><circle cx="104.1" cy="289.4" r="1.05"/><circle cx="134.7" cy="269.4" r="1.05"/><circle cx="134.7" cy="270.8" r="1.05"/><circle cx="135.4" cy="272.0" r="1.05"/><circle cx="135.2" cy="273.5" r="1.05"/><circle cx="64.0" cy="309.3" r="1.05"/><circle cx="64.2" cy="310.9" r="1.05"/><circle cx="63.7" cy="312.2" r="1.05"/><circle cx="63.8" cy="313.4" r="1.05"/><circle cx="148.5" cy="260.9" r="1.05"/><circle cx="148.3" cy="262.6" r="1.05"/><circle cx="148.5" cy="263.8" r="1.05"/><circle cx="148.3" cy="265.4" r="1.05"/><circle cx="148.1" cy="267.0" r="1.05"/><circle cx="100.2" cy="290.0" r="1.05"/><circle cx="100.3" cy="291.5" r="1.05"/><circle cx="99.5" cy="292.9" r="1.05"/><circle cx="99.7" cy="294.1" r="1.05"/><circle cx="150.9" cy="259.4" r="1.05"/><circle cx="149.8" cy="260.7" r="1.05"/><circle cx="150.9" cy="261.8" r="1.05"/><circle cx="150.8" cy="262.9" r="1.05"/><circle cx="150.6" cy="264.6" r="1.05"/><circle cx="150.7" cy="265.8" r="1.05"/><circle cx="68.3" cy="307.3" r="1.05"/><circle cx="67.9" cy="309.0" r="1.05"/><circle cx="68.5" cy="310.1" r="1.05"/><circle cx="68.4" cy="314.6" r="1.05"/><circle cx="88.0" cy="296.3" r="1.05"/><circle cx="87.8" cy="297.5" r="1.05"/><circle cx="87.6" cy="299.1" r="1.05"/><circle cx="87.5" cy="300.3" r="1.05"/><circle cx="140.3" cy="266.1" r="1.05"/><circle cx="140.4" cy="267.5" r="1.05"/><circle cx="140.4" cy="268.9" r="1.05"/><circle cx="85.5" cy="298.1" r="1.05"/><circle cx="85.3" cy="299.3" r="1.05"/><circle cx="85.5" cy="300.6" r="1.05"/><circle cx="85.5" cy="302.0" r="1.05"/><circle cx="85.3" cy="303.3" r="1.05"/><circle cx="136.7" cy="268.1" r="1.05"/><circle cx="137.3" cy="269.6" r="1.05"/><circle cx="136.7" cy="271.2" r="1.05"/><circle cx="136.6" cy="272.5" r="1.05"/><circle cx="106.7" cy="285.7" r="1.05"/><circle cx="106.8" cy="287.4" r="1.05"/><circle cx="106.4" cy="289.1" r="1.05"/><circle cx="106.2" cy="290.4" r="1.05"/><circle cx="72.0" cy="305.2" r="1.05"/><circle cx="72.5" cy="306.9" r="1.05"/><circle cx="72.3" cy="308.2" r="1.05"/><circle cx="71.9" cy="309.7" r="1.05"/><circle cx="72.2" cy="315.6" r="1.05"/><circle cx="158.1" cy="254.9" r="1.05"/><circle cx="158.2" cy="256.6" r="1.05"/><circle cx="158.5" cy="258.2" r="1.05"/><circle cx="158.1" cy="259.5" r="1.05"/><circle cx="139.1" cy="266.6" r="1.05"/><circle cx="139.4" cy="268.0" r="1.05"/><circle cx="139.7" cy="269.3" r="1.05"/><circle cx="144.2" cy="263.5" r="1.05"/><circle cx="144.3" cy="265.2" r="1.05"/><circle cx="143.9" cy="266.6" r="1.05"/><circle cx="144.1" cy="268.2" r="1.05"/><circle cx="155.1" cy="257.1" r="1.05"/><circle cx="154.4" cy="258.7" r="1.05"/><circle cx="154.5" cy="259.8" r="1.05"/><circle cx="155.2" cy="261.4" r="1.05"/><circle cx="90.2" cy="295.2" r="1.05"/><circle cx="89.8" cy="296.5" r="1.05"/><circle cx="89.4" cy="297.7" r="1.05"/><circle cx="117.8" cy="279.9" r="1.05"/><circle cx="117.1" cy="281.1" r="1.05"/><circle cx="117.0" cy="282.6" r="1.05"/><circle cx="117.1" cy="283.8" r="1.05"/><circle cx="117.4" cy="285.1" r="1.05"/><circle cx="127.6" cy="273.3" r="1.05"/><circle cx="127.4" cy="274.6" r="1.05"/><circle cx="127.7" cy="275.8" r="1.05"/></g>
<g fill="none" stroke="#77ac30" stroke-width="0.8"><circle cx="94.5" cy="293.0" r="1.05"/><circle cx="94.5" cy="294.5" r="1.05"/><circle cx="94.6" cy="295.8" r="1.05"/><circle cx="107.9" cy="285.3" r="1.05"/><circle cx="107.6" cy="286.7" r="1.05"/><circle cx="108.0" cy="288.1" r="1.05"/><circle cx="118.2" cy="279.0" r="1.05"/><circle cx="118.3" cy="280.1" r="1.05"/><circle cx="118.0" cy="281.6" r="1.05"/><circle cx="118.6" cy="283.0" r="1.05"/><circle cx="118.0" cy="284.1" r="1.05"/><circle cx="129.5" cy="272.1" r="1.05"/><circle cx="130.1" cy="273.4" r="1.05"/><circle cx="129.5" cy="274.8" r="1.05"/><circle cx="130.0" cy="276.3" r="1.05"/><circle cx="129.9" cy="277.9" r="1.05"/><circle cx="168.0" cy="248.4" r="1.05"/><circle cx="168.3" cy="249.7" r="1.05"/><circle cx="168.1" cy="250.8" r="1.05"/><circle cx="167.9" cy="252.0" r="1.05"/><circle cx="167.6" cy="253.1" r="1.05"/><circle cx="167.9" cy="254.6" r="1.05"/><circle cx="124.0" cy="276.0" r="1.05"/><circle cx="124.4" cy="277.6" r="1.05"/><circle cx="124.2" cy="278.9" r="1.05"/><circle cx="125.0" cy="280.3" r="1.05"/><circle cx="110.3" cy="284.1" r="1.05"/><circle cx="110.0" cy="285.5" r="1.05"/><circle cx="110.2" cy="286.7" r="1.05"/><circle cx="171.8" cy="246.1" r="1.05"/><circle cx="171.9" cy="247.5" r="1.05"/><circle cx="171.5" cy="248.8" r="1.05"/><circle cx="171.9" cy="250.3" r="1.05"/><circle cx="171.9" cy="251.6" r="1.05"/><circle cx="171.7" cy="253.3" r="1.05"/><circle cx="171.8" cy="256.9" r="1.05"/><circle cx="138.9" cy="266.7" r="1.05"/><circle cx="139.2" cy="268.3" r="1.05"/><circle cx="138.9" cy="269.6" r="1.05"/><circle cx="138.6" cy="271.0" r="1.05"/><circle cx="127.4" cy="273.1" r="1.05"/><circle cx="127.9" cy="274.3" r="1.05"/><circle cx="128.1" cy="275.9" r="1.05"/><circle cx="127.9" cy="277.1" r="1.05"/><circle cx="127.4" cy="278.7" r="1.05"/><circle cx="127.6" cy="280.1" r="1.05"/><circle cx="108.1" cy="285.5" r="1.05"/><circle cx="108.2" cy="286.7" r="1.05"/><circle cx="108.1" cy="287.9" r="1.05"/><circle cx="154.9" cy="257.4" r="1.05"/><circle cx="154.7" cy="258.9" r="1.05"/><circle cx="154.7" cy="260.4" r="1.05"/><circle cx="107.5" cy="285.4" r="1.05"/><circle cx="107.9" cy="286.6" r="1.05"/><circle cx="107.4" cy="288.3" r="1.05"/><circle cx="193.0" cy="232.6" r="1.05"/><circle cx="192.5" cy="233.9" r="1.05"/><circle cx="192.5" cy="235.4" r="1.05"/><circle cx="192.2" cy="236.5" r="1.05"/><circle cx="192.7" cy="237.9" r="1.05"/><circle cx="175.6" cy="244.6" r="1.05"/><circle cx="174.9" cy="246.1" r="1.05"/><circle cx="174.7" cy="247.3" r="1.05"/><circle cx="78.3" cy="302.2" r="1.05"/><circle cx="77.8" cy="303.7" r="1.05"/><circle cx="77.9" cy="304.9" r="1.05"/><circle cx="78.3" cy="306.1" r="1.05"/><circle cx="67.0" cy="307.9" r="1.05"/><circle cx="67.7" cy="309.2" r="1.05"/><circle cx="67.2" cy="310.4" r="1.05"/><circle cx="67.1" cy="311.7" r="1.05"/><circle cx="170.2" cy="247.0" r="1.05"/><circle cx="170.4" cy="248.5" r="1.05"/><circle cx="170.3" cy="250.0" r="1.05"/><circle cx="170.1" cy="251.5" r="1.05"/><circle cx="153.2" cy="258.1" r="1.05"/><circle cx="152.9" cy="259.4" r="1.05"/><circle cx="153.4" cy="260.6" r="1.05"/><circle cx="112.7" cy="282.6" r="1.05"/><circle cx="112.8" cy="283.8" r="1.05"/><circle cx="113.0" cy="285.4" r="1.05"/><circle cx="113.0" cy="286.8" r="1.05"/><circle cx="112.6" cy="288.0" r="1.05"/><circle cx="117.6" cy="279.5" r="1.05"/><circle cx="117.7" cy="280.7" r="1.05"/><circle cx="117.7" cy="282.3" r="1.05"/><circle cx="63.9" cy="309.3" r="1.05"/><circle cx="63.5" cy="310.9" r="1.05"/><circle cx="63.8" cy="312.1" r="1.05"/><circle cx="63.7" cy="313.3" r="1.05"/><circle cx="63.6" cy="314.5" r="1.05"/><circle cx="76.7" cy="302.5" r="1.05"/><circle cx="76.6" cy="303.9" r="1.05"/><circle cx="76.1" cy="305.1" r="1.05"/><circle cx="75.9" cy="306.3" r="1.05"/><circle cx="158.2" cy="254.5" r="1.05"/><circle cx="158.1" cy="256.1" r="1.05"/><circle cx="158.8" cy="257.2" r="1.05"/><circle cx="158.4" cy="258.8" r="1.05"/><circle cx="158.8" cy="260.0" r="1.05"/><circle cx="158.6" cy="261.2" r="1.05"/><circle cx="85.0" cy="297.6" r="1.05"/><circle cx="86.3" cy="298.9" r="1.05"/><circle cx="85.3" cy="300.5" r="1.05"/><circle cx="169.0" cy="248.2" r="1.05"/><circle cx="169.0" cy="249.7" r="1.05"/><circle cx="169.2" cy="251.3" r="1.05"/><circle cx="169.0" cy="252.8" r="1.05"/><circle cx="169.5" cy="254.1" r="1.05"/><circle cx="85.1" cy="298.7" r="1.05"/><circle cx="84.6" cy="300.3" r="1.05"/><circle cx="84.1" cy="301.9" r="1.05"/><circle cx="84.2" cy="303.3" r="1.05"/><circle cx="108.5" cy="285.0" r="1.05"/><circle cx="108.8" cy="286.6" r="1.05"/><circle cx="108.8" cy="288.2" r="1.05"/><circle cx="108.4" cy="289.4" r="1.05"/><circle cx="108.2" cy="290.7" r="1.05"/><circle cx="133.8" cy="269.9" r="1.05"/><circle cx="133.7" cy="271.5" r="1.05"/><circle cx="133.7" cy="273.1" r="1.05"/><circle cx="133.4" cy="274.7" r="1.05"/><circle cx="134.2" cy="276.0" r="1.05"/><circle cx="146.9" cy="262.2" r="1.05"/><circle cx="146.7" cy="263.3" r="1.05"/><circle cx="146.8" cy="264.5" r="1.05"/><circle cx="146.5" cy="266.1" r="1.05"/><circle cx="146.9" cy="267.4" r="1.05"/><circle cx="146.8" cy="268.7" r="1.05"/><circle cx="107.6" cy="285.3" r="1.05"/><circle cx="107.1" cy="286.8" r="1.05"/><circle cx="107.5" cy="288.4" r="1.05"/><circle cx="68.9" cy="306.4" r="1.05"/><circle cx="69.7" cy="307.7" r="1.05"/><circle cx="69.3" cy="308.9" r="1.05"/><circle cx="68.8" cy="310.6" r="1.05"/><circle cx="68.4" cy="311.9" r="1.05"/><circle cx="92.8" cy="293.5" r="1.05"/><circle cx="93.0" cy="294.9" r="1.05"/><circle cx="92.8" cy="296.6" r="1.05"/><circle cx="92.9" cy="298.0" r="1.05"/><circle cx="92.6" cy="299.3" r="1.05"/><circle cx="179.4" cy="241.7" r="1.05"/><circle cx="178.7" cy="243.2" r="1.05"/><circle cx="178.7" cy="244.3" r="1.05"/><circle cx="178.7" cy="246.0" r="1.05"/><circle cx="178.7" cy="247.3" r="1.05"/><circle cx="156.5" cy="255.7" r="1.05"/><circle cx="156.9" cy="257.1" r="1.05"/><circle cx="156.8" cy="258.7" r="1.05"/><circle cx="156.5" cy="260.2" r="1.05"/><circle cx="156.7" cy="261.7" r="1.05"/><circle cx="166.0" cy="250.1" r="1.05"/><circle cx="166.1" cy="251.7" r="1.05"/><circle cx="165.3" cy="252.9" r="1.05"/><circle cx="165.1" cy="250.2" r="1.05"/><circle cx="165.2" cy="251.8" r="1.05"/><circle cx="165.6" cy="253.1" r="1.05"/><circle cx="165.1" cy="254.8" r="1.05"/><circle cx="165.0" cy="256.3" r="1.05"/><circle cx="161.0" cy="253.1" r="1.05"/><circle cx="161.1" cy="254.7" r="1.05"/><circle cx="160.7" cy="256.2" r="1.05"/><circle cx="160.9" cy="257.6" r="1.05"/><circle cx="161.0" cy="259.3" r="1.05"/><circle cx="71.5" cy="305.4" r="1.05"/><circle cx="71.4" cy="307.1" r="1.05"/><circle cx="71.2" cy="308.4" r="1.05"/><circle cx="111.3" cy="282.9" r="1.05"/><circle cx="111.6" cy="284.2" r="1.05"/><circle cx="111.3" cy="285.9" r="1.05"/><circle cx="111.5" cy="287.5" r="1.05"/><circle cx="152.2" cy="258.6" r="1.05"/><circle cx="152.3" cy="260.0" r="1.05"/><circle cx="151.8" cy="261.4" r="1.05"/><circle cx="151.6" cy="262.7" r="1.05"/><circle cx="152.2" cy="264.0" r="1.05"/><circle cx="151.8" cy="265.3" r="1.05"/><circle cx="168.0" cy="248.9" r="1.05"/><circle cx="168.1" cy="250.5" r="1.05"/><circle cx="168.2" cy="251.8" r="1.05"/><circle cx="157.1" cy="255.9" r="1.05"/><circle cx="156.8" cy="257.0" r="1.05"/><circle cx="157.3" cy="258.7" r="1.05"/><circle cx="156.8" cy="260.2" r="1.05"/><circle cx="164.3" cy="250.7" r="1.05"/><circle cx="164.6" cy="252.3" r="1.05"/><circle cx="164.9" cy="253.9" r="1.05"/><circle cx="164.4" cy="255.3" r="1.05"/><circle cx="113.7" cy="281.7" r="1.05"/><circle cx="114.0" cy="283.1" r="1.05"/><circle cx="113.5" cy="284.6" r="1.05"/><circle cx="104.9" cy="287.2" r="1.05"/><circle cx="104.7" cy="288.7" r="1.05"/><circle cx="104.3" cy="290.2" r="1.05"/><circle cx="104.9" cy="291.9" r="1.05"/><circle cx="153.3" cy="257.6" r="1.05"/><circle cx="153.0" cy="259.0" r="1.05"/><circle cx="153.7" cy="260.3" r="1.05"/><circle cx="153.5" cy="261.9" r="1.05"/><circle cx="153.4" cy="263.1" r="1.05"/><circle cx="153.6" cy="264.3" r="1.05"/><circle cx="172.3" cy="246.4" r="1.05"/><circle cx="172.1" cy="247.7" r="1.05"/><circle cx="171.7" cy="248.8" r="1.05"/><circle cx="171.7" cy="250.1" r="1.05"/><circle cx="141.8" cy="264.6" r="1.05"/><circle cx="141.7" cy="265.9" r="1.05"/><circle cx="141.7" cy="267.4" r="1.05"/><circle cx="142.0" cy="268.8" r="1.05"/><circle cx="141.8" cy="270.0" r="1.05"/><circle cx="139.4" cy="266.6" r="1.05"/><circle cx="139.3" cy="267.7" r="1.05"/><circle cx="139.5" cy="268.9" r="1.05"/><circle cx="145.4" cy="262.7" r="1.05"/><circle cx="145.4" cy="264.4" r="1.05"/><circle cx="145.7" cy="266.0" r="1.05"/><circle cx="144.9" cy="267.3" r="1.05"/><circle cx="131.9" cy="270.9" r="1.05"/><circle cx="131.7" cy="272.3" r="1.05"/><circle cx="132.1" cy="273.6" r="1.05"/><circle cx="164.2" cy="251.2" r="1.05"/><circle cx="163.9" cy="252.4" r="1.05"/><circle cx="163.8" cy="253.7" r="1.05"/><circle cx="163.8" cy="255.1" r="1.05"/><circle cx="163.3" cy="256.7" r="1.05"/><circle cx="162.3" cy="251.9" r="1.05"/><circle cx="162.4" cy="253.5" r="1.05"/><circle cx="162.2" cy="255.1" r="1.05"/><circle cx="162.2" cy="256.4" r="1.05"/><circle cx="161.8" cy="257.6" r="1.05"/><circle cx="162.3" cy="261.5" r="1.05"/><circle cx="115.4" cy="280.7" r="1.05"/><circle cx="116.1" cy="282.1" r="1.05"/><circle cx="116.0" cy="283.3" r="1.05"/><circle cx="115.2" cy="284.9" r="1.05"/><circle cx="116.1" cy="286.5" r="1.05"/><circle cx="173.9" cy="244.5" r="1.05"/><circle cx="174.1" cy="245.7" r="1.05"/><circle cx="174.7" cy="247.0" r="1.05"/><circle cx="192.7" cy="233.1" r="1.05"/><circle cx="192.8" cy="234.5" r="1.05"/><circle cx="192.2" cy="235.6" r="1.05"/><circle cx="192.7" cy="236.7" r="1.05"/><circle cx="193.0" cy="238.1" r="1.05"/><circle cx="170.2" cy="247.1" r="1.05"/><circle cx="169.7" cy="248.3" r="1.05"/><circle cx="169.6" cy="249.6" r="1.05"/><circle cx="169.6" cy="250.9" r="1.05"/><circle cx="170.0" cy="252.4" r="1.05"/><circle cx="79.9" cy="300.7" r="1.05"/><circle cx="79.4" cy="301.9" r="1.05"/><circle cx="79.8" cy="303.4" r="1.05"/><circle cx="79.6" cy="304.9" r="1.05"/><circle cx="79.7" cy="309.6" r="1.05"/><circle cx="122.0" cy="277.1" r="1.05"/><circle cx="121.7" cy="278.4" r="1.05"/><circle cx="121.6" cy="279.8" r="1.05"/><circle cx="122.2" cy="280.9" r="1.05"/><circle cx="121.8" cy="282.1" r="1.05"/><circle cx="98.7" cy="290.8" r="1.05"/><circle cx="98.2" cy="292.3" r="1.05"/><circle cx="99.1" cy="293.5" r="1.05"/><circle cx="98.5" cy="296.9" r="1.05"/><circle cx="100.6" cy="289.4" r="1.05"/><circle cx="100.5" cy="290.9" r="1.05"/><circle cx="100.0" cy="292.5" r="1.05"/><circle cx="100.2" cy="293.8" r="1.05"/><circle cx="100.2" cy="295.4" r="1.05"/><circle cx="161.0" cy="253.5" r="1.05"/><circle cx="161.1" cy="254.6" r="1.05"/><circle cx="161.3" cy="256.2" r="1.05"/><circle cx="141.5" cy="264.9" r="1.05"/><circle cx="141.5" cy="266.4" r="1.05"/><circle cx="141.6" cy="267.6" r="1.05"/><circle cx="141.7" cy="268.7" r="1.05"/><circle cx="141.8" cy="270.0" r="1.05"/><circle cx="141.9" cy="271.1" r="1.05"/><circle cx="129.4" cy="272.6" r="1.05"/><circle cx="129.4" cy="273.8" r="1.05"/><circle cx="129.5" cy="275.5" r="1.05"/><circle cx="78.2" cy="302.1" r="1.05"/><circle cx="78.0" cy="303.4" r="1.05"/><circle cx="78.1" cy="304.7" r="1.05"/><circle cx="77.9" cy="306.2" r="1.05"/><circle cx="61.9" cy="310.0" r="1.05"/><circle cx="61.7" cy="311.4" r="1.05"/><circle cx="61.7" cy="312.8" r="1.05"/><circle cx="163.7" cy="251.8" r="1.05"/><circle cx="163.5" cy="253.4" r="1.05"/><circle cx="163.5" cy="254.9" r="1.05"/><circle cx="163.1" cy="256.6" r="1.05"/><circle cx="163.8" cy="257.8" r="1.05"/><circle cx="160.3" cy="253.3" r="1.05"/><circle cx="160.6" cy="254.5" r="1.05"/><circle cx="160.8" cy="255.8" r="1.05"/><circle cx="160.4" cy="257.5" r="1.05"/><circle cx="194.2" cy="231.7" r="1.05"/><circle cx="194.5" cy="232.9" r="1.05"/><circle cx="194.7" cy="234.1" r="1.05"/><circle cx="193.9" cy="235.4" r="1.05"/><circle cx="194.3" cy="237.0" r="1.05"/><circle cx="193.7" cy="238.5" r="1.05"/><circle cx="174.4" cy="244.6" r="1.05"/><circle cx="174.8" cy="246.3" r="1.05"/><circle cx="174.2" cy="247.5" r="1.05"/><circle cx="174.5" cy="248.9" r="1.05"/><circle cx="185.1" cy="238.3" r="1.05"/><circle cx="185.0" cy="239.6" r="1.05"/><circle cx="185.1" cy="241.2" r="1.05"/><circle cx="185.0" cy="242.7" r="1.05"/><circle cx="185.1" cy="244.4" r="1.05"/><circle cx="165.4" cy="250.3" r="1.05"/><circle cx="165.5" cy="251.6" r="1.05"/><circle cx="165.2" cy="252.8" r="1.05"/><circle cx="165.5" cy="254.0" r="1.05"/><circle cx="165.1" cy="255.5" r="1.05"/><circle cx="164.8" cy="257.0" r="1.05"/><circle cx="73.3" cy="304.2" r="1.05"/><circle cx="73.8" cy="305.3" r="1.05"/><circle cx="105.0" cy="286.7" r="1.05"/><circle cx="104.7" cy="287.9" r="1.05"/><circle cx="105.1" cy="289.4" r="1.05"/><circle cx="104.8" cy="290.7" r="1.05"/><circle cx="104.7" cy="292.4" r="1.05"/><circle cx="67.3" cy="307.5" r="1.05"/><circle cx="66.6" cy="309.0" r="1.05"/><circle cx="67.1" cy="310.3" r="1.05"/><circle cx="67.0" cy="311.9" r="1.05"/><circle cx="66.8" cy="313.1" r="1.05"/><circle cx="85.6" cy="298.0" r="1.05"/><circle cx="85.7" cy="299.3" r="1.05"/><circle cx="63.5" cy="309.1" r="1.05"/><circle cx="63.5" cy="310.8" r="1.05"/><circle cx="64.1" cy="311.9" r="1.05"/><circle cx="63.8" cy="313.5" r="1.05"/><circle cx="101.5" cy="288.8" r="1.05"/><circle cx="101.3" cy="290.1" r="1.05"/><circle cx="101.1" cy="291.4" r="1.05"/><circle cx="101.1" cy="292.6" r="1.05"/><circle cx="101.4" cy="294.1" r="1.05"/><circle cx="70.7" cy="306.1" r="1.05"/><circle cx="70.7" cy="307.4" r="1.05"/><circle cx="70.3" cy="308.6" r="1.05"/><circle cx="70.8" cy="309.7" r="1.05"/><circle cx="90.6" cy="295.0" r="1.05"/><circle cx="90.6" cy="296.3" r="1.05"/><circle cx="90.8" cy="297.7" r="1.05"/><circle cx="164.8" cy="250.9" r="1.05"/><circle cx="165.0" cy="252.6" r="1.05"/><circle cx="164.8" cy="254.3" r="1.05"/><circle cx="165.0" cy="255.7" r="1.05"/><circle cx="76.4" cy="303.2" r="1.05"/><circle cx="76.3" cy="304.5" r="1.05"/><circle cx="76.2" cy="305.9" r="1.05"/><circle cx="155.4" cy="256.5" r="1.05"/><circle cx="155.1" cy="257.7" r="1.05"/><circle cx="154.9" cy="258.8" r="1.05"/><circle cx="154.9" cy="259.9" r="1.05"/><circle cx="155.1" cy="261.3" r="1.05"/><circle cx="147.7" cy="260.9" r="1.05"/><circle cx="148.4" cy="262.5" r="1.05"/><circle cx="147.9" cy="264.1" r="1.05"/><circle cx="148.1" cy="265.4" r="1.05"/><circle cx="147.9" cy="266.7" r="1.05"/><circle cx="76.0" cy="302.5" r="1.05"/><circle cx="76.1" cy="303.8" r="1.05"/><circle cx="75.6" cy="305.3" r="1.05"/><circle cx="63.0" cy="309.4" r="1.05"/><circle cx="62.7" cy="310.8" r="1.05"/><circle cx="63.2" cy="312.2" r="1.05"/><circle cx="63.2" cy="313.9" r="1.05"/><circle cx="194.7" cy="231.3" r="1.05"/><circle cx="194.7" cy="233.0" r="1.05"/><circle cx="195.1" cy="234.3" r="1.05"/><circle cx="195.1" cy="235.8" r="1.05"/><circle cx="194.9" cy="237.0" r="1.05"/><circle cx="194.8" cy="241.5" r="1.05"/><circle cx="102.6" cy="288.3" r="1.05"/><circle cx="102.5" cy="289.5" r="1.05"/><circle cx="102.8" cy="290.7" r="1.05"/><circle cx="102.6" cy="291.9" r="1.05"/><circle cx="181.9" cy="239.7" r="1.05"/><circle cx="182.1" cy="241.1" r="1.05"/><circle cx="182.1" cy="242.5" r="1.05"/><circle cx="103.9" cy="287.3" r="1.05"/><circle cx="104.3" cy="288.4" r="1.05"/><circle cx="104.1" cy="289.5" r="1.05"/><circle cx="104.0" cy="290.8" r="1.05"/><circle cx="104.8" cy="292.4" r="1.05"/><circle cx="103.7" cy="293.7" r="1.05"/><circle cx="136.4" cy="268.0" r="1.05"/><circle cx="136.1" cy="269.5" r="1.05"/><circle cx="136.2" cy="271.2" r="1.05"/><circle cx="75.3" cy="303.5" r="1.05"/><circle cx="75.4" cy="304.8" r="1.05"/><circle cx="74.9" cy="306.0" r="1.05"/><circle cx="75.3" cy="307.5" r="1.05"/><circle cx="75.1" cy="308.6" r="1.05"/><circle cx="171.2" cy="246.4" r="1.05"/><circle cx="171.5" cy="248.0" r="1.05"/><circle cx="171.2" cy="249.2" r="1.05"/></g>
<g fill="none" stroke="#4dbeee" stroke-width="0.8"><circle cx="120.7" cy="278.1" r="1.05"/><circle cx="120.9" cy="279.8" r="1.05"/><circle cx="120.7" cy="281.4" r="1.05"/><circle cx="189.3" cy="235.2" r="1.05"/><circle cx="188.9" cy="236.4" r="1.05"/><circle cx="189.0" cy="237.6" r="1.05"/><circle cx="188.8" cy="238.9" r="1.05"/><circle cx="165.9" cy="250.2" r="1.05"/><circle cx="166.0" cy="251.6" r="1.05"/><circle cx="166.1" cy="252.7" r="1.05"/><circle cx="166.0" cy="254.2" r="1.05"/><circle cx="197.2" cy="230.2" r="1.05"/><circle cx="197.2" cy="231.8" r="1.05"/><circle cx="197.0" cy="233.3" r="1.05"/><circle cx="197.0" cy="234.6" r="1.05"/><circle cx="197.5" cy="236.1" r="1.05"/><circle cx="166.9" cy="248.7" r="1.05"/><circle cx="167.2" cy="250.0" r="1.05"/><circle cx="167.5" cy="251.2" r="1.05"/><circle cx="167.3" cy="252.7" r="1.05"/><circle cx="125.3" cy="275.4" r="1.05"/><circle cx="125.2" cy="277.1" r="1.05"/><circle cx="125.3" cy="278.8" r="1.05"/><circle cx="125.3" cy="280.2" r="1.05"/><circle cx="153.6" cy="257.4" r="1.05"/><circle cx="153.6" cy="258.6" r="1.05"/><circle cx="153.5" cy="260.0" r="1.05"/><circle cx="153.3" cy="261.6" r="1.05"/><circle cx="155.1" cy="257.1" r="1.05"/><circle cx="155.1" cy="258.3" r="1.05"/><circle cx="154.9" cy="259.8" r="1.05"/><circle cx="193.3" cy="232.8" r="1.05"/><circle cx="192.9" cy="234.0" r="1.05"/><circle cx="192.6" cy="235.6" r="1.05"/><circle cx="176.6" cy="243.1" r="1.05"/><circle cx="176.8" cy="244.2" r="1.05"/><circle cx="176.5" cy="245.7" r="1.05"/><circle cx="176.7" cy="247.1" r="1.05"/><circle cx="176.5" cy="248.5" r="1.05"/><circle cx="128.6" cy="273.1" r="1.05"/><circle cx="128.8" cy="274.6" r="1.05"/><circle cx="128.6" cy="275.8" r="1.05"/><circle cx="128.7" cy="277.3" r="1.05"/><circle cx="196.1" cy="231.2" r="1.05"/><circle cx="195.9" cy="232.7" r="1.05"/><circle cx="196.2" cy="234.3" r="1.05"/><circle cx="195.9" cy="235.4" r="1.05"/><circle cx="195.9" cy="236.5" r="1.05"/><circle cx="208.2" cy="222.8" r="1.05"/><circle cx="208.3" cy="224.2" r="1.05"/><circle cx="207.9" cy="225.6" r="1.05"/><circle cx="208.5" cy="227.1" r="1.05"/><circle cx="208.3" cy="228.6" r="1.05"/><circle cx="208.2" cy="230.0" r="1.05"/><circle cx="176.7" cy="242.8" r="1.05"/><circle cx="177.1" cy="244.4" r="1.05"/><circle cx="176.5" cy="245.7" r="1.05"/><circle cx="101.6" cy="289.0" r="1.05"/><circle cx="102.1" cy="290.3" r="1.05"/><circle cx="101.6" cy="291.9" r="1.05"/><circle cx="101.1" cy="293.1" r="1.05"/><circle cx="187.0" cy="236.6" r="1.05"/><circle cx="186.9" cy="237.7" r="1.05"/><circle cx="187.0" cy="239.4" r="1.05"/><circle cx="186.9" cy="240.5" r="1.05"/><circle cx="187.4" cy="241.7" r="1.05"/><circle cx="187.1" cy="242.9" r="1.05"/><circle cx="111.4" cy="283.4" r="1.05"/><circle cx="111.3" cy="284.8" r="1.05"/><circle cx="111.4" cy="286.0" r="1.05"/><circle cx="124.6" cy="275.8" r="1.05"/><circle cx="124.2" cy="277.5" r="1.05"/><circle cx="124.3" cy="279.0" r="1.05"/><circle cx="124.6" cy="280.5" r="1.05"/><circle cx="115.0" cy="280.8" r="1.05"/><circle cx="114.7" cy="282.0" r="1.05"/><circle cx="114.2" cy="283.3" r="1.05"/><circle cx="115.1" cy="284.5" r="1.05"/><circle cx="114.9" cy="286.1" r="1.05"/><circle cx="115.1" cy="287.6" r="1.05"/><circle cx="145.7" cy="262.9" r="1.05"/><circle cx="145.7" cy="264.4" r="1.05"/><circle cx="146.2" cy="265.9" r="1.05"/><circle cx="145.4" cy="267.2" r="1.05"/><circle cx="145.8" cy="268.8" r="1.05"/><circle cx="136.9" cy="267.5" r="1.05"/><circle cx="137.3" cy="268.8" r="1.05"/><circle cx="137.0" cy="270.3" r="1.05"/><circle cx="137.1" cy="271.9" r="1.05"/><circle cx="214.8" cy="218.6" r="1.05"/><circle cx="214.9" cy="220.2" r="1.05"/><circle cx="215.3" cy="221.5" r="1.05"/><circle cx="215.2" cy="223.1" r="1.05"/><circle cx="215.2" cy="224.4" r="1.05"/><circle cx="198.3" cy="229.8" r="1.05"/><circle cx="198.4" cy="231.4" r="1.05"/><circle cx="197.9" cy="232.9" r="1.05"/><circle cx="197.9" cy="234.5" r="1.05"/><circle cx="197.7" cy="235.9" r="1.05"/><circle cx="201.1" cy="227.4" r="1.05"/><circle cx="201.2" cy="228.7" r="1.05"/><circle cx="201.1" cy="229.8" r="1.05"/><circle cx="201.0" cy="231.3" r="1.05"/><circle cx="115.8" cy="280.6" r="1.05"/><circle cx="115.9" cy="282.2" r="1.05"/><circle cx="115.6" cy="283.6" r="1.05"/><circle cx="115.1" cy="285.3" r="1.05"/><circle cx="201.6" cy="226.9" r="1.05"/><circle cx="201.6" cy="228.4" r="1.05"/><circle cx="201.2" cy="229.7" r="1.05"/><circle cx="201.8" cy="231.1" r="1.05"/><circle cx="201.2" cy="232.3" r="1.05"/><circle cx="211.3" cy="220.5" r="1.05"/><circle cx="211.3" cy="222.0" r="1.05"/><circle cx="211.2" cy="223.3" r="1.05"/><circle cx="211.0" cy="224.5" r="1.05"/><circle cx="211.5" cy="225.9" r="1.05"/><circle cx="210.9" cy="227.2" r="1.05"/><circle cx="193.3" cy="233.0" r="1.05"/><circle cx="193.0" cy="234.4" r="1.05"/><circle cx="193.2" cy="235.9" r="1.05"/><circle cx="184.7" cy="238.1" r="1.05"/><circle cx="184.7" cy="239.5" r="1.05"/><circle cx="184.6" cy="241.2" r="1.05"/><circle cx="191.8" cy="233.5" r="1.05"/><circle cx="192.1" cy="235.2" r="1.05"/><circle cx="192.4" cy="236.5" r="1.05"/><circle cx="204.3" cy="225.7" r="1.05"/><circle cx="204.6" cy="227.1" r="1.05"/><circle cx="204.2" cy="228.3" r="1.05"/><circle cx="204.4" cy="229.8" r="1.05"/><circle cx="204.1" cy="231.2" r="1.05"/><circle cx="204.3" cy="232.5" r="1.05"/><circle cx="99.7" cy="289.9" r="1.05"/><circle cx="99.4" cy="291.4" r="1.05"/><circle cx="112.1" cy="283.0" r="1.05"/><circle cx="111.9" cy="284.2" r="1.05"/><circle cx="112.1" cy="285.7" r="1.05"/><circle cx="112.2" cy="287.3" r="1.05"/><circle cx="92.5" cy="293.8" r="1.05"/><circle cx="93.1" cy="295.0" r="1.05"/><circle cx="92.9" cy="296.5" r="1.05"/><circle cx="92.3" cy="297.6" r="1.05"/><circle cx="92.8" cy="299.3" r="1.05"/><circle cx="122.0" cy="276.5" r="1.05"/><circle cx="122.5" cy="277.7" r="1.05"/><circle cx="122.4" cy="278.9" r="1.05"/><circle cx="122.4" cy="280.1" r="1.05"/><circle cx="113.8" cy="281.9" r="1.05"/><circle cx="113.4" cy="283.6" r="1.05"/><circle cx="113.6" cy="284.9" r="1.05"/><circle cx="113.8" cy="286.1" r="1.05"/><circle cx="180.9" cy="240.3" r="1.05"/><circle cx="181.3" cy="241.7" r="1.05"/><circle cx="180.9" cy="243.2" r="1.05"/><circle cx="181.1" cy="244.8" r="1.05"/><circle cx="181.5" cy="246.2" r="1.05"/><circle cx="181.1" cy="247.8" r="1.05"/><circle cx="206.8" cy="223.7" r="1.05"/><circle cx="207.2" cy="225.2" r="1.05"/><circle cx="207.0" cy="226.7" r="1.05"/><circle cx="206.8" cy="228.0" r="1.05"/><circle cx="167.8" cy="248.9" r="1.05"/><circle cx="167.4" cy="250.3" r="1.05"/><circle cx="167.9" cy="251.5" r="1.05"/><circle cx="167.8" cy="253.0" r="1.05"/><circle cx="167.3" cy="254.2" r="1.05"/><circle cx="204.2" cy="225.6" r="1.05"/><circle cx="203.8" cy="227.3" r="1.05"/><circle cx="203.7" cy="228.6" r="1.05"/><circle cx="203.6" cy="229.9" r="1.05"/><circle cx="141.4" cy="265.4" r="1.05"/><circle cx="141.7" cy="266.8" r="1.05"/><circle cx="141.9" cy="268.4" r="1.05"/><circle cx="86.9" cy="296.7" r="1.05"/><circle cx="86.7" cy="297.9" r="1.05"/><circle cx="86.8" cy="299.1" r="1.05"/><circle cx="210.3" cy="222.0" r="1.05"/><circle cx="210.2" cy="223.2" r="1.05"/><circle cx="209.8" cy="224.4" r="1.05"/><circle cx="210.1" cy="226.0" r="1.05"/><circle cx="209.7" cy="227.1" r="1.05"/><circle cx="168.5" cy="248.1" r="1.05"/><circle cx="168.4" cy="249.2" r="1.05"/><circle cx="168.2" cy="250.8" r="1.05"/><circle cx="168.2" cy="252.0" r="1.05"/><circle cx="168.0" cy="253.2" r="1.05"/><circle cx="168.1" cy="254.9" r="1.05"/><circle cx="168.6" cy="256.2" r="1.05"/><circle cx="120.5" cy="278.2" r="1.05"/><circle cx="120.6" cy="279.7" r="1.05"/><circle cx="120.7" cy="280.9" r="1.05"/><circle cx="120.6" cy="282.2" r="1.05"/><circle cx="120.5" cy="283.6" r="1.05"/><circle cx="120.6" cy="288.5" r="1.05"/><circle cx="192.0" cy="233.5" r="1.05"/><circle cx="191.5" cy="234.8" r="1.05"/><circle cx="192.2" cy="236.1" r="1.05"/><circle cx="191.6" cy="237.8" r="1.05"/><circle cx="191.8" cy="239.2" r="1.05"/><circle cx="83.2" cy="299.4" r="1.05"/><circle cx="83.5" cy="300.8" r="1.05"/><circle cx="83.1" cy="302.1" r="1.05"/><circle cx="82.7" cy="303.6" r="1.05"/><circle cx="210.7" cy="221.1" r="1.05"/><circle cx="210.8" cy="222.4" r="1.05"/><circle cx="211.1" cy="224.1" r="1.05"/><circle cx="211.0" cy="225.7" r="1.05"/><circle cx="210.5" cy="227.3" r="1.05"/><circle cx="210.7" cy="228.9" r="1.05"/><circle cx="110.1" cy="284.1" r="1.05"/><circle cx="109.8" cy="285.4" r="1.05"/><circle cx="109.7" cy="287.0" r="1.05"/><circle cx="110.0" cy="288.6" r="1.05"/><circle cx="110.1" cy="290.0" r="1.05"/><circle cx="146.9" cy="261.5" r="1.05"/><circle cx="146.8" cy="262.8" r="1.05"/><circle cx="147.1" cy="264.0" r="1.05"/><circle cx="146.7" cy="265.5" r="1.05"/><circle cx="146.8" cy="266.8" r="1.05"/><circle cx="146.5" cy="267.9" r="1.05"/><circle cx="117.6" cy="279.1" r="1.05"/><circle cx="118.4" cy="280.8" r="1.05"/><circle cx="117.7" cy="282.5" r="1.05"/><circle cx="118.1" cy="284.1" r="1.05"/><circle cx="200.2" cy="228.4" r="1.05"/><circle cx="200.3" cy="229.9" r="1.05"/><circle cx="200.2" cy="231.1" r="1.05"/><circle cx="200.2" cy="232.8" r="1.05"/><circle cx="105.6" cy="286.4" r="1.05"/><circle cx="106.0" cy="287.5" r="1.05"/><circle cx="106.0" cy="288.9" r="1.05"/><circle cx="105.8" cy="290.6" r="1.05"/><circle cx="105.3" cy="291.7" r="1.05"/><circle cx="135.9" cy="268.4" r="1.05"/><circle cx="135.9" cy="269.6" r="1.05"/><circle cx="135.7" cy="270.8" r="1.05"/><circle cx="135.7" cy="272.2" r="1.05"/><circle cx="135.9" cy="273.8" r="1.05"/><circle cx="135.9" cy="275.2" r="1.05"/><circle cx="205.1" cy="225.1" r="1.05"/><circle cx="205.0" cy="226.7" r="1.05"/><circle cx="205.0" cy="228.3" r="1.05"/><circle cx="205.7" cy="229.7" r="1.05"/><circle cx="205.6" cy="231.3" r="1.05"/><circle cx="121.0" cy="278.1" r="1.05"/><circle cx="120.4" cy="279.3" r="1.05"/><circle cx="120.2" cy="280.8" r="1.05"/><circle cx="120.4" cy="282.0" r="1.05"/><circle cx="154.9" cy="256.5" r="1.05"/><circle cx="155.2" cy="258.0" r="1.05"/><circle cx="155.5" cy="259.2" r="1.05"/><circle cx="106.8" cy="286.1" r="1.05"/><circle cx="106.8" cy="287.4" r="1.05"/><circle cx="106.9" cy="288.5" r="1.05"/><circle cx="107.1" cy="289.8" r="1.05"/><circle cx="210.2" cy="221.5" r="1.05"/><circle cx="209.9" cy="223.2" r="1.05"/><circle cx="209.9" cy="224.8" r="1.05"/><circle cx="209.9" cy="226.3" r="1.05"/><circle cx="210.3" cy="227.6" r="1.05"/><circle cx="212.8" cy="219.3" r="1.05"/><circle cx="212.9" cy="220.8" r="1.05"/><circle cx="213.1" cy="221.9" r="1.05"/><circle cx="214.8" cy="218.5" r="1.05"/><circle cx="215.4" cy="219.6" r="1.05"/><circle cx="215.2" cy="221.2" r="1.05"/><circle cx="215.1" cy="222.5" r="1.05"/><circle cx="215.1" cy="223.9" r="1.05"/><circle cx="195.9" cy="230.8" r="1.05"/><circle cx="196.1" cy="231.9" r="1.05"/><circle cx="195.6" cy="233.6" r="1.05"/><circle cx="212.7" cy="220.4" r="1.05"/><circle cx="212.5" cy="221.5" r="1.05"/><circle cx="211.6" cy="222.7" r="1.05"/><circle cx="212.2" cy="224.2" r="1.05"/><circle cx="212.3" cy="225.6" r="1.05"/><circle cx="215.2" cy="218.3" r="1.05"/><circle cx="215.2" cy="219.8" r="1.05"/><circle cx="215.0" cy="221.2" r="1.05"/><circle cx="215.7" cy="222.5" r="1.05"/><circle cx="215.4" cy="223.7" r="1.05"/><circle cx="215.4" cy="225.1" r="1.05"/><circle cx="215.5" cy="226.7" r="1.05"/><circle cx="145.2" cy="262.7" r="1.05"/><circle cx="144.8" cy="263.8" r="1.05"/><circle cx="145.1" cy="265.3" r="1.05"/><circle cx="145.1" cy="266.6" r="1.05"/><circle cx="144.8" cy="267.7" r="1.05"/><circle cx="134.5" cy="269.0" r="1.05"/><circle cx="134.4" cy="270.4" r="1.05"/><circle cx="135.1" cy="271.8" r="1.05"/><circle cx="134.6" cy="273.0" r="1.05"/><circle cx="135.0" cy="274.2" r="1.05"/><circle cx="134.9" cy="275.3" r="1.05"/><circle cx="131.1" cy="271.8" r="1.05"/><circle cx="131.3" cy="273.1" r="1.05"/><circle cx="131.5" cy="274.4" r="1.05"/><circle cx="130.9" cy="275.8" r="1.05"/><circle cx="131.1" cy="279.0" r="1.05"/><circle cx="198.3" cy="229.0" r="1.05"/><circle cx="198.3" cy="230.4" r="1.05"/><circle cx="198.7" cy="231.7" r="1.05"/><circle cx="198.6" cy="233.2" r="1.05"/><circle cx="198.6" cy="234.6" r="1.05"/><circle cx="99.6" cy="289.7" r="1.05"/><circle cx="99.1" cy="291.0" r="1.05"/><circle cx="99.4" cy="292.1" r="1.05"/><circle cx="99.5" cy="293.6" r="1.05"/><circle cx="99.3" cy="294.9" r="1.05"/><circle cx="99.3" cy="296.4" r="1.05"/><circle cx="109.6" cy="284.4" r="1.05"/><circle cx="109.4" cy="286.1" r="1.05"/><circle cx="115.0" cy="281.0" r="1.05"/><circle cx="114.9" cy="282.6" r="1.05"/><circle cx="115.6" cy="284.2" r="1.05"/><circle cx="115.2" cy="285.6" r="1.05"/><circle cx="180.8" cy="241.1" r="1.05"/><circle cx="180.5" cy="242.2" r="1.05"/><circle cx="180.1" cy="243.4" r="1.05"/><circle cx="180.9" cy="244.7" r="1.05"/><circle cx="180.7" cy="246.2" r="1.05"/><circle cx="139.2" cy="266.6" r="1.05"/><circle cx="138.9" cy="267.7" r="1.05"/><circle cx="138.9" cy="268.8" r="1.05"/><circle cx="138.4" cy="270.3" r="1.05"/><circle cx="139.2" cy="271.5" r="1.05"/><circle cx="138.7" cy="272.7" r="1.05"/><circle cx="83.4" cy="299.2" r="1.05"/><circle cx="82.2" cy="300.5" r="1.05"/><circle cx="200.1" cy="228.3" r="1.05"/><circle cx="200.0" cy="229.7" r="1.05"/><circle cx="200.2" cy="230.9" r="1.05"/><circle cx="200.4" cy="232.2" r="1.05"/><circle cx="200.1" cy="233.6" r="1.05"/><circle cx="156.6" cy="255.8" r="1.05"/><circle cx="156.7" cy="257.3" r="1.05"/><circle cx="156.9" cy="258.6" r="1.05"/><circle cx="156.4" cy="260.1" r="1.05"/><circle cx="207.1" cy="223.2" r="1.05"/><circle cx="207.2" cy="224.5" r="1.05"/><circle cx="207.7" cy="226.1" r="1.05"/><circle cx="207.5" cy="227.5" r="1.05"/><circle cx="207.3" cy="228.8" r="1.05"/><circle cx="138.0" cy="267.5" r="1.05"/><circle cx="138.2" cy="269.1" r="1.05"/><circle cx="137.8" cy="270.6" r="1.05"/><circle cx="137.7" cy="272.1" r="1.05"/><circle cx="138.2" cy="273.4" r="1.05"/><circle cx="159.4" cy="254.5" r="1.05"/><circle cx="159.4" cy="256.1" r="1.05"/><circle cx="159.6" cy="257.3" r="1.05"/><circle cx="159.3" cy="258.9" r="1.05"/><circle cx="159.0" cy="260.2" r="1.05"/><circle cx="182.5" cy="239.9" r="1.05"/><circle cx="182.1" cy="241.2" r="1.05"/><circle cx="182.5" cy="242.5" r="1.05"/><circle cx="182.3" cy="243.7" r="1.05"/><circle cx="182.8" cy="245.0" r="1.05"/><circle cx="182.1" cy="246.3" r="1.05"/><circle cx="146.8" cy="262.1" r="1.05"/><circle cx="147.0" cy="263.7" r="1.05"/><circle cx="146.6" cy="265.1" r="1.05"/><circle cx="146.9" cy="269.2" r="1.05"/><circle cx="140.8" cy="265.6" r="1.05"/><circle cx="140.4" cy="267.2" r="1.05"/><circle cx="86.9" cy="297.3" r="1.05"/><circle cx="86.7" cy="298.6" r="1.05"/><circle cx="87.1" cy="300.2" r="1.05"/><circle cx="86.3" cy="301.5" r="1.05"/><circle cx="86.6" cy="305.7" r="1.05"/><circle cx="174.0" cy="244.8" r="1.05"/><circle cx="174.2" cy="246.0" r="1.05"/><circle cx="174.4" cy="247.3" r="1.05"/><circle cx="174.2" cy="248.7" r="1.05"/><circle cx="174.1" cy="250.4" r="1.05"/><circle cx="122.6" cy="276.8" r="1.05"/><circle cx="122.2" cy="278.3" r="1.05"/><circle cx="122.2" cy="279.6" r="1.05"/><circle cx="121.8" cy="281.3" r="1.05"/><circle cx="120.1" cy="278.4" r="1.05"/><circle cx="119.6" cy="279.7" r="1.05"/><circle cx="120.0" cy="281.3" r="1.05"/><circle cx="120.0" cy="282.9" r="1.05"/><circle cx="99.3" cy="289.9" r="1.05"/><circle cx="99.2" cy="291.1" r="1.05"/><circle cx="98.9" cy="292.4" r="1.05"/><circle cx="99.3" cy="293.7" r="1.05"/><circle cx="213.7" cy="219.1" r="1.05"/><circle cx="214.0" cy="220.7" r="1.05"/><circle cx="214.1" cy="221.9" r="1.05"/><circle cx="213.8" cy="223.2" r="1.05"/><circle cx="127.7" cy="273.9" r="1.05"/><circle cx="127.8" cy="275.4" r="1.05"/><circle cx="133.3" cy="269.7" r="1.05"/><circle cx="134.1" cy="271.0" r="1.05"/><circle cx="134.0" cy="272.4" r="1.05"/><circle cx="134.1" cy="273.9" r="1.05"/><circle cx="133.7" cy="275.2" r="1.05"/><circle cx="196.7" cy="230.6" r="1.05"/><circle cx="196.7" cy="231.7" r="1.05"/><circle cx="197.2" cy="233.2" r="1.05"/><circle cx="196.3" cy="234.7" r="1.05"/><circle cx="174.3" cy="244.6" r="1.05"/><circle cx="174.5" cy="246.0" r="1.05"/><circle cx="174.5" cy="247.2" r="1.05"/><circle cx="174.1" cy="248.7" r="1.05"/><circle cx="174.5" cy="249.8" r="1.05"/><circle cx="174.1" cy="251.2" r="1.05"/><circle cx="161.9" cy="252.7" r="1.05"/><circle cx="162.1" cy="254.1" r="1.05"/><circle cx="162.3" cy="255.7" r="1.05"/><circle cx="162.0" cy="257.2" r="1.05"/><circle cx="195.2" cy="230.8" r="1.05"/><circle cx="196.0" cy="232.3" r="1.05"/><circle cx="195.5" cy="234.0" r="1.05"/><circle cx="195.4" cy="235.5" r="1.05"/><circle cx="195.9" cy="236.7" r="1.05"/></g>
<g fill="none" stroke="#a2142f" stroke-width="0.8"><circle cx="110.4" cy="283.8" r="1.05"/><circle cx="109.9" cy="285.2" r="1.05"/><circle cx="110.4" cy="286.8" r="1.05"/><circle cx="110.7" cy="288.1" r="1.05"/><circle cx="110.1" cy="289.3" r="1.05"/><circle cx="128.3" cy="273.0" r="1.05"/><circle cx="128.7" cy="274.3" r="1.05"/><circle cx="128.0" cy="275.9" r="1.05"/><circle cx="215.4" cy="218.5" r="1.05"/><circle cx="214.9" cy="219.8" r="1.05"/><circle cx="215.6" cy="220.9" r="1.05"/><circle cx="215.1" cy="222.4" r="1.05"/><circle cx="203.8" cy="225.8" r="1.05"/><circle cx="204.0" cy="227.5" r="1.05"/><circle cx="203.9" cy="228.8" r="1.05"/><circle cx="203.5" cy="230.0" r="1.05"/><circle cx="143.2" cy="264.4" r="1.05"/><circle cx="143.6" cy="265.8" r="1.05"/><circle cx="143.4" cy="266.9" r="1.05"/><circle cx="141.0" cy="265.4" r="1.05"/><circle cx="141.1" cy="266.9" r="1.05"/><circle cx="141.6" cy="268.1" r="1.05"/><circle cx="180.5" cy="240.5" r="1.05"/><circle cx="180.3" cy="242.1" r="1.05"/><circle cx="180.5" cy="243.2" r="1.05"/><circle cx="180.9" cy="244.6" r="1.05"/><circle cx="180.4" cy="245.9" r="1.05"/><circle cx="180.5" cy="247.3" r="1.05"/><circle cx="147.3" cy="261.5" r="1.05"/><circle cx="147.4" cy="262.7" r="1.05"/><circle cx="147.4" cy="264.2" r="1.05"/><circle cx="148.1" cy="265.8" r="1.05"/><circle cx="147.7" cy="267.3" r="1.05"/><circle cx="138.2" cy="267.0" r="1.05"/><circle cx="138.5" cy="268.4" r="1.05"/><circle cx="138.6" cy="270.0" r="1.05"/><circle cx="137.2" cy="267.3" r="1.05"/><circle cx="137.6" cy="268.7" r="1.05"/><circle cx="137.6" cy="270.1" r="1.05"/><circle cx="137.5" cy="271.8" r="1.05"/><circle cx="138.0" cy="273.0" r="1.05"/><circle cx="142.6" cy="264.4" r="1.05"/><circle cx="142.5" cy="265.9" r="1.05"/><circle cx="142.8" cy="267.4" r="1.05"/><circle cx="142.4" cy="268.8" r="1.05"/><circle cx="142.5" cy="270.2" r="1.05"/><circle cx="186.3" cy="236.9" r="1.05"/><circle cx="185.6" cy="238.1" r="1.05"/><circle cx="186.2" cy="239.3" r="1.05"/><circle cx="186.1" cy="240.5" r="1.05"/><circle cx="186.0" cy="241.9" r="1.05"/><circle cx="186.2" cy="243.2" r="1.05"/><circle cx="206.9" cy="223.6" r="1.05"/><circle cx="206.7" cy="224.8" r="1.05"/><circle cx="206.9" cy="226.3" r="1.05"/><circle cx="205.9" cy="227.5" r="1.05"/><circle cx="168.5" cy="248.3" r="1.05"/><circle cx="168.6" cy="249.9" r="1.05"/><circle cx="168.3" cy="251.4" r="1.05"/><circle cx="168.6" cy="252.9" r="1.05"/><circle cx="168.4" cy="254.5" r="1.05"/><circle cx="168.6" cy="255.9" r="1.05"/><circle cx="199.2" cy="228.6" r="1.05"/><circle cx="199.3" cy="230.0" r="1.05"/><circle cx="199.6" cy="231.6" r="1.05"/><circle cx="199.5" cy="233.3" r="1.05"/><circle cx="199.4" cy="239.3" r="1.05"/><circle cx="196.0" cy="230.8" r="1.05"/><circle cx="196.0" cy="232.4" r="1.05"/><circle cx="196.0" cy="233.9" r="1.05"/><circle cx="196.2" cy="235.4" r="1.05"/><circle cx="196.2" cy="236.9" r="1.05"/><circle cx="195.9" cy="238.2" r="1.05"/><circle cx="129.4" cy="272.3" r="1.05"/><circle cx="129.2" cy="273.8" r="1.05"/><circle cx="129.7" cy="275.4" r="1.05"/><circle cx="129.7" cy="276.5" r="1.05"/><circle cx="129.8" cy="278.2" r="1.05"/><circle cx="166.4" cy="249.7" r="1.05"/><circle cx="166.2" cy="250.8" r="1.05"/><circle cx="166.4" cy="252.5" r="1.05"/><circle cx="166.2" cy="253.8" r="1.05"/><circle cx="197.7" cy="229.7" r="1.05"/><circle cx="197.6" cy="231.2" r="1.05"/><circle cx="197.7" cy="232.3" r="1.05"/><circle cx="197.7" cy="233.7" r="1.05"/><circle cx="197.5" cy="235.1" r="1.05"/><circle cx="197.6" cy="236.6" r="1.05"/><circle cx="231.8" cy="207.1" r="1.05"/><circle cx="231.6" cy="208.6" r="1.05"/><circle cx="231.7" cy="209.9" r="1.05"/><circle cx="231.6" cy="211.6" r="1.05"/><circle cx="232.0" cy="213.1" r="1.05"/><circle cx="231.8" cy="214.2" r="1.05"/><circle cx="231.6" cy="215.5" r="1.05"/><circle cx="231.7" cy="219.4" r="1.05"/><circle cx="129.3" cy="272.3" r="1.05"/><circle cx="129.3" cy="273.4" r="1.05"/><circle cx="129.3" cy="274.6" r="1.05"/><circle cx="129.4" cy="275.8" r="1.05"/><circle cx="129.0" cy="277.3" r="1.05"/><circle cx="116.2" cy="280.1" r="1.05"/><circle cx="115.8" cy="281.7" r="1.05"/><circle cx="116.3" cy="283.4" r="1.05"/><circle cx="116.5" cy="284.5" r="1.05"/><circle cx="116.3" cy="286.0" r="1.05"/><circle cx="179.3" cy="241.5" r="1.05"/><circle cx="179.7" cy="242.7" r="1.05"/><circle cx="179.3" cy="244.0" r="1.05"/><circle cx="144.0" cy="263.6" r="1.05"/><circle cx="144.0" cy="265.0" r="1.05"/><circle cx="143.9" cy="266.4" r="1.05"/><circle cx="236.7" cy="204.5" r="1.05"/><circle cx="236.4" cy="206.1" r="1.05"/><circle cx="236.7" cy="207.6" r="1.05"/><circle cx="237.3" cy="209.1" r="1.05"/><circle cx="236.4" cy="210.6" r="1.05"/><circle cx="236.5" cy="212.3" r="1.05"/><circle cx="194.0" cy="232.1" r="1.05"/><circle cx="193.9" cy="233.6" r="1.05"/><circle cx="193.6" cy="234.7" r="1.05"/><circle cx="194.0" cy="236.2" r="1.05"/><circle cx="233.9" cy="205.6" r="1.05"/><circle cx="234.4" cy="207.2" r="1.05"/><circle cx="233.9" cy="208.7" r="1.05"/><circle cx="234.3" cy="210.1" r="1.05"/><circle cx="234.7" cy="211.3" r="1.05"/><circle cx="175.2" cy="243.8" r="1.05"/><circle cx="175.3" cy="245.4" r="1.05"/><circle cx="174.8" cy="247.0" r="1.05"/><circle cx="175.3" cy="248.6" r="1.05"/><circle cx="175.8" cy="250.0" r="1.05"/><circle cx="175.1" cy="251.3" r="1.05"/><circle cx="200.7" cy="227.7" r="1.05"/><circle cx="200.4" cy="229.1" r="1.05"/><circle cx="200.6" cy="230.3" r="1.05"/><circle cx="200.3" cy="231.5" r="1.05"/><circle cx="221.2" cy="214.0" r="1.05"/><circle cx="221.7" cy="215.3" r="1.05"/><circle cx="221.4" cy="216.6" r="1.05"/><circle cx="221.6" cy="217.7" r="1.05"/><circle cx="221.2" cy="218.8" r="1.05"/><circle cx="147.4" cy="261.2" r="1.05"/><circle cx="147.1" cy="262.6" r="1.05"/><circle cx="147.3" cy="263.9" r="1.05"/><circle cx="226.4" cy="211.5" r="1.05"/><circle cx="225.7" cy="212.7" r="1.05"/><circle cx="225.3" cy="214.2" r="1.05"/><circle cx="133.2" cy="269.9" r="1.05"/><circle cx="133.4" cy="271.5" r="1.05"/><circle cx="133.4" cy="272.9" r="1.05"/><circle cx="133.0" cy="274.4" r="1.05"/><circle cx="187.9" cy="236.3" r="1.05"/><circle cx="188.0" cy="237.6" r="1.05"/><circle cx="188.3" cy="239.1" r="1.05"/><circle cx="187.8" cy="240.6" r="1.05"/><circle cx="172.8" cy="245.8" r="1.05"/><circle cx="173.0" cy="247.3" r="1.05"/><circle cx="172.9" cy="248.9" r="1.05"/><circle cx="173.2" cy="250.5" r="1.05"/><circle cx="179.1" cy="242.2" r="1.05"/><circle cx="178.8" cy="243.8" r="1.05"/><circle cx="179.2" cy="245.2" r="1.05"/><circle cx="179.4" cy="246.4" r="1.05"/><circle cx="110.9" cy="283.5" r="1.05"/><circle cx="110.6" cy="285.1" r="1.05"/><circle cx="110.5" cy="286.7" r="1.05"/><circle cx="110.5" cy="288.0" r="1.05"/><circle cx="196.9" cy="229.7" r="1.05"/><circle cx="197.0" cy="230.9" r="1.05"/><circle cx="197.6" cy="232.2" r="1.05"/><circle cx="197.5" cy="233.3" r="1.05"/><circle cx="197.7" cy="234.7" r="1.05"/><circle cx="190.0" cy="234.1" r="1.05"/><circle cx="190.3" cy="235.4" r="1.05"/><circle cx="190.6" cy="236.6" r="1.05"/><circle cx="190.1" cy="238.0" r="1.05"/><circle cx="190.5" cy="239.3" r="1.05"/><circle cx="190.2" cy="240.5" r="1.05"/><circle cx="191.5" cy="233.8" r="1.05"/><circle cx="192.4" cy="235.4" r="1.05"/><circle cx="192.1" cy="236.9" r="1.05"/><circle cx="192.3" cy="238.1" r="1.05"/><circle cx="191.7" cy="239.8" r="1.05"/><circle cx="191.7" cy="241.0" r="1.05"/><circle cx="193.9" cy="232.1" r="1.05"/><circle cx="193.5" cy="233.8" r="1.05"/><circle cx="193.8" cy="235.2" r="1.05"/><circle cx="194.3" cy="236.9" r="1.05"/><circle cx="235.1" cy="205.0" r="1.05"/><circle cx="234.7" cy="206.5" r="1.05"/><circle cx="235.0" cy="208.2" r="1.05"/><circle cx="234.9" cy="209.3" r="1.05"/><circle cx="235.6" cy="210.4" r="1.05"/><circle cx="235.5" cy="212.0" r="1.05"/><circle cx="164.7" cy="251.0" r="1.05"/><circle cx="164.4" cy="252.4" r="1.05"/><circle cx="164.5" cy="253.9" r="1.05"/><circle cx="233.0" cy="206.3" r="1.05"/><circle cx="233.3" cy="207.9" r="1.05"/><circle cx="232.8" cy="209.1" r="1.05"/><circle cx="233.0" cy="210.8" r="1.05"/><circle cx="179.0" cy="241.6" r="1.05"/><circle cx="178.6" cy="243.0" r="1.05"/><circle cx="179.1" cy="244.6" r="1.05"/><circle cx="178.9" cy="245.8" r="1.05"/><circle cx="178.7" cy="247.0" r="1.05"/><circle cx="179.2" cy="248.5" r="1.05"/><circle cx="178.9" cy="249.6" r="1.05"/><circle cx="217.9" cy="216.6" r="1.05"/><circle cx="218.2" cy="218.2" r="1.05"/><circle cx="218.2" cy="219.8" r="1.05"/><circle cx="212.2" cy="220.6" r="1.05"/><circle cx="211.2" cy="221.8" r="1.05"/><circle cx="212.0" cy="223.4" r="1.05"/><circle cx="211.7" cy="225.0" r="1.05"/><circle cx="212.0" cy="226.5" r="1.05"/><circle cx="211.6" cy="227.7" r="1.05"/><circle cx="130.5" cy="272.2" r="1.05"/><circle cx="130.9" cy="273.7" r="1.05"/><circle cx="130.6" cy="274.8" r="1.05"/><circle cx="130.1" cy="276.1" r="1.05"/><circle cx="130.4" cy="277.3" r="1.05"/><circle cx="134.5" cy="269.5" r="1.05"/><circle cx="134.2" cy="271.2" r="1.05"/><circle cx="134.2" cy="272.7" r="1.05"/><circle cx="122.5" cy="276.9" r="1.05"/><circle cx="122.2" cy="278.2" r="1.05"/><circle cx="122.2" cy="279.3" r="1.05"/><circle cx="214.1" cy="219.2" r="1.05"/><circle cx="213.8" cy="220.4" r="1.05"/><circle cx="214.1" cy="221.7" r="1.05"/><circle cx="214.0" cy="223.2" r="1.05"/><circle cx="214.2" cy="224.5" r="1.05"/><circle cx="177.5" cy="243.2" r="1.05"/><circle cx="177.2" cy="244.6" r="1.05"/><circle cx="177.3" cy="246.2" r="1.05"/><circle cx="177.5" cy="247.4" r="1.05"/><circle cx="133.4" cy="270.3" r="1.05"/><circle cx="133.7" cy="271.9" r="1.05"/><circle cx="133.6" cy="273.6" r="1.05"/><circle cx="230.0" cy="208.3" r="1.05"/><circle cx="229.9" cy="209.7" r="1.05"/><circle cx="230.2" cy="211.1" r="1.05"/><circle cx="230.4" cy="212.8" r="1.05"/><circle cx="229.6" cy="214.2" r="1.05"/><circle cx="229.0" cy="209.0" r="1.05"/><circle cx="230.1" cy="210.1" r="1.05"/><circle cx="229.8" cy="211.7" r="1.05"/><circle cx="229.5" cy="213.3" r="1.05"/><circle cx="229.7" cy="214.5" r="1.05"/><circle cx="215.5" cy="217.5" r="1.05"/><circle cx="215.8" cy="219.2" r="1.05"/><circle cx="216.0" cy="220.6" r="1.05"/><circle cx="216.2" cy="222.0" r="1.05"/><circle cx="215.4" cy="223.5" r="1.05"/><circle cx="215.8" cy="224.8" r="1.05"/><circle cx="173.1" cy="245.4" r="1.05"/><circle cx="172.9" cy="246.7" r="1.05"/><circle cx="173.2" cy="248.4" r="1.05"/><circle cx="172.8" cy="249.9" r="1.05"/><circle cx="173.0" cy="251.1" r="1.05"/><circle cx="172.8" cy="252.4" r="1.05"/><circle cx="141.0" cy="265.2" r="1.05"/><circle cx="141.1" cy="266.5" r="1.05"/><circle cx="140.5" cy="267.8" r="1.05"/><circle cx="184.7" cy="237.9" r="1.05"/><circle cx="184.5" cy="239.4" r="1.05"/><circle cx="184.8" cy="240.8" r="1.05"/><circle cx="184.1" cy="242.0" r="1.05"/><circle cx="184.0" cy="243.2" r="1.05"/><circle cx="184.4" cy="248.1" r="1.05"/><circle cx="113.7" cy="281.8" r="1.05"/><circle cx="113.6" cy="283.1" r="1.05"/><circle cx="113.9" cy="284.3" r="1.05"/><circle cx="113.9" cy="285.5" r="1.05"/><circle cx="113.6" cy="287.1" r="1.05"/><circle cx="191.4" cy="233.6" r="1.05"/><circle cx="191.5" cy="235.3" r="1.05"/><circle cx="191.2" cy="236.8" r="1.05"/><circle cx="191.4" cy="237.9" r="1.05"/><circle cx="191.6" cy="239.2" r="1.05"/><circle cx="224.2" cy="212.8" r="1.05"/><circle cx="223.7" cy="214.1" r="1.05"/><circle cx="224.1" cy="215.4" r="1.05"/><circle cx="223.4" cy="216.9" r="1.05"/><circle cx="224.0" cy="218.3" r="1.05"/><circle cx="223.9" cy="219.9" r="1.05"/><circle cx="223.7" cy="225.9" r="1.05"/><circle cx="113.0" cy="282.1" r="1.05"/><circle cx="112.9" cy="283.7" r="1.05"/><circle cx="113.1" cy="285.3" r="1.05"/><circle cx="113.0" cy="286.7" r="1.05"/><circle cx="142.3" cy="264.1" r="1.05"/><circle cx="142.4" cy="265.4" r="1.05"/><circle cx="142.2" cy="266.9" r="1.05"/><circle cx="142.5" cy="268.2" r="1.05"/><circle cx="142.2" cy="269.5" r="1.05"/><circle cx="207.4" cy="223.2" r="1.05"/><circle cx="207.5" cy="224.5" r="1.05"/><circle cx="207.3" cy="226.0" r="1.05"/><circle cx="207.4" cy="227.6" r="1.05"/><circle cx="132.2" cy="270.5" r="1.05"/><circle cx="132.3" cy="272.2" r="1.05"/><circle cx="132.3" cy="273.8" r="1.05"/><circle cx="148.1" cy="261.7" r="1.05"/><circle cx="147.6" cy="262.8" r="1.05"/><circle cx="147.9" cy="264.1" r="1.05"/><circle cx="147.8" cy="265.4" r="1.05"/><circle cx="147.7" cy="267.0" r="1.05"/><circle cx="148.2" cy="268.3" r="1.05"/><circle cx="127.7" cy="273.3" r="1.05"/><circle cx="127.6" cy="274.5" r="1.05"/><circle cx="127.9" cy="275.8" r="1.05"/><circle cx="127.2" cy="277.1" r="1.05"/><circle cx="229.3" cy="208.9" r="1.05"/><circle cx="229.3" cy="210.3" r="1.05"/><circle cx="229.5" cy="212.0" r="1.05"/><circle cx="229.8" cy="213.4" r="1.05"/><circle cx="229.7" cy="215.0" r="1.05"/><circle cx="229.3" cy="216.2" r="1.05"/><circle cx="160.4" cy="253.5" r="1.05"/><circle cx="160.4" cy="254.7" r="1.05"/><circle cx="160.4" cy="256.4" r="1.05"/><circle cx="160.6" cy="257.6" r="1.05"/><circle cx="132.5" cy="270.4" r="1.05"/><circle cx="132.8" cy="271.9" r="1.05"/><circle cx="132.7" cy="273.6" r="1.05"/><circle cx="132.6" cy="274.7" r="1.05"/><circle cx="159.3" cy="254.8" r="1.05"/><circle cx="159.4" cy="256.1" r="1.05"/><circle cx="158.8" cy="257.3" r="1.05"/><circle cx="159.0" cy="258.7" r="1.05"/><circle cx="209.8" cy="221.4" r="1.05"/><circle cx="210.2" cy="223.1" r="1.05"/><circle cx="210.1" cy="224.6" r="1.05"/><circle cx="209.7" cy="225.9" r="1.05"/><circle cx="209.6" cy="227.5" r="1.05"/><circle cx="165.1" cy="250.6" r="1.05"/><circle cx="164.8" cy="252.0" r="1.05"/><circle cx="164.9" cy="253.1" r="1.05"/><circle cx="165.0" cy="254.7" r="1.05"/><circle cx="164.4" cy="256.2" r="1.05"/><circle cx="122.5" cy="277.0" r="1.05"/><circle cx="122.7" cy="278.5" r="1.05"/><circle cx="122.2" cy="279.8" r="1.05"/><circle cx="122.3" cy="281.3" r="1.05"/><circle cx="122.0" cy="282.4" r="1.05"/><circle cx="115.1" cy="281.4" r="1.05"/><circle cx="114.9" cy="282.6" r="1.05"/><circle cx="114.9" cy="284.2" r="1.05"/><circle cx="232.3" cy="206.7" r="1.05"/><circle cx="232.7" cy="207.8" r="1.05"/><circle cx="232.6" cy="209.5" r="1.05"/><circle cx="115.2" cy="280.9" r="1.05"/><circle cx="115.3" cy="282.3" r="1.05"/><circle cx="115.6" cy="283.9" r="1.05"/><circle cx="115.7" cy="285.2" r="1.05"/><circle cx="115.3" cy="286.5" r="1.05"/><circle cx="226.4" cy="211.0" r="1.05"/><circle cx="226.2" cy="212.7" r="1.05"/><circle cx="226.2" cy="214.0" r="1.05"/><circle cx="226.3" cy="215.3" r="1.05"/><circle cx="226.3" cy="216.4" r="1.05"/><circle cx="224.9" cy="212.0" r="1.05"/><circle cx="224.7" cy="213.6" r="1.05"/><circle cx="224.5" cy="214.8" r="1.05"/><circle cx="224.7" cy="216.4" r="1.05"/><circle cx="224.6" cy="217.6" r="1.05"/><circle cx="225.2" cy="219.2" r="1.05"/><circle cx="141.4" cy="265.4" r="1.05"/><circle cx="141.1" cy="267.0" r="1.05"/><circle cx="140.9" cy="268.4" r="1.05"/><circle cx="190.4" cy="234.4" r="1.05"/><circle cx="190.8" cy="235.9" r="1.05"/><circle cx="190.8" cy="237.2" r="1.05"/><circle cx="190.4" cy="238.6" r="1.05"/><circle cx="190.6" cy="239.9" r="1.05"/><circle cx="235.4" cy="204.4" r="1.05"/><circle cx="235.2" cy="205.8" r="1.05"/><circle cx="235.3" cy="207.3" r="1.05"/><circle cx="235.6" cy="208.4" r="1.05"/><circle cx="152.4" cy="258.6" r="1.05"/><circle cx="152.1" cy="260.2" r="1.05"/><circle cx="151.9" cy="261.5" r="1.05"/><circle cx="152.3" cy="263.0" r="1.05"/><circle cx="144.8" cy="263.5" r="1.05"/><circle cx="144.6" cy="264.9" r="1.05"/><circle cx="144.7" cy="266.6" r="1.05"/><circle cx="144.5" cy="267.8" r="1.05"/><circle cx="144.7" cy="269.0" r="1.05"/><circle cx="176.3" cy="243.7" r="1.05"/><circle cx="176.7" cy="245.2" r="1.05"/><circle cx="176.6" cy="246.6" r="1.05"/><circle cx="176.8" cy="247.8" r="1.05"/><circle cx="176.2" cy="249.0" r="1.05"/><circle cx="176.2" cy="250.2" r="1.05"/><circle cx="217.6" cy="217.0" r="1.05"/><circle cx="217.9" cy="218.3" r="1.05"/><circle cx="217.1" cy="219.6" r="1.05"/><circle cx="217.5" cy="221.1" r="1.05"/><circle cx="159.7" cy="253.7" r="1.05"/><circle cx="159.6" cy="255.2" r="1.05"/><circle cx="159.7" cy="256.6" r="1.05"/><circle cx="147.7" cy="261.2" r="1.05"/><circle cx="147.5" cy="262.5" r="1.05"/><circle cx="147.8" cy="263.8" r="1.05"/><circle cx="147.6" cy="265.0" r="1.05"/><circle cx="147.7" cy="266.2" r="1.05"/><circle cx="167.7" cy="248.9" r="1.05"/><circle cx="167.7" cy="250.5" r="1.05"/><circle cx="167.4" cy="252.1" r="1.05"/><circle cx="167.8" cy="253.4" r="1.05"/><circle cx="150.0" cy="260.3" r="1.05"/><circle cx="149.9" cy="261.6" r="1.05"/><circle cx="149.7" cy="263.0" r="1.05"/><circle cx="159.1" cy="254.6" r="1.05"/><circle cx="158.7" cy="255.9" r="1.05"/><circle cx="158.7" cy="257.1" r="1.05"/><circle cx="158.9" cy="258.7" r="1.05"/><circle cx="158.6" cy="260.1" r="1.05"/></g>
<g fill="none" stroke="#0072bd" stroke-width="0.8"><circle cx="172.7" cy="246.1" r="1.05"/><circle cx="172.8" cy="247.6" r="1.05"/><circle cx="172.3" cy="248.7" r="1.05"/><circle cx="172.7" cy="249.9" r="1.05"/><circle cx="172.7" cy="251.3" r="1.05"/><circle cx="183.8" cy="239.0" r="1.05"/><circle cx="183.6" cy="240.1" r="1.05"/><circle cx="183.8" cy="241.8" r="1.05"/><circle cx="174.4" cy="244.8" r="1.05"/><circle cx="174.1" cy="246.0" r="1.05"/><circle cx="174.4" cy="247.6" r="1.05"/><circle cx="173.8" cy="249.1" r="1.05"/><circle cx="173.7" cy="250.4" r="1.05"/><circle cx="174.0" cy="251.5" r="1.05"/><circle cx="151.0" cy="259.7" r="1.05"/><circle cx="151.2" cy="260.9" r="1.05"/><circle cx="151.3" cy="262.4" r="1.05"/><circle cx="151.2" cy="263.8" r="1.05"/><circle cx="158.9" cy="254.7" r="1.05"/><circle cx="158.3" cy="256.1" r="1.05"/><circle cx="157.9" cy="257.5" r="1.05"/><circle cx="158.4" cy="258.6" r="1.05"/><circle cx="207.1" cy="223.2" r="1.05"/><circle cx="207.4" cy="224.5" r="1.05"/><circle cx="206.8" cy="225.7" r="1.05"/><circle cx="207.2" cy="227.2" r="1.05"/><circle cx="206.9" cy="228.4" r="1.05"/><circle cx="207.1" cy="229.9" r="1.05"/><circle cx="143.0" cy="264.4" r="1.05"/><circle cx="142.5" cy="265.8" r="1.05"/><circle cx="143.2" cy="267.0" r="1.05"/><circle cx="143.4" cy="268.2" r="1.05"/><circle cx="198.0" cy="229.4" r="1.05"/><circle cx="198.2" cy="230.6" r="1.05"/><circle cx="198.3" cy="232.2" r="1.05"/><circle cx="197.9" cy="233.5" r="1.05"/><circle cx="198.3" cy="234.7" r="1.05"/><circle cx="198.3" cy="236.2" r="1.05"/><circle cx="145.0" cy="262.9" r="1.05"/><circle cx="145.3" cy="264.3" r="1.05"/><circle cx="145.5" cy="265.9" r="1.05"/><circle cx="145.5" cy="267.2" r="1.05"/><circle cx="145.2" cy="268.5" r="1.05"/><circle cx="244.7" cy="198.5" r="1.05"/><circle cx="245.3" cy="200.1" r="1.05"/><circle cx="244.9" cy="201.5" r="1.05"/><circle cx="245.2" cy="203.2" r="1.05"/><circle cx="137.6" cy="268.2" r="1.05"/><circle cx="137.3" cy="269.6" r="1.05"/><circle cx="136.9" cy="271.0" r="1.05"/><circle cx="250.0" cy="194.7" r="1.05"/><circle cx="249.8" cy="196.2" r="1.05"/><circle cx="249.7" cy="197.7" r="1.05"/><circle cx="250.1" cy="201.3" r="1.05"/><circle cx="157.3" cy="254.9" r="1.05"/><circle cx="157.7" cy="256.0" r="1.05"/><circle cx="158.1" cy="257.5" r="1.05"/><circle cx="157.5" cy="258.8" r="1.05"/><circle cx="157.7" cy="260.2" r="1.05"/><circle cx="167.5" cy="249.4" r="1.05"/><circle cx="166.5" cy="251.0" r="1.05"/><circle cx="167.3" cy="252.5" r="1.05"/><circle cx="166.4" cy="253.9" r="1.05"/><circle cx="166.7" cy="255.3" r="1.05"/><circle cx="166.9" cy="261.4" r="1.05"/><circle cx="222.4" cy="213.9" r="1.05"/><circle cx="222.5" cy="215.4" r="1.05"/><circle cx="221.7" cy="217.0" r="1.05"/><circle cx="222.8" cy="218.5" r="1.05"/><circle cx="222.3" cy="219.6" r="1.05"/><circle cx="161.1" cy="252.7" r="1.05"/><circle cx="161.2" cy="254.4" r="1.05"/><circle cx="160.8" cy="255.8" r="1.05"/><circle cx="160.9" cy="257.0" r="1.05"/><circle cx="223.8" cy="212.1" r="1.05"/><circle cx="223.9" cy="213.3" r="1.05"/><circle cx="224.1" cy="214.6" r="1.05"/><circle cx="224.3" cy="216.3" r="1.05"/><circle cx="223.4" cy="217.6" r="1.05"/><circle cx="224.2" cy="218.8" r="1.05"/><circle cx="224.0" cy="219.9" r="1.05"/><circle cx="216.7" cy="217.3" r="1.05"/><circle cx="217.2" cy="218.8" r="1.05"/><circle cx="216.5" cy="220.3" r="1.05"/><circle cx="216.9" cy="221.6" r="1.05"/><circle cx="216.5" cy="222.7" r="1.05"/><circle cx="244.6" cy="199.0" r="1.05"/><circle cx="244.7" cy="200.4" r="1.05"/><circle cx="244.7" cy="201.9" r="1.05"/><circle cx="244.6" cy="203.6" r="1.05"/><circle cx="244.6" cy="204.9" r="1.05"/><circle cx="244.5" cy="206.2" r="1.05"/><circle cx="248.5" cy="195.9" r="1.05"/><circle cx="248.9" cy="197.1" r="1.05"/><circle cx="248.5" cy="198.7" r="1.05"/><circle cx="248.2" cy="199.8" r="1.05"/><circle cx="248.5" cy="201.5" r="1.05"/><circle cx="176.4" cy="243.5" r="1.05"/><circle cx="176.1" cy="244.7" r="1.05"/><circle cx="176.2" cy="246.3" r="1.05"/><circle cx="176.5" cy="247.6" r="1.05"/><circle cx="176.8" cy="249.1" r="1.05"/><circle cx="176.0" cy="250.7" r="1.05"/><circle cx="128.2" cy="273.6" r="1.05"/><circle cx="128.5" cy="275.0" r="1.05"/><circle cx="128.1" cy="276.3" r="1.05"/><circle cx="127.9" cy="277.4" r="1.05"/><circle cx="220.7" cy="214.9" r="1.05"/><circle cx="220.3" cy="216.4" r="1.05"/><circle cx="220.1" cy="217.8" r="1.05"/><circle cx="219.3" cy="219.5" r="1.05"/><circle cx="195.6" cy="231.1" r="1.05"/><circle cx="195.4" cy="232.4" r="1.05"/><circle cx="195.9" cy="233.9" r="1.05"/><circle cx="195.7" cy="235.5" r="1.05"/><circle cx="195.5" cy="236.6" r="1.05"/><circle cx="195.8" cy="237.8" r="1.05"/><circle cx="150.7" cy="259.6" r="1.05"/><circle cx="150.8" cy="260.7" r="1.05"/><circle cx="150.9" cy="262.2" r="1.05"/><circle cx="150.9" cy="263.8" r="1.05"/><circle cx="149.1" cy="260.6" r="1.05"/><circle cx="149.2" cy="261.7" r="1.05"/><circle cx="149.4" cy="263.0" r="1.05"/><circle cx="136.2" cy="268.3" r="1.05"/><circle cx="135.2" cy="269.5" r="1.05"/><circle cx="136.2" cy="270.8" r="1.05"/><circle cx="135.7" cy="272.1" r="1.05"/><circle cx="135.9" cy="273.4" r="1.05"/><circle cx="233.2" cy="205.9" r="1.05"/><circle cx="233.2" cy="207.5" r="1.05"/><circle cx="233.4" cy="208.7" r="1.05"/><circle cx="233.0" cy="210.0" r="1.05"/><circle cx="228.1" cy="209.6" r="1.05"/><circle cx="227.9" cy="210.9" r="1.05"/><circle cx="227.9" cy="212.2" r="1.05"/><circle cx="228.3" cy="213.8" r="1.05"/><circle cx="228.0" cy="215.5" r="1.05"/><circle cx="225.5" cy="211.5" r="1.05"/><circle cx="225.1" cy="213.2" r="1.05"/><circle cx="225.9" cy="214.6" r="1.05"/><circle cx="225.7" cy="216.1" r="1.05"/><circle cx="134.4" cy="269.4" r="1.05"/><circle cx="134.2" cy="270.9" r="1.05"/><circle cx="134.1" cy="272.4" r="1.05"/><circle cx="130.3" cy="271.4" r="1.05"/><circle cx="130.6" cy="272.6" r="1.05"/><circle cx="130.1" cy="274.2" r="1.05"/><circle cx="131.0" cy="275.5" r="1.05"/><circle cx="161.3" cy="252.5" r="1.05"/><circle cx="161.5" cy="254.2" r="1.05"/><circle cx="161.5" cy="255.6" r="1.05"/><circle cx="161.3" cy="257.0" r="1.05"/><circle cx="161.6" cy="258.6" r="1.05"/><circle cx="182.9" cy="239.8" r="1.05"/><circle cx="183.0" cy="241.4" r="1.05"/><circle cx="182.5" cy="242.9" r="1.05"/><circle cx="183.1" cy="244.1" r="1.05"/><circle cx="168.1" cy="249.0" r="1.05"/><circle cx="168.2" cy="250.5" r="1.05"/><circle cx="168.0" cy="251.8" r="1.05"/><circle cx="247.7" cy="196.2" r="1.05"/><circle cx="247.9" cy="197.7" r="1.05"/><circle cx="247.9" cy="199.3" r="1.05"/><circle cx="247.4" cy="200.4" r="1.05"/><circle cx="248.2" cy="201.6" r="1.05"/><circle cx="248.1" cy="203.2" r="1.05"/><circle cx="247.8" cy="204.6" r="1.05"/><circle cx="126.5" cy="274.5" r="1.05"/><circle cx="126.1" cy="276.0" r="1.05"/><circle cx="125.7" cy="277.7" r="1.05"/><circle cx="126.6" cy="279.3" r="1.05"/><circle cx="125.7" cy="280.4" r="1.05"/><circle cx="169.9" cy="248.1" r="1.05"/><circle cx="169.7" cy="249.3" r="1.05"/><circle cx="169.2" cy="251.0" r="1.05"/><circle cx="171.2" cy="246.9" r="1.05"/><circle cx="171.4" cy="248.4" r="1.05"/><circle cx="171.1" cy="250.0" r="1.05"/><circle cx="171.0" cy="251.5" r="1.05"/><circle cx="138.8" cy="266.5" r="1.05"/><circle cx="138.8" cy="267.6" r="1.05"/><circle cx="138.5" cy="269.1" r="1.05"/><circle cx="138.8" cy="270.3" r="1.05"/><circle cx="201.6" cy="226.7" r="1.05"/><circle cx="202.3" cy="227.8" r="1.05"/><circle cx="201.8" cy="229.5" r="1.05"/><circle cx="202.0" cy="230.7" r="1.05"/><circle cx="202.4" cy="231.8" r="1.05"/><circle cx="190.7" cy="234.2" r="1.05"/><circle cx="190.6" cy="235.7" r="1.05"/><circle cx="191.6" cy="237.1" r="1.05"/><circle cx="190.9" cy="238.6" r="1.05"/><circle cx="191.0" cy="239.8" r="1.05"/><circle cx="191.0" cy="241.3" r="1.05"/><circle cx="190.9" cy="245.8" r="1.05"/><circle cx="126.6" cy="274.1" r="1.05"/><circle cx="126.6" cy="275.4" r="1.05"/><circle cx="126.5" cy="276.6" r="1.05"/><circle cx="128.6" cy="273.3" r="1.05"/><circle cx="128.5" cy="274.7" r="1.05"/><circle cx="128.3" cy="276.4" r="1.05"/><circle cx="128.5" cy="277.8" r="1.05"/><circle cx="193.9" cy="232.1" r="1.05"/><circle cx="193.2" cy="233.4" r="1.05"/><circle cx="193.2" cy="234.9" r="1.05"/><circle cx="193.4" cy="236.4" r="1.05"/><circle cx="193.5" cy="237.5" r="1.05"/><circle cx="248.2" cy="196.6" r="1.05"/><circle cx="248.3" cy="197.8" r="1.05"/><circle cx="248.3" cy="199.4" r="1.05"/><circle cx="160.5" cy="253.3" r="1.05"/><circle cx="160.8" cy="254.6" r="1.05"/><circle cx="161.0" cy="256.1" r="1.05"/><circle cx="161.0" cy="257.3" r="1.05"/><circle cx="196.8" cy="230.6" r="1.05"/><circle cx="196.5" cy="231.8" r="1.05"/><circle cx="196.6" cy="233.0" r="1.05"/><circle cx="196.9" cy="234.2" r="1.05"/><circle cx="196.8" cy="235.8" r="1.05"/><circle cx="196.8" cy="237.3" r="1.05"/><circle cx="129.4" cy="272.6" r="1.05"/><circle cx="129.7" cy="274.1" r="1.05"/><circle cx="129.6" cy="275.3" r="1.05"/><circle cx="171.4" cy="246.3" r="1.05"/><circle cx="171.9" cy="247.9" r="1.05"/><circle cx="171.7" cy="249.6" r="1.05"/><circle cx="171.4" cy="251.1" r="1.05"/><circle cx="172.4" cy="252.6" r="1.05"/><circle cx="202.4" cy="226.3" r="1.05"/><circle cx="202.7" cy="227.9" r="1.05"/><circle cx="203.0" cy="229.2" r="1.05"/><circle cx="202.5" cy="230.6" r="1.05"/><circle cx="233.5" cy="206.0" r="1.05"/><circle cx="234.1" cy="207.4" r="1.05"/><circle cx="233.8" cy="208.7" r="1.05"/><circle cx="233.6" cy="209.8" r="1.05"/><circle cx="191.2" cy="233.6" r="1.05"/><circle cx="191.0" cy="235.0" r="1.05"/><circle cx="191.4" cy="236.4" r="1.05"/><circle cx="128.2" cy="273.6" r="1.05"/><circle cx="128.5" cy="274.9" r="1.05"/><circle cx="127.8" cy="276.4" r="1.05"/><circle cx="128.2" cy="277.5" r="1.05"/><circle cx="175.9" cy="243.8" r="1.05"/><circle cx="175.6" cy="245.2" r="1.05"/><circle cx="175.4" cy="246.9" r="1.05"/><circle cx="175.3" cy="248.5" r="1.05"/><circle cx="175.6" cy="254.6" r="1.05"/><circle cx="198.0" cy="229.2" r="1.05"/><circle cx="197.7" cy="230.6" r="1.05"/><circle cx="198.2" cy="231.9" r="1.05"/><circle cx="197.9" cy="233.2" r="1.05"/><circle cx="198.0" cy="234.8" r="1.05"/><circle cx="141.6" cy="265.5" r="1.05"/><circle cx="141.0" cy="266.6" r="1.05"/><circle cx="141.6" cy="268.2" r="1.05"/><circle cx="245.5" cy="198.0" r="1.05"/><circle cx="246.1" cy="199.4" r="1.05"/><circle cx="246.2" cy="200.6" r="1.05"/><circle cx="246.3" cy="201.8" r="1.05"/><circle cx="246.3" cy="203.0" r="1.05"/><circle cx="190.4" cy="233.9" r="1.05"/><circle cx="191.0" cy="235.2" r="1.05"/><circle cx="190.5" cy="236.6" r="1.05"/><circle cx="191.1" cy="238.0" r="1.05"/><circle cx="190.2" cy="239.5" r="1.05"/><circle cx="147.7" cy="260.9" r="1.05"/><circle cx="148.0" cy="262.3" r="1.05"/><circle cx="148.3" cy="263.7" r="1.05"/><circle cx="238.7" cy="203.2" r="1.05"/><circle cx="238.7" cy="204.9" r="1.05"/><circle cx="238.5" cy="206.2" r="1.05"/><circle cx="238.4" cy="207.5" r="1.05"/><circle cx="237.9" cy="208.7" r="1.05"/><circle cx="238.9" cy="210.1" r="1.05"/><circle cx="238.3" cy="211.4" r="1.05"/><circle cx="195.6" cy="230.7" r="1.05"/><circle cx="196.4" cy="231.8" r="1.05"/><circle cx="196.1" cy="233.3" r="1.05"/><circle cx="195.9" cy="234.6" r="1.05"/><circle cx="195.8" cy="236.3" r="1.05"/><circle cx="196.2" cy="237.5" r="1.05"/><circle cx="135.8" cy="268.9" r="1.05"/><circle cx="136.3" cy="270.0" r="1.05"/><circle cx="135.9" cy="271.4" r="1.05"/><circle cx="170.0" cy="247.6" r="1.05"/><circle cx="170.1" cy="248.8" r="1.05"/><circle cx="170.1" cy="250.0" r="1.05"/><circle cx="170.6" cy="251.5" r="1.05"/><circle cx="169.9" cy="253.1" r="1.05"/><circle cx="170.1" cy="254.3" r="1.05"/><circle cx="206.3" cy="223.6" r="1.05"/><circle cx="206.4" cy="224.8" r="1.05"/><circle cx="206.5" cy="226.4" r="1.05"/><circle cx="207.4" cy="227.5" r="1.05"/><circle cx="242.9" cy="200.1" r="1.05"/><circle cx="242.6" cy="201.7" r="1.05"/><circle cx="242.8" cy="202.8" r="1.05"/><circle cx="230.0" cy="208.2" r="1.05"/><circle cx="230.3" cy="209.3" r="1.05"/><circle cx="230.0" cy="210.5" r="1.05"/><circle cx="230.4" cy="211.9" r="1.05"/><circle cx="230.3" cy="213.2" r="1.05"/><circle cx="229.9" cy="214.5" r="1.05"/><circle cx="175.9" cy="244.0" r="1.05"/><circle cx="175.5" cy="245.2" r="1.05"/><circle cx="175.4" cy="246.6" r="1.05"/><circle cx="175.8" cy="248.2" r="1.05"/><circle cx="167.9" cy="248.8" r="1.05"/><circle cx="168.3" cy="250.1" r="1.05"/><circle cx="167.9" cy="251.4" r="1.05"/><circle cx="168.2" cy="252.6" r="1.05"/><circle cx="168.0" cy="254.2" r="1.05"/><circle cx="247.7" cy="196.4" r="1.05"/><circle cx="247.6" cy="197.6" r="1.05"/><circle cx="247.6" cy="199.2" r="1.05"/><circle cx="247.5" cy="200.7" r="1.05"/><circle cx="247.9" cy="202.2" r="1.05"/><circle cx="247.4" cy="203.4" r="1.05"/><circle cx="248.0" cy="204.9" r="1.05"/><circle cx="154.9" cy="256.4" r="1.05"/><circle cx="154.8" cy="258.1" r="1.05"/><circle cx="155.3" cy="259.5" r="1.05"/><circle cx="188.4" cy="235.6" r="1.05"/><circle cx="188.4" cy="236.7" r="1.05"/><circle cx="188.6" cy="238.2" r="1.05"/><circle cx="187.9" cy="239.6" r="1.05"/><circle cx="188.6" cy="241.2" r="1.05"/><circle cx="188.9" cy="242.3" r="1.05"/><circle cx="193.5" cy="232.4" r="1.05"/><circle cx="193.3" cy="234.0" r="1.05"/><circle cx="193.3" cy="235.2" r="1.05"/><circle cx="148.2" cy="261.5" r="1.05"/><circle cx="147.7" cy="263.1" r="1.05"/><circle cx="147.5" cy="264.3" r="1.05"/><circle cx="148.1" cy="265.6" r="1.05"/><circle cx="148.2" cy="266.8" r="1.05"/><circle cx="200.8" cy="227.6" r="1.05"/><circle cx="201.3" cy="229.2" r="1.05"/><circle cx="201.3" cy="230.4" r="1.05"/><circle cx="201.2" cy="231.7" r="1.05"/><circle cx="201.3" cy="232.8" r="1.05"/><circle cx="200.7" cy="234.3" r="1.05"/><circle cx="242.8" cy="200.0" r="1.05"/><circle cx="243.5" cy="201.4" r="1.05"/><circle cx="243.4" cy="202.6" r="1.05"/><circle cx="242.7" cy="204.3" r="1.05"/><circle cx="243.1" cy="205.7" r="1.05"/><circle cx="221.3" cy="213.8" r="1.05"/><circle cx="221.9" cy="215.0" r="1.05"/><circle cx="221.3" cy="216.2" r="1.05"/><circle cx="221.7" cy="217.3" r="1.05"/><circle cx="221.9" cy="218.6" r="1.05"/><circle cx="137.3" cy="268.0" r="1.05"/><circle cx="137.7" cy="269.6" r="1.05"/><circle cx="137.5" cy="271.0" r="1.05"/><circle cx="196.4" cy="230.8" r="1.05"/><circle cx="196.4" cy="232.4" r="1.05"/><circle cx="195.9" cy="233.8" r="1.05"/><circle cx="200.4" cy="227.8" r="1.05"/><circle cx="200.9" cy="228.9" r="1.05"/><circle cx="200.4" cy="230.4" r="1.05"/><circle cx="163.7" cy="251.4" r="1.05"/><circle cx="163.7" cy="252.6" r="1.05"/><circle cx="163.6" cy="254.2" r="1.05"/><circle cx="163.9" cy="255.8" r="1.05"/><circle cx="163.8" cy="257.1" r="1.05"/><circle cx="218.5" cy="216.2" r="1.05"/><circle cx="218.6" cy="217.8" r="1.05"/><circle cx="218.5" cy="219.3" r="1.05"/><circle cx="218.2" cy="220.7" r="1.05"/><circle cx="218.4" cy="221.9" r="1.05"/><circle cx="252.4" cy="193.8" r="1.05"/><circle cx="252.8" cy="194.9" r="1.05"/><circle cx="252.7" cy="196.3" r="1.05"/><circle cx="252.6" cy="197.9" r="1.05"/><circle cx="252.3" cy="199.5" r="1.05"/><circle cx="252.6" cy="201.2" r="1.05"/><circle cx="252.7" cy="202.3" r="1.05"/><circle cx="212.7" cy="219.6" r="1.05"/><circle cx="212.6" cy="221.0" r="1.05"/><circle cx="213.0" cy="222.7" r="1.05"/><circle cx="213.5" cy="224.0" r="1.05"/><circle cx="135.8" cy="269.0" r="1.05"/><circle cx="135.1" cy="270.3" r="1.05"/><circle cx="135.9" cy="271.5" r="1.05"/><circle cx="201.6" cy="226.9" r="1.05"/><circle cx="200.9" cy="228.5" r="1.05"/><circle cx="202.0" cy="230.0" r="1.05"/><circle cx="201.5" cy="231.5" r="1.05"/><circle cx="201.7" cy="233.1" r="1.05"/><circle cx="171.2" cy="246.8" r="1.05"/><circle cx="171.3" cy="248.4" r="1.05"/><circle cx="172.3" cy="249.5" r="1.05"/><circle cx="171.4" cy="250.6" r="1.05"/><circle cx="178.3" cy="242.2" r="1.05"/><circle cx="178.0" cy="243.7" r="1.05"/><circle cx="178.3" cy="245.4" r="1.05"/><circle cx="177.9" cy="246.7" r="1.05"/><circle cx="178.2" cy="247.8" r="1.05"/><circle cx="177.8" cy="249.0" r="1.05"/><circle cx="178.2" cy="255.2" r="1.05"/><circle cx="144.3" cy="263.1" r="1.05"/><circle cx="144.4" cy="264.6" r="1.05"/><circle cx="144.5" cy="265.9" r="1.05"/><circle cx="144.1" cy="267.5" r="1.05"/><circle cx="144.4" cy="268.8" r="1.05"/><circle cx="254.4" cy="191.7" r="1.05"/><circle cx="254.5" cy="193.2" r="1.05"/><circle cx="254.5" cy="194.3" r="1.05"/><circle cx="254.4" cy="196.0" r="1.05"/><circle cx="168.5" cy="248.1" r="1.05"/><circle cx="168.4" cy="249.6" r="1.05"/><circle cx="168.3" cy="250.9" r="1.05"/><circle cx="168.7" cy="252.5" r="1.05"/><circle cx="137.4" cy="267.4" r="1.05"/><circle cx="137.5" cy="268.9" r="1.05"/><circle cx="137.5" cy="270.2" r="1.05"/><circle cx="145.2" cy="262.9" r="1.05"/><circle cx="145.4" cy="264.2" r="1.05"/><circle cx="144.9" cy="265.5" r="1.05"/><circle cx="145.1" cy="267.0" r="1.05"/><circle cx="145.0" cy="268.2" r="1.05"/><circle cx="176.3" cy="243.2" r="1.05"/><circle cx="175.7" cy="244.5" r="1.05"/><circle cx="176.0" cy="245.8" r="1.05"/><circle cx="176.2" cy="247.0" r="1.05"/><circle cx="176.1" cy="248.2" r="1.05"/><circle cx="243.6" cy="199.4" r="1.05"/><circle cx="244.4" cy="200.5" r="1.05"/><circle cx="244.4" cy="202.2" r="1.05"/><circle cx="243.7" cy="203.6" r="1.05"/><circle cx="243.7" cy="205.0" r="1.05"/><circle cx="243.7" cy="206.2" r="1.05"/><circle cx="243.9" cy="207.4" r="1.05"/><circle cx="244.1" cy="199.0" r="1.05"/><circle cx="244.6" cy="200.3" r="1.05"/><circle cx="244.0" cy="201.8" r="1.05"/><circle cx="244.1" cy="202.9" r="1.05"/><circle cx="236.2" cy="204.0" r="1.05"/><circle cx="236.8" cy="205.2" r="1.05"/><circle cx="236.4" cy="206.7" r="1.05"/><circle cx="236.4" cy="208.2" r="1.05"/><circle cx="189.4" cy="234.8" r="1.05"/><circle cx="189.6" cy="236.2" r="1.05"/><circle cx="189.9" cy="237.3" r="1.05"/><circle cx="189.5" cy="238.6" r="1.05"/><circle cx="189.9" cy="239.9" r="1.05"/><circle cx="190.2" cy="241.5" r="1.05"/><circle cx="200.4" cy="227.5" r="1.05"/><circle cx="200.3" cy="229.0" r="1.05"/><circle cx="200.6" cy="230.1" r="1.05"/><circle cx="200.4" cy="231.6" r="1.05"/><circle cx="215.3" cy="218.0" r="1.05"/><circle cx="214.9" cy="219.6" r="1.05"/><circle cx="215.1" cy="220.7" r="1.05"/><circle cx="214.7" cy="222.0" r="1.05"/><circle cx="215.3" cy="223.3" r="1.05"/><circle cx="215.1" cy="224.5" r="1.05"/><circle cx="219.2" cy="215.9" r="1.05"/><circle cx="218.9" cy="217.4" r="1.05"/><circle cx="219.4" cy="218.8" r="1.05"/><circle cx="218.7" cy="220.3" r="1.05"/><circle cx="219.0" cy="221.8" r="1.05"/><circle cx="172.0" cy="246.7" r="1.05"/><circle cx="171.5" cy="248.3" r="1.05"/><circle cx="171.2" cy="249.6" r="1.05"/><circle cx="171.3" cy="251.2" r="1.05"/><circle cx="171.2" cy="252.8" r="1.05"/><circle cx="171.5" cy="257.3" r="1.05"/><circle cx="139.0" cy="266.4" r="1.05"/><circle cx="138.8" cy="267.6" r="1.05"/><circle cx="138.8" cy="269.2" r="1.05"/><circle cx="138.7" cy="270.6" r="1.05"/><circle cx="139.2" cy="272.1" r="1.05"/><circle cx="181.3" cy="239.9" r="1.05"/><circle cx="181.8" cy="241.4" r="1.05"/><circle cx="181.2" cy="242.8" r="1.05"/><circle cx="181.5" cy="244.1" r="1.05"/><circle cx="181.5" cy="245.5" r="1.05"/><circle cx="150.0" cy="259.9" r="1.05"/><circle cx="150.6" cy="261.1" r="1.05"/><circle cx="150.1" cy="262.4" r="1.05"/><circle cx="150.5" cy="263.8" r="1.05"/><circle cx="150.7" cy="265.0" r="1.05"/><circle cx="190.9" cy="233.9" r="1.05"/><circle cx="191.0" cy="235.4" r="1.05"/><circle cx="191.0" cy="237.1" r="1.05"/><circle cx="190.4" cy="238.3" r="1.05"/><circle cx="190.9" cy="239.6" r="1.05"/><circle cx="191.1" cy="240.7" r="1.05"/><circle cx="131.6" cy="271.3" r="1.05"/><circle cx="131.2" cy="272.5" r="1.05"/><circle cx="131.9" cy="273.9" r="1.05"/><circle cx="141.3" cy="265.6" r="1.05"/><circle cx="141.2" cy="266.9" r="1.05"/><circle cx="140.6" cy="268.4" r="1.05"/><circle cx="140.6" cy="269.9" r="1.05"/><circle cx="220.7" cy="214.1" r="1.05"/><circle cx="221.0" cy="215.5" r="1.05"/><circle cx="220.5" cy="217.2" r="1.05"/><circle cx="220.7" cy="218.7" r="1.05"/><circle cx="220.7" cy="220.0" r="1.05"/><circle cx="220.7" cy="221.4" r="1.05"/><circle cx="148.3" cy="260.6" r="1.05"/><circle cx="149.0" cy="262.3" r="1.05"/><circle cx="148.6" cy="263.6" r="1.05"/><circle cx="148.5" cy="265.3" r="1.05"/><circle cx="148.9" cy="266.5" r="1.05"/><circle cx="126.8" cy="274.0" r="1.05"/><circle cx="126.5" cy="275.2" r="1.05"/><circle cx="126.7" cy="276.7" r="1.05"/><circle cx="240.0" cy="202.3" r="1.05"/><circle cx="239.6" cy="203.7" r="1.05"/><circle cx="239.7" cy="204.9" r="1.05"/><circle cx="239.9" cy="206.1" r="1.05"/><circle cx="229.9" cy="209.0" r="1.05"/><circle cx="229.8" cy="210.4" r="1.05"/><circle cx="229.5" cy="211.9" r="1.05"/><circle cx="229.9" cy="213.3" r="1.05"/><circle cx="229.4" cy="214.8" r="1.05"/><circle cx="127.8" cy="273.4" r="1.05"/><circle cx="127.8" cy="275.0" r="1.05"/><circle cx="128.2" cy="276.4" r="1.05"/><circle cx="128.2" cy="277.9" r="1.05"/><circle cx="160.9" cy="253.0" r="1.05"/><circle cx="160.5" cy="254.6" r="1.05"/><circle cx="161.2" cy="256.2" r="1.05"/><circle cx="127.2" cy="274.1" r="1.05"/><circle cx="127.1" cy="275.5" r="1.05"/><circle cx="126.8" cy="277.0" r="1.05"/><circle cx="127.5" cy="278.5" r="1.05"/><circle cx="127.1" cy="279.6" r="1.05"/><circle cx="241.6" cy="200.1" r="1.05"/><circle cx="242.0" cy="201.7" r="1.05"/><circle cx="242.5" cy="203.2" r="1.05"/><circle cx="242.4" cy="204.6" r="1.05"/><circle cx="241.8" cy="206.3" r="1.05"/><circle cx="241.7" cy="207.9" r="1.05"/><circle cx="193.0" cy="232.4" r="1.05"/><circle cx="193.4" cy="233.6" r="1.05"/><circle cx="192.8" cy="235.2" r="1.05"/><circle cx="192.8" cy="236.7" r="1.05"/><circle cx="193.1" cy="238.2" r="1.05"/><circle cx="257.0" cy="190.4" r="1.05"/><circle cx="256.9" cy="192.0" r="1.05"/><circle cx="257.0" cy="193.2" r="1.05"/><circle cx="256.4" cy="194.8" r="1.05"/><circle cx="175.6" cy="244.0" r="1.05"/><circle cx="175.9" cy="245.2" r="1.05"/><circle cx="176.0" cy="246.3" r="1.05"/><circle cx="176.1" cy="247.9" r="1.05"/><circle cx="217.3" cy="216.9" r="1.05"/><circle cx="217.7" cy="218.1" r="1.05"/><circle cx="217.5" cy="219.7" r="1.05"/></g>
<polyline points="22.92,328.97 25.78,327.75 28.59,326.52 31.35,325.30 34.08,324.07 36.77,322.85 39.42,321.62 42.03,320.40 44.62,319.18 47.17,317.95 49.70,316.73 52.20,315.50 54.68,314.27 57.13,313.05 59.56,311.82 61.97,310.60 64.36,309.38 66.72,308.15 69.07,306.93 71.41,305.70 73.72,304.47 76.02,303.25 78.30,302.02 80.57,300.80 82.83,299.57 85.07,298.35 87.30,297.12 89.51,295.90 91.71,294.68 93.91,293.45 96.09,292.22 98.25,291.00 100.41,289.77 102.56,288.55 104.70,287.32 106.83,286.10 108.95,284.88 111.06,283.65 113.17,282.43 115.26,281.20 117.35,279.98 119.43,278.75 121.50,277.52 123.56,276.30 125.62,275.07 127.67,273.85 129.71,272.62 131.75,271.40 133.78,270.18 135.80,268.95 137.82,267.73 139.83,266.50 141.84,265.27 143.84,264.05 145.83,262.82 147.82,261.60 149.81,260.38 151.79,259.15 153.76,257.93 155.73,256.70 157.70,255.47 159.66,254.25 161.62,253.02 163.57,251.80 165.52,250.57 167.46,249.35 169.40,248.12 171.33,246.90 173.27,245.67 175.19,244.45 177.12,243.22 179.04,242.00 180.96,240.77 182.87,239.55 184.78,238.33 186.68,237.10 188.59,235.88 190.49,234.65 192.38,233.42 194.28,232.20 196.17,230.98 198.06,229.75 199.94,228.52 201.82,227.30 203.70,226.08 205.58,224.85 207.45,223.62 209.32,222.40 211.19,221.18 213.06,219.95 214.92,218.72 216.78,217.50 218.64,216.28 220.49,215.05 222.34,213.83 224.20,212.60 226.04,211.38 227.89,210.15 229.73,208.93 231.58,207.70 233.42,206.48 235.25,205.25 237.09,204.03 238.92,202.80 240.75,201.57 242.58,200.35 244.41,199.12 246.24,197.90 248.06,196.68 249.88,195.45 251.70,194.22 253.52,193.00 255.33,191.78 257.15,190.55 258.96,189.33 260.77,188.10 262.58,186.88 264.39,185.65 266.19,184.43" fill="none" stroke="#000" stroke-width="1.8"/>
<path d="M22.5,177.6V330.5H266.6" fill="none" stroke="#000" stroke-width="1.0"/>
<path d="M22.90,330.0v-2.2M46.08,330.0v-1.2M59.64,330.0v-1.2M69.26,330.0v-1.2M76.72,330.0v-1.2M82.82,330.0v-1.2M87.97,330.0v-1.2M92.44,330.0v-1.2M96.38,330.0v-1.2M99.90,330.0v-2.2M123.08,330.0v-1.2M136.64,330.0v-1.2M146.26,330.0v-1.2M153.72,330.0v-1.2M159.82,330.0v-1.2M164.97,330.0v-1.2M169.44,330.0v-1.2M173.38,330.0v-1.2M176.90,330.0v-2.2M200.08,330.0v-1.2M213.64,330.0v-1.2M223.26,330.0v-1.2M230.72,330.0v-1.2M236.82,330.0v-1.2M241.97,330.0v-1.2M246.44,330.0v-1.2M250.38,330.0v-1.2M253.90,330.0v-2.2M22.9,324.26h1.2M22.9,319.51h1.2M22.9,315.49h1.2M22.9,312.01h1.2M22.9,308.95h1.2M22.9,306.20h2.2M22.9,288.14h1.2M22.9,277.57h1.2M22.9,270.08h1.2M22.9,264.26h1.2M22.9,259.51h1.2M22.9,255.49h1.2M22.9,252.01h1.2M22.9,248.95h1.2M22.9,246.20h2.2M22.9,228.14h1.2M22.9,217.57h1.2M22.9,210.08h1.2M22.9,204.26h1.2M22.9,199.51h1.2M22.9,195.49h1.2M22.9,192.01h1.2M22.9,188.95h1.2M22.9,186.20h2.2" stroke="#000" stroke-width="0.6"/>
<text x="8.94" y="190.80" font-size="8.2" fill="#1a1a1a" textLength="8.21" lengthAdjust="spacingAndGlyphs">10</text>
<text x="18.14" y="187.03" font-size="5.90" fill="#1a1a1a" textLength="2.96" lengthAdjust="spacingAndGlyphs">3</text>
<text x="8.94" y="250.80" font-size="8.2" fill="#1a1a1a" textLength="8.21" lengthAdjust="spacingAndGlyphs">10</text>
<text x="18.14" y="247.03" font-size="5.90" fill="#1a1a1a" textLength="2.96" lengthAdjust="spacingAndGlyphs">2</text>
<text x="8.94" y="310.80" font-size="8.2" fill="#1a1a1a" textLength="8.21" lengthAdjust="spacingAndGlyphs">10</text>
<text x="18.14" y="307.03" font-size="5.90" fill="#1a1a1a" textLength="2.96" lengthAdjust="spacingAndGlyphs">1</text>
<text x="16.60" y="341.20" font-size="8.2" fill="#1a1a1a" textLength="8.03" lengthAdjust="spacingAndGlyphs">10</text>
<text x="25.63" y="337.43" font-size="5.90" fill="#1a1a1a" textLength="2.89" lengthAdjust="spacingAndGlyphs">1</text>
<text x="95.20" y="341.20" font-size="8.2" fill="#1a1a1a" textLength="8.03" lengthAdjust="spacingAndGlyphs">10</text>
<text x="104.23" y="337.43" font-size="5.90" fill="#1a1a1a" textLength="2.89" lengthAdjust="spacingAndGlyphs">2</text>
<text x="172.20" y="341.20" font-size="8.2" fill="#1a1a1a" textLength="8.03" lengthAdjust="spacingAndGlyphs">10</text>
<text x="181.23" y="337.43" font-size="5.90" fill="#1a1a1a" textLength="2.89" lengthAdjust="spacingAndGlyphs">3</text>
<text x="249.20" y="341.20" font-size="8.2" fill="#1a1a1a" textLength="8.03" lengthAdjust="spacingAndGlyphs">10</text>
<text x="258.23" y="337.43" font-size="5.90" fill="#1a1a1a" textLength="2.89" lengthAdjust="spacingAndGlyphs">4</text>
<text transform="translate(8.2,273.0) rotate(-90)" font-size="8.6" fill="#1a1a1a" textLength="45" lengthAdjust="spacingAndGlyphs"># leaves, <tspan font-style="italic">N</tspan><tspan font-size="5.5" font-style="italic" dy="1.8">T</tspan></text>
<text x="107.7" y="344.0" font-size="9.6" fill="#1a1a1a" textLength="63.0" lengthAdjust="spacingAndGlyphs">scaled size (<tspan font-style="italic">S</tspan>/<tspan font-style="italic">L</tspan>)</text>
<line x1="163.9" y1="335.6" x2="168.9" y2="335.6" stroke="#1a1a1a" stroke-width="0.7"/>
<text x="141" y="306.3" font-size="8.6" fill="#1a1a1a" textLength="109.4" lengthAdjust="spacingAndGlyphs"><tspan font-style="italic">N</tspan><tspan font-size="5.2" font-style="italic" dy="1.8">E</tspan><tspan dy="-1.8"> = </tspan><tspan font-style="italic">S</tspan>/<tspan font-style="italic">L</tspan> = <tspan font-style="italic">N</tspan><tspan font-size="5.2" font-style="italic" dy="1.8">T</tspan><tspan dy="-1.8">(2ln(2</tspan><tspan font-style="italic">N</tspan><tspan font-size="5.2" font-style="italic" dy="1.8">T</tspan><tspan dy="-1.8">)+2</tspan><tspan font-style="italic">γ</tspan>-3)</text>
<line x1="168.4" y1="298.0" x2="173.0" y2="298.0" stroke="#1a1a1a" stroke-width="0.7"/>
<line x1="138.2" y1="301.5" x2="105.5" y2="291.2" stroke="#000" stroke-width="0.7"/>
<polygon points="102.8,290.4 107.6,290.3 106.6,293.3" fill="#000"/>
<path d="M59.3,185.6V231.2H139.2" fill="none" stroke="#000" stroke-width="0.6"/>
<path d="M64.60,231.2v-2M75.06,231.2v-1M81.18,231.2v-1M85.52,231.2v-1M88.89,231.2v-1M91.64,231.2v-1M93.97,231.2v-1M95.98,231.2v-1M97.76,231.2v-1M99.35,231.2v-2M109.81,231.2v-1M115.93,231.2v-1M120.27,231.2v-1M123.64,231.2v-1M126.39,231.2v-1M128.72,231.2v-1M130.73,231.2v-1M132.51,231.2v-1M134.10,231.2v-2M59.3,229.12h1M59.3,226.27h1M59.3,224.25h1M59.3,222.68h1M59.3,221.39h1M59.3,220.31h1M59.3,219.37h1M59.3,218.54h1M59.3,217.80h2M59.3,212.92h1M59.3,210.07h1M59.3,208.05h1M59.3,206.48h1M59.3,205.19h1M59.3,204.11h1M59.3,203.17h1M59.3,202.34h1M59.3,201.60h2M59.3,196.72h1M59.3,193.87h1M59.3,191.85h1M59.3,190.28h1M59.3,188.99h1M59.3,187.91h1M59.3,186.97h1M59.3,186.14h1" stroke="#000" stroke-width="0.5"/>
<line x1="64.6" y1="212.3" x2="64.6" y2="220.3" stroke="#0072bd" stroke-width="2.6" stroke-linecap="round"/>
<line x1="75" y1="209.6" x2="75" y2="220.3" stroke="#d95319" stroke-width="2.6" stroke-linecap="round"/>
<line x1="85.4" y1="206.1" x2="85.4" y2="219.6" stroke="#edb120" stroke-width="2.6" stroke-linecap="round"/>
<line x1="95.8" y1="202.6" x2="95.8" y2="219.1" stroke="#7e2f8e" stroke-width="2.6" stroke-linecap="round"/>
<line x1="106.25" y1="198.7" x2="106.25" y2="218" stroke="#77ac30" stroke-width="2.6" stroke-linecap="round"/>
<line x1="116.7" y1="195" x2="116.7" y2="215.2" stroke="#4dbeee" stroke-width="2.6" stroke-linecap="round"/>
<line x1="127.1" y1="191" x2="127.1" y2="211.5" stroke="#a2142f" stroke-width="2.6" stroke-linecap="round"/>
<line x1="137.5" y1="186.9" x2="137.5" y2="208.3" stroke="#0072bd" stroke-width="2.6" stroke-linecap="round"/>
<text x="45.05" y="189.20" font-size="8.4" fill="#1a1a1a" textLength="9.16" lengthAdjust="spacingAndGlyphs">10</text>
<text x="55.20" y="185.34" font-size="6.05" fill="#1a1a1a" textLength="3.30" lengthAdjust="spacingAndGlyphs">3</text>
<text x="45.05" y="220.40" font-size="8.4" fill="#1a1a1a" textLength="9.16" lengthAdjust="spacingAndGlyphs">10</text>
<text x="55.20" y="216.54" font-size="6.05" fill="#1a1a1a" textLength="3.30" lengthAdjust="spacingAndGlyphs">1</text>
<text x="59.60" y="241.80" font-size="8.4" fill="#1a1a1a" textLength="9.16" lengthAdjust="spacingAndGlyphs">10</text>
<text x="69.76" y="237.94" font-size="6.05" fill="#1a1a1a" textLength="3.30" lengthAdjust="spacingAndGlyphs">2</text>
<text x="94.40" y="241.80" font-size="8.4" fill="#1a1a1a" textLength="9.16" lengthAdjust="spacingAndGlyphs">10</text>
<text x="104.56" y="237.94" font-size="6.05" fill="#1a1a1a" textLength="3.30" lengthAdjust="spacingAndGlyphs">3</text>
<text x="129.10" y="241.80" font-size="8.4" fill="#1a1a1a" textLength="9.16" lengthAdjust="spacingAndGlyphs">10</text>
<text x="139.26" y="237.94" font-size="6.05" fill="#1a1a1a" textLength="3.30" lengthAdjust="spacingAndGlyphs">4</text>
<text x="73" y="251.5" font-size="8.6" fill="#1a1a1a" textLength="53.4" lengthAdjust="spacingAndGlyphs">Unscaled Size, S</text>
<text transform="translate(43.4,220.2) rotate(-90)" font-size="7.4" fill="#1a1a1a"># <tspan font-style="italic">N</tspan><tspan font-size="4.6" font-style="italic" dy="1.6">T</tspan></text>
<text x="270.40" y="167.60" font-size="11" text-anchor="start" fill="#000" font-weight="bold">f</text>
<path d="M278.90,176.5V329.6M303.50,176.5V329.6M327.60,176.5V329.6M351.90,176.5V329.6M376.40,176.5V329.6M400.50,176.5V329.6M424.60,176.5V329.6M449.00,176.5V329.6M278.9,176.50H449.00M278.9,198.20H449.00M278.9,220.30H449.00M278.9,245.20H449.00M278.9,264.40H449.00M278.9,286.50H449.00M278.9,308.40H449.00M278.9,329.60H449.00" stroke="#a2a2a2" stroke-width="0.9" fill="none"/>
<rect x="335.5" y="254.5" width="15" height="9" fill="#fff"/>
<rect x="396" y="243.5" width="23" height="9" fill="#fff"/>
<rect x="316.5" y="290" width="20" height="9.5" fill="#fff"/>
<rect x="295" y="183" width="48" height="10" fill="#fff"/>
<rect x="285" y="228" width="15" height="10" fill="#fff"/>
<path d="M355.8,218.5 L360.6,204.5 L361.6,191 L364.8,187.8 L368.4,190.2 L368.4,201 L387.2,188.6 L391.8,190.6 L390.6,195.2 L368.5,208.6 L362.6,219.5" fill="none" stroke="#111" stroke-width="0.85" stroke-dasharray="1.2,1.1"/>
<polyline points="311.1,241.4 315.2,234.3 330.4,225.6 344.9,225.6 358.3,217.9 383.4,217.9" fill="none" stroke="#be1e2d" stroke-width="2.0" stroke-linejoin="round"/>
<polyline points="358.3,217.9 365.2,205.4 365.2,192.2" fill="none" stroke="#be1e2d" stroke-width="2.0" stroke-linejoin="round"/>
<polyline points="365.2,205.4 388.5,192.8" fill="none" stroke="#be1e2d" stroke-width="2.0"/>
<circle cx="311.1" cy="241.4" r="1.5" fill="#be1e2d"/>
<circle cx="315.2" cy="234.3" r="1.5" fill="#be1e2d"/>
<circle cx="330.4" cy="225.6" r="1.5" fill="#be1e2d"/>
<circle cx="344.9" cy="225.6" r="1.5" fill="#be1e2d"/>
<circle cx="383.4" cy="217.9" r="1.5" fill="#be1e2d"/>
<circle cx="365.2" cy="192.2" r="1.5" fill="#be1e2d"/>
<circle cx="388.5" cy="192.8" r="1.5" fill="#be1e2d"/>
<polyline points="311.1,241.4 315.2,234.3 330.4,225.6 344.9,225.6 358.3,217.9 383.4,217.9" fill="none" stroke="#777" stroke-width="0.6" stroke-dasharray="1.4,1.4"/>
<path d="M311.1,241.4 C308,246 304,251 302,257 C300.5,262 300.6,268 300.4,277 C300.2,284 298,287 296,290 C293,294 293,299 292.3,304 C291.5,309 288,314 285,319" fill="none" stroke="#444" stroke-width="1.1" stroke-dasharray="2.6,1.6"/>
<path d="M383.4,217.9 C390,214 395,210 399.3,209.6 L421.6,209.6 C427,211 430,217 434,217.3 L444,217.3" fill="none" stroke="#444" stroke-width="1.1" stroke-dasharray="2.8,1.6"/>
<polygon points="448.20,217.30 443.09,219.58 443.09,215.02" fill="#555"/>
<path d="M399.5,209.8 q0,1.8 3,1.8 h5.7 q2.5,0 2.8,2 q0.3,-2 2.8,-2 h5.7 q3,0 3,-1.8" fill="none" stroke="#000" stroke-width="1.4"/>
<text x="408.6" y="226.0" font-size="8.5" font-style="italic" fill="#1a1a1a">L</text>
<line x1="408.8" y1="217.6" x2="413.0" y2="217.6" stroke="#1a1a1a" stroke-width="0.6"/>
<line x1="300.4" y1="248.5" x2="300.4" y2="260.7" stroke="#000" stroke-width="0.8"/>
<path d="M300.4,251.6 A3.5,3.5 0 0 0 304.2,249.6" fill="none" stroke="#000" stroke-width="0.8"/>
<text x="296.6" y="191.2" font-size="8.8" fill="#1a1a1a" textLength="45.6" lengthAdjust="spacingAndGlyphs">side branch</text>
<line x1="343.6" y1="189.0" x2="359.56" y2="195.14" stroke="#000" stroke-width="0.7"/>
<polygon points="361.80,196.00 358.80,196.16 359.68,193.87" fill="#000"/>
<text x="286.6" y="236.4" font-size="8.8" fill="#1a1a1a" textLength="12.8" lengthAdjust="spacingAndGlyphs">α/2</text>
<line x1="296.6" y1="240.2" x2="300.13" y2="243.73" stroke="#000" stroke-width="0.7"/>
<polygon points="301.60,245.20 299.17,244.27 300.67,242.77" fill="#000"/>
<text x="337" y="263.3" font-size="8.8" fill="#1a1a1a" textLength="12.2" lengthAdjust="spacingAndGlyphs">tail</text>
<line x1="335.1" y1="257.3" x2="317.18" y2="244.96" stroke="#000" stroke-width="0.7"/>
<polygon points="315.20,243.60 318.15,244.15 316.76,246.16" fill="#000"/>
<text x="397.7" y="251.6" font-size="8.8" fill="#1a1a1a" textLength="19.8" lengthAdjust="spacingAndGlyphs">head</text>
<line x1="396.3" y1="243.2" x2="386.31" y2="224.13" stroke="#000" stroke-width="0.7"/>
<polygon points="385.20,222.00 387.55,223.86 385.39,224.99" fill="#000"/>
<text x="318" y="298.3" font-size="8.8" fill="#1a1a1a" textLength="17.3" lengthAdjust="spacingAndGlyphs">path</text>
<line x1="314.5" y1="296.3" x2="299.71" y2="289.95" stroke="#000" stroke-width="0.7"/>
<polygon points="297.50,289.00 300.50,288.96 299.53,291.20" fill="#000"/>
<path d="M278.6,291.5 V329.7 H316.5" fill="none" stroke="#000" stroke-width="1.5"/>
<polygon points="278.60,287.60 280.64,292.17 276.56,292.17" fill="#000"/>
<polygon points="320.40,329.70 315.83,331.74 315.83,327.66" fill="#000"/>
<text x="283.6" y="303.2" font-size="8.8" fill="#1a1a1a">y</text>
<text x="319.4" y="325.6" font-size="8.8" fill="#1a1a1a">x</text>
<text x="453.20" y="167.40" font-size="10.5" text-anchor="start" fill="#000" font-weight="bold">g</text>
<path d="M482.5,176.6V329.6H677.8" fill="none" stroke="#111" stroke-width="1.0"/>
<path d="M482.60,330.1v-2.2M494.35,330.1v-1.2M501.23,330.1v-1.2M506.10,330.1v-1.2M509.89,330.1v-1.2M512.98,330.1v-1.2M515.59,330.1v-1.2M517.86,330.1v-1.2M519.85,330.1v-1.2M521.64,330.1v-2.2M533.39,330.1v-1.2M540.27,330.1v-1.2M545.14,330.1v-1.2M548.93,330.1v-1.2M552.02,330.1v-1.2M554.63,330.1v-1.2M556.90,330.1v-1.2M558.89,330.1v-1.2M560.68,330.1v-2.2M572.43,330.1v-1.2M579.31,330.1v-1.2M584.18,330.1v-1.2M587.97,330.1v-1.2M591.06,330.1v-1.2M593.67,330.1v-1.2M595.94,330.1v-1.2M597.93,330.1v-1.2M599.72,330.1v-2.2M611.47,330.1v-1.2M618.35,330.1v-1.2M623.22,330.1v-1.2M627.01,330.1v-1.2M630.10,330.1v-1.2M632.71,330.1v-1.2M634.98,330.1v-1.2M636.97,330.1v-1.2M638.76,330.1v-2.2M650.51,330.1v-1.2M657.39,330.1v-1.2M662.26,330.1v-1.2M666.05,330.1v-1.2M669.14,330.1v-1.2M671.75,330.1v-1.2M674.02,330.1v-1.2M676.01,330.1v-1.2M677.80,330.1v-2.2M482.6,330.10h2.2M482.6,323.48h1.2M482.6,319.60h1.2M482.6,316.85h1.2M482.6,314.72h1.2M482.6,312.98h1.2M482.6,311.51h1.2M482.6,310.23h1.2M482.6,309.11h1.2M482.6,308.10h2.2M482.6,301.48h1.2M482.6,297.60h1.2M482.6,294.85h1.2M482.6,292.72h1.2M482.6,290.98h1.2M482.6,289.51h1.2M482.6,288.23h1.2M482.6,287.11h1.2M482.6,286.10h2.2M482.6,279.48h1.2M482.6,275.60h1.2M482.6,272.85h1.2M482.6,270.72h1.2M482.6,268.98h1.2M482.6,267.51h1.2M482.6,266.23h1.2M482.6,265.11h1.2M482.6,264.10h2.2M482.6,257.48h1.2M482.6,253.60h1.2M482.6,250.85h1.2M482.6,248.72h1.2M482.6,246.98h1.2M482.6,245.51h1.2M482.6,244.23h1.2M482.6,243.11h1.2M482.6,242.10h2.2M482.6,235.48h1.2M482.6,231.60h1.2M482.6,228.85h1.2M482.6,226.72h1.2M482.6,224.98h1.2M482.6,223.51h1.2M482.6,222.23h1.2M482.6,221.11h1.2M482.6,220.10h2.2M482.6,213.48h1.2M482.6,209.60h1.2M482.6,206.85h1.2M482.6,204.72h1.2M482.6,202.98h1.2M482.6,201.51h1.2M482.6,200.23h1.2M482.6,199.11h1.2M482.6,198.10h2.2M482.6,191.48h1.2M482.6,187.60h1.2M482.6,184.85h1.2M482.6,182.72h1.2M482.6,180.98h1.2M482.6,179.51h1.2M482.6,178.23h1.2M482.6,177.11h1.2M482.6,176.10h2.2" stroke="#000" stroke-width="0.6"/>
<text x="468.41" y="334.50" font-size="7.6" fill="#1a1a1a" textLength="7.10" lengthAdjust="spacingAndGlyphs">10</text>
<text x="476.51" y="331.00" font-size="5.47" fill="#1a1a1a" textLength="4.09" lengthAdjust="spacingAndGlyphs">-1</text>
<text x="469.94" y="312.00" font-size="7.6" fill="#1a1a1a" textLength="7.10" lengthAdjust="spacingAndGlyphs">10</text>
<text x="478.04" y="308.50" font-size="5.47" fill="#1a1a1a" textLength="2.56" lengthAdjust="spacingAndGlyphs">0</text>
<text x="469.94" y="290.00" font-size="7.6" fill="#1a1a1a" textLength="7.10" lengthAdjust="spacingAndGlyphs">10</text>
<text x="478.04" y="286.50" font-size="5.47" fill="#1a1a1a" textLength="2.56" lengthAdjust="spacingAndGlyphs">1</text>
<text x="469.94" y="268.00" font-size="7.6" fill="#1a1a1a" textLength="7.10" lengthAdjust="spacingAndGlyphs">10</text>
<text x="478.04" y="264.50" font-size="5.47" fill="#1a1a1a" textLength="2.56" lengthAdjust="spacingAndGlyphs">2</text>
<text x="469.94" y="246.00" font-size="7.6" fill="#1a1a1a" textLength="7.10" lengthAdjust="spacingAndGlyphs">10</text>
<text x="478.04" y="242.50" font-size="5.47" fill="#1a1a1a" textLength="2.56" lengthAdjust="spacingAndGlyphs">3</text>
<text x="469.94" y="224.00" font-size="7.6" fill="#1a1a1a" textLength="7.10" lengthAdjust="spacingAndGlyphs">10</text>
<text x="478.04" y="220.50" font-size="5.47" fill="#1a1a1a" textLength="2.56" lengthAdjust="spacingAndGlyphs">4</text>
<text x="469.94" y="202.00" font-size="7.6" fill="#1a1a1a" textLength="7.10" lengthAdjust="spacingAndGlyphs">10</text>
<text x="478.04" y="198.50" font-size="5.47" fill="#1a1a1a" textLength="2.56" lengthAdjust="spacingAndGlyphs">5</text>
<text x="469.94" y="180.50" font-size="7.6" fill="#1a1a1a" textLength="7.10" lengthAdjust="spacingAndGlyphs">10</text>
<text x="478.04" y="177.00" font-size="5.47" fill="#1a1a1a" textLength="2.56" lengthAdjust="spacingAndGlyphs">6</text>
<text x="476.80" y="341.40" font-size="7.8" fill="#1a1a1a" textLength="7.46" lengthAdjust="spacingAndGlyphs">10</text>
<text x="485.26" y="337.81" font-size="5.62" fill="#1a1a1a" textLength="2.69" lengthAdjust="spacingAndGlyphs">0</text>
<text x="515.84" y="341.40" font-size="7.8" fill="#1a1a1a" textLength="7.46" lengthAdjust="spacingAndGlyphs">10</text>
<text x="524.30" y="337.81" font-size="5.62" fill="#1a1a1a" textLength="2.69" lengthAdjust="spacingAndGlyphs">1</text>
<text x="554.88" y="341.40" font-size="7.8" fill="#1a1a1a" textLength="7.46" lengthAdjust="spacingAndGlyphs">10</text>
<text x="563.34" y="337.81" font-size="5.62" fill="#1a1a1a" textLength="2.69" lengthAdjust="spacingAndGlyphs">2</text>
<text x="593.92" y="341.40" font-size="7.8" fill="#1a1a1a" textLength="7.46" lengthAdjust="spacingAndGlyphs">10</text>
<text x="602.38" y="337.81" font-size="5.62" fill="#1a1a1a" textLength="2.69" lengthAdjust="spacingAndGlyphs">3</text>
<text x="632.96" y="341.40" font-size="7.8" fill="#1a1a1a" textLength="7.46" lengthAdjust="spacingAndGlyphs">10</text>
<text x="641.42" y="337.81" font-size="5.62" fill="#1a1a1a" textLength="2.69" lengthAdjust="spacingAndGlyphs">4</text>
<text x="672.00" y="341.40" font-size="7.8" fill="#1a1a1a" textLength="7.46" lengthAdjust="spacingAndGlyphs">10</text>
<text x="680.46" y="337.81" font-size="5.62" fill="#1a1a1a" textLength="2.69" lengthAdjust="spacingAndGlyphs">5</text>
<text transform="translate(469.4,257.2) rotate(-90)" font-size="8.6" fill="#1a1a1a" textLength="17.6" lengthAdjust="spacingAndGlyphs">MSD</text>
<text x="571" y="343.3" font-size="8.8" fill="#1a1a1a" textLength="18.2" lengthAdjust="spacingAndGlyphs">time</text>
<polyline points="529.61,274.38 530.00,273.97 530.39,273.57 530.78,273.16 531.17,272.76 531.56,272.36 531.95,271.96 532.34,271.56 532.73,271.17 533.12,270.77 533.51,270.38 533.90,269.99 534.29,269.60 534.68,269.21 535.07,268.82 535.46,268.43 535.86,268.05 536.25,267.66 536.64,267.28 537.03,266.90 537.42,266.51 537.81,266.13 538.20,265.75 538.59,265.37 538.98,265.00 539.37,264.62 539.76,264.24 540.15,263.87 540.54,263.49 540.93,263.12 541.32,262.75 541.71,262.38 542.10,262.01 542.49,261.64 542.88,261.27 543.27,260.91 543.66,260.55 544.05,260.18 544.44,259.82 544.83,259.47 545.22,259.11 545.62,258.75 546.01,258.40 546.40,258.05 546.79,257.70 547.18,257.36 547.57,257.01 547.96,256.67 548.35,256.32 548.74,255.98 549.13,255.64 549.52,255.30 549.91,254.97 550.30,254.63 550.69,254.30 551.08,253.96 551.47,253.63 551.86,253.30 552.25,252.97 552.64,252.64 553.03,252.32 553.42,251.99 553.81,251.66 554.20,251.34 554.59,251.02 554.98,250.69 555.38,250.37 555.77,250.05 556.16,249.73 556.55,249.41 556.94,249.09 557.33,248.78 557.72,248.46 558.11,248.15 558.50,247.83 558.89,247.52 559.28,247.21 559.67,246.91 560.06,246.60 560.45,246.30 560.84,246.00 561.23,245.71 561.62,245.41 562.01,245.12 562.40,244.83 562.79,244.54 563.18,244.25 563.57,243.97 563.96,243.69 564.35,243.40 564.74,243.13 565.14,242.85 565.53,242.57 565.92,242.30 566.31,242.02 566.70,241.75 567.09,241.48 567.48,241.22 567.87,240.95 568.26,240.69 568.65,240.43 569.04,240.17 569.43,239.91 569.82,239.65 570.21,239.40 570.60,239.15 570.99,238.90 571.38,238.65 571.77,238.41 572.16,238.16 572.55,237.92 572.94,237.68 573.33,237.44 573.72,237.20 574.11,236.97 574.50,236.73 574.90,236.50 575.29,236.27 575.68,236.03 576.07,235.80 576.46,235.57 576.85,235.34 577.24,235.11 577.63,234.88 578.02,234.65 578.41,234.43 578.80,234.21 579.19,233.98 579.58,233.76 579.97,233.54 580.36,233.32 580.75,233.11 581.14,232.89 581.53,232.67 581.92,232.46 582.31,232.24 582.70,232.03 583.09,231.81 583.48,231.59 583.87,231.37 584.26,231.15 584.66,230.93 585.05,230.71 585.44,230.49 585.83,230.26 586.22,230.03 586.61,229.80 587.00,229.57 587.39,229.34 587.78,229.10 588.17,228.87 588.56,228.63 588.95,228.40 589.34,228.16 589.73,227.92 590.12,227.69 590.51,227.45 590.90,227.21 591.29,226.98 591.68,226.74 592.07,226.51 592.46,226.27 592.85,226.04 593.24,225.81 593.63,225.57 594.02,225.34 594.42,225.11 594.81,224.88 595.20,224.65 595.59,224.42 595.98,224.19 596.37,223.96 596.76,223.74 597.15,223.51 597.54,223.28 597.93,223.05 598.32,222.82 598.71,222.59 599.10,222.36 599.49,222.14 599.88,221.91 600.27,221.68 600.66,221.45 601.05,221.23 601.44,221.00 601.83,220.77 602.22,220.55 602.61,220.32 603.00,220.09 603.39,219.87 603.78,219.64 604.18,219.41 604.57,219.19 604.96,218.96 605.35,218.74 605.74,218.51 606.13,218.29 606.52,218.06 606.91,217.84 607.30,217.61 607.69,217.39 608.08,217.16 608.47,216.94 608.86,216.71 609.25,216.49 609.64,216.26 610.03,216.04 610.42,215.81 610.81,215.59 611.20,215.36 611.59,215.14 611.98,214.91 612.37,214.69 612.76,214.47 613.15,214.24 613.54,214.02 613.94,213.79 614.33,213.57 614.72,213.35 615.11,213.12 615.50,212.90 615.89,212.67 616.28,212.45 616.67,212.23 617.06,212.00 617.45,211.78 617.84,211.55 618.23,211.33 618.62,211.11 619.01,210.88 619.40,210.66 619.79,210.43 620.18,210.21 620.57,209.99 620.96,209.76 621.35,209.54 621.74,209.32 622.13,209.09 622.52,208.87 622.91,208.65 623.30,208.42 623.70,208.20 624.09,207.98 624.48,207.75 624.87,207.53 625.26,207.31 625.65,207.09 626.04,206.86 626.43,206.64 626.82,206.42 627.21,206.20 627.60,205.97 627.99,205.75 628.38,205.53 628.77,205.31 629.16,205.09 629.55,204.86 629.94,204.64 630.33,204.42 630.72,204.20 631.11,203.98 631.50,203.76 631.89,203.53 632.28,203.31 632.67,203.09 633.06,202.87 633.46,202.65 633.85,202.43 634.24,202.20 634.63,201.98 635.02,201.76 635.41,201.54 635.80,201.32 636.19,201.10 636.58,200.88 636.97,200.66 637.36,200.43 637.75,200.21 638.14,199.99 638.53,199.77 638.92,199.55 639.31,199.33 639.70,199.11 640.09,198.89 640.48,198.66 640.87,198.44 641.26,198.22 641.65,198.00 642.04,197.78 642.43,197.56 642.82,197.34 643.22,197.12 643.61,196.90 644.00,196.68 644.39,196.45 644.78,196.23 645.17,196.01 645.56,195.79 645.95,195.57 646.34,195.35 646.73,195.13 647.12,194.91 647.51,194.69 647.90,194.47 648.29,194.25 648.68,194.03 649.07,193.81 649.46,193.58 649.85,193.36 650.24,193.14 650.63,192.92 651.02,192.70 651.41,192.48 651.80,192.26 652.19,192.04 652.58,191.82 652.98,191.60 653.37,191.38 653.76,191.16 654.15,190.94 654.54,190.72 654.93,190.50 655.32,190.28 655.71,190.06 656.10,189.84 656.49,189.62 656.88,189.40 657.27,189.18 657.66,188.96 658.05,188.74 658.44,188.52 658.83,188.30 659.22,188.08 659.61,187.86 660.00,187.64 660.39,187.42 660.78,187.20 661.17,186.98 661.56,186.76 661.95,186.54 662.34,186.32 662.74,186.10 663.13,185.88 663.52,185.66 663.91,185.44 664.30,185.22 664.69,185.00 665.08,184.78 665.47,184.56 665.86,184.34 666.25,184.12 666.64,183.90 667.03,183.69 667.42,183.47 667.81,183.25 668.20,183.03 668.59,182.81 668.98,182.59 669.37,182.37 669.76,182.15 670.15,181.93 670.54,181.71 670.93,181.49 671.32,181.27 671.71,181.06 672.10,180.84 672.50,180.62 672.89,180.40 673.28,180.18 673.67,179.96 674.06,179.74 674.45,179.52 674.84,179.31" fill="none" stroke="#0b6fc0" stroke-width="2.8" stroke-linecap="round"/>
<polyline points="608.86,216.71 609.25,216.49 609.64,216.26 610.03,216.04 610.42,215.81 610.81,215.59 611.20,215.36 611.59,215.14 611.98,214.91 612.37,214.69 612.76,214.47 613.15,214.24 613.54,214.02 613.94,213.79 614.33,213.57 614.72,213.35 615.11,213.12 615.50,212.90 615.89,212.67 616.28,212.45 616.67,212.23 617.06,212.00 617.45,211.78 617.84,211.55 618.23,211.33 618.62,211.11 619.01,210.88 619.40,210.66 619.79,210.43 620.18,210.21 620.57,209.99 620.96,209.76 621.35,209.54 621.74,209.32 622.13,209.09 622.52,208.87 622.91,208.65 623.30,208.42 623.70,208.20 624.09,207.98 624.48,207.75 624.87,207.53 625.26,207.31 625.65,207.09 626.04,206.86 626.43,206.64 626.82,206.42 627.21,206.20 627.60,205.97 627.99,205.75 628.38,205.53 628.77,205.31 629.16,205.09 629.55,204.86 629.94,204.64 630.33,204.42 630.72,204.20 631.11,203.98 631.50,203.76 631.89,203.53 632.28,203.31 632.67,203.09 633.06,202.87 633.46,202.65 633.85,202.43 634.24,202.20 634.63,201.98 635.02,201.76 635.41,201.54 635.80,201.32 636.19,201.10 636.58,200.88 636.97,200.66 637.36,200.43 637.75,200.21 638.14,199.99 638.53,199.77 638.92,199.55 639.31,199.33 639.70,199.11 640.09,198.89 640.48,198.66 640.87,198.44 641.26,198.22 641.65,198.00 642.04,197.78 642.43,197.56 642.82,197.34 643.22,197.12 643.61,196.90 644.00,196.68 644.39,196.45 644.78,196.23 645.17,196.01 645.56,195.79 645.95,195.57 646.34,195.35 646.73,195.13 647.12,194.91 647.51,194.69 647.90,194.47 648.29,194.25 648.68,194.03 649.07,193.81 649.46,193.58 649.85,193.36 650.24,193.14 650.63,192.92 651.02,192.70 651.41,192.48 651.80,192.26 652.19,192.04 652.58,191.82 652.98,191.60 653.37,191.38 653.76,191.16 654.15,190.94 654.54,190.72 654.93,190.50 655.32,190.28 655.71,190.06 656.10,189.84 656.49,189.62 656.88,189.40 657.27,189.18 657.66,188.96 658.05,188.74 658.44,188.52 658.83,188.30 659.22,188.08 659.61,187.86 660.00,187.64 660.39,187.42 660.78,187.20 661.17,186.98 661.56,186.76 661.95,186.54 662.34,186.32 662.74,186.10 663.13,185.88 663.52,185.66 663.91,185.44 664.30,185.22 664.69,185.00 665.08,184.78 665.47,184.56 665.86,184.34 666.25,184.12 666.64,183.90 667.03,183.69 667.42,183.47 667.81,183.25 668.20,183.03 668.59,182.81 668.98,182.59 669.37,182.37 669.76,182.15 670.15,181.93 670.54,181.71 670.93,181.49 671.32,181.27 671.71,181.06 672.10,180.84 672.50,180.62 672.89,180.40 673.28,180.18 673.67,179.96 674.06,179.74 674.45,179.52 674.84,179.31" fill="none" stroke="#0b6fc0" stroke-width="3.2" stroke-linecap="round"/>
<polyline points="647.90,194.47 648.29,194.25 648.68,194.03 649.07,193.81 649.46,193.58 649.85,193.36 650.24,193.14 650.63,192.92 651.02,192.70 651.41,192.48 651.80,192.26 652.19,192.04 652.58,191.82 652.98,191.60 653.37,191.38 653.76,191.16 654.15,190.94 654.54,190.72 654.93,190.50 655.32,190.28 655.71,190.06 656.10,189.84 656.49,189.62 656.88,189.40 657.27,189.18 657.66,188.96 658.05,188.74 658.44,188.52 658.83,188.30 659.22,188.08 659.61,187.86 660.00,187.64 660.39,187.42 660.78,187.20 661.17,186.98 661.56,186.76 661.95,186.54 662.34,186.32 662.74,186.10 663.13,185.88 663.52,185.66 663.91,185.44 664.30,185.22 664.69,185.00 665.08,184.78 665.47,184.56 665.86,184.34 666.25,184.12 666.64,183.90 667.03,183.69 667.42,183.47 667.81,183.25 668.20,183.03 668.59,182.81 668.98,182.59 669.37,182.37 669.76,182.15 670.15,181.93 670.54,181.71 670.93,181.49 671.32,181.27 671.71,181.06 672.10,180.84 672.50,180.62 672.89,180.40 673.28,180.18 673.67,179.96 674.06,179.74 674.45,179.52 674.84,179.31" fill="none" stroke="#0b6fc0" stroke-width="3.8" stroke-linecap="round"/>
<g fill="none" stroke="#1a78cc" stroke-width="0.85"><circle cx="482.60" cy="319.23" r="1.1"/><circle cx="494.35" cy="308.49" r="1.1"/><circle cx="501.23" cy="302.27" r="1.1"/><circle cx="506.10" cy="297.56" r="1.1"/><circle cx="509.89" cy="294.35" r="1.1"/><circle cx="512.98" cy="291.33" r="1.1"/><circle cx="515.59" cy="289.13" r="1.1"/><circle cx="517.86" cy="287.22" r="1.1"/><circle cx="519.85" cy="285.26" r="1.1"/><circle cx="521.64" cy="283.35" r="1.1"/><circle cx="523.26" cy="281.54" r="1.1"/><circle cx="524.73" cy="279.85" r="1.1"/><circle cx="526.09" cy="278.29" r="1.1"/><circle cx="527.34" cy="276.86" r="1.1"/><circle cx="528.51" cy="275.56" r="1.1"/><circle cx="529.61" cy="274.38" r="1.1"/><circle cx="530.64" cy="273.31" r="1.1"/><circle cx="531.61" cy="272.31" r="1.1"/><circle cx="532.52" cy="271.38" r="1.1"/><circle cx="533.39" cy="270.50" r="1.1"/><circle cx="534.22" cy="269.67" r="1.1"/><circle cx="535.01" cy="268.88" r="1.1"/><circle cx="535.76" cy="268.14" r="1.1"/></g>
<line x1="548.97" y1="249.80" x2="679.75" y2="176.10" stroke="#e8141c" stroke-width="2.3" stroke-dasharray="2.5,2.1"/>
<path d="M519.5,282.3 V271.5 H531.8" fill="none" stroke="#000" stroke-width="1.0"/>
<path d="M612.5,211.7 V204.5 H623.8" fill="none" stroke="#000" stroke-width="1.0"/>
<text x="487.3" y="258.2" font-size="9.2" fill="#1a1a1a" textLength="55.8" lengthAdjust="spacingAndGlyphs">superdiffusive</text>
<text x="487.3" y="268.6" font-size="9.2" fill="#1a1a1a" textLength="35" lengthAdjust="spacingAndGlyphs">slope &gt; 1</text>
<text x="571.8" y="199.7" font-size="9.2" fill="#1a1a1a" textLength="32.8" lengthAdjust="spacingAndGlyphs">diffusive</text>
<text x="571.8" y="211.0" font-size="9.2" fill="#1a1a1a" textLength="35.4" lengthAdjust="spacingAndGlyphs">slope = 1</text>
<text x="589.2" y="262.3" font-size="9.2" fill="#1a1a1a" textLength="69.8" lengthAdjust="spacingAndGlyphs">independent of <tspan font-style="italic">S</tspan>:</text>
<text x="558.8" y="292.2" font-size="9" fill="#1a1a1a" textLength="13.2" lengthAdjust="spacingAndGlyphs"><tspan font-style="italic">D</tspan> =</text>
<line x1="573" y1="290.1" x2="664.7" y2="290.1" stroke="#000" stroke-width="0.7"/>
<text x="577.4" y="286.2" font-size="8.6" fill="#1a1a1a" textLength="96.2" lengthAdjust="spacingAndGlyphs"><tspan font-style="italic">ΔL</tspan><tspan font-size="5.4" dy="-3">2</tspan><tspan dy="3">(2</tspan><tspan font-style="italic">k</tspan><tspan font-size="5.4" font-style="italic" dy="1.6">b</tspan><tspan dy="-1.6">+</tspan><tspan font-style="italic">k</tspan><tspan font-size="5.4" font-style="italic" dy="1.6">g</tspan><tspan dy="-1.6">)</tspan><tspan font-size="5.4" dy="-3">2</tspan><tspan dy="3">(1+cos(</tspan><tspan font-style="italic">α</tspan>/2))</text>
<text x="588.8" y="301.4" font-size="8.6" fill="#1a1a1a" textLength="57.2" lengthAdjust="spacingAndGlyphs">8<tspan font-style="italic">k</tspan><tspan font-size="5.4" font-style="italic" dy="1.6">b</tspan><tspan dy="-1.6">(1-cos(</tspan><tspan font-style="italic">α</tspan>/2))</text>
</svg></body></html>
